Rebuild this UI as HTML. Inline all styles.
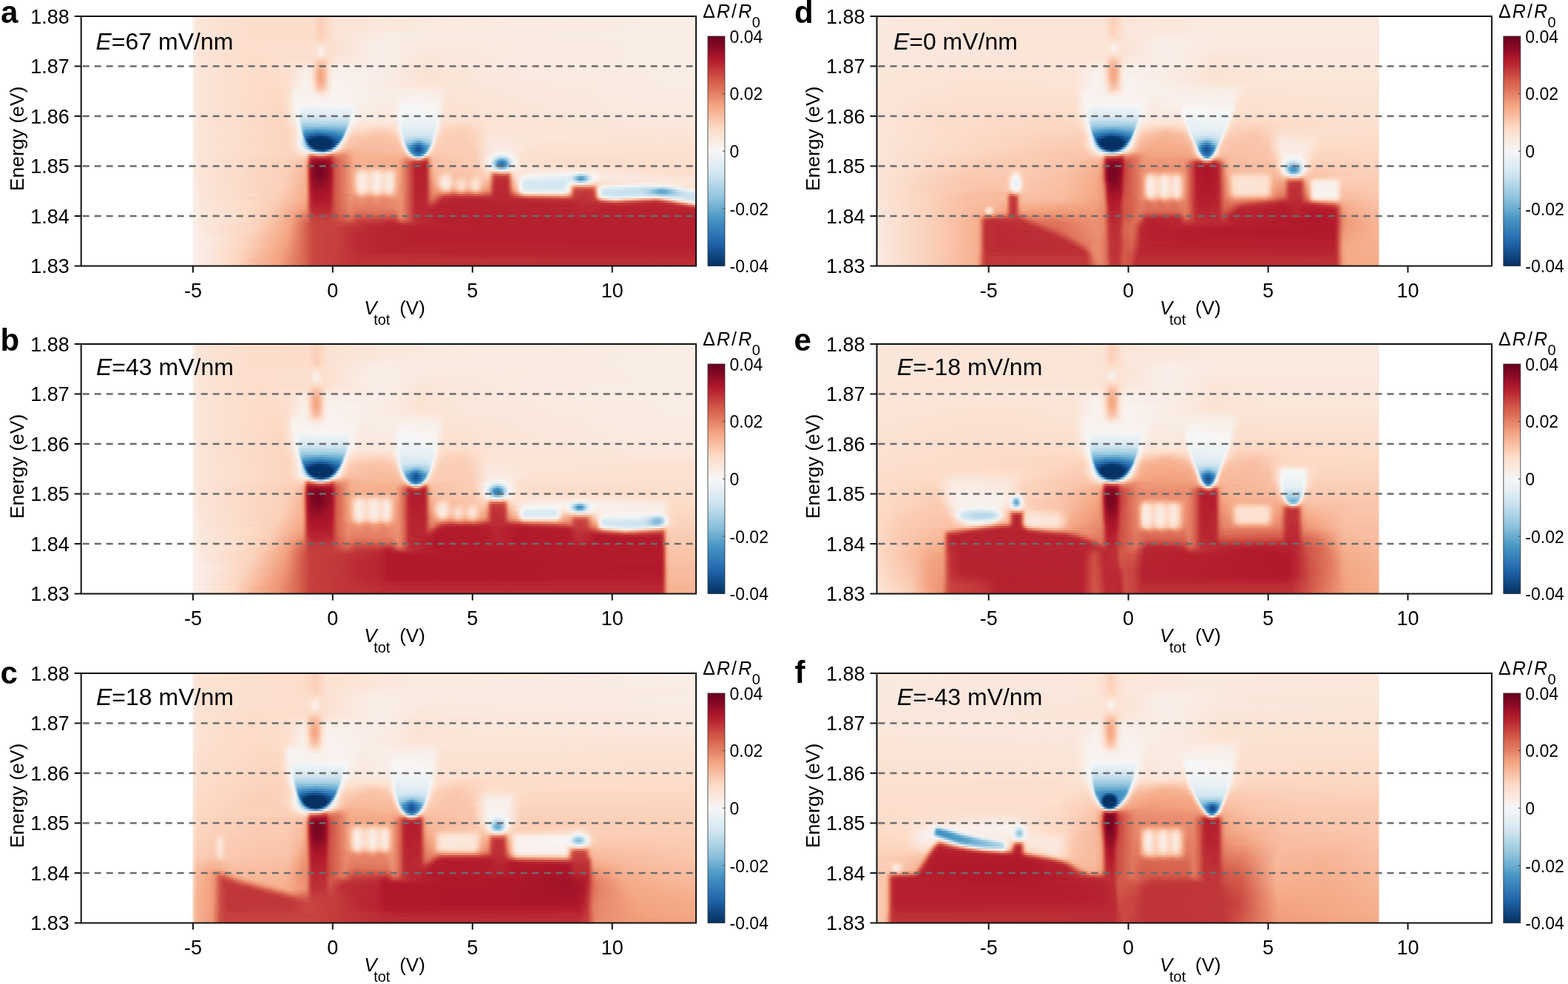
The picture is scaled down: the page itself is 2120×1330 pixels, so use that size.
<!DOCTYPE html>
<html><head><meta charset="utf-8"><title>Figure</title>
<style>
html,body{margin:0;padding:0;background:#fff;}
body{width:2120px;height:1330px;position:relative;overflow:hidden;font-family:'Liberation Sans', Arial, Helvetica, sans-serif;}
.hm{position:absolute;overflow:hidden;}
.hm div{position:absolute;left:0;width:100%;}
svg{position:absolute;left:0;top:0;}
svg text{font-family:'Liberation Sans', Arial, Helvetica, sans-serif;fill:#000;}
</style></head><body>
<div class="hm" style="left:110px;top:22px;width:831px;height:338px">
<div style="top:0px;height:12px;background:linear-gradient(90deg,#fff 0px,#fff 150px,#f9efe9 151px,#fbe5d8 157px,#fcdecd 221px,#fdddcb 313px,#fbceb7 323px,#fdd9c4 332px,#fbe4d6 343px,#fae9df 479px,#f9ede5 831px)"></div>
<div style="top:12px;height:9px;background:linear-gradient(90deg,#fff 0px,#fff 150px,#f9efe9 151px,#fbe5d8 157px,#fcdecd 221px,#fdddcb 313px,#fbceb7 323px,#fdd9c4 332px,#fbe4d6 343px,#fae9df 451px,#f9ede5 831px)"></div>
<div style="top:21px;height:9px;background:linear-gradient(90deg,#fff 0px,#fff 150px,#f9efe9 151px,#fbe5d8 157px,#fcdecd 221px,#fdddcb 313px,#fbcfb8 324px,#fbe4d6 343px,#f9ece4 415px,#f9ebe3 533px,#f9ede5 831px)"></div>
<div style="top:30px;height:3px;background:linear-gradient(90deg,#fff 0px,#fff 150px,#f9efe9 151px,#fbe5d8 157px,#fcdecd 221px,#fdddcb 313px,#fcd5c0 325px,#fcdfcf 335px,#f9eee7 400px,#fae9df 486px,#f9ede5 831px)"></div>
<div style="top:33px;height:3px;background:linear-gradient(90deg,#fff 0px,#fff 150px,#f9efe9 151px,#fbe5d8 157px,#fcdecd 221px,#fdddca 314px,#fdddcb 333px,#fbe4d6 348px,#f9eee8 402px,#fae9df 471px,#f9ede5 831px)"></div>
<div style="top:36px;height:3px;background:linear-gradient(90deg,#fff 0px,#fff 150px,#f9efe9 151px,#fbe5d8 157px,#fcdecd 221px,#fce0cf 320px,#fcdecd 328px,#fce0d0 336px,#f9efe9 402px,#fae9df 459px,#f9ede5 831px)"></div>
<div style="top:39px;height:3px;background:linear-gradient(90deg,#fff 0px,#fff 150px,#f9efe9 151px,#fbe5d8 157px,#fcdecd 221px,#fce0cf 317px,#fae9df 324px,#fcdecd 333px,#fbe6da 362px,#f9efe9 400px,#fae9df 465px,#f9ede5 819px,#f9ede5 831px)"></div>
<div style="top:42px;height:3px;background:linear-gradient(90deg,#fff 0px,#fff 150px,#f9efe9 151px,#fbe5d8 157px,#fcdecd 221px,#fce0d0 316px,#f9efea 324px,#fcdfcf 333px,#f9efe9 400px,#fae8de 471px,#f9ede5 740px,#f9ede5 831px)"></div>
<div style="top:45px;height:6px;background:linear-gradient(90deg,#fff 0px,#fff 150px,#f9efe9 151px,#fbe5d8 157px,#fcdecc 223px,#fce1d2 316px,#f8f1ed 323px,#fbe5d9 329px,#fcdfcf 335px,#f9efe9 399px,#fae8de 465px,#f9ede5 831px)"></div>
<div style="top:51px;height:3px;background:linear-gradient(90deg,#fff 0px,#fff 150px,#f9efe9 151px,#fbe5d8 157px,#fdddcb 232px,#fce0d0 317px,#faeae1 324px,#fcdecd 333px,#fbe6da 356px,#f9efe9 405px,#fae7dc 460px,#f9ede5 797px,#f9ede5 831px)"></div>
<div style="top:54px;height:3px;background:linear-gradient(90deg,#fff 0px,#fff 150px,#f9efe9 151px,#fbe5d8 157px,#fdddcb 232px,#fcdecd 313px,#fcdfcf 327px,#fcdecd 334px,#fbe6da 351px,#f9efe9 409px,#fbe6da 461px,#f9ebe3 635px,#f9ede5 831px)"></div>
<div style="top:57px;height:3px;background:linear-gradient(90deg,#fff 0px,#fff 150px,#f9efe9 151px,#fbe5d8 157px,#fdddcb 232px,#fce2d2 302px,#fdddca 314px,#fcd7c2 326px,#fddcca 333px,#fbe6da 344px,#f9efe9 410px,#fbe6d9 464px,#f9ebe3 613px,#f9ede5 831px)"></div>
<div style="top:60px;height:3px;background:linear-gradient(90deg,#fff 0px,#fff 150px,#f9efe9 151px,#fbe5d8 157px,#fdddcb 232px,#fce1d1 289px,#fce1d2 311px,#facab1 322px,#fbceb7 329px,#fbe6d9 339px,#f9efe9 410px,#fbe5d7 464px,#faeae1 589px,#f9ede5 831px)"></div>
<div style="top:63px;height:3px;background:linear-gradient(90deg,#fff 0px,#fff 150px,#f9efe9 151px,#fbe5d8 157px,#fddcc9 243px,#fce1d2 287px,#fbe5d9 309px,#fdd9c4 315px,#f9c1a6 321px,#f9c2a7 327px,#fbe5d9 337px,#f9ebe3 360px,#f9ede5 419px,#fbe4d6 463px,#faeae1 583px,#f9ede5 831px)"></div>
<div style="top:66px;height:3px;background:linear-gradient(90deg,#fff 0px,#fff 150px,#f9efe9 151px,#fbe5d8 157px,#fddcc9 243px,#fce1d1 284px,#fae8de 308px,#fddcca 314px,#f7b99c 321px,#f8bb9e 327px,#fbe5d7 336px,#f9ece4 345px,#f9ede5 419px,#fbe3d5 463px,#fae7dc 495px,#f9ede5 831px)"></div>
<div style="top:69px;height:3px;background:linear-gradient(90deg,#fff 0px,#fff 150px,#f9efe9 151px,#fbe5d8 157px,#fddcc9 243px,#fce0cf 281px,#f9ebe3 306px,#fce0d0 313px,#f6b394 321px,#f6b394 326px,#fbcdb5 331px,#fbe6d9 336px,#f9eee8 343px,#f9ede5 419px,#fbe3d4 463px,#fae7dc 498px,#f9ede5 831px)"></div>
<div style="top:72px;height:3px;background:linear-gradient(90deg,#fff 0px,#fff 150px,#f9efe9 151px,#fbe5d8 157px,#fddcc9 243px,#fcdfcf 280px,#f9eee8 304px,#fae7dc 311px,#fcd7c2 315px,#f6b293 320px,#f5ab8a 325px,#f9c3a8 330px,#fbe3d5 335px,#f9efea 342px,#f9ebe3 422px,#fbe3d4 463px,#faeae1 585px,#f9ede5 831px)"></div>
<div style="top:75px;height:9px;background:linear-gradient(90deg,#fff 0px,#fff 150px,#f9efe9 151px,#fbe5d8 157px,#fddbc8 249px,#fce0d0 281px,#f8f1ec 304px,#fae9df 311px,#fcd5bf 315px,#f5ad8d 320px,#f4a582 324px,#f6b293 328px,#fce0cf 334px,#f9efea 339px,#f8f0ec 369px,#f9ebe3 422px,#fbe3d4 463px,#fae9e0 589px,#f9ede5 831px)"></div>
<div style="top:84px;height:3px;background:linear-gradient(90deg,#fff 0px,#fff 150px,#f9efe9 151px,#fbe5d8 157px,#fddbc7 250px,#fcdfcf 279px,#f8f2ef 303px,#f9ede6 310px,#fcd7c2 315px,#f6af8f 320px,#f4a784 324px,#f6b394 328px,#fce1d1 334px,#f9f0eb 339px,#f8f3f0 362px,#f9efe9 405px,#fbe3d4 462px,#fae9df 592px,#f9ede5 831px)"></div>
<div style="top:87px;height:3px;background:linear-gradient(90deg,#fff 0px,#fff 150px,#f9efe9 151px,#fbe5d8 157px,#fddbc7 250px,#fcdfcf 280px,#f8f2ef 302px,#f9eee7 310px,#fddac5 315px,#f6b394 320px,#f5aa89 324px,#f8bda1 329px,#fbe6da 335px,#f8f2ef 341px,#f9f0eb 373px,#faeae1 424px,#fbe3d4 463px,#fae9df 585px,#f9ede5 831px)"></div>
<div style="top:90px;height:3px;background:linear-gradient(90deg,#fff 0px,#fff 150px,#f9efe9 151px,#fbe5d8 157px,#fddbc7 250px,#fcdecd 278px,#f8f2ef 302px,#f9eee8 310px,#fddcc8 315px,#f7b89b 320px,#f6b191 324px,#f8bb9e 328px,#fbe3d4 334px,#f8f2ef 340px,#f9f0eb 373px,#faeae0 424px,#fbe4d6 464px,#f9ede5 797px,#f9ede5 831px)"></div>
<div style="top:93px;height:3px;background:linear-gradient(90deg,#fff 0px,#fff 150px,#f9efe9 151px,#fbe5d8 157px,#fddbc7 250px,#fcdfcd 279px,#f8f2ef 301px,#f9efe9 310px,#fdd9c4 316px,#f8bb9e 321px,#f7b99c 326px,#faebe3 336px,#f8f3f0 343px,#f9efe9 377px,#faeae1 423px,#fbe5d9 464px,#f9ece4 831px)"></div>
<div style="top:96px;height:3px;background:linear-gradient(90deg,#fff 0px,#fff 150px,#f9efe9 151px,#fbe5d8 157px,#fddbc7 250px,#fcdecd 278px,#f8f1ec 295px,#f8f1ed 309px,#fdddcb 316px,#f9c3a8 321px,#f9c2a7 326px,#f9eee8 337px,#f8f3f0 347px,#f9efe9 377px,#fae9df 468px,#fbe6da 517px,#f9ebe3 831px)"></div>
<div style="top:99px;height:3px;background:linear-gradient(90deg,#fff 0px,#fff 150px,#f9efe9 151px,#fbe5d8 157px,#fdd9c4 265px,#fce2d2 281px,#f8f1ec 289px,#f8f0eb 310px,#fbceb6 322px,#fbd1ba 327px,#f8f1ed 338px,#f8f1ed 374px,#f9eee7 408px,#f9ede6 431px,#faeae1 485px,#fbe4d7 496px,#f9ebe3 759px,#f9ebe3 831px)"></div>
<div style="top:102px;height:3px;background:linear-gradient(90deg,#fff 0px,#fff 150px,#f9efe9 151px,#fbe5d8 157px,#fdd9c4 265px,#fce0d0 280px,#f8f2ef 289px,#f8f0eb 311px,#fcdbc8 323px,#fae8de 332px,#f8f3f0 341px,#f9f0eb 376px,#f9ece4 425px,#f9ece4 485px,#fbe4d6 495px,#f9ebe3 724px,#f9ebe3 831px)"></div>
<div style="top:105px;height:3px;background:linear-gradient(90deg,#fff 0px,#fff 150px,#f9efe9 151px,#fbe5d8 157px,#fdd9c4 265px,#fce0d0 280px,#f8f3f0 289px,#f9f0eb 313px,#fbe6d9 325px,#f8f3f0 341px,#f9f0eb 376px,#f9ede5 425px,#f9f0eb 477px,#fae9df 487px,#fbe4d6 497px,#f9ebe3 803px,#f9ebe3 831px)"></div>
<div style="top:108px;height:3px;background:linear-gradient(90deg,#fff 0px,#fff 150px,#f9efe9 151px,#fbe5d8 157px,#fdd9c4 265px,#fce0d0 280px,#f8f3f0 289px,#f9f0eb 316px,#f9eee7 328px,#f8f3f0 349px,#f9f0eb 375px,#f9ede5 424px,#f8f1ed 447px,#f9eee7 485px,#fbe4d6 493px,#faebe2 814px,#faebe2 831px)"></div>
<div style="top:111px;height:6px;background:linear-gradient(90deg,#fff 0px,#fff 150px,#f9efe9 151px,#fbe5d8 157px,#fdd8c3 268px,#fce2d2 281px,#f8f3f0 289px,#f8f3f0 334px,#f8f1ed 374px,#f9ede5 391px,#f9ebe3 423px,#f8f2ef 434px,#f9f0eb 484px,#fbe3d4 493px,#faeae1 722px,#faeae1 831px)"></div>
<div style="top:117px;height:3px;background:linear-gradient(90deg,#fff 0px,#fff 150px,#f9efe9 151px,#fbe5d8 157px,#fcd7c2 270px,#fce2d2 281px,#f8f3f0 289px,#f8f3f0 370px,#f9ede5 384px,#f9ebe3 423px,#f7f5f4 433px,#f8f4f1 482px,#fbe2d4 493px,#fae7dc 611px,#faeae1 831px)"></div>
<div style="top:120px;height:3px;background:linear-gradient(90deg,#fff 0px,#fff 150px,#f9efe9 151px,#fbe5d8 157px,#fcd7c2 271px,#fbe4d6 282px,#f8f3f0 289px,#f1f4f6 317px,#f5f6f7 366px,#f9ede5 382px,#faebe3 423px,#f7f6f6 433px,#f8f4f2 482px,#fce2d2 493px,#faeae1 717px,#faeae1 831px)"></div>
<div style="top:123px;height:3px;background:linear-gradient(90deg,#fff 0px,#fff 150px,#f9efe9 151px,#fbe5d8 157px,#fcd7c2 272px,#fbe3d5 282px,#f8f2ef 289px,#f2f5f6 295px,#ecf2f5 307px,#f0f4f6 365px,#f9efea 374px,#faeae1 423px,#f6f7f7 432px,#f8f4f2 482px,#fce2d2 492px,#fae9df 710px,#fae9df 831px)"></div>
<div style="top:126px;height:3px;background:linear-gradient(90deg,#fff 0px,#fff 150px,#f9efe9 151px,#fbe5d8 157px,#fcd7c2 272px,#fbe2d4 282px,#f8f3f0 290px,#f4f5f6 294px,#e6eff4 298px,#e9f0f4 364px,#f8f4f2 368px,#f9ebe3 383px,#fae9df 417px,#f9ede5 425px,#f4f6f6 432px,#f8f5f3 482px,#fce2d2 491px,#fae9df 725px,#fae9df 831px)"></div>
<div style="top:129px;height:3px;background:linear-gradient(90deg,#fff 0px,#fff 150px,#f9efe9 151px,#fbe5d8 157px,#fcd7c2 273px,#fbe4d6 283px,#f8f3f0 290px,#f2f5f6 294px,#e1edf3 298px,#e6eff4 364px,#f8f4f2 368px,#f9ebe3 383px,#fae8de 419px,#f9f0eb 427px,#f3f5f6 431px,#f6f6f7 481px,#fce2d2 491px,#fae9df 735px,#fae9df 831px)"></div>
<div style="top:132px;height:3px;background:linear-gradient(90deg,#fff 0px,#fff 150px,#f9efe9 151px,#fbe5d8 157px,#fcd7c2 273px,#fbe3d4 283px,#f8f3f0 291px,#f0f4f6 294px,#dceaf2 297px,#dfecf3 363px,#f8f5f3 367px,#f9ebe3 381px,#fae8dd 418px,#f9ebe3 425px,#f2f5f6 431px,#f5f6f7 481px,#fce0d0 491px,#fbe6da 595px,#fae9df 831px)"></div>
<div style="top:135px;height:3px;background:linear-gradient(90deg,#fff 0px,#fff 150px,#f9efe9 151px,#fbe5d8 157px,#fcd7c2 272px,#fce2d2 283px,#f6f7f7 293px,#d5e7f1 297px,#d7e8f1 362px,#f7f6f6 366px,#faeae1 379px,#fae9df 424px,#f2f5f6 431px,#f2f5f6 480px,#fce0d0 491px,#fae9de 701px,#fae9de 831px)"></div>
<div style="top:138px;height:3px;background:linear-gradient(90deg,#fff 0px,#fff 150px,#f9efe9 151px,#fbe5d8 157px,#fcd7c2 272px,#fbe2d4 284px,#f7f7f7 293px,#c9e1ee 298px,#cce2ef 361px,#f5f6f7 365px,#faeae0 377px,#fae8dd 424px,#f2f5f6 431px,#ebf1f5 444px,#eef3f5 479px,#f8f3f0 482px,#fce0cf 490px,#fce1d2 527px,#fbe5d8 595px,#fae8de 831px)"></div>
<div style="top:141px;height:3px;background:linear-gradient(90deg,#fff 0px,#fff 150px,#f9efe9 151px,#fbe5d8 157px,#fcd5c0 272px,#fbe3d4 285px,#f3f5f6 294px,#bddbea 298px,#bbdaea 359px,#c8e0ed 361px,#f2f5f6 364px,#fae8de 376px,#fae7db 424px,#f0f4f6 431px,#e9f1f4 440px,#ecf2f5 479px,#f6f7f7 481px,#fce0cf 489px,#fcdecc 522px,#fbe5d8 562px,#fae8dd 831px)"></div>
<div style="top:144px;height:3px;background:linear-gradient(90deg,#fff 0px,#fff 150px,#f9efe9 151px,#fbe5d8 157px,#fcd5c0 273px,#fce0d0 285px,#f4f5f6 294px,#b2d5e7 298px,#a9d1e5 304px,#afd4e6 359px,#b8d8e9 360px,#eef3f5 363px,#f8f2ef 365px,#fbe6da 375px,#fbe5d7 424px,#f2f5f6 431px,#e7eff4 436px,#e9f0f4 478px,#f7f5f4 481px,#fce0cf 488px,#fdd9c4 514px,#fbe4d6 554px,#fae7dc 831px)"></div>
<div style="top:147px;height:3px;background:linear-gradient(90deg,#fff 0px,#fff 150px,#f9efe9 151px,#fbe5d8 157px,#fcd6c1 275px,#fce2d2 287px,#f7f6f6 294px,#dceaf2 296px,#aad1e5 298px,#98c8e0 300px,#93c5de 334px,#9ecbe1 358px,#a9d1e5 359px,#ecf2f5 362px,#f8f1ec 364px,#fbe3d4 373px,#fcdfcf 421px,#fae8de 427px,#f5f6f7 431px,#e5eff4 435px,#e8f0f4 478px,#f5f6f7 480px,#fcdecb 488px,#fcd5bf 514px,#fbe4d6 553px,#fae7dc 831px)"></div>
<div style="top:150px;height:3px;background:linear-gradient(90deg,#fff 0px,#fff 150px,#f9efe9 151px,#fbe5d8 157px,#fcd5c0 276px,#fcdfce 287px,#f4f6f6 295px,#d0e4ef 297px,#acd2e5 298px,#83bcd9 300px,#77b4d5 307px,#6fafd2 327px,#84bcd9 356px,#99c9e0 358px,#eaf1f5 361px,#f7f5f4 362px,#fbe2d4 368px,#fcd7c2 408px,#fce0d0 425px,#f8f1ed 430px,#f7f7f7 431px,#e1edf3 435px,#e3eef3 477px,#f7f7f7 480px,#fcdfcf 486px,#fcd4be 496px,#fcd5c0 524px,#fbe4d6 551px,#fbe6da 831px)"></div>
<div style="top:153px;height:3px;background:linear-gradient(90deg,#fff 0px,#fff 150px,#f9efe9 151px,#fbe5d8 157px,#fcd5c0 278px,#fce0d0 289px,#f7f6f5 295px,#dae9f2 297px,#71b0d3 300px,#5ea4cc 302px,#4795c4 320px,#569fc9 337px,#6daed1 355px,#76b3d4 356px,#8bc1dc 357px,#d0e5ef 359px,#e9f1f4 360px,#f7f4f2 361px,#fbe4d6 365px,#fddac6 372px,#fbcfb8 408px,#fddcc9 425px,#f9ede6 430px,#f2f5f6 432px,#deebf2 435px,#e1edf3 477px,#f8f4f1 480px,#fcdecd 485px,#fbd2bb 494px,#fbd2bb 524px,#fbe3d4 548px,#fbe6da 831px)"></div>
<div style="top:156px;height:3px;background:linear-gradient(90deg,#fff 0px,#fff 150px,#f9efe9 151px,#fbe5d8 157px,#fcd5bf 279px,#fce1d2 290px,#f3f5f6 296px,#e5eff4 297px,#cee3ef 298px,#71b0d3 300px,#509bc8 301px,#4391c2 302px,#2f78b5 319px,#3885bc 335px,#4f9bc7 353px,#64a8ce 355px,#d7e8f1 358px,#eff3f5 359px,#faebe2 361px,#fdd8c3 367px,#fac8af 402px,#fcd3bc 424px,#fae9de 430px,#f6f6f5 432px,#dbeaf2 435px,#dbeaf2 476px,#f6f6f6 479px,#fce2d2 483px,#fbd2bb 490px,#fbceb7 521px,#fbe4d6 551px,#fbe5d9 831px)"></div>
<div style="top:159px;height:3px;background:linear-gradient(90deg,#fff 0px,#fff 150px,#f9efe9 151px,#fbe5d8 157px,#fcd5bf 280px,#fbe3d4 291px,#f4f6f6 296px,#dbeaf2 298px,#b9d9e9 299px,#4e9ac7 301px,#3985bc 302px,#2b73b2 305px,#195696 320px,#2062a5 331px,#3a87bd 350px,#4190c1 353px,#5aa1cb 354px,#bcdaea 356px,#e1edf3 357px,#f5f4f3 358px,#fcdfcf 362px,#fbceb7 368px,#f9c4aa 409px,#fbceb7 425px,#fae9df 431px,#f3f5f6 433px,#d6e7f1 436px,#d3e6f0 472px,#dbeaf2 476px,#f2f5f6 478px,#fce1d2 482px,#fbd1ba 488px,#fbcdb5 521px,#fbe5d8 552px,#fbe5d8 831px)"></div>
<div style="top:162px;height:3px;background:linear-gradient(90deg,#fff 0px,#fff 150px,#f9efe9 151px,#fbe5d8 157px,#fcd5bf 279px,#fbe4d6 291px,#f3f5f6 296px,#cfe4ef 299px,#aad1e5 300px,#408ec0 302px,#2c74b3 303px,#1c5da0 305px,#0a396e 316px,#0a396e 327px,#2469ad 343px,#317bb7 351px,#3a87bd 352px,#579fca 353px,#c9e1ed 355px,#eaf1f5 356px,#f8f2ef 357px,#fcdfcf 360px,#facbb2 366px,#f9c2a7 406px,#fac9b0 425px,#fddac6 429px,#fae9df 432px,#edf2f5 434px,#cde3ef 437px,#bedbeb 458px,#cde3ef 474px,#edf2f5 477px,#faebe3 479px,#fcd6c1 484px,#fbccb4 494px,#fbd0b9 529px,#fbe6d9 551px,#fbe5d8 594px,#fbe4d7 831px)"></div>
<div style="top:165px;height:3px;background:linear-gradient(90deg,#fff 0px,#fff 150px,#f9efe9 151px,#fbe5d8 157px,#fcd5bf 278px,#fbe3d5 290px,#f1f4f6 296px,#d4e6f1 299px,#bddbea 300px,#9ccae1 301px,#3985bc 303px,#2368ac 304px,#175290 305px,#0d3f76 307px,#053162 312px,#073466 333px,#266caf 349px,#307ab6 350px,#4791c2 351px,#76b3d4 352px,#b1d4e7 353px,#dbeaf2 354px,#f2f2f3 355px,#fdddca 359px,#fac9b0 364px,#f9c0a5 397px,#fac7ad 426px,#fdd8c3 430px,#faebe3 433px,#f6f4f3 434px,#bedbeb 438px,#9dcbe1 456px,#bedbeb 473px,#f6f5f4 477px,#fce1d1 480px,#fbd0b9 485px,#facbb3 511px,#fcd3bc 531px,#fae7dc 553px,#fbe5d8 594px,#fbe4d6 831px)"></div>
<div style="top:168px;height:3px;background:linear-gradient(90deg,#fff 0px,#fff 150px,#f9efe9 151px,#fbe5d8 157px,#fcd5bf 278px,#fbe5d7 290px,#f7f6f6 295px,#d4e6f1 299px,#add3e6 301px,#8fc3dd 302px,#3985bc 304px,#2368aa 305px,#0b3b71 307px,#053162 308px,#063264 336px,#1a599a 346px,#2a72b2 348px,#428cc0 349px,#73b1d3 350px,#b1d5e7 351px,#dbe9f1 352px,#f0f2f4 353px,#fbe2d4 356px,#fac9b0 362px,#f8bfa3 385px,#f9c3a8 426px,#fbd0b9 430px,#f9ebe3 434px,#f5f5f4 435px,#b8d8e9 438px,#a9d1e5 440px,#96c7df 447px,#6daed1 454px,#70b0d3 458px,#a2cde3 467px,#aed3e6 472px,#b8d8e9 473px,#f4f5f5 476px,#fce0d0 479px,#fbceb6 485px,#fbccb4 525px,#fae9de 554px,#fae7dc 589px,#fbe3d4 624px,#fbe3d5 831px)"></div>
<div style="top:171px;height:3px;background:linear-gradient(90deg,#fff 0px,#fff 150px,#f9efe9 151px,#fbe5d8 157px,#fcd5bf 278px,#fbe5d8 290px,#f2f5f6 296px,#cae2ee 300px,#8bc0dc 303px,#428fc1 305px,#2b73b2 306px,#0d4077 308px,#063264 309px,#053162 337px,#124983 343px,#2063a4 345px,#307ab6 346px,#5198c6 347px,#b8d8e8 349px,#dbe9f1 350px,#eff2f3 351px,#fbe4d6 354px,#fac9b0 360px,#f8bda1 378px,#f9c1a6 427px,#fbceb6 431px,#faebe2 435px,#f3f3f3 436px,#a5cee3 439px,#8cc1dc 441px,#69abd0 447px,#408dc0 452px,#3885bc 457px,#569fc9 462px,#7fb9d7 467px,#95c6df 471px,#a5cee3 472px,#ddebf2 474px,#f2f4f5 475px,#fcdfcf 478px,#fbceb7 483px,#facbb3 517px,#fcd3bd 533px,#fae9df 553px,#fae7dc 589px,#fbe3d4 621px,#fbe3d4 831px)"></div>
<div style="top:174px;height:3px;background:linear-gradient(90deg,#fff 0px,#fff 150px,#f9efe9 151px,#fbe5d8 157px,#fcd5bf 279px,#fbe6d9 291px,#f0f4f6 297px,#cce3ef 301px,#95c6df 304px,#438ec1 307px,#2e77b4 308px,#08366a 311px,#053061 313px,#053162 337px,#124983 341px,#286eab 343px,#458cc0 344px,#a6cee3 346px,#cde3ee 347px,#e6eff4 348px,#f8f0eb 350px,#fbd0b9 356px,#f9c1a6 363px,#f8bb9e 418px,#f9c2a7 430px,#fcd9c4 434px,#f6f2f0 437px,#e2edf3 438px,#77b4d5 441px,#5da3cc 443px,#2469ac 453px,#2165a8 457px,#4f9bc7 466px,#65a9cf 469px,#76b3d4 470px,#e0ecf3 473px,#f5f3f1 474px,#fcdecc 477px,#fbcdb5 482px,#fbceb6 527px,#faeae1 555px,#fae8de 587px,#fbe2d4 614px,#fbe3d4 831px)"></div>
<div style="top:177px;height:3px;background:linear-gradient(90deg,#fff 0px,#fff 150px,#f9efe9 151px,#fbe5d8 157px,#fcd5bf 280px,#fbe5d8 292px,#f4f5f6 298px,#cee3ef 303px,#8dc1dc 307px,#4790c2 310px,#2366a3 312px,#09386d 315px,#053061 318px,#073467 334px,#114882 337px,#2569a5 339px,#5c9dc9 341px,#cbe2ee 344px,#e4eef4 345px,#faebe2 348px,#facab1 354px,#f8bb9e 362px,#f8bea2 430px,#fbccb4 434px,#fbe3d5 437px,#f9eee8 438px,#ebf1f4 439px,#c9e1ed 440px,#6daed1 442px,#549dc9 443px,#4494c3 444px,#2267ac 451px,#175290 455px,#1a599a 458px,#276eb0 461px,#4494c3 467px,#549dc9 468px,#6daed1 469px,#c7e0ed 471px,#eaf1f5 472px,#f8f0ec 473px,#fce0d0 475px,#fbceb6 480px,#fbceb6 528px,#faeae1 555px,#fae9df 585px,#fce2d2 612px,#fce2d2 831px)"></div>
<div style="top:180px;height:3px;background:linear-gradient(90deg,#fff 0px,#fff 150px,#f9efe9 151px,#fbe5d8 157px,#fcd5bf 282px,#fbe6da 295px,#f0f3f5 302px,#c5dfec 309px,#98c6df 312px,#488abc 316px,#23649d 319px,#114781 326px,#19538d 329px,#3879ae 333px,#5696c5 335px,#d5e6ef 340px,#f1eeed 342px,#fbd5c1 347px,#f7b89b 353px,#f6b293 361px,#f7b89b 381px,#f8bda1 432px,#fbceb7 436px,#fae7dc 439px,#f4f1ef 440px,#dceaf2 441px,#84bbd9 443px,#5fa5cd 444px,#4795c4 445px,#1e5fa3 452px,#175290 455px,#1a599a 458px,#276eb0 461px,#4795c4 466px,#5fa5cd 467px,#dae9f1 470px,#f3f2f1 471px,#fdddcb 474px,#facbb3 479px,#fbcdb5 529px,#f9ece4 557px,#f9ede5 579px,#fce1d1 607px,#fce2d2 831px)"></div>
<div style="top:183px;height:3px;background:linear-gradient(90deg,#fff 0px,#fff 150px,#f9efe9 151px,#fbe5d8 157px,#fcd4be 285px,#fae7dc 299px,#f9eee8 304px,#f9e0d2 310px,#e4e7e9 316px,#a8cde2 326px,#bed8e7 329px,#ede5e0 334px,#f9cdb7 339px,#f3a483 350px,#f2a17f 359px,#f7b799 372px,#f8bb9e 434px,#fbccb4 438px,#fae8de 441px,#f3efed 442px,#e0ecf2 443px,#69abd0 446px,#4a96c5 447px,#337eb8 449px,#1e61a4 455px,#2970b1 460px,#3b88be 463px,#4a96c5 464px,#69abd0 465px,#dfecf2 468px,#f2f0ef 469px,#fcd7c2 473px,#fac9b0 478px,#fbceb7 532px,#f7f4f3 563px,#f8f1ed 578px,#fce0d0 601px,#fce0d0 831px)"></div>
<div style="top:186px;height:3px;background:linear-gradient(90deg,#fff 0px,#fff 150px,#f9efe9 151px,#fbe5d8 157px,#fcd3bd 289px,#fcdfcf 303px,#fcd6c1 305px,#ee9a7b 309px,#e88a6e 311px,#f4b49a 322px,#f4b49a 327px,#e17860 337px,#e98c6f 344px,#e98b6e 355px,#f4a785 364px,#f7b596 372px,#f7b596 437px,#facbb3 441px,#f9ebe3 444px,#eee 445px,#d8e8f0 446px,#70afd2 449px,#4a93c3 451px,#337db8 454px,#337db8 457px,#4a93c3 460px,#70afd2 462px,#d9e8f0 465px,#eeeded 466px,#fbe1d2 468px,#fbceb7 471px,#fac8af 481px,#fbceb6 532px,#f4f5f6 559px,#e4eef3 569px,#f8f3f0 581px,#fce0d0 597px,#fce0d0 831px)"></div>
<div style="top:189px;height:3px;background:linear-gradient(90deg,#fff 0px,#fff 150px,#f9efe9 151px,#fbe5d8 157px,#fbd1ba 294px,#fcd3bc 302px,#f8bda1 305px,#ed9576 307px,#d76351 309px,#ca4841 311px,#c94641 315px,#cb4b44 327px,#c3393b 336px,#d25849 340px,#dd7059 344px,#e8896d 358px,#f6af8f 368px,#f7b495 396px,#f6b191 430px,#f2a382 439px,#f6b395 443px,#f6e3d8 448px,#dae3e7 451px,#b0d2e5 455px,#b9d7e7 457px,#e8e6e5 461px,#f9d0bc 464px,#f5b599 466px,#f3aa8b 468px,#f9c4aa 477px,#fbcdb5 533px,#f9ebe3 550px,#f1f4f6 556px,#bfdceb 567px,#c4dfec 572px,#f7f5f4 583px,#fce2d2 594px,#fcdfce 648px,#fcdfcf 831px)"></div>
<div style="top:192px;height:3px;background:linear-gradient(90deg,#fff 0px,#fff 150px,#f9efe9 151px,#fbe5d8 157px,#fbccb4 299px,#f9c2a7 303px,#f5ac8b 305px,#e27c62 307px,#c84440 309px,#b72330 311px,#ae192c 318px,#b21b2d 336px,#cd4d44 341px,#d86551 345px,#ea8e70 360px,#f5ac8b 367px,#f6b394 381px,#f6af8e 429px,#e68469 441px,#eb9377 449px,#f3b298 455px,#f1a98e 458px,#d86654 464px,#d45c4d 466px,#db6c56 468px,#f5aa89 472px,#f9c0a5 476px,#f9c6ac 492px,#fbcdb5 534px,#fbe6da 547px,#f5f6f6 553px,#cae2ee 559px,#78b5d5 566px,#73b1d3 570px,#97c7df 574px,#dceaf2 580px,#f8f5f3 585px,#fce2d2 594px,#fdddcb 620px,#fcdfcf 831px)"></div>
<div style="top:195px;height:3px;background:linear-gradient(90deg,#fff 0px,#fff 150px,#f9efe9 151px,#fbe5d8 157px,#fbceb6 286px,#f9c3a8 301px,#f8bb9e 303px,#f3a481 305px,#cd4d44 308px,#b51d2d 310px,#9c1127 313px,#900d26 324px,#a01228 335px,#b51e2e 338px,#d15749 343px,#ea8e70 360px,#f5aa89 367px,#f6b191 380px,#f5ac8b 429px,#e37e64 438px,#ca4842 451px,#ca4842 458px,#be2f36 465px,#c53e3d 467px,#e17960 470px,#f5ab8a 473px,#f9c0a5 477px,#f9c6ac 503px,#fbcdb5 535px,#fae9df 548px,#f5f6f7 552px,#cce2ee 557px,#80bad8 561px,#4895c4 564px,#3783bb 567px,#3986bc 571px,#579fca 574px,#bbdaea 579px,#e0ecf3 582px,#f8f4f2 586px,#fce2d2 594px,#fdddcb 617px,#fcdfcd 831px)"></div>
<div style="top:198px;height:3px;background:linear-gradient(90deg,#fff 0px,#fff 150px,#f9efe9 151px,#fbe5d8 157px,#fbd0b9 280px,#f8bfa3 301px,#f5ac8b 304px,#e58267 306px,#c84540 308px,#ba2833 309px,#ae172a 310px,#900d26 313px,#800823 323px,#981027 335px,#b1182b 338px,#cf5347 343px,#e17860 354px,#f5ab8a 368px,#f6b191 384px,#f5ac8b 428px,#ec9374 434px,#bd2e35 450px,#b72330 465px,#c03539 467px,#de725b 470px,#f4a785 473px,#f8bb9e 476px,#f9c4a9 485px,#fbcdb5 536px,#fae9df 548px,#f4f6f6 552px,#d3e6f0 556px,#83bcd9 560px,#4e9ac7 562px,#3783bb 564px,#276fb0 568px,#307ab6 572px,#3f8dc0 574px,#67aacf 576px,#afd4e6 579px,#d3e6f0 581px,#f7f5f4 586px,#fbe3d4 594px,#fcdecb 619px,#fcdecd 831px)"></div>
<div style="top:201px;height:3px;background:linear-gradient(90deg,#fff 0px,#fff 150px,#f9efe9 151px,#fbe5d8 157px,#fbd0b9 279px,#f8bfa4 300px,#f6b394 303px,#ee9777 305px,#c6403e 308px,#b82531 309px,#a9152a 310px,#910d26 312px,#7a0622 321px,#820923 329px,#9b1127 336px,#b72230 339px,#cf5246 343px,#ee9677 362px,#f6af8e 370px,#f6b192 422px,#f3a481 431px,#c13739 448px,#b6202f 452px,#b51d2d 464px,#bf3338 467px,#dd7059 470px,#f4a683 473px,#f8bda0 477px,#f9c4aa 499px,#fbcdb5 537px,#f9eee7 550px,#f2f5f6 553px,#d1e5f0 557px,#83bbd9 561px,#579fca 563px,#3884bb 566px,#3480b9 570px,#4894c4 573px,#83bbd9 576px,#d1e5f0 580px,#f7f6f6 585px,#fbe6da 592px,#fcdfcf 613px,#fcdecb 831px)"></div>
<div style="top:204px;height:3px;background:linear-gradient(90deg,#fff 0px,#fff 150px,#f9efe9 151px,#fbe5d8 157px,#fbd0b9 278px,#f8bb9e 301px,#f4a784 304px,#e27b62 306px,#c53e3d 308px,#b72230 309px,#991027 311px,#800823 316px,#770522 325px,#991027 336px,#ae172a 338px,#cf5246 343px,#ee9677 362px,#f7b99c 374px,#f8bb9e 384px,#f8bb9e 405px,#f7b99c 420px,#f3a481 431px,#c84440 446px,#b61f2e 452px,#b61f2e 465px,#c7433f 468px,#ed9576 472px,#f6b394 475px,#f9c0a5 481px,#facab1 536px,#faeae0 550px,#eff3f5 556px,#c1ddeb 561px,#86bcd9 566px,#7cb6d6 569px,#9ac8e0 573px,#e0ecf3 579px,#f8f4f2 584px,#fbe6da 592px,#fdddcb 831px)"></div>
<div style="top:207px;height:3px;background:linear-gradient(90deg,#fff 0px,#fff 150px,#f9efe9 151px,#fbe5d8 157px,#fbd0b9 277px,#f8bc9f 300px,#f4a683 304px,#e27b62 306px,#c53e3d 308px,#b72230 309px,#991027 311px,#7f0823 316px,#730421 323px,#930e26 335px,#ae172a 338px,#cf5246 343px,#ee9677 362px,#fcd4bf 379px,#f9c6ac 390px,#fcd4bf 400px,#fac7ae 409px,#fbd1ba 417px,#f19e7d 432px,#c84440 446px,#b61f2e 452px,#b41c2d 464px,#bf3338 467px,#d15749 469px,#f2a17f 473px,#f7b89a 477px,#f9c6ac 494px,#fac7ad 532px,#fcd6c1 543px,#fbe5d8 552px,#fae7db 558px,#e7ecef 566px,#e8ecee 572px,#faebe3 581px,#fae7dc 605px,#fae8de 684px,#fce0d0 740px,#fdddcb 831px)"></div>
<div style="top:210px;height:3px;background:linear-gradient(90deg,#fff 0px,#fff 150px,#f9efe9 151px,#fbe5d8 157px,#fbd0b9 276px,#f7b89b 301px,#f3a481 304px,#e27b62 306px,#c53e3d 308px,#b72230 309px,#991027 311px,#800823 316px,#760521 324px,#940e26 335px,#af172a 338px,#cf5246 343px,#ef9979 363px,#f8bda1 370px,#fce0d0 377px,#fce0d0 382px,#fcd3bd 389px,#fcdcc9 395px,#fbe3d5 400px,#fcd5bf 408px,#fce1d2 417px,#fcd4be 421px,#f5ac8b 428px,#ee9677 433px,#c53e3d 447px,#b61f2e 452px,#b61f2e 464px,#bf3338 467px,#db6b55 470px,#f19d7c 473px,#f7b495 477px,#fbceb7 493px,#f9c0a5 507px,#facbb3 539px,#fddcc9 550px,#fbceb6 553px,#f3a889 557px,#f1a789 561px,#f6bba0 568px,#f4af91 577px,#f9c3a8 580px,#fcddcb 583px,#fbe5d8 588px,#f9ece4 617px,#f7f3f0 665px,#f0f2f3 679px,#fae7db 703px,#fcdecb 831px)"></div>
<div style="top:213px;height:3px;background:linear-gradient(90deg,#fff 0px,#fff 150px,#f9efe9 151px,#fbe5d8 157px,#fbd0b9 275px,#f7b799 301px,#f3a481 304px,#e27b62 306px,#c53e3d 308px,#a9152a 310px,#8c0c25 313px,#780522 322px,#8d0c25 333px,#a51429 337px,#b72230 339px,#cf5246 343px,#ef9979 363px,#f7b99c 369px,#fce0d0 375px,#faeae1 380px,#fddac6 389px,#fbe5d8 396px,#fae9df 401px,#fddcc9 408px,#fae8dd 417px,#fddcc9 421px,#f6b191 427px,#eb9172 434px,#c53e3d 447px,#b61f2e 452px,#b61f2e 464px,#bf3338 467px,#da6853 470px,#ef9a79 473px,#f6b192 477px,#fbceb7 487px,#fddbc7 492px,#fbd0b9 498px,#f8bfa4 505px,#fac7ad 529px,#fbd0b9 544px,#fcd3bc 550px,#f9c4a9 552px,#ec9273 555px,#d76350 558px,#d2594b 562px,#d6614f 571px,#d66250 576px,#df755d 578px,#f6af8f 581px,#fcd7c2 584px,#fce2d3 588px,#f9efe9 601px,#f0f4f6 661px,#d0e4ef 669px,#b8d9e9 674px,#bedbea 679px,#f5f5f5 690px,#fae9df 703px,#fcdfcf 831px)"></div>
<div style="top:216px;height:3px;background:linear-gradient(90deg,#fff 0px,#fff 150px,#f9efe9 151px,#fbe5d8 158px,#fbd0b9 274px,#f7b799 301px,#f3a481 304px,#e27b62 306px,#c6413e 308px,#b92631 309px,#ab162a 310px,#8e0d25 313px,#7b0622 323px,#970f27 335px,#b1182b 338px,#cf5246 343px,#ef9979 363px,#f6b394 368px,#fce0cf 374px,#f9ede6 379px,#fddcc9 390px,#f9ede6 400px,#fcdecc 408px,#faebe3 417px,#fddac5 422px,#f6b191 427px,#de735c 439px,#b61f2e 452px,#b72230 465px,#c6413e 468px,#e8896d 472px,#f5ab8a 476px,#fac8af 484px,#fcdfcf 489px,#fce2d2 495px,#f9c1a6 505px,#fac8af 516px,#f9c4aa 525px,#fbd1ba 534px,#facbb3 544px,#fac9b0 550px,#f5ab8a 553px,#d15749 557px,#c63f3d 559px,#c2383a 564px,#c43c3c 575px,#cc4c44 577px,#dc6e58 579px,#f6b192 582px,#fcd5c0 585px,#f7f4f3 597px,#e0ecf3 661px,#c9e1ee 665px,#68abd0 673px,#60a5cd 676px,#71b0d3 679px,#d5e7f1 687px,#f7f6f6 693px,#faeae1 702px,#fbe3d4 831px)"></div>
<div style="top:219px;height:3px;background:linear-gradient(90deg,#fff 0px,#fff 150px,#f9efe9 151px,#fbe5d8 159px,#fbd0b9 273px,#f7b596 301px,#f3a481 304px,#e27c62 306px,#ba2833 309px,#af172a 310px,#910d26 313px,#800823 323px,#9a1027 335px,#b3192c 338px,#cf5246 343px,#f2a17f 365px,#f9c2a7 370px,#fce1d2 374px,#f9eee8 379px,#fbe4d6 385px,#fdddcb 390px,#f9eee8 400px,#fcdecd 409px,#f9ece4 417px,#fce0d0 421px,#f6b191 427px,#de735c 439px,#b61f2e 452px,#b72230 465px,#be3036 467px,#e68569 472px,#f4a784 476px,#f9c1a6 482px,#fbe2d4 488px,#fae8dd 494px,#fdd8c3 500px,#f9c5ab 504px,#fbceb6 510px,#fbd1ba 516px,#f9c5ab 523px,#fddbc8 533px,#f9c6ac 544px,#f8bfa4 550px,#f2a17f 553px,#d6604d 556px,#c13739 559px,#bc2c35 564px,#be3137 575px,#ce5045 578px,#e27b62 580px,#f7b799 583px,#fdd8c3 587px,#f5f6f6 595px,#e5eef4 603px,#dbeaf2 656px,#dceaf2 662px,#c6e0ed 665px,#59a1ca 673px,#4e9ac7 676px,#62a7ce 679px,#d4e6f1 687px,#f8f5f3 693px,#fae8de 701px,#fbe5d8 831px)"></div>
<div style="top:222px;height:3px;background:linear-gradient(90deg,#fff 0px,#fff 150px,#f9efe9 151px,#fbe5d8 159px,#fbd0b9 272px,#f6b394 302px,#f3a481 304px,#e37e64 306px,#c94641 308px,#b1182b 310px,#950f26 313px,#850a24 324px,#a21328 336px,#b31a2c 338px,#cf5246 343px,#f09c7b 364px,#f6b191 368px,#fce2d2 374px,#f9efe9 379px,#fae7dc 384px,#fdddcb 389px,#fbe4d6 394px,#f9efe9 399px,#fae7dc 404px,#fcdecd 409px,#f9ede5 417px,#fddbc7 422px,#f6af8e 427px,#ea8f71 434px,#c13739 448px,#b61f2e 453px,#b72230 465px,#c53e3d 468px,#e58267 472px,#f3a380 476px,#f9c2a7 482px,#fce2d2 487px,#faeae1 492px,#fbe2d4 498px,#fac8af 504px,#fcd3bc 509px,#fddbc8 514px,#fac9b0 523px,#fce1d2 532px,#fddbc7 537px,#f8bfa4 544px,#f7b698 550px,#f4a683 552px,#cb4942 557px,#bd2d35 560px,#bb2a34 574px,#c53d3d 577px,#d55d4c 579px,#f5ae8d 583px,#fbcfb8 587px,#f5f6f7 594px,#dbeaf2 600px,#d6e8f1 654px,#ecf2f5 662px,#d9e9f1 667px,#a6cee3 674px,#aad1e5 678px,#f1f2f3 688px,#fbe3d4 699px,#fae7dc 776px,#fbe6da 831px)"></div>
<div style="top:225px;height:3px;background:linear-gradient(90deg,#fff 0px,#fff 150px,#f9efe9 151px,#fbe6da 158px,#fbd0b9 272px,#f7b596 301px,#f4a583 304px,#e48066 306px,#be2f36 309px,#b41b2d 310px,#9a1027 313px,#8b0c25 323px,#a01228 335px,#b41c2d 338px,#cf5246 343px,#f19f7d 365px,#f9c1a6 370px,#fce2d2 374px,#f9efe9 379px,#fae7dc 384px,#fdddca 389px,#fbe4d6 394px,#f9efe9 399px,#fae7dc 404px,#fcdecd 409px,#f9ede5 417px,#fddbc7 422px,#f7b495 426px,#db6b55 440px,#b72230 452px,#b72330 465px,#be3036 467px,#dd715a 471px,#ef9979 475px,#f7b799 481px,#fdddcb 486px,#faeae0 491px,#fbe5d7 497px,#fac7ae 504px,#fcdecd 513px,#fcd5bf 519px,#facab1 523px,#fbe4d6 532px,#fdddca 537px,#f7b799 545px,#f6af8e 550px,#f19e7d 552px,#c94641 557px,#bd2d35 560px,#ba2832 573px,#c33a3b 577px,#db6c56 580px,#f4a683 583px,#faebe3 592px,#f5f6f7 594px,#d7e8f1 599px,#d3e6f0 652px,#ebf1f5 658px,#f8f1ed 661px,#fae7dc 665px,#f3ece8 678px,#fbe2d5 686px,#fbd4be 694px,#fce1d1 707px,#fae8dd 732px,#f8f0eb 762px,#fbe5d8 822px,#fbe5d8 831px)"></div>
<div style="top:228px;height:3px;background:linear-gradient(90deg,#fff 0px,#fff 150px,#f9efe9 151px,#fbe6da 159px,#fbd0b9 271px,#f6b191 302px,#f4a683 304px,#da6853 307px,#b51e2e 310px,#9e1228 313px,#920e26 324px,#a81529 336px,#bb2a34 339px,#cf5347 343px,#f19e7d 365px,#f7b799 369px,#fce0d0 374px,#f9eee8 379px,#fbe3d5 385px,#fddcc9 390px,#f9eee8 400px,#fcdecc 409px,#f9ece4 417px,#fddac5 422px,#f6b394 426px,#de735c 439px,#b72230 452px,#b72230 464px,#be3036 467px,#e7876b 473px,#f6b191 481px,#fdddcb 487px,#fae8dd 492px,#fce0d0 497px,#f9c3a8 503px,#fbccb4 507px,#fcdecb 512px,#fcd7c2 518px,#fac7ad 523px,#fbe2d4 531px,#fcdecd 536px,#f7b495 544px,#f2a17f 551px,#d86550 555px,#c2383a 558px,#ba2833 561px,#bb2a34 575px,#c84540 578px,#e17a61 581px,#f5a886 584px,#fbd0b9 589px,#f6f6f7 594px,#d7e8f1 599px,#d1e5f0 649px,#ddebf2 655px,#f8f4f1 659px,#fbd1ba 663px,#f6b496 666px,#f3aa8c 670px,#f3ab8e 681px,#f1a283 691px,#f6b394 695px,#fce0d0 700px,#f9eee8 705px,#f2f3f3 732px,#e8f0f4 763px,#f3f2f1 794px,#fbe2d4 820px,#fce1d2 831px)"></div>
<div style="top:231px;height:3px;background:linear-gradient(90deg,#fff 0px,#fff 150px,#f9efe9 151px,#fbe6da 160px,#fbd0b9 270px,#f6b191 302px,#f4a683 304px,#e58368 306px,#c13639 309px,#af172a 311px,#9e1228 315px,#9b1127 328px,#ab162a 336px,#bc2b34 339px,#d35a4a 344px,#f19d7c 365px,#f7b596 369px,#fcdecd 374px,#f9ede5 379px,#fbe4d7 384px,#fddac6 390px,#f9ede5 400px,#fddcc9 409px,#faeae1 417px,#fdddcb 421px,#f6b192 426px,#e17860 438px,#b72230 452px,#b82531 465px,#be3036 467px,#e58267 473px,#f5ac8b 482px,#fcdecc 490px,#fcdecc 495px,#f7b698 503px,#f9c1a6 507px,#fcd7c2 512px,#fbd2bb 517px,#f8bda1 522px,#f9c6ac 526px,#fcdecc 531px,#fcdbc8 535px,#f5ac8b 544px,#ee9777 551px,#dd7059 554px,#c13639 558px,#ba2832 562px,#bb2a34 575px,#c7423f 578px,#de735c 581px,#f2a07e 584px,#fac7ae 589px,#f7f5f4 594px,#dae9f2 599px,#d4e7f1 646px,#ddebf2 654px,#f7f6f5 658px,#fddcc9 661px,#f2a281 664px,#dd715a 667px,#d6614f 671px,#d86451 691px,#e58167 694px,#f5a987 696px,#fce0d0 699px,#f8f3f0 701px,#e3eef3 706px,#d9e9f1 737px,#c6dfed 768px,#a6cfe4 784px,#bbdae9 793px,#edf2f4 806px,#fae8dd 824px,#fbe4d6 831px)"></div>
<div style="top:234px;height:3px;background:linear-gradient(90deg,#fff 0px,#fff 150px,#f9efe9 151px,#fbe6da 160px,#fbd0b9 268px,#f6b191 302px,#f4a683 304px,#e58368 306px,#c2383a 309px,#b1182b 311px,#a11328 316px,#a31329 331px,#b3192c 337px,#d05548 343px,#f2a07e 366px,#f8bfa4 371px,#fce2d2 376px,#fae9df 380px,#fcd3bc 389px,#fcdfcf 395px,#fae9df 400px,#fcd5bf 408px,#fbe6da 417px,#fcd7c2 421px,#f5ae8d 426px,#e58368 436px,#bb2a34 450px,#b6202f 458px,#b82531 465px,#c43b3c 468px,#df755d 472px,#ea8f71 476px,#f4a886 484px,#fac7ae 492px,#f8bfa3 496px,#f2a07f 502px,#f5ab8b 507px,#f9c3a8 513px,#f7b89b 518px,#f4a887 522px,#f6b090 526px,#fac9b0 531px,#f9c6ac 535px,#f1a07f 542px,#e8896c 551px,#d25849 555px,#c03438 558px,#b82531 564px,#bd2d35 576px,#cb4942 579px,#eb9072 584px,#f7b89b 589px,#fbe5d8 593px,#f3f4f5 596px,#e2edf3 602px,#e5eff4 653px,#f7f4f2 657px,#fcdecc 660px,#f3a482 663px,#d7634f 666px,#c84540 669px,#c63f3d 688px,#ce4f45 692px,#db6c56 694px,#f09c7b 696px,#fbe3d4 699px,#f3f5f6 701px,#d7e8f1 704px,#cce2ef 719px,#c5dfec 757px,#a5cfe4 769px,#64a8ce 782px,#62a7ce 788px,#7fb9d7 794px,#cee3ef 807px,#edf2f5 822px,#f4f2f1 831px)"></div>
<div style="top:237px;height:3px;background:linear-gradient(90deg,#fff 0px,#fff 150px,#f9efe9 151px,#fbe6da 161px,#fbd0b9 267px,#f5ac8b 303px,#ef9979 305px,#c33a3b 309px,#b31a2c 311px,#a51429 316px,#aa152a 334px,#b41c2d 337px,#d35a4a 344px,#f4a583 368px,#fcddca 378px,#fcddcb 381px,#f9c4a9 388px,#fac9b0 393px,#fcdfce 399px,#fbd2bb 404px,#f9c5ab 408px,#fcd3bc 413px,#fcdbc8 417px,#fac7ae 421px,#f5a886 426px,#ea8e70 434px,#c2383a 448px,#b82531 452px,#b82531 465px,#c43b3c 468px,#e27c62 473px,#ea8e70 478px,#ed9778 494px,#e0775f 503px,#ea8d70 509px,#ef9a7b 514px,#e37e64 523px,#f09f7f 533px,#e17a61 544px,#dd6f59 551px,#be2f36 558px,#b82531 566px,#bc2b34 576px,#cc4c44 580px,#e27b62 585px,#f3a585 590px,#fbdcca 595px,#f9ece4 599px,#f8efea 653px,#fbe4d6 657px,#fac7ae 660px,#eb9172 663px,#d15648 666px,#c43c3c 669px,#c3393b 689px,#c94641 692px,#d7634f 694px,#ec9374 696px,#fce0d0 699px,#f2f5f6 701px,#d5e7f1 704px,#cae1ee 710px,#c5dfec 757px,#a9d1e4 768px,#62a7ce 782px,#62a7ce 789px,#bad9e9 807px,#d3e6f0 820px,#dae9f2 831px)"></div>
<div style="top:240px;height:3px;background:linear-gradient(90deg,#fff 0px,#fff 150px,#f9efe9 151px,#fbe6da 162px,#fddbc7 233px,#facbb3 271px,#f6af8e 302px,#ee9878 305px,#d05447 308px,#bb2933 310px,#b0172b 312px,#a71429 326px,#b2192b 336px,#d35a4a 344px,#ee9677 366px,#f5ac8b 373px,#f9c2a7 379px,#f4aa89 389px,#f9c2a7 400px,#f5ac8c 409px,#f8bea2 417px,#f19e7d 427px,#ea8e70 434px,#c2383a 448px,#b82531 452px,#b82531 465px,#c43b3c 468px,#e0775f 473px,#e68469 478px,#d55e4e 493px,#cd4d44 504px,#d6614f 514px,#cf5246 524px,#d76251 534px,#d05447 547px,#c94741 553px,#ba2833 559px,#ba2833 576px,#dd715a 590px,#f3ac8f 597px,#f7bca0 604px,#f9c5ab 653px,#f5b192 658px,#e58368 662px,#d15648 665px,#c43c3c 668px,#c03539 682px,#c43b3c 691px,#d35a4a 694px,#e8896c 696px,#f3a583 697px,#fcd9c5 699px,#f7f4f1 701px,#d6e8f1 705px,#cde3ef 728px,#d1e5f0 760px,#b3d6e8 776px,#98c7df 786px,#a8d0e4 797px,#c7e0ed 814px,#cce2ef 831px)"></div>
<div style="top:243px;height:3px;background:linear-gradient(90deg,#fff 0px,#fff 150px,#f9efe9 151px,#fbe6da 162px,#fbd0b9 263px,#f5aa89 303px,#ee9677 305px,#c53e3d 309px,#b61f2e 311px,#ac162a 316px,#b1182b 335px,#be3036 339px,#d05548 343px,#eb9072 363px,#eb9072 370px,#f3a482 378px,#ef9a79 385px,#ea8f71 389px,#f3a482 399px,#ed9475 408px,#ec9374 412px,#f3a381 417px,#eb9172 433px,#c6413e 447px,#b82531 452px,#b82531 465px,#c3393b 468px,#da6a55 472px,#e17a61 476px,#d45d4c 483px,#c3393b 491px,#be3137 507px,#bf3338 552px,#b82531 563px,#bc2b34 580px,#cb4a43 592px,#d76452 600px,#e17860 654px,#d96854 660px,#c3393b 667px,#bf3338 683px,#c2383a 691px,#cd4e45 694px,#dd7059 696px,#f7ba9d 699px,#fbddcd 701px,#f7eee8 703px,#e8f0f4 712px,#e0ecf3 726px,#f3eeeb 760px,#f3e9e4 778px,#d9e9f1 792px,#cae1ee 824px,#cae1ee 831px)"></div>
<div style="top:246px;height:3px;background:linear-gradient(90deg,#fff 0px,#fff 150px,#f9efe9 151px,#fbe5d9 165px,#fbd0b9 261px,#f5ac8b 302px,#f3a380 304px,#e58368 306px,#c53e3d 309px,#b72230 311px,#b0172b 315px,#b41c2d 336px,#d35a4a 344px,#ea8e70 363px,#e8896d 370px,#ec9374 378px,#e8896d 386px,#e7876b 390px,#ec9374 398px,#e98c6f 407px,#e7876b 412px,#ec9374 419px,#eb9172 433px,#c6413e 447px,#b82531 452px,#ba2832 465px,#c2383a 468px,#d86450 472px,#da6a55 476px,#bd2e35 488px,#b82431 499px,#bb2a34 592px,#c03438 611px,#c53e3d 660px,#be3137 674px,#c13639 692px,#ce4f45 696px,#ed977a 701px,#f7bda2 705px,#fae0d3 719px,#fadccd 727px,#f9c9b2 735px,#f7bea4 748px,#f1a78b 756px,#ee9d81 768px,#e78a70 775px,#e99177 780px,#fadac9 794px,#f1efef 804px,#d5e7f1 821px,#cde3ef 831px)"></div>
<div style="top:249px;height:3px;background:linear-gradient(90deg,#fff 0px,#fff 150px,#f9efe9 151px,#fbe6da 164px,#fddbc7 230px,#facab1 268px,#f4a785 303px,#e58368 306px,#c6403e 309px,#b82431 311px,#b2192b 315px,#b41b2d 335px,#bf3338 339px,#d35a4a 344px,#ea8e70 364px,#e6866a 370px,#ea8f71 381px,#e58368 390px,#ea8f71 399px,#e6866a 408px,#e6866a 413px,#eb9072 425px,#ea8f71 433px,#d05548 444px,#b92631 452px,#bb2a34 466px,#d25849 472px,#d05548 476px,#ba2832 486px,#b6212f 523px,#bb2a34 662px,#c13639 696px,#d86553 709px,#e58368 721px,#e07860 728px,#d76352 736px,#d0554a 749px,#c94741 761px,#c2383a 778px,#d1564a 788px,#ea9075 799px,#fad2be 810px,#f4efeb 820px,#e2edf3 831px)"></div>
<div style="top:252px;height:3px;background:linear-gradient(90deg,#fff 0px,#fff 150px,#f9efe9 151px,#fbe6da 164px,#fddbc7 230px,#fac9b0 267px,#f4a482 303px,#ec9273 305px,#c6413e 309px,#b92631 311px,#b41b2d 316px,#b6212f 336px,#d35a4a 344px,#e98b6e 364px,#e68469 370px,#e8896d 383px,#e48066 390px,#e88a6e 399px,#e58368 408px,#e6866a 414px,#eb9172 432px,#d05548 444px,#bb2a34 451px,#b82531 464px,#c33a3b 469px,#c94741 472px,#b72230 486px,#b82431 563px,#b82531 661px,#bd2d35 675px,#bc2c35 706px,#c13739 725px,#b72330 776px,#bf3237 794px,#d0554a 805px,#e98f74 816px,#f9ccb6 826px,#fadaca 831px)"></div>
<div style="top:255px;height:3px;background:linear-gradient(90deg,#fff 0px,#fff 150px,#f9efe9 151px,#fae7dc 162px,#fddcc9 220px,#fbceb7 259px,#f2a07e 303px,#ea8d70 305px,#c7423f 309px,#b72330 312px,#b6212f 335px,#c13639 339px,#d3594a 344px,#e8896d 363px,#e58267 371px,#e58267 385px,#e58267 392px,#e58267 407px,#e58267 414px,#ea8e70 433px,#c33a3b 448px,#b82531 453px,#bb2933 466px,#c2383a 472px,#b72230 483px,#b72230 661px,#bc2c35 675px,#b92631 696px,#b82531 800px,#c53e3d 816px,#e07860 831px)"></div>
<div style="top:258px;height:3px;background:linear-gradient(90deg,#fff 0px,#fff 150px,#f9efe9 151px,#fae7dc 162px,#fddcc9 220px,#fbceb6 258px,#f19e7d 302px,#e8896d 305px,#c84540 309px,#ba2832 312px,#b92732 336px,#d25849 344px,#e7876b 363px,#e37e64 371px,#e27c62 386px,#e37f65 407px,#e48065 415px,#ea8e70 429px,#e98b6e 434px,#bd2d35 450px,#b82531 459px,#bd2d35 472px,#b61f2e 487px,#b82431 662px,#bb2a34 686px,#b6202f 716px,#b82531 816px,#c03539 831px)"></div>
<div style="top:261px;height:3px;background:linear-gradient(90deg,#fff 0px,#fff 150px,#f9efe9 151px,#fae7dc 162px,#fddcc9 220px,#fbceb6 256px,#f09c7b 300px,#e7876b 305px,#c53e3d 310px,#bb2a34 313px,#bb2933 335px,#d25849 345px,#e58267 363px,#e17860 375px,#e27b62 422px,#ea8e70 432px,#dd7059 439px,#bb2a34 451px,#b72330 475px,#b72230 662px,#ba2833 690px,#b61f2e 715px,#b72330 831px)"></div>
<div style="top:264px;height:3px;background:linear-gradient(90deg,#fff 0px,#fff 150px,#f9efe9 151px,#fae7dc 162px,#fddbc7 227px,#f9c6ac 263px,#f19e7d 294px,#e58167 305px,#c33a3b 311px,#bd2e35 316px,#bf3237 336px,#d05447 344px,#e37e64 363px,#dd6f59 374px,#df765e 424px,#ea8d70 432px,#df765e 438px,#ba2833 452px,#b61f2e 509px,#b72330 663px,#b72330 696px,#b6202f 831px)"></div>
<div style="top:267px;height:3px;background:linear-gradient(90deg,#fff 0px,#fff 150px,#f9efe9 151px,#fae7dc 162px,#fddbc7 227px,#f9c5ab 262px,#f19e7d 291px,#e27b62 305px,#c63f3d 311px,#c03438 317px,#c13739 336px,#d25849 348px,#e0775f 363px,#d86450 376px,#d96753 423px,#e8896d 431px,#e27b62 437px,#bc2c35 451px,#b61f2e 494px,#b72330 664px,#b61f2e 831px)"></div>
<div style="top:270px;height:3px;background:linear-gradient(90deg,#fff 0px,#fff 150px,#f9efe9 151px,#fae7dc 162px,#fbd2bb 245px,#f5aa89 283px,#de735c 305px,#c53d3d 312px,#c3393b 336px,#cf5347 347px,#dd7059 363px,#d15749 375px,#d05447 413px,#d05447 423px,#df765e 429px,#e58368 433px,#da6a55 440px,#bb2a34 452px,#b61f2e 496px,#b61f2e 831px)"></div>
<div style="top:273px;height:3px;background:linear-gradient(90deg,#fff 0px,#fff 150px,#f9efe9 151px,#fae7dc 162px,#fddbc7 225px,#f8bfa3 265px,#f09c7b 288px,#d96652 306px,#c84540 311px,#c33a3b 331px,#c94741 340px,#d96652 363px,#cc4b43 373px,#c7423f 409px,#c53d3d 422px,#cf5246 427px,#de725b 432px,#dc6e57 437px,#bc2c35 452px,#b61f2e 492px,#b61f2e 831px)"></div>
<div style="top:276px;height:3px;background:linear-gradient(90deg,#fff 0px,#fff 150px,#f9efe9 151px,#fae8de 161px,#fddcc9 218px,#fac8af 253px,#f4a482 284px,#d7634f 306px,#c84440 312px,#c6413e 337px,#d25849 363px,#c53e3d 374px,#c13739 407px,#bb2a34 419px,#c13739 426px,#d3594a 433px,#cc4b43 441px,#bd2d35 453px,#b61f2e 490px,#b61f2e 831px)"></div>
<div style="top:279px;height:3px;background:linear-gradient(90deg,#fff 0px,#fff 150px,#f9efea 151px,#fae8de 162px,#fcd3bc 239px,#f5a886 281px,#d45b4b 307px,#c94741 312px,#c6413e 337px,#ca4842 346px,#c7433f 365px,#c13639 377px,#bd2d35 408px,#b82431 422px,#c43b3c 435px,#b92631 461px,#b61f2e 519px,#b61f2e 831px)"></div>
<div style="top:282px;height:3px;background:linear-gradient(90deg,#fff 0px,#fff 150px,#f9f0eb 151px,#fae8de 161px,#fcd4be 235px,#f5aa89 279px,#d65f4d 306px,#c94741 312px,#c6413e 337px,#c84440 349px,#bd2e35 384px,#b92732 410px,#b92631 429px,#b61f2e 611px,#b61f2e 831px)"></div>
<div style="top:285px;height:6px;background:linear-gradient(90deg,#fff 0px,#fff 150px,#f9f0eb 151px,#fae8de 163px,#fcd3bd 233px,#f4a784 280px,#d05548 308px,#c84440 315px,#c84440 339px,#c2383a 357px,#bb2b34 386px,#b82531 411px,#b6202f 461px,#b61f2e 831px)"></div>
<div style="top:291px;height:6px;background:linear-gradient(90deg,#fff 0px,#fff 150px,#f9f0eb 151px,#fae7dc 169px,#fcd4be 229px,#f4a481 280px,#d05548 308px,#c84540 315px,#c6403e 348px,#bb2a34 374px,#b82531 411px,#b61f2e 463px,#b61f2e 831px)"></div>
<div style="top:297px;height:6px;background:linear-gradient(90deg,#fff 0px,#fff 150px,#f9f0eb 151px,#fce0d0 196px,#fbd1bb 228px,#f3a380 279px,#d05548 308px,#c94741 314px,#c53e3d 349px,#bb2a34 372px,#b82531 411px,#b61f2e 463px,#b61f2e 831px)"></div>
<div style="top:303px;height:6px;background:linear-gradient(90deg,#fff 0px,#fff 150px,#f9f0eb 151px,#fce2d2 193px,#fbd1bb 225px,#f2a17f 278px,#d05548 308px,#c94741 314px,#c53e3d 349px,#bb2a34 372px,#b82531 411px,#b61f2e 472px,#b61f2e 831px)"></div>
<div style="top:309px;height:6px;background:linear-gradient(90deg,#fff 0px,#fff 150px,#f9f0eb 151px,#fcd6c0 218px,#f6b495 256px,#f09d7c 278px,#d05548 308px,#c94741 314px,#c53e3d 348px,#bb2a34 373px,#b82531 411px,#b6212f 831px)"></div>
<div style="top:315px;height:6px;background:linear-gradient(90deg,#fff 0px,#fff 150px,#f9f0eb 151px,#fcd6c0 215px,#f7b698 248px,#f2a07e 274px,#d25849 307px,#c94741 314px,#c53e3d 348px,#bc2b34 374px,#b82431 415px,#b72330 831px)"></div>
<div style="top:321px;height:6px;background:linear-gradient(90deg,#fff 0px,#fff 150px,#f9f0eb 151px,#fcd8c3 211px,#f7b799 243px,#f2a17f 271px,#d65f4d 305px,#c94741 313px,#c43d3c 348px,#bd2f36 376px,#ba2833 541px,#ba2833 831px)"></div>
<div style="top:327px;height:9px;background:linear-gradient(90deg,#fff 0px,#fff 150px,#f9f0eb 151px,#fdd8c4 208px,#f7b799 238px,#f3a280 268px,#d7634f 303px,#c94741 314px,#c43b3c 350px,#bf3237 371px,#bc2d35 831px)"></div>
<div style="top:336px;height:2px;background:linear-gradient(90deg,#fff 0px,#fff 150px,#f9f0eb 151px,#fddbc7 205px,#f7b99c 232px,#f4a785 263px,#e6866a 284px,#d55d4c 305px,#c94741 314px,#c43b3c 350px,#bf3338 369px,#bd2d35 753px,#bd2d35 831px)"></div>
</div>
<div class="hm" style="left:110px;top:465px;width:831px;height:338px">
<div style="top:0px;height:12px;background:linear-gradient(90deg,#fff 0px,#fff 150px,#f9efe9 151px,#fbe5d8 157px,#fcdecd 221px,#fddcc9 307px,#fbceb7 317px,#fcd7c2 324px,#fbe3d4 335px,#fae9df 464px,#f9ede5 831px)"></div>
<div style="top:12px;height:9px;background:linear-gradient(90deg,#fff 0px,#fff 150px,#f9efe9 151px,#fbe5d8 157px,#fcdecd 221px,#fddcc9 307px,#fbceb7 317px,#fdd9c4 325px,#fbe3d4 336px,#fae9df 442px,#f9ede5 831px)"></div>
<div style="top:21px;height:6px;background:linear-gradient(90deg,#fff 0px,#fff 150px,#f9efe9 151px,#fbe5d8 157px,#fcdecd 221px,#fddcc9 307px,#fbd0b9 319px,#fbe3d4 335px,#faebe3 414px,#f9ebe3 533px,#f9ede5 831px)"></div>
<div style="top:27px;height:3px;background:linear-gradient(90deg,#fff 0px,#fff 150px,#f9efe9 151px,#fbe5d8 157px,#fcdecd 221px,#fddcc8 308px,#fcd4be 319px,#fbe3d4 337px,#f9ede6 407px,#fae9df 475px,#f9ede5 831px)"></div>
<div style="top:30px;height:3px;background:linear-gradient(90deg,#fff 0px,#fff 150px,#f9efe9 151px,#fbe5d8 157px,#fcdecd 221px,#fddbc8 309px,#fddcca 326px,#fbe4d6 343px,#f9eee7 405px,#fae9df 470px,#f9ede5 831px)"></div>
<div style="top:33px;height:3px;background:linear-gradient(90deg,#fff 0px,#fff 150px,#f9efe9 151px,#fbe5d8 157px,#fcdecd 221px,#fcdfcd 315px,#fcdfcf 329px,#f9eee7 396px,#fae9df 488px,#f9ede5 831px)"></div>
<div style="top:36px;height:3px;background:linear-gradient(90deg,#fff 0px,#fff 150px,#f9efe9 151px,#fbe5d8 157px,#fcdecd 221px,#fce0d0 312px,#fbe6da 319px,#fcdfce 327px,#f9efe9 400px,#fae9df 457px,#f9ede5 831px)"></div>
<div style="top:39px;height:3px;background:linear-gradient(90deg,#fff 0px,#fff 150px,#f9efe9 151px,#fbe5d8 157px,#fcdecd 221px,#fce0cf 310px,#f9ede6 318px,#fcdfcf 327px,#f9ebe3 377px,#f9ede5 418px,#fae9df 496px,#f9ede5 831px)"></div>
<div style="top:42px;height:6px;background:linear-gradient(90deg,#fff 0px,#fff 150px,#f9efe9 151px,#fbe5d8 157px,#fcdecd 221px,#fce1d2 310px,#f8f2ee 317px,#fbe6da 323px,#fce0d0 329px,#f9ede5 380px,#f9ede5 418px,#fae8de 485px,#f9ede5 804px,#f9ede5 831px)"></div>
<div style="top:48px;height:3px;background:linear-gradient(90deg,#fff 0px,#fff 150px,#f9efe9 151px,#fbe5d8 157px,#fdddcb 232px,#fce0cf 310px,#f9eee7 318px,#fcdfcf 327px,#f9efe9 400px,#fae8de 459px,#f9ede5 831px)"></div>
<div style="top:51px;height:3px;background:linear-gradient(90deg,#fff 0px,#fff 150px,#f9efe9 151px,#fbe5d8 157px,#fdddcb 232px,#fcdfcf 312px,#fbe5d8 319px,#fcdfcd 327px,#f9efe9 398px,#fae8dd 462px,#f9ede5 831px)"></div>
<div style="top:54px;height:3px;background:linear-gradient(90deg,#fff 0px,#fff 150px,#f9efe9 151px,#fbe5d8 157px,#fdddcb 232px,#fdddcb 307px,#fddcca 326px,#fbe5d8 343px,#f9efe9 407px,#fae7db 459px,#f9ede5 703px,#f9ede5 831px)"></div>
<div style="top:57px;height:3px;background:linear-gradient(90deg,#fff 0px,#fff 150px,#f9efe9 151px,#fbe5d8 157px,#fdddcb 232px,#fcdecd 306px,#fbceb7 317px,#fdd8c3 325px,#fbe5d7 335px,#f9efe9 408px,#fbe6d9 460px,#f9ebe3 617px,#f9ede5 831px)"></div>
<div style="top:60px;height:3px;background:linear-gradient(90deg,#fff 0px,#fff 150px,#f9efe9 151px,#fbe5d8 157px,#fdddcb 232px,#fce1d1 289px,#fce0d0 305px,#f9c4aa 316px,#fbccb4 323px,#fbe4d6 331px,#f9efe9 408px,#fbe5d7 460px,#f9ebe3 618px,#f9ede5 831px)"></div>
<div style="top:63px;height:3px;background:linear-gradient(90deg,#fff 0px,#fff 150px,#f9efe9 151px,#fbe5d8 157px,#fddcc9 243px,#fce1d2 287px,#fbe3d5 304px,#fbd1ba 310px,#f8bb9e 316px,#f8bfa4 321px,#fbe4d6 330px,#faeae1 347px,#f9eee7 414px,#fbe3d5 458px,#fae7dc 490px,#f9ede5 831px)"></div>
<div style="top:66px;height:3px;background:linear-gradient(90deg,#fff 0px,#fff 150px,#f9efe9 151px,#fbe5d8 157px,#fddcc9 243px,#fce1d1 284px,#fae7db 303px,#fcd7c2 309px,#f7b799 315px,#f7b596 319px,#fac9b0 324px,#fbe5d9 330px,#f9ece4 341px,#f9ede5 417px,#fbe3d5 459px,#fae7dc 491px,#f9ede5 831px)"></div>
<div style="top:69px;height:3px;background:linear-gradient(90deg,#fff 0px,#fff 150px,#f9efe9 151px,#fbe5d8 157px,#fddcc9 243px,#fce0cf 281px,#faeae0 302px,#fddcc9 308px,#f6b191 315px,#f6b191 320px,#fbe4d6 329px,#f9ede6 336px,#f9ede5 417px,#fbe3d4 459px,#fae7dc 494px,#f9ede5 831px)"></div>
<div style="top:72px;height:6px;background:linear-gradient(90deg,#fff 0px,#fff 150px,#f9efe9 151px,#fbe5d8 157px,#fddcc9 243px,#fce0cf 280px,#f9ede6 301px,#fce0d0 307px,#f6af8f 314px,#f4a785 318px,#f7b596 322px,#fce1d1 328px,#f9efe9 334px,#f9ede6 373px,#f9ede5 417px,#fbe3d4 458px,#faeae1 600px,#f9ede5 831px)"></div>
<div style="top:78px;height:6px;background:linear-gradient(90deg,#fff 0px,#fff 150px,#f9efe9 151px,#fbe5d8 157px,#fddbc7 250px,#fcdfcf 279px,#f9efea 301px,#fbe6d9 306px,#facbb3 310px,#f5a987 315px,#f4a683 319px,#f7ba9d 323px,#fce2d3 328px,#f8f0eb 333px,#f9efea 366px,#f9ebe3 420px,#fce2d2 457px,#fbe6da 486px,#f9ede5 826px,#f9ede5 831px)"></div>
<div style="top:84px;height:3px;background:linear-gradient(90deg,#fff 0px,#fff 150px,#f9efe9 151px,#fbe5d8 157px,#fddbc7 250px,#fcdfcf 279px,#f9f0eb 300px,#faeae1 305px,#fbceb7 310px,#f6b090 314px,#f4a785 318px,#f7b697 322px,#fbe3d5 328px,#f8f1ed 333px,#f8f1ed 364px,#f9efe9 398px,#fbe3d4 449px,#fae9df 603px,#f9ede5 831px)"></div>
<div style="top:87px;height:3px;background:linear-gradient(90deg,#fff 0px,#fff 150px,#f9efe9 151px,#fbe5d8 157px,#fddbc7 250px,#fcdfcf 280px,#f8f1ed 300px,#fae8dd 306px,#fbd1ba 310px,#f6b191 315px,#f5ae8d 319px,#f9c1a6 323px,#fbe4d7 328px,#f8f2ef 334px,#f9efea 367px,#faebe3 420px,#fbe3d4 459px,#fae9df 581px,#f9ede5 831px)"></div>
<div style="top:90px;height:3px;background:linear-gradient(90deg,#fff 0px,#fff 150px,#f9efe9 151px,#fbe5d8 157px,#fddbc7 250px,#fcdecd 278px,#f8f1ed 301px,#fbe5d9 307px,#f7ba9d 314px,#f6b394 318px,#f8bfa4 322px,#fbe5d9 328px,#f8f2ef 334px,#f9f0eb 366px,#faeae1 422px,#fbe3d5 459px,#fbe5d8 486px,#f9ede5 809px,#f9ede5 831px)"></div>
<div style="top:93px;height:3px;background:linear-gradient(90deg,#fff 0px,#fff 150px,#f9efe9 151px,#fbe5d8 157px,#fddbc7 250px,#fcdecd 278px,#f8f1ed 300px,#faeae0 306px,#f8bda1 315px,#f8bb9e 319px,#fbccb4 323px,#f9ede5 330px,#f8f3f0 337px,#f9efe9 369px,#faeae1 422px,#fbe5d9 460px,#f9ece4 831px)"></div>
<div style="top:96px;height:3px;background:linear-gradient(90deg,#fff 0px,#fff 150px,#f9efe9 151px,#fbe5d8 157px,#fddbc7 250px,#fcdecd 278px,#f9efe9 291px,#f9efea 304px,#fdd9c4 311px,#f9c3a8 316px,#fac9b0 321px,#f9eee7 330px,#f8f3f0 340px,#f9eee8 371px,#fae9df 464px,#fbe6da 485px,#f9ebe3 831px)"></div>
<div style="top:99px;height:3px;background:linear-gradient(90deg,#fff 0px,#fff 150px,#f9efe9 151px,#fbe5d8 157px,#fdd9c4 265px,#fce0d0 279px,#f8f1ed 288px,#f8f0eb 304px,#fbcfb8 317px,#fddcc9 323px,#f8f1ed 332px,#f8f1ed 369px,#f9ede5 382px,#faeae1 482px,#fbe4d6 495px,#f9ebe3 708px,#f9ebe3 831px)"></div>
<div style="top:102px;height:3px;background:linear-gradient(90deg,#fff 0px,#fff 150px,#f9efe9 151px,#fbe5d8 157px,#fdd9c4 265px,#fce0d0 279px,#f8f2ef 287px,#f8f1ec 305px,#fcdecc 317px,#fae7dc 325px,#f8f3f0 334px,#f9f0eb 371px,#f9eee7 388px,#f9ede6 423px,#f9ece4 482px,#fbe4d6 493px,#f9ebe3 732px,#f9ebe3 831px)"></div>
<div style="top:105px;height:3px;background:linear-gradient(90deg,#fff 0px,#fff 150px,#f9efe9 151px,#fbe5d8 157px,#fdd9c4 265px,#fcdecd 278px,#f8f2ef 286px,#f8f0eb 307px,#fae7db 319px,#f8f3f0 335px,#f8f1ed 370px,#f9ede5 381px,#f9ede5 422px,#f9f0eb 474px,#faeae1 484px,#fbe3d5 493px,#f9ebe3 797px,#f9ebe3 831px)"></div>
<div style="top:108px;height:3px;background:linear-gradient(90deg,#fff 0px,#fff 150px,#f9efe9 151px,#fbe5d8 157px,#fdd9c4 265px,#fcdecd 278px,#f8f2ef 286px,#f8f0eb 310px,#f9eee8 322px,#f8f3f0 342px,#f8f1ed 370px,#f9ece4 380px,#f9ede5 421px,#f8f1ed 444px,#f9eee7 482px,#fbe3d4 492px,#faebe2 715px,#faebe2 831px)"></div>
<div style="top:111px;height:6px;background:linear-gradient(90deg,#fff 0px,#fff 150px,#f9efe9 151px,#fbe5d8 157px,#fdd8c3 268px,#fce0d0 279px,#f8f2ef 287px,#f8f1ed 369px,#f9ebe3 380px,#f9ede5 421px,#f8f2ef 433px,#f8f0eb 481px,#fbe3d4 490px,#faeae1 734px,#faeae1 831px)"></div>
<div style="top:117px;height:3px;background:linear-gradient(90deg,#fff 0px,#fff 150px,#f9efe9 151px,#fbe5d8 157px,#fcd7c2 270px,#fbe3d4 280px,#f8f2ef 287px,#f7f5f4 314px,#f8f3f0 366px,#f9ebe3 378px,#f9ebe3 420px,#f7f5f4 430px,#f8f2ef 480px,#fce2d2 491px,#fae7dc 593px,#faeae1 831px)"></div>
<div style="top:120px;height:3px;background:linear-gradient(90deg,#fff 0px,#fff 150px,#f9efe9 151px,#fbe5d8 157px,#fcd7c2 271px,#fce2d2 280px,#f8f2ef 287px,#f1f4f6 301px,#f5f6f7 362px,#faeae1 378px,#faeae1 414px,#f9ede5 421px,#f7f6f6 430px,#f8f4f2 479px,#fce2d2 490px,#faeae1 728px,#faeae1 831px)"></div>
<div style="top:123px;height:3px;background:linear-gradient(90deg,#fff 0px,#fff 150px,#f9efe9 151px,#fbe5d8 157px,#fcd7c2 272px,#fbe4d6 281px,#f8f3f0 288px,#ecf2f5 300px,#eff3f6 361px,#f8f1ed 368px,#faeae1 378px,#faeae0 414px,#f9eee7 422px,#f6f6f7 430px,#f8f4f2 479px,#fce2d2 489px,#fae9df 723px,#fae9df 831px)"></div>
<div style="top:126px;height:3px;background:linear-gradient(90deg,#fff 0px,#fff 150px,#f9efe9 151px,#fbe5d8 157px,#fcd7c2 272px,#fbe3d4 281px,#f8f3f0 288px,#f4f5f6 292px,#e6eff4 296px,#e9f0f4 360px,#f8f4f2 364px,#faeae1 376px,#faeae1 413px,#faebe3 421px,#f4f6f6 429px,#f8f5f3 479px,#fce1d2 489px,#fae9df 694px,#fae9df 831px)"></div>
<div style="top:129px;height:3px;background:linear-gradient(90deg,#fff 0px,#fff 150px,#f9efe9 151px,#fbe5d8 157px,#fcd7c2 273px,#fbe5d7 282px,#f8f2ef 288px,#f2f5f6 292px,#e1edf3 296px,#e5eef4 360px,#f8f4f2 364px,#faeae0 376px,#fae9de 415px,#f9ece4 422px,#f3f5f6 428px,#f6f6f7 478px,#fce0d0 489px,#fbe6da 593px,#fae9df 831px)"></div>
<div style="top:132px;height:3px;background:linear-gradient(90deg,#fff 0px,#fff 150px,#f9efe9 151px,#fbe5d8 157px,#fcd7c2 273px,#fbe3d5 282px,#f8f3f0 289px,#f0f4f6 292px,#dceaf2 295px,#dfecf3 359px,#f7f5f4 363px,#fae9df 375px,#fae9de 414px,#f9ebe3 422px,#f2f5f6 428px,#f5f6f7 478px,#fce1d1 488px,#fbe6da 608px,#fae9df 831px)"></div>
<div style="top:135px;height:3px;background:linear-gradient(90deg,#fff 0px,#fff 150px,#f9efe9 151px,#fbe5d8 157px,#fcd7c2 272px,#fce2d3 282px,#f7f7f7 291px,#d6e7f1 295px,#d6e7f1 358px,#f6f7f7 362px,#fae9de 374px,#fae8de 414px,#faebe2 422px,#f2f5f6 428px,#f2f5f6 477px,#fcdfcf 489px,#fbe5d8 589px,#fae9de 831px)"></div>
<div style="top:138px;height:3px;background:linear-gradient(90deg,#fff 0px,#fff 150px,#f9efe9 151px,#fbe5d8 157px,#fcd7c2 272px,#fce0d0 282px,#f3f5f6 292px,#cae2ee 296px,#cae2ee 357px,#f7f5f4 362px,#fae8dd 373px,#fae7db 415px,#faeae0 422px,#f2f5f6 428px,#ebf1f5 441px,#eef3f5 476px,#f8f3f0 479px,#fce0d0 487px,#fce0d0 522px,#fbe5d8 575px,#fae8de 831px)"></div>
<div style="top:141px;height:3px;background:linear-gradient(90deg,#fff 0px,#fff 150px,#f9efe9 151px,#fbe5d8 157px,#fcd5c0 272px,#fce0d0 283px,#f4f5f6 292px,#bedbeb 296px,#b8d8e9 318px,#bcdaea 356px,#cfe4f0 358px,#f6f6f7 361px,#fae7dc 370px,#fbe6da 421px,#f0f4f6 428px,#e9f1f4 437px,#ecf2f5 476px,#f6f7f7 478px,#fce0d0 486px,#fddcca 515px,#fbe5d7 556px,#fae8dd 831px)"></div>
<div style="top:144px;height:3px;background:linear-gradient(90deg,#fff 0px,#fff 150px,#f9efe9 151px,#fbe5d8 157px,#fcd5c0 273px,#fce0d0 284px,#f6f6f6 292px,#ddebf2 294px,#b7d8e9 296px,#acd2e5 298px,#add3e6 355px,#c0dceb 357px,#f4f5f6 360px,#fbe5d8 369px,#fbe5d7 421px,#f2f5f6 428px,#e7eff4 433px,#e9f0f4 475px,#f7f6f5 478px,#fce0d0 485px,#fdd8c3 506px,#fbe4d6 553px,#fae7dc 831px)"></div>
<div style="top:147px;height:3px;background:linear-gradient(90deg,#fff 0px,#fff 150px,#f9efe9 151px,#fbe5d8 157px,#fcd6c1 275px,#fce0d0 285px,#f2f5f6 293px,#cde3ef 295px,#b0d4e7 296px,#9ac9e0 298px,#93c5de 332px,#9bc9e0 354px,#afd4e6 356px,#e0ecf3 358px,#f1f4f6 359px,#fae8de 364px,#fce0d0 373px,#fce0d0 420px,#f9efe9 426px,#f5f6f7 428px,#e5eff4 432px,#e8f0f4 475px,#f8f3f0 478px,#fcdecc 485px,#fcd4be 508px,#fbe4d6 551px,#fae7dc 831px)"></div>
<div style="top:150px;height:3px;background:linear-gradient(90deg,#fff 0px,#fff 150px,#f9efe9 151px,#fbe5d8 157px,#fcd5c0 276px,#fcdfcf 286px,#f7f6f6 293px,#d7e8f1 295px,#99c9e0 297px,#87beda 298px,#7bb6d6 303px,#6eaed2 327px,#84bcd9 353px,#a0cce2 355px,#dbeaf2 357px,#eff3f6 358px,#f9eee8 360px,#fcdfcd 367px,#fdd8c3 406px,#fce0d0 422px,#f8f1ed 427px,#f7f7f7 428px,#e1edf3 432px,#e3eef3 474px,#f7f7f7 477px,#fcdfcf 483px,#fcd3bd 494px,#fcd4be 520px,#fbe4d6 549px,#fbe6da 831px)"></div>
<div style="top:153px;height:3px;background:linear-gradient(90deg,#fff 0px,#fff 150px,#f9efe9 151px,#fbe5d8 157px,#fcd5bf 278px,#fcdfcd 287px,#f3f5f6 294px,#e3edf3 295px,#c7e0ed 296px,#7db8d7 298px,#6aacd0 299px,#5da3cc 303px,#4795c4 322px,#5ba2cb 341px,#6bacd1 352px,#7ab6d6 353px,#dbeaf2 356px,#f0f4f6 357px,#fae9de 360px,#fdd9c5 367px,#fbcfb8 404px,#fddcc9 422px,#f9ede6 427px,#f2f5f6 429px,#deebf2 432px,#e1edf3 474px,#f8f4f1 477px,#fcdfce 482px,#fbd2bb 491px,#fbd2bb 521px,#fbe4d6 548px,#fbe6d9 831px)"></div>
<div style="top:156px;height:3px;background:linear-gradient(90deg,#fff 0px,#fff 150px,#f9efe9 151px,#fbe5d8 157px,#fcd5bf 280px,#fcdfcd 288px,#f7f5f4 294px,#eff3f5 295px,#dbeaf2 296px,#5fa5cd 299px,#4a98c5 300px,#3783bb 310px,#2f79b5 326px,#4b98c6 350px,#519cc8 351px,#63a7ce 352px,#85bdda 353px,#dbeaf2 355px,#f2f4f6 356px,#fcdfcf 361px,#fcd3bc 367px,#fac9b0 405px,#fcd5c0 422px,#fae9de 427px,#f6f6f5 429px,#dbeaf2 432px,#dbeaf2 473px,#f6f6f6 476px,#fce2d2 480px,#fbd2bb 487px,#fbceb7 519px,#fbe4d6 548px,#fbe4d7 831px)"></div>
<div style="top:159px;height:3px;background:linear-gradient(90deg,#fff 0px,#fff 150px,#f9efe9 151px,#fbe5d8 157px,#fcd5bf 281px,#fbe2d4 290px,#f5f6f7 295px,#d3e6f0 297px,#a7d0e4 298px,#70b0d3 299px,#4493c3 300px,#327db8 302px,#195696 321px,#2062a5 332px,#3e8dc0 350px,#529dc8 351px,#b7d8e8 353px,#deebf2 354px,#f3f4f5 355px,#fce0cf 359px,#fbceb7 365px,#f9c4aa 404px,#fbceb7 422px,#fae9df 428px,#f3f5f6 430px,#d6e7f1 433px,#d3e6f0 469px,#dbeaf2 473px,#f2f5f6 475px,#fcdecd 480px,#fbd0b9 486px,#fbcfb8 523px,#fbe4d7 547px,#fbe3d4 831px)"></div>
<div style="top:162px;height:3px;background:linear-gradient(90deg,#fff 0px,#fff 150px,#f9efe9 151px,#fbe5d8 157px,#fcd5bf 280px,#fce2d2 290px,#f7f7f6 295px,#e3edf3 297px,#cee4ef 298px,#a3cee3 299px,#68abd0 300px,#3b88bd 301px,#2b73b2 302px,#1b5a9c 306px,#09386c 318px,#0a396e 328px,#2469ad 344px,#2d76b4 348px,#3681ba 349px,#4d99c6 350px,#c1ddeb 352px,#e4eef3 353px,#f6f4f4 354px,#fcdecd 358px,#fbccb4 363px,#f9c2a7 395px,#fac9b0 422px,#fddac6 426px,#fae9df 429px,#edf2f5 431px,#cde3ef 434px,#bedbeb 455px,#cde3ef 471px,#edf2f5 474px,#faebe3 476px,#fcd6c1 481px,#fbccb4 491px,#fbd0b9 526px,#fbe6d9 548px,#fce2d2 831px)"></div>
<div style="top:165px;height:3px;background:linear-gradient(90deg,#fff 0px,#fff 150px,#f9efe9 151px,#fbe5d8 157px,#fcd5c0 280px,#fbe4d7 291px,#f7f6f5 295px,#dbeaf2 298px,#c6e0ed 299px,#9fcbe2 300px,#62a7ce 301px,#3681ba 302px,#2267ab 303px,#185594 304px,#0c3d74 308px,#053061 314px,#073466 334px,#1f62a7 346px,#3783bb 348px,#5fa4cc 349px,#9cc9e1 350px,#cee3ef 351px,#eaf1f5 352px,#f7f4f2 353px,#fdddca 357px,#facbb2 362px,#f9c0a5 383px,#f9c5ab 422px,#fbd2bb 426px,#faebe2 430px,#f6f4f3 431px,#bedbeb 435px,#9dcbe1 453px,#bedbeb 470px,#f6f5f4 474px,#fce1d1 477px,#fbd0b9 482px,#facbb2 509px,#fcd3bc 529px,#fae7dc 549px,#fbe5d8 589px,#fce2d2 831px)"></div>
<div style="top:168px;height:3px;background:linear-gradient(90deg,#fff 0px,#fff 150px,#f9efe9 151px,#fbe5d8 157px,#fcd5bf 279px,#fbe3d4 290px,#f2f5f6 296px,#d4e6f1 299px,#bddbea 300px,#99c8e0 301px,#3784bb 303px,#2266a8 304px,#144d89 305px,#09376b 307px,#053061 311px,#063264 337px,#134c87 343px,#2165a7 345px,#317bb7 346px,#539ac7 347px,#bfdceb 349px,#e0ecf3 350px,#f1f4f6 351px,#fddcc9 356px,#fac8af 362px,#f8bfa3 385px,#f9c3a8 423px,#fbd0b9 427px,#f9ebe3 431px,#f5f5f4 432px,#b8d8e9 435px,#a9d1e5 437px,#96c7df 444px,#6daed1 451px,#70b0d3 455px,#a2cde3 464px,#aed3e6 469px,#b8d8e9 470px,#f5f5f5 473px,#fce0d0 476px,#fbceb6 482px,#fbceb6 523px,#fae9df 552px,#fbe6da 586px,#fbe3d5 663px,#fce2d2 831px)"></div>
<div style="top:171px;height:3px;background:linear-gradient(90deg,#fff 0px,#fff 150px,#f9efe9 151px,#fbe5d8 157px,#fcd5bf 279px,#fbe3d4 290px,#f6f6f7 296px,#d0e4ef 300px,#a0cce2 302px,#4893c3 304px,#2b73b2 305px,#0d4077 307px,#073466 308px,#053162 338px,#0d4078 341px,#134a85 342px,#1c5c9d 343px,#2f79b5 344px,#589ec9 345px,#91c3dd 346px,#c0dceb 347px,#ddebf2 348px,#f6f4f4 350px,#fcd7c2 356px,#f9c3a8 364px,#f8bda1 399px,#f9c2a7 425px,#fcd4be 429px,#faebe2 432px,#f3f3f3 433px,#a5cee3 436px,#8cc1dc 438px,#69abd0 444px,#408dc0 449px,#3885bc 454px,#569fc9 459px,#7fb9d7 464px,#95c6df 468px,#a5cee3 469px,#ddebf2 471px,#f2f4f5 472px,#fcdfcf 475px,#fbceb6 480px,#fbccb4 523px,#fae9df 551px,#fae7dc 584px,#fbe3d4 613px,#fce2d2 831px)"></div>
<div style="top:174px;height:3px;background:linear-gradient(90deg,#fff 0px,#fff 150px,#f9efe9 151px,#fbe5d8 157px,#fcd5bf 280px,#fbe6d9 292px,#eff3f6 298px,#c5dfec 302px,#94c5de 304px,#4b94c4 306px,#2e77b2 307px,#10447d 309px,#083669 310px,#053061 312px,#063163 337px,#10447d 339px,#276ca9 341px,#3f86bd 342px,#63a4cc 343px,#bfdceb 345px,#dae9f2 346px,#f4f4f4 348px,#fcd4be 355px,#f9c1a6 363px,#f8bb9e 411px,#f9c3a8 427px,#fcd9c4 431px,#f6f2f0 434px,#e2edf3 435px,#77b4d5 438px,#5da3cc 440px,#2469ac 450px,#2165a8 454px,#4f9bc7 463px,#65a9cf 466px,#76b3d4 467px,#e0ecf3 470px,#f5f3f1 471px,#fcdecc 474px,#fbcdb5 479px,#fbccb4 524px,#faeae1 552px,#fae7dc 584px,#fbe2d4 616px,#fce2d2 831px)"></div>
<div style="top:177px;height:3px;background:linear-gradient(90deg,#fff 0px,#fff 150px,#f9efe9 151px,#fbe5d8 157px,#fcd5bf 281px,#fbe5d7 293px,#f5f5f5 299px,#cce2ee 304px,#a8d0e4 306px,#4d94c4 309px,#2264a0 311px,#0f437b 313px,#073467 315px,#053061 328px,#073466 333px,#0e4179 335px,#2264a0 337px,#5297c5 339px,#a1cbe2 341px,#d6e7f0 343px,#f6f2ef 346px,#fbd0b9 353px,#f8bfa4 360px,#f7ba9d 415px,#f9c0a5 428px,#fcd5bf 432px,#fbe3d5 434px,#f9eee8 435px,#ebf1f4 436px,#c9e1ed 437px,#6daed1 439px,#549dc9 440px,#4494c3 441px,#2267ac 448px,#175290 452px,#1a599a 455px,#276eb0 458px,#4494c3 464px,#549dc9 465px,#6daed1 466px,#c7e0ed 468px,#eaf1f5 469px,#f8f0ec 470px,#fce0d0 472px,#fbceb6 477px,#fbcdb5 525px,#faeae1 552px,#fae9df 580px,#fce2d2 607px,#fce2d2 831px)"></div>
<div style="top:180px;height:3px;background:linear-gradient(90deg,#fff 0px,#fff 150px,#f9efe9 151px,#fbe5d8 157px,#fcd5bf 283px,#fbe5d9 296px,#f6efec 303px,#e6edf0 307px,#bcdae9 310px,#5f9eca 314px,#2b6ca4 317px,#144b84 322px,#124982 326px,#2d6ea6 331px,#5a9ac7 334px,#cce2ed 338px,#f2edeb 341px,#fbd5c0 347px,#f7b99c 354px,#f8bc9f 428px,#fac8af 432px,#fae7dc 436px,#f4f1ef 437px,#dceaf2 438px,#84bbd9 440px,#5fa5cd 441px,#4795c4 442px,#1e5fa3 449px,#175290 452px,#1a599a 455px,#276eb0 458px,#4795c4 463px,#5fa5cd 464px,#dae9f1 467px,#f3f2f1 468px,#fdddcb 471px,#facbb3 476px,#fbccb4 526px,#f9eee7 555px,#faebe2 577px,#fce1d1 603px,#fce2d2 831px)"></div>
<div style="top:183px;height:3px;background:linear-gradient(90deg,#fff 0px,#fff 150px,#f9efe9 151px,#fbe5d8 157px,#fcd4be 287px,#fcdfcf 300px,#f7bca0 305px,#f7c0a7 308px,#f3e3da 313px,#e0e5e8 316px,#a3cbe1 324px,#b6d5e6 327px,#ede7e3 333px,#f9cfba 337px,#f5b599 340px,#f5ab8a 349px,#f4a685 357px,#f7b799 369px,#f8bb9e 431px,#fbccb4 435px,#fae8de 438px,#f3efed 439px,#e0ecf2 440px,#93c4de 442px,#69abd0 443px,#4a96c5 444px,#337eb8 446px,#1e61a4 452px,#2970b1 457px,#3b88be 460px,#4a96c5 461px,#69abd0 462px,#bedbea 464px,#e0ecf2 465px,#f2f0ef 466px,#fcdcc9 469px,#facbb2 474px,#fbccb4 527px,#f7f4f2 559px,#f9efea 574px,#fce0d0 595px,#fce0d0 831px)"></div>
<div style="top:186px;height:3px;background:linear-gradient(90deg,#fff 0px,#fff 150px,#f9efe9 151px,#fbe5d8 157px,#fcd3bd 292px,#fcd3bd 299px,#f9c2a7 301px,#e7876b 304px,#d86653 306px,#d66150 308px,#eb9378 315px,#f4b69d 322px,#f4b298 327px,#e88d72 333px,#d76452 338px,#d86452 340px,#ea8d70 346px,#ed9576 356px,#f6b394 366px,#f7b596 434px,#fac9b0 438px,#fae9e0 441px,#efedec 442px,#dae8f0 443px,#70afd2 446px,#4a93c3 448px,#337db8 451px,#337db8 454px,#4a93c3 457px,#70afd2 459px,#d9e8f0 462px,#efedec 463px,#fbdece 465px,#facab1 468px,#fac8af 487px,#fbceb7 530px,#f9f0eb 549px,#eef3f5 556px,#e7eff4 565px,#f8f3f0 575px,#fce1d1 591px,#fce0d0 831px)"></div>
<div style="top:189px;height:3px;background:linear-gradient(90deg,#fff 0px,#fff 150px,#f9efe9 151px,#fbe5d8 157px,#fbccb4 297px,#f8bda1 300px,#f09c7b 302px,#cb4a43 305px,#bd2e35 307px,#bd2e35 311px,#cc4c44 323px,#c53d3d 332px,#be2f36 338px,#c84540 341px,#dd7059 345px,#ed9576 358px,#f6af8f 365px,#f7b495 393px,#f6b191 426px,#f09e7d 437px,#f2a88b 441px,#f7dcce 445px,#e8e6e5 447px,#b0d2e5 452px,#b9d7e7 454px,#e8e6e5 458px,#f8ceb9 461px,#f0a083 464px,#ee997a 466px,#f9c2a7 473px,#fbccb4 530px,#faeae1 545px,#f3f5f6 550px,#c2ddeb 561px,#c7e0ed 566px,#f7f5f4 577px,#fbe3d4 588px,#fcdecc 612px,#fcdfcf 831px)"></div>
<div style="top:192px;height:3px;background:linear-gradient(90deg,#fff 0px,#fff 150px,#f9efe9 151px,#fbe5d8 157px,#fbceb6 287px,#f9c2a7 298px,#f6b394 300px,#f4a583 301px,#ce4f45 304px,#b6202f 306px,#a71429 308px,#af182b 338px,#be3137 341px,#d7634f 345px,#ef9979 359px,#f6af8f 366px,#f6af8f 424px,#ec9374 432px,#db6c56 439px,#d45c4d 442px,#de735d 445px,#f1a98e 450px,#f3b298 453px,#ee9f84 456px,#d1574b 462px,#cc4b43 464px,#d2594b 466px,#f3a381 470px,#f8bda0 473px,#f9c6ac 481px,#fbccb4 531px,#fae7dc 543px,#f3f5f6 548px,#c3deec 554px,#80b9d8 560px,#78b5d5 563px,#89bfdb 566px,#deebf2 574px,#f8f4f2 579px,#fce2d2 588px,#fdddcb 614px,#fcdfcf 831px)"></div>
<div style="top:195px;height:3px;background:linear-gradient(90deg,#fff 0px,#fff 150px,#f9efe9 151px,#fbe5d8 157px,#fbceb7 284px,#f9c1a6 297px,#f5ac8b 300px,#e58368 302px,#c84440 304px,#ba2832 305px,#ae172a 306px,#970f27 308px,#8b0c25 320px,#a21328 338px,#b31a2c 340px,#d45c4b 345px,#f5aa89 364px,#f6b191 377px,#f5ac8b 425px,#e37e64 434px,#d55e4c 438px,#c03539 442px,#c13739 446px,#cc4c44 452px,#c6403e 457px,#ba2832 463px,#be3137 465px,#d05548 467px,#f5a987 471px,#f9c0a5 475px,#f9c6ac 501px,#fbcdb5 532px,#fbe6d9 542px,#f3f5f6 547px,#d1e5f0 551px,#529cc8 558px,#3d8abf 561px,#418ec1 565px,#519cc8 567px,#bfdceb 573px,#e2edf3 576px,#f8f4f2 580px,#fce2d2 588px,#fddcc9 607px,#fcdfcd 831px)"></div>
<div style="top:198px;height:3px;background:linear-gradient(90deg,#fff 0px,#fff 150px,#f9efe9 151px,#fbe5d8 157px,#fbceb7 283px,#f8bea2 297px,#f5a987 300px,#e27c62 302px,#c53d3d 304px,#b6212f 305px,#981027 307px,#840924 312px,#7f0823 323px,#9d1128 338px,#b0172b 340px,#d35a4a 345px,#f5aa88 364px,#f6b191 377px,#f5ac8b 424px,#ef9979 429px,#d25849 438px,#bc2b34 442px,#b72230 446px,#b72230 458px,#b72330 464px,#c3393b 466px,#e37f65 469px,#f4a583 471px,#f8bb9e 474px,#f9c4a9 482px,#fbccb4 532px,#fce2d3 541px,#f7f6f5 546px,#d6e8f1 550px,#8cc1dc 554px,#4594c4 557px,#317bb7 561px,#337eb8 565px,#4594c4 568px,#b4d6e8 573px,#dfecf3 576px,#f8f4f2 580px,#fce1d2 588px,#fddcc9 604px,#fcdecd 831px)"></div>
<div style="top:201px;height:3px;background:linear-gradient(90deg,#fff 0px,#fff 150px,#f9efe9 151px,#fbe5d8 157px,#fbcfb8 279px,#f9c0a5 295px,#f6b090 299px,#ec9374 301px,#c33a3b 304px,#b61f2e 305px,#960f27 307px,#820923 311px,#780522 322px,#9c1127 338px,#ae172a 340px,#d3594a 345px,#e27b62 353px,#f5a987 364px,#f6b394 374px,#f6af8e 422px,#f19e7d 428px,#d6604d 437px,#ba2832 442px,#b41c2d 447px,#b41c2d 463px,#c2383a 466px,#e27c62 469px,#f3a481 471px,#f7ba9d 474px,#f9c4a9 484px,#facab1 532px,#fbe3d5 542px,#f6f6f6 547px,#d4e6f0 551px,#8dc2dc 555px,#529cc8 558px,#3c88be 561px,#408dc0 565px,#529cc8 567px,#c5dfec 573px,#ecf2f5 577px,#f8f2ef 580px,#fce0d0 588px,#fdddca 619px,#fcdecb 831px)"></div>
<div style="top:204px;height:3px;background:linear-gradient(90deg,#fff 0px,#fff 150px,#f9efe9 151px,#fbe5d8 157px,#fbcfb8 278px,#f8bfa3 295px,#f6af8e 299px,#eb9172 301px,#c2383a 304px,#b61f2e 305px,#960f27 307px,#810823 311px,#740421 320px,#960f27 337px,#ae172a 340px,#d25849 345px,#dd7059 350px,#f6b191 366px,#f8bea2 377px,#f8bc9f 393px,#f7b99c 416px,#f3a481 427px,#d6604d 437px,#ba2832 442px,#b31a2c 448px,#b41c2d 463px,#c2383a 466px,#d7634f 468px,#f2a17f 471px,#f7b89a 474px,#f9c2a7 483px,#facab1 533px,#fbe6d9 544px,#f4f5f5 549px,#d0e4ef 554px,#8dc1dc 560px,#83bbd9 563px,#9fcbe1 567px,#e0ecf3 573px,#f8f3f0 578px,#fbe3d4 586px,#fce0d0 630px,#fcdecb 790px,#fdddcb 831px)"></div>
<div style="top:207px;height:3px;background:linear-gradient(90deg,#fff 0px,#fff 150px,#f9efe9 151px,#fbe5d8 157px,#fbcfb8 277px,#f8bb9e 296px,#f5ac8b 299px,#ea8e70 301px,#c2383a 304px,#b61f2e 305px,#960f27 307px,#810823 311px,#760521 321px,#9c1127 338px,#b0172b 340px,#d25849 345px,#dd7059 350px,#f5a886 363px,#fcd3bc 374px,#fbceb7 379px,#fac7ad 387px,#fcd4bf 396px,#fac7ae 405px,#fbd1ba 413px,#f19e7d 428px,#d6604d 437px,#ba2832 442px,#b41c2d 447px,#b51e2e 463px,#bb2a34 465px,#cb4942 467px,#f19e7d 471px,#f7b89b 475px,#f9c5ab 490px,#f9c6ac 529px,#fcd7c2 540px,#f5efeb 554px,#e1ecf2 563px,#f9ece4 574px,#fce2d3 590px,#fbe5d7 723px,#fcdecb 792px,#fddcca 831px)"></div>
<div style="top:210px;height:3px;background:linear-gradient(90deg,#fff 0px,#fff 150px,#f9efe9 151px,#fbe5d8 157px,#fbd0b9 275px,#f8bc9f 295px,#f5ac8b 299px,#ea8e70 301px,#c33a3b 304px,#b61f2e 305px,#970f27 307px,#7f0823 313px,#780522 322px,#9e1228 338px,#b1182b 340px,#d25849 345px,#dd7059 350px,#f2a17f 361px,#fbceb7 369px,#fbe2d4 374px,#fcdfcd 379px,#fcd3bd 385px,#fcdcc9 391px,#fbe3d5 396px,#fcd5bf 404px,#fce1d2 413px,#fcd4be 417px,#f5ac8b 424px,#ee9677 429px,#d6604d 437px,#b72230 443px,#b41c2d 460px,#b72230 464px,#c13639 466px,#e0775e 469px,#f4a784 472px,#f7ba9d 477px,#fbcdb5 490px,#f8bfa4 502px,#facab1 536px,#fcdbc8 547px,#f8bda1 554px,#f9c8b0 564px,#f7ba9e 572px,#fbcfb7 576px,#fcdecd 579px,#fae7dc 605px,#f9ece4 662px,#f7f2ee 677px,#fae9df 694px,#fbe4d6 785px,#fddcc9 804px,#fddcc9 831px)"></div>
<div style="top:213px;height:3px;background:linear-gradient(90deg,#fff 0px,#fff 150px,#f9efe9 151px,#fbe5d8 157px,#fbd0b9 275px,#f7b99c 296px,#f2a17f 300px,#d35a4a 303px,#b72230 305px,#9a1027 307px,#830924 312px,#7b0622 322px,#9f1228 338px,#b1182b 340px,#d35a4a 345px,#f2a07e 361px,#fac7ad 367px,#fbe4d6 372px,#faeae1 376px,#fddac6 385px,#fbe5d8 392px,#fae9df 397px,#fddcc9 404px,#fae8dd 413px,#fddcc9 417px,#f6b191 423px,#eb9172 430px,#d25849 438px,#bb2a34 442px,#b41c2d 446px,#b61f2e 463px,#c13639 466px,#df755d 469px,#f3a380 472px,#f8bfa3 479px,#fcdac6 487px,#fcd3bc 493px,#f8bda1 501px,#fac7ad 526px,#fbcfb8 542px,#fbcfb8 546px,#f7b99c 549px,#e37f65 553px,#dc6d58 556px,#dc6d58 567px,#dc6d58 571px,#e37d63 573px,#f8bda1 577px,#fdd8c3 580px,#faeae1 598px,#f9eee8 656px,#ebf1f5 665px,#d3e6f0 673px,#e4eef4 680px,#f8f1ed 688px,#f9ede6 699px,#fae8de 785px,#fddcc9 799px,#fddbc8 831px)"></div>
<div style="top:216px;height:3px;background:linear-gradient(90deg,#fff 0px,#fff 150px,#f9efe9 151px,#fbe5d8 158px,#fbd0b9 274px,#f7b799 296px,#f2a17f 300px,#e17860 302px,#c53e3d 304px,#b82531 305px,#ab162a 306px,#8f0d25 309px,#7e0723 319px,#950f26 334px,#a9152a 339px,#b92631 341px,#d35a4a 345px,#e37e64 354px,#f5aa89 363px,#fcdfcf 370px,#f9ede6 375px,#fddcc9 386px,#f9ede6 396px,#fcdecc 404px,#faebe3 413px,#fddac5 418px,#f6b191 423px,#e17860 434px,#cb4942 439px,#b82531 443px,#b41c2d 450px,#b72230 464px,#c13639 466px,#de725b 469px,#f19f7d 472px,#fcdfcf 485px,#fce2d2 491px,#f9c1a6 500px,#fac7ae 512px,#f9c3a8 521px,#fbd0b9 530px,#fac8af 541px,#f9c5ab 546px,#f5aa88 549px,#d55f4d 553px,#c84540 556px,#c84540 570px,#d6604d 573px,#f6af8f 577px,#fbd0b9 580px,#f9ede5 596px,#f8f1ed 643px,#f9efea 654px,#eff3f5 660px,#c9e1ee 665px,#85bcd9 671px,#7bb6d6 674px,#8cc0dc 677px,#dbeaf2 684px,#f7f5f4 690px,#f9efea 700px,#f9ebe3 785px,#fddbc8 799px,#fddbc7 831px)"></div>
<div style="top:219px;height:3px;background:linear-gradient(90deg,#fff 0px,#fff 150px,#f9efe9 151px,#fbe5d8 159px,#fbd0b9 273px,#f7b698 296px,#f5aa89 299px,#eb9172 301px,#c6413e 304px,#ae172a 306px,#920e26 309px,#830924 321px,#a41329 338px,#b31a2c 340px,#d35a4a 345px,#e37e64 354px,#f5aa88 363px,#fce1d1 370px,#f9eee8 375px,#fbe4d6 381px,#fdddcb 386px,#f9eee8 396px,#fcdecd 405px,#f9ece4 413px,#fce0d0 417px,#f6b191 423px,#e17860 434px,#cb4942 439px,#b82531 443px,#b41c2d 455px,#b72330 464px,#c13639 466px,#dd6f59 469px,#ef9b7a 472px,#fbceb7 480px,#fbe5d8 485px,#fae7db 491px,#facbb3 498px,#f9c4a9 502px,#fcd3bc 510px,#f9c4aa 519px,#fddac6 528px,#fbd0b9 534px,#f9c2a7 540px,#f8bc9f 546px,#f19f7d 549px,#d05447 553px,#c2383a 556px,#c2383a 570px,#d05548 573px,#f4a683 577px,#f9c6ac 580px,#f7f5f4 599px,#f6f6f5 644px,#f9ede5 652px,#f5f6f7 658px,#cde3ef 663px,#509bc8 670px,#3f8ec1 672px,#3f8ec1 675px,#509bc8 677px,#cbe2ee 684px,#f2f5f6 689px,#f9f0eb 699px,#f9ede5 785px,#fddbc7 799px,#fddac6 831px)"></div>
<div style="top:222px;height:3px;background:linear-gradient(90deg,#fff 0px,#fff 150px,#f9efe9 151px,#fbe5d8 159px,#fbd0b9 272px,#f6b394 297px,#f2a17f 300px,#e27b62 302px,#bc2b34 305px,#b1182b 306px,#970f27 309px,#890b24 321px,#a61429 338px,#b41c2d 340px,#d35a4a 345px,#e37e64 354px,#f5a886 363px,#fce2d2 370px,#f9efe9 375px,#fae7dc 380px,#fdddcb 385px,#fbe4d6 390px,#f9efe9 395px,#fae7dc 400px,#fcdecd 405px,#f9ede5 413px,#fddbc7 418px,#f6af8e 423px,#ea8f71 430px,#d25849 438px,#bb2a34 442px,#b61f2e 447px,#b61f2e 463px,#c13639 466px,#e98c6f 471px,#fac8af 479px,#fce2d2 483px,#faeae1 488px,#fce2d3 494px,#fac7ae 500px,#fcd3bc 505px,#fddbc8 510px,#fac7ae 519px,#fce1d1 528px,#fddbc7 533px,#f9c0a5 539px,#f6b394 546px,#ee9677 549px,#cd4e45 553px,#c03539 556px,#c03539 570px,#ce5045 573px,#e8896c 576px,#f7b596 579px,#f9c6ac 583px,#fcdecc 590px,#f6f6f6 596px,#e6eff4 603px,#e7f0f4 641px,#f7f6f5 646px,#fae8de 652px,#f9efe9 657px,#ebf1f5 661px,#c2ddec 665px,#6aacd0 671px,#5fa5cd 674px,#74b2d4 677px,#d8e8f1 684px,#f7f5f4 689px,#f9eee8 697px,#f9eee7 785px,#fddbc7 798px,#fdd9c4 831px)"></div>
<div style="top:225px;height:3px;background:linear-gradient(90deg,#fff 0px,#fff 150px,#f9efe9 151px,#fbe6da 158px,#fbd0b9 271px,#f6b394 297px,#f2a17f 300px,#e37d63 302px,#bd2e35 305px,#b41b2d 306px,#9b1127 309px,#900d26 322px,#a81529 338px,#b51e2e 340px,#d35a4a 345px,#e37e64 354px,#f5a886 363px,#fcd3bc 368px,#fae9df 372px,#f9eee7 377px,#fdddca 385px,#fbe4d6 390px,#f9efe9 395px,#fae7dc 400px,#fcdecd 405px,#f9ede5 413px,#fddbc7 418px,#f7b495 422px,#dd7059 435px,#cb4a43 439px,#b82531 443px,#b61f2e 460px,#bb2a34 465px,#d25849 468px,#e8896c 471px,#f8bda1 478px,#fce1d2 483px,#faeae1 488px,#fbe5d7 493px,#fac7ae 500px,#fcdecd 509px,#fcd4be 515px,#facab1 519px,#fbe4d6 528px,#fdddca 533px,#f7b99c 540px,#f5ac8b 546px,#ea8e70 549px,#cc4b43 553px,#bf3338 556px,#bf3338 570px,#cc4c44 573px,#f3a481 578px,#f7b89a 581px,#facbb2 588px,#f7f7f7 595px,#ddebf2 600px,#dceaf2 640px,#f7f6f5 646px,#fce2d3 651px,#fce0d0 656px,#f2f1f1 664px,#c8e0ed 673px,#d6e7f0 678px,#f6f2ef 685px,#faeae1 693px,#f9f0eb 714px,#f8f0eb 784px,#fdd9c4 799px,#fdd8c3 831px)"></div>
<div style="top:228px;height:3px;background:linear-gradient(90deg,#fff 0px,#fff 150px,#f9efe9 151px,#fbe6da 159px,#fbd0b9 270px,#f6af8e 298px,#ec9374 301px,#be3137 305px,#b51e2e 306px,#9f1228 309px,#960f27 323px,#ab162a 338px,#b61f2e 340px,#d35a4a 345px,#e37e64 354px,#f4a683 363px,#fce0d0 370px,#f9eee8 375px,#fbe3d5 381px,#fddcc9 386px,#f9eee8 396px,#fcdecc 405px,#f9ece4 413px,#fddac5 418px,#f6b394 422px,#e37e64 433px,#cc4c44 439px,#bb2a34 442px,#b61f2e 448px,#b82531 464px,#c84440 467px,#e68569 471px,#f7b698 478px,#fdddcb 483px,#fae7dc 488px,#fce0d0 493px,#f9c3a8 499px,#facbb3 503px,#fcdecb 508px,#fcd7c2 514px,#f9c6ac 519px,#fbe2d4 527px,#fcdecd 532px,#f6b394 540px,#f2a07e 547px,#d96753 551px,#c53e3d 554px,#bd2d35 558px,#bf3338 570px,#cb4942 573px,#f09c7b 578px,#f6af8f 581px,#f9c1a6 588px,#f7f6f6 595px,#dae9f2 600px,#dae9f2 640px,#f4f5f6 645px,#fcd3bc 652px,#fbd0b9 658px,#fae6db 674px,#fcdbc9 687px,#f8f0eb 706px,#f8f4f1 765px,#f3f4f5 784px,#f9ece4 789px,#fddbc7 797px,#fcd7c2 831px)"></div>
<div style="top:231px;height:3px;background:linear-gradient(90deg,#fff 0px,#fff 150px,#f9efe9 151px,#fbe6da 160px,#fbd0b9 269px,#f5ae8d 298px,#ec9374 301px,#c03438 305px,#af172a 307px,#a01228 311px,#a01228 329px,#ad162a 338px,#b72230 340px,#d7634f 346px,#f2a07e 362px,#f8bb9e 366px,#fbe3d4 371px,#f9ede5 376px,#fddac6 385px,#fbe4d7 391px,#f9ede5 396px,#fddcc9 405px,#faeae1 413px,#fdddcb 417px,#f6b192 422px,#e37e64 433px,#cc4c44 439px,#bd2d35 442px,#b6202f 446px,#b82531 464px,#c84440 467px,#e58167 471px,#f6b394 479px,#fcdbc7 485px,#fcdfcf 490px,#facab1 495px,#f7b799 499px,#f9c2a7 503px,#fcd7c2 508px,#fcd3bc 513px,#f8bda1 519px,#fcd3bc 524px,#fcdfce 528px,#fcd9c4 532px,#f5ac8b 540px,#f19e7d 546px,#e58167 549px,#c94641 553px,#bd2e35 557px,#be3036 570px,#c94741 573px,#df765e 576px,#f19d7c 579px,#f7b799 588px,#f9f0eb 595px,#f1f4f6 597px,#e1edf3 603px,#e3eef3 640px,#f5f5f4 644px,#fac7ae 651px,#f7ba9d 656px,#f6b191 663px,#f1a385 669px,#f4ac8c 684px,#fce0cf 696px,#f7f4f3 705px,#f6f5f5 757px,#e2edf3 770px,#d3e6f0 780px,#e2edf3 786px,#f6f4f4 789px,#fcdfce 795px,#fcd7c2 805px,#fcd6c1 831px)"></div>
<div style="top:234px;height:3px;background:linear-gradient(90deg,#fff 0px,#fff 150px,#f9efe9 151px,#fbe6da 160px,#fbd0b9 267px,#f5ac8b 298px,#f2a17f 300px,#e48066 302px,#c13739 305px,#b1182b 307px,#a31329 312px,#a71429 334px,#b3192c 339px,#d7634f 346px,#f3a380 363px,#fbd0b9 369px,#fae7dc 374px,#fbe5d9 378px,#fcd3bc 385px,#fcdfcf 391px,#fae9df 396px,#fcd5bf 404px,#fbe6da 413px,#fcd7c2 417px,#f5ae8d 422px,#e58368 432px,#cc4c44 439px,#ba2832 443px,#b6202f 457px,#b82531 464px,#c6413e 467px,#e37d63 471px,#ef9979 476px,#f7b495 482px,#facab1 487px,#fac7ad 491px,#f4a886 498px,#f6b293 503px,#fac7ae 509px,#f7b89b 515px,#f6af8e 519px,#f9c0a5 524px,#fbceb7 528px,#f9c6ac 532px,#f2a17f 539px,#e98b6e 547px,#c7423f 553px,#bd2d35 557px,#be3036 570px,#c7433f 573px,#ea8f71 579px,#f4a886 588px,#f9c5ab 592px,#fbe5d9 596px,#f7f0eb 600px,#f8f0ec 641px,#fbe3d5 645px,#f7b89a 651px,#f19f7e 661px,#db6d57 667px,#d86552 674px,#db6d57 682px,#e98c6f 686px,#f6b394 690px,#fcdfcf 698px,#f6f6f5 702px,#e8f0f4 708px,#ecf2f5 753px,#d3e6f0 767px,#a5cfe4 776px,#a6cfe4 782px,#c3deec 786px,#f8f4f2 791px,#fcdfce 796px,#fcd5bf 806px,#fcd5bf 831px)"></div>
<div style="top:237px;height:3px;background:linear-gradient(90deg,#fff 0px,#fff 150px,#f9efe9 151px,#fbe6da 161px,#fbd0b9 265px,#f5a886 299px,#ec9374 301px,#c2383a 305px,#b31a2c 307px,#a71429 312px,#ab162a 336px,#b41c2d 339px,#d7634f 346px,#f5a886 365px,#fcddca 374px,#fcddcb 377px,#f9c4a9 384px,#fac9b0 389px,#fcdfce 395px,#fbd2bb 400px,#f9c5ab 404px,#fcd3bc 409px,#fcdbc8 413px,#fac7ae 417px,#f5a886 422px,#ea8e70 430px,#d6604d 437px,#ba2832 443px,#b72230 460px,#b82531 464px,#c6413e 467px,#e17960 471px,#eb9172 476px,#f2a585 489px,#e8896c 499px,#f3a686 510px,#eb9172 520px,#f4ab8b 529px,#eb9072 536px,#e17a61 543px,#db6b55 548px,#c03539 554px,#bb2a34 561px,#be3137 571px,#ce4f45 575px,#de735c 579px,#ea8e70 590px,#f9c3a8 598px,#faceb7 605px,#fbd1bb 641px,#f7b799 647px,#f19f7e 653px,#ed9576 660px,#cf5246 667px,#c94741 673px,#ce4f45 682px,#de735c 686px,#f2a280 690px,#f9c0a5 696px,#f8f2ee 701px,#e9f0f4 703px,#d9e9f1 707px,#d7e8f1 757px,#c5dfed 765px,#7fb9d7 777px,#86bdda 782px,#add3e6 786px,#e9f1f4 790px,#f5f6f7 791px,#fce0d0 796px,#fcd5bf 804px,#fcd4be 831px)"></div>
<div style="top:240px;height:3px;background:linear-gradient(90deg,#fff 0px,#fff 150px,#f9efe9 151px,#fbe6da 162px,#fddbc7 233px,#facbb2 270px,#f5aa89 298px,#ec9273 301px,#c33a3b 305px,#b41c2d 307px,#a9152a 314px,#af172a 337px,#b82531 340px,#d45c4b 345px,#ed9576 362px,#f5ac8b 369px,#f9c2a7 375px,#f4aa89 385px,#f9c2a7 396px,#f5ac8c 405px,#f8bea2 413px,#f19e7d 423px,#ea8e70 430px,#d6604d 437px,#ba2832 443px,#b72230 460px,#bb2a34 465px,#e0775e 471px,#e6866a 475px,#e27c62 483px,#d55e4d 499px,#dc6e59 511px,#d76350 520px,#dd715a 530px,#ce4f45 543px,#c53e3d 550px,#bb2a34 557px,#bd2e35 572px,#ce4f45 581px,#d35b4c 591px,#e48066 602px,#eb9173 643px,#e48066 653px,#e48066 660px,#ca4842 667px,#c63f3d 673px,#c84540 682px,#da6853 686px,#ef9979 691px,#f6af8f 696px,#fac7ad 698px,#f9efe9 701px,#f5f6f7 702px,#dae9f2 705px,#d2e6f0 714px,#cde3ef 760px,#b0d4e7 768px,#7fb9d7 777px,#82bbd9 781px,#a3cee3 785px,#eef3f5 790px,#f9efea 792px,#fdddca 797px,#fcd3bc 808px,#fcd3bc 831px)"></div>
<div style="top:243px;height:3px;background:linear-gradient(90deg,#fff 0px,#fff 150px,#f9efe9 151px,#fbe6da 162px,#fbd2bb 259px,#f4a583 299px,#eb9172 301px,#c43b3c 305px,#b61f2e 307px,#ad162a 313px,#b3192c 338px,#c53e3d 342px,#d7634f 346px,#ea8e70 360px,#ed9475 367px,#f3a482 376px,#ea8f71 385px,#f3a482 395px,#ed9475 404px,#ec9374 408px,#f3a381 413px,#eb9172 429px,#db6b55 436px,#bd2d35 442px,#b72230 448px,#ba2832 464px,#c53e3d 467px,#de725b 471px,#e37d63 475px,#d76450 481px,#c63f3d 488px,#c03539 499px,#c13739 516px,#c13739 534px,#bb2a34 549px,#be3036 593px,#c6403e 610px,#d2584a 654px,#d6604e 661px,#c53d3d 669px,#c6403e 682px,#d55f4d 686px,#e8896c 691px,#f19f7e 696px,#f7b799 698px,#fae8dd 701px,#f8f3f0 702px,#e7eff4 704px,#d6e7f1 710px,#cfe4ef 763px,#a6cfe4 777px,#b3d6e7 782px,#eef1f3 788px,#fbe6d9 792px,#fcd4be 801px,#fcd3bc 831px)"></div>
<div style="top:246px;height:3px;background:linear-gradient(90deg,#fff 0px,#fff 150px,#f9efe9 151px,#fbe5d9 165px,#fbd1ba 258px,#f3a380 299px,#ea8f71 301px,#c43b3c 305px,#b6212f 307px,#b0172b 312px,#b41c2d 338px,#c53e3d 342px,#d7634f 346px,#ea8d70 361px,#e98c6f 367px,#ec9374 376px,#e68469 385px,#ec9374 393px,#eb9072 402px,#e7876b 408px,#ec9374 415px,#eb9172 429px,#db6b55 436px,#bd2d35 442px,#b72230 450px,#ba2832 464px,#c53e3d 467px,#da6a55 471px,#db6b55 475px,#ba2833 486px,#b51d2d 499px,#b6212f 550px,#ba2832 566px,#b61f2e 577px,#b82431 625px,#bf3338 655px,#c53e3d 664px,#c43c3c 682px,#d35a4a 687px,#e17860 692px,#e7886b 696px,#f1a07f 698px,#fbdecd 702px,#f9ede7 704px,#edf1f3 711px,#dbeaf2 739px,#e8eff2 769px,#efedec 781px,#fae4d7 786px,#fcd7c3 790px,#fbd0b9 823px,#fbd0b9 831px)"></div>
<div style="top:249px;height:3px;background:linear-gradient(90deg,#fff 0px,#fff 150px,#f9efe9 151px,#fbe6da 164px,#fddbc7 230px,#facbb3 264px,#f2a07e 299px,#ea8d70 301px,#c53e3d 305px,#b72330 307px,#b2192b 312px,#b51e2e 338px,#c53e3d 342px,#d7634f 346px,#e98b6e 360px,#e8896c 367px,#ea8d70 379px,#e58368 386px,#ea8f71 395px,#e6866a 404px,#e6866a 409px,#eb9072 421px,#ea8f71 429px,#d7634f 437px,#be2f36 442px,#b82531 447px,#ba2832 464px,#c94641 468px,#d35a4a 471px,#cd4e45 475px,#b72330 483px,#b1182b 495px,#b41c2d 549px,#ba2832 559px,#b6212f 575px,#b1182b 589px,#b6202f 658px,#c13739 669px,#c43b3c 684px,#db6b56 697px,#f6b89d 705px,#faceb9 712px,#f7ece6 731px,#f8ebe4 742px,#fadccc 757px,#f4b296 780px,#f0a182 786px,#f6b293 789px,#fbceb7 793px,#fbd0b9 831px)"></div>
<div style="top:252px;height:3px;background:linear-gradient(90deg,#fff 0px,#fff 150px,#f9efe9 151px,#fbe6da 164px,#fddbc7 230px,#facbb3 262px,#f2a07e 298px,#e88a6e 301px,#c53e3d 305px,#b61f2e 308px,#b51d2d 337px,#c13639 341px,#d7624e 346px,#e98b6e 360px,#e7876b 367px,#e6866a 381px,#e58368 387px,#e88a6e 400px,#e48066 408px,#ea8d70 420px,#eb9172 428px,#d7634f 437px,#be3036 442px,#b82531 447px,#ba2832 464px,#c84540 470px,#bd2e35 476px,#b3192c 484px,#b41c2d 549px,#ba2832 562px,#b61f2e 576px,#b1182b 590px,#b41c2d 660px,#c03438 670px,#c13739 692px,#cd4e45 701px,#de725c 713px,#f3ad91 735px,#f0a184 743px,#df765e 767px,#d45c4d 783px,#d96854 786px,#ef9979 789px,#f9c2a7 792px,#fbceb7 795px,#fbceb7 831px)"></div>
<div style="top:255px;height:3px;background:linear-gradient(90deg,#fff 0px,#fff 150px,#f9efe9 151px,#fae7dc 162px,#fddcc9 220px,#fbceb6 258px,#f09c7b 298px,#e7876b 301px,#c53e3d 305px,#b72330 308px,#b72330 338px,#c6413e 342px,#d86551 347px,#e8896c 360px,#e68569 368px,#e58267 381px,#e58267 388px,#e58267 403px,#e58267 410px,#ea8e70 429px,#d7634f 437px,#be3036 442px,#b82531 448px,#bb2933 465px,#bf3338 470px,#b3192c 480px,#b41c2d 549px,#b92631 562px,#b61f2e 575px,#b1182b 592px,#b41c2d 661px,#be3137 670px,#bc2b34 685px,#b72230 693px,#c7433f 727px,#cf5247 739px,#c13739 770px,#bf3237 783px,#ca4841 786px,#dd7059 788px,#f6b394 791px,#facbb2 794px,#fbceb7 831px)"></div>
<div style="top:258px;height:3px;background:linear-gradient(90deg,#fff 0px,#fff 150px,#f9efe9 151px,#fae7dc 162px,#fddcc9 220px,#fbceb6 256px,#ee9677 298px,#e58167 301px,#c03438 306px,#b72330 310px,#b92631 338px,#d65f4d 346px,#e7876b 360px,#e48066 370px,#e37d63 387px,#e37f65 403px,#e48065 411px,#ea8e70 425px,#e98b6e 430px,#d7634f 437px,#be3036 442px,#b82531 448px,#b92631 470px,#b1182b 480px,#b41c2d 550px,#b82531 562px,#b61f2e 575px,#b1182b 592px,#b41c2d 661px,#be2f36 671px,#ba2832 685px,#b2192b 695px,#b82431 749px,#b61f2e 782px,#bd2d35 785px,#cd4d44 787px,#f09c7b 790px,#f8bda0 792px,#fbccb4 795px,#fbccb4 831px)"></div>
<div style="top:261px;height:3px;background:linear-gradient(90deg,#fff 0px,#fff 150px,#f9efe9 151px,#fae7dc 162px,#fddcc9 220px,#fbceb6 254px,#ef9979 293px,#e6866a 300px,#d86551 303px,#be3137 307px,#b92732 312px,#bc2b34 338px,#d86450 348px,#e58267 360px,#e17860 374px,#e27b62 418px,#ea8e70 428px,#dd7059 435px,#cc4c44 439px,#bc2c35 443px,#b92631 461px,#b6202f 470px,#b1182b 484px,#b41c2d 550px,#b82531 564px,#b1182b 591px,#b41c2d 661px,#bd2d35 672px,#b92631 685px,#b1182b 694px,#b41c2d 783px,#c13639 786px,#d7624e 788px,#f5ae8d 791px,#f9c4a9 793px,#fbccb4 799px,#fbccb4 831px)"></div>
<div style="top:264px;height:3px;background:linear-gradient(90deg,#fff 0px,#fff 150px,#f9efe9 151px,#fae7dc 162px,#fddbc7 227px,#fac7ae 259px,#ef9979 289px,#e37e64 300px,#d25849 304px,#c13739 307px,#bc2b34 313px,#be2f36 338px,#d45c4b 347px,#e37e64 360px,#dd6f59 371px,#df765e 420px,#ea8d70 428px,#df765e 434px,#d25849 438px,#be3036 442px,#ba2832 449px,#b72230 468px,#b1182b 479px,#b41c2d 550px,#b82431 569px,#b1182b 587px,#b41c2d 662px,#bb2a34 672px,#b82531 685px,#b1182b 695px,#b41c2d 783px,#bf3338 786px,#d55e4c 788px,#f5ac8b 791px,#f9c2a7 793px,#facab1 797px,#facab1 831px)"></div>
<div style="top:267px;height:3px;background:linear-gradient(90deg,#fff 0px,#fff 150px,#f9efe9 151px,#fae7dc 162px,#fddbc7 227px,#f9c4a9 260px,#ef9a79 286px,#dd7059 301px,#c03539 308px,#bf3338 338px,#d55e4c 349px,#e17860 360px,#d86450 372px,#da6a55 420px,#e8896d 427px,#e27b62 433px,#d25849 438px,#bf3237 442px,#ba2832 447px,#b72230 468px,#b1182b 479px,#b41c2d 550px,#b6202f 573px,#b1182b 590px,#b41c2d 662px,#ba2832 674px,#b61f2e 687px,#b1182b 701px,#b31a2c 783px,#be3036 786px,#d45b4b 788px,#f5aa88 791px,#f9c1a6 793px,#facab1 798px,#facab1 831px)"></div>
<div style="top:270px;height:3px;background:linear-gradient(90deg,#fff 0px,#fff 150px,#f9efe9 151px,#fae7dc 162px,#fcd3bc 242px,#f5ad8c 275px,#dc6e57 300px,#c3393b 308px,#c13639 338px,#dd7059 357px,#da6a55 363px,#d25849 371px,#d05447 418px,#d96753 423px,#e48066 427px,#e37d63 432px,#d25849 438px,#bf3338 442px,#ba2832 448px,#b72230 468px,#b1182b 479px,#b41c2d 551px,#b6212f 572px,#b1182b 589px,#b41c2d 663px,#b82531 675px,#b41c2d 688px,#b3192c 783px,#be2f36 786px,#d25849 788px,#f4a785 791px,#f8bfa4 793px,#fac8af 797px,#fac9b0 831px)"></div>
<div style="top:273px;height:3px;background:linear-gradient(90deg,#fff 0px,#fff 150px,#f9efe9 151px,#fae7dc 162px,#fddbc7 225px,#f9c2a7 258px,#f09c7b 282px,#d55e4c 302px,#c43b3c 308px,#c33a3b 339px,#d96753 359px,#cb4a43 371px,#c84440 404px,#c2383a 416px,#cb4942 422px,#dd7059 428px,#dc6e57 433px,#cb4942 439px,#be2f36 443px,#b72230 467px,#b1182b 478px,#b41c2d 551px,#b41b2d 576px,#b41c2d 663px,#b41c2d 687px,#b41c2d 784px,#bd2d35 786px,#d05548 788px,#f4a583 791px,#f8bda1 793px,#fac8af 797px,#fac8af 831px)"></div>
<div style="top:276px;height:3px;background:linear-gradient(90deg,#fff 0px,#fff 150px,#f9efe9 151px,#fae8de 161px,#fddcc9 218px,#fac9b0 249px,#f19e7d 280px,#d05548 303px,#c43c3c 309px,#c43b3c 339px,#d25849 359px,#c53e3d 372px,#c13739 403px,#b82531 412px,#bd2d35 421px,#d05548 429px,#cd4e45 435px,#be2f36 444px,#b41c2d 469px,#b41c2d 558px,#b41c2d 668px,#b41c2d 784px,#bb2a34 786px,#cf5246 788px,#f3a380 791px,#f8bda0 793px,#f9c6ac 797px,#fac7ad 831px)"></div>
<div style="top:279px;height:3px;background:linear-gradient(90deg,#fff 0px,#fff 150px,#f9efea 151px,#fae8de 162px,#fbd2bb 238px,#f3a380 277px,#cf5347 303px,#c53e3d 308px,#c53e3d 341px,#c94741 360px,#c13639 373px,#bd2d35 403px,#b31a2c 413px,#b82431 423px,#c13639 431px,#b72230 454px,#b1182b 490px,#b41c2d 784px,#bb2a34 786px,#ce4f45 788px,#f2a17f 791px,#f8bb9e 793px,#f9c6ac 797px,#f9c6ac 831px)"></div>
<div style="top:282px;height:3px;background:linear-gradient(90deg,#fff 0px,#fff 150px,#f9f0eb 151px,#fae8de 161px,#fcd3bd 234px,#f2a17f 277px,#cc4c44 304px,#c53e3d 310px,#c43b3c 358px,#bd2e35 385px,#ba2833 403px,#b1182b 414px,#b51e2e 439px,#b1182b 567px,#b41c2d 784px,#bb2a34 786px,#ce4f45 788px,#f2a07e 791px,#f8bb9e 793px,#f9c4aa 797px,#f9c4aa 831px)"></div>
<div style="top:285px;height:6px;background:linear-gradient(90deg,#fff 0px,#fff 150px,#f9f0eb 151px,#fae8de 163px,#fcd4be 231px,#f2a07e 276px,#cc4c44 304px,#c53e3d 310px,#c2383a 352px,#bb2b34 385px,#b82531 404px,#b1182b 414px,#b41c2d 784px,#bb2a33 786px,#ce4f45 788px,#f19e7d 791px,#f7b99b 793px,#f9c3a8 797px,#f9c3a8 831px)"></div>
<div style="top:291px;height:6px;background:linear-gradient(90deg,#fff 0px,#fff 150px,#f9f0eb 151px,#fae7dc 169px,#fcd5bf 226px,#f09c7b 276px,#cc4c44 304px,#c53e3d 310px,#c2383a 350px,#bb2a34 374px,#b82531 403px,#b1182b 415px,#b41c2d 784px,#ba2832 786px,#cc4d44 788px,#f09c7b 791px,#f7b799 793px,#f9c1a6 797px,#f9c1a6 831px)"></div>
<div style="top:297px;height:6px;background:linear-gradient(90deg,#fff 0px,#fff 150px,#f9f0eb 151px,#fce0d0 196px,#fcd3bd 225px,#ef9a7a 275px,#cc4c44 304px,#c53e3d 310px,#c13639 352px,#bb2a34 373px,#b82531 403px,#b1182b 415px,#b3192c 784px,#c13639 787px,#d86551 789px,#ef9979 791px,#f7b596 793px,#f8bfa3 797px,#f8bfa3 831px)"></div>
<div style="top:303px;height:6px;background:linear-gradient(90deg,#fff 0px,#fff 150px,#f9f0eb 151px,#fce2d2 193px,#fcd3bd 222px,#ee9878 274px,#cc4c44 304px,#c53e3d 310px,#c13639 352px,#bb2a34 373px,#b82531 403px,#b1182b 415px,#b3192c 784px,#c13639 787px,#d86550 789px,#f5a987 792px,#f8bb9e 795px,#f8bda1 831px)"></div>
<div style="top:309px;height:6px;background:linear-gradient(90deg,#fff 0px,#fff 150px,#f9f0eb 151px,#fcd6c1 216px,#f5ac8b 256px,#ea8d70 277px,#cc4c44 304px,#c6413e 309px,#c03539 352px,#bb2a34 375px,#b82531 403px,#b1182b 415px,#b41b2d 784px,#ba2832 786px,#cb4b43 788px,#ee9677 791px,#f6b191 793px,#f8bb9e 797px,#f8bb9e 831px)"></div>
<div style="top:315px;height:6px;background:linear-gradient(90deg,#fff 0px,#fff 150px,#f9f0eb 151px,#fcd7c2 213px,#f6af8f 248px,#ed9475 271px,#d25849 301px,#c6413e 308px,#c13639 351px,#bb2b34 382px,#b92531 404px,#b31a2c 418px,#b51e2e 784px,#bb2b34 786px,#cc4d44 788px,#ee9677 791px,#f6b090 793px,#f7b99b 798px,#f7b99b 831px)"></div>
<div style="top:321px;height:6px;background:linear-gradient(90deg,#fff 0px,#fff 150px,#f9f0eb 151px,#fcd7c2 210px,#f6b191 242px,#ee9778 267px,#d55d4c 298px,#c6413e 309px,#c13639 351px,#ba2933 405px,#b72230 425px,#b82431 784px,#be2f36 786px,#ce5045 788px,#f4a683 792px,#f7b597 795px,#f7b799 831px)"></div>
<div style="top:327px;height:6px;background:linear-gradient(90deg,#fff 0px,#fff 150px,#f9f0eb 151px,#fdd9c4 207px,#f6b192 238px,#ef9979 264px,#d6604d 297px,#c6413e 309px,#c13639 351px,#bf3137 390px,#ba2732 434px,#ba2833 784px,#bf3338 786px,#da6853 789px,#f3a481 792px,#f6b394 795px,#f7b596 831px)"></div>
<div style="top:333px;height:5px;background:linear-gradient(90deg,#fff 0px,#fff 150px,#f9f0eb 151px,#fddbc7 204px,#f6b191 236px,#f09b7a 261px,#e27b62 282px,#d05548 301px,#c6413e 309px,#c13639 351px,#bf3338 377px,#bd2d35 407px,#bb2a34 784px,#c6413e 787px,#e47f65 790px,#f3a280 792px,#f6b192 795px,#f6b394 831px)"></div>
</div>
<div class="hm" style="left:110px;top:910px;width:831px;height:338px">
<div style="top:0px;height:12px;background:linear-gradient(90deg,#fff 0px,#fff 150px,#f9ebe3 151px,#fce2d2 157px,#fcdecd 296px,#fdd9c4 307px,#fbceb7 316px,#fce2d2 331px,#fae9df 453px,#f9ede5 831px)"></div>
<div style="top:12px;height:9px;background:linear-gradient(90deg,#fff 0px,#fff 150px,#f9ebe3 151px,#fce2d2 157px,#fcdecd 296px,#fdd9c4 307px,#fbceb7 316px,#fce2d2 331px,#fae9df 431px,#f9ede5 831px)"></div>
<div style="top:21px;height:6px;background:linear-gradient(90deg,#fff 0px,#fff 150px,#f9ebe3 151px,#fce2d2 157px,#fcdecd 296px,#fdd9c5 307px,#fbd1bb 317px,#fbe3d4 333px,#faebe3 412px,#f9ebe3 812px,#f9ede5 831px)"></div>
<div style="top:27px;height:3px;background:linear-gradient(90deg,#fff 0px,#fff 150px,#f9ebe3 151px,#fce2d2 157px,#fcdecd 296px,#fcd7c2 320px,#fbe3d4 335px,#f9ede6 405px,#fae9df 498px,#f9ede5 831px)"></div>
<div style="top:30px;height:3px;background:linear-gradient(90deg,#fff 0px,#fff 150px,#f9ebe3 151px,#fce2d2 157px,#fcdecd 296px,#fcdecc 325px,#fbe5d8 355px,#f9eee7 399px,#fae9df 476px,#f9ede5 831px)"></div>
<div style="top:33px;height:3px;background:linear-gradient(90deg,#fff 0px,#fff 150px,#f9ebe3 151px,#fce2d2 157px,#fcdecd 296px,#fce0d0 311px,#fbe3d4 318px,#fcdfcf 326px,#f9eee7 396px,#fae9df 482px,#f9ede5 831px)"></div>
<div style="top:36px;height:3px;background:linear-gradient(90deg,#fff 0px,#fff 150px,#f9ebe3 151px,#fce2d2 157px,#fcdecd 296px,#fce0d0 309px,#f9ebe3 316px,#fcdfcf 325px,#f9ede5 379px,#f9ebe3 420px,#f9ece4 815px,#f9ede5 831px)"></div>
<div style="top:39px;height:6px;background:linear-gradient(90deg,#fff 0px,#fff 150px,#f9ebe3 151px,#fce2d2 157px,#fcdecd 296px,#fce1d2 308px,#f8f1ed 315px,#fce0d0 325px,#f9ebe3 375px,#f9ede5 416px,#fae9de 512px,#f9ece4 831px)"></div>
<div style="top:45px;height:3px;background:linear-gradient(90deg,#fff 0px,#fff 150px,#f9ebe3 151px,#fce2d2 157px,#fcdecd 296px,#fce0d0 308px,#f9efea 316px,#fcdfcf 325px,#f9efe9 399px,#fae8de 461px,#f9ebe3 831px)"></div>
<div style="top:48px;height:3px;background:linear-gradient(90deg,#fff 0px,#fff 150px,#f9ebe3 151px,#fce2d2 157px,#fdddcb 267px,#fcdfcf 309px,#fae9de 316px,#fcdfcd 325px,#f9efe9 396px,#fae8de 458px,#faebe2 831px)"></div>
<div style="top:51px;height:3px;background:linear-gradient(90deg,#fff 0px,#fff 150px,#f9ebe3 151px,#fce2d2 157px,#fdddcb 252px,#fcdecb 312px,#fcdfcf 327px,#f9efe9 397px,#fae8dd 457px,#faeae1 831px)"></div>
<div style="top:54px;height:3px;background:linear-gradient(90deg,#fff 0px,#fff 150px,#f9ebe3 151px,#fce2d2 157px,#fdddcb 246px,#fdddcb 304px,#fcd3bd 315px,#fddcc9 325px,#fbe4d7 338px,#f9efe9 403px,#fae7dc 457px,#faeae1 831px)"></div>
<div style="top:57px;height:3px;background:linear-gradient(90deg,#fff 0px,#fff 150px,#f9ebe3 151px,#fce2d2 157px,#fdddcb 240px,#fcdfcd 303px,#fac7ad 314px,#fbceb7 321px,#fbe3d5 330px,#f9efe9 404px,#fbe6d9 454px,#fae9df 831px)"></div>
<div style="top:60px;height:3px;background:linear-gradient(90deg,#fff 0px,#fff 150px,#f9ebe3 151px,#fce2d2 157px,#fdddcb 237px,#fce1d1 289px,#fce0cf 303px,#f8bda1 314px,#f9c4a9 320px,#fce2d3 328px,#fae9de 350px,#f9eee7 408px,#fbe5d7 454px,#fae9df 831px)"></div>
<div style="top:63px;height:3px;background:linear-gradient(90deg,#fff 0px,#fff 150px,#f9ebe3 151px,#fce2d2 157px,#fddcc9 238px,#fce1d2 287px,#fbe3d5 302px,#fcd5bf 307px,#f7b99c 313px,#f7b799 317px,#fac9b0 322px,#fbe3d5 328px,#faeae1 343px,#f9eee7 412px,#fbe3d5 452px,#fae7dc 484px,#fae9df 831px)"></div>
<div style="top:66px;height:3px;background:linear-gradient(90deg,#fff 0px,#fff 150px,#f9ebe3 151px,#fce2d2 157px,#fddcc9 233px,#fce0cf 282px,#fbe6da 301px,#fcd5bf 307px,#f6b394 313px,#f6b191 317px,#fac7ad 322px,#fce2d3 327px,#faebe3 335px,#f9ede5 416px,#fbe3d4 452px,#fae7dc 481px,#fae8de 831px)"></div>
<div style="top:69px;height:6px;background:linear-gradient(90deg,#fff 0px,#fff 150px,#f9ebe3 151px,#fce2d2 157px,#fddcc9 229px,#fcdfcf 280px,#faeae1 300px,#fddbc8 306px,#f6b090 312px,#f5a987 316px,#f7b596 320px,#fce0d0 326px,#f9ede6 332px,#f9ede5 416px,#fbe3d4 453px,#fae7db 505px,#fae8dd 831px)"></div>
<div style="top:75px;height:9px;background:linear-gradient(90deg,#fff 0px,#fff 150px,#f9ebe3 151px,#fce2d2 157px,#fddbc8 229px,#fcdfcf 279px,#f9eee7 300px,#fce1d2 305px,#f5ad8d 312px,#f4a582 316px,#f6b394 320px,#fce2d3 326px,#f9efea 331px,#f9efea 364px,#f9ebe3 418px,#fbe3d4 452px,#fbe6da 530px,#fbe7db 831px)"></div>
<div style="top:84px;height:3px;background:linear-gradient(90deg,#fff 0px,#fff 150px,#f9ebe3 151px,#fce2d2 157px,#fddbc7 221px,#fcdecd 278px,#f9efea 299px,#fae7dc 304px,#fbd0b9 308px,#f6af8e 313px,#f5ac8b 317px,#f8bfa4 321px,#fbe4d6 326px,#f8f2ef 332px,#f9f0eb 364px,#f9ebe3 418px,#fbe3d4 452px,#fbe6da 530px,#fbe6da 831px)"></div>
<div style="top:87px;height:3px;background:linear-gradient(90deg,#fff 0px,#fff 150px,#f9ebe3 151px,#fce2d2 157px,#fddbc7 219px,#fcdecd 278px,#f9f0eb 299px,#fbe5d7 305px,#f7b89a 312px,#f6b191 316px,#f8bda1 320px,#fbe5d8 326px,#f8f2ef 332px,#f9f0eb 364px,#faeae1 421px,#fbe3d4 453px,#fbe5d9 500px,#fbe5d9 831px)"></div>
<div style="top:90px;height:3px;background:linear-gradient(90deg,#fff 0px,#fff 150px,#f9ebe3 151px,#fce2d2 157px,#fddbc7 218px,#fcdecd 278px,#f9f0eb 300px,#fce2d3 306px,#f8bda1 312px,#f7b799 317px,#fbd0b9 322px,#f9ede5 328px,#f8f3f0 336px,#f9efe9 367px,#faeae1 420px,#fbe3d5 453px,#fbe5d9 480px,#fbe5d8 831px)"></div>
<div style="top:93px;height:3px;background:linear-gradient(90deg,#fff 0px,#fff 150px,#faebe3 151px,#fce1d1 158px,#fddac5 235px,#fcdecb 275px,#f8f0eb 299px,#fae7db 305px,#f9c2a7 313px,#f8bfa4 317px,#fbceb7 321px,#f9ede6 328px,#f8f3f0 337px,#f9efe9 366px,#faeae0 423px,#fbe5d9 454px,#fbe6d9 480px,#fbe5d7 831px)"></div>
<div style="top:96px;height:3px;background:linear-gradient(90deg,#fff 0px,#fff 150px,#faeae1 151px,#fce0d0 159px,#fdd9c4 246px,#fcdecb 273px,#f9ebe3 286px,#f8f0eb 301px,#fcdfcd 308px,#fac7ae 314px,#fbcdb5 319px,#f9f0eb 329px,#f8f3f0 357px,#f9ede5 379px,#fae9df 440px,#fae7dc 478px,#fbe4d6 532px,#fbe4d6 831px)"></div>
<div style="top:99px;height:3px;background:linear-gradient(90deg,#fff 0px,#fff 150px,#faeae1 151px,#fce0d0 157px,#fdd9c4 247px,#fddcc9 271px,#f9efe9 281px,#f8f1ec 302px,#fcd3bd 315px,#fcdecc 321px,#f8f2ee 330px,#f8f1ed 364px,#f9ede5 380px,#faebe2 476px,#fbe4d6 490px,#fbe4d6 831px)"></div>
<div style="top:102px;height:3px;background:linear-gradient(90deg,#fff 0px,#fff 150px,#faeae1 151px,#fce0d0 157px,#fdd9c4 247px,#fddcc9 271px,#f8f1ed 280px,#f8f1ec 303px,#fce0cf 315px,#faebe2 324px,#f8f3f0 334px,#f9f0eb 365px,#f9ede6 383px,#f9ece4 476px,#fbe4d6 487px,#fbe3d5 831px)"></div>
<div style="top:105px;height:3px;background:linear-gradient(90deg,#fff 0px,#fff 150px,#faeae1 151px,#fce0d0 157px,#fdd9c4 242px,#fddcc9 271px,#f8f3f0 281px,#f9f0eb 306px,#fae9df 317px,#f8f3f0 335px,#f9f0eb 365px,#f9ede5 380px,#f9eee8 475px,#fbe3d5 487px,#fbe3d4 831px)"></div>
<div style="top:108px;height:6px;background:linear-gradient(90deg,#fff 0px,#fff 150px,#fae9e0 151px,#fcdfcf 159px,#fcd7c2 263px,#fdddcb 272px,#f8f2ef 280px,#f8f2ef 325px,#f8f1ed 364px,#f9ebe3 377px,#f9efe9 417px,#f9eee8 476px,#fbe3d4 486px,#fce2d3 831px)"></div>
<div style="top:114px;height:3px;background:linear-gradient(90deg,#fff 0px,#fff 150px,#fae9df 151px,#fcdfcf 157px,#fcd7c2 264px,#fdddcb 272px,#f8f2ef 280px,#f8f1ed 363px,#f9ebe3 375px,#f9eee7 415px,#f8f3f0 431px,#f8f1ec 475px,#fbe3d4 485px,#fce2d2 831px)"></div>
<div style="top:117px;height:3px;background:linear-gradient(90deg,#fff 0px,#fff 150px,#fae9df 151px,#fcdfcf 157px,#fcd7c2 259px,#fddbc7 271px,#f8f3f0 281px,#f8f3f0 360px,#faebe2 375px,#f9efe9 416px,#f8f4f2 429px,#f8f1ed 475px,#fce2d2 486px,#fce1d1 831px)"></div>
<div style="top:120px;height:3px;background:linear-gradient(90deg,#fff 0px,#fff 150px,#fae9df 151px,#fcdfcf 157px,#fcd7c2 256px,#fddbc7 271px,#f8f3f0 281px,#f1f4f6 298px,#f5f6f7 355px,#faeae1 374px,#f9eee7 415px,#f7f6f5 425px,#f8f4f2 473px,#fce2d2 485px,#fce0d0 831px)"></div>
<div style="top:123px;height:3px;background:linear-gradient(90deg,#fff 0px,#fff 150px,#fae9de 151px,#fcdecd 158px,#fcd6c1 264px,#fddcc8 272px,#f8f2ef 281px,#edf2f5 288px,#f0f4f6 354px,#f8f2ef 361px,#faeae1 375px,#f9ede5 415px,#f7f7f6 425px,#f8f4f2 473px,#fce2d2 484px,#fce0d0 831px)"></div>
<div style="top:126px;height:3px;background:linear-gradient(90deg,#fff 0px,#fff 150px,#fae8de 151px,#fcdecd 158px,#fcd5bf 265px,#fdddca 273px,#f8f2ef 281px,#eff3f5 286px,#e7f0f4 292px,#eaf1f5 353px,#f8f3f0 358px,#faeae1 374px,#f9ece4 415px,#f6f6f7 423px,#f8f4f2 473px,#fce2d2 484px,#fcdfcf 831px)"></div>
<div style="top:129px;height:3px;background:linear-gradient(90deg,#fff 0px,#fff 150px,#fae8de 151px,#fcdecd 157px,#fcd5bf 263px,#fddcc9 273px,#f8f3f0 282px,#f2f5f6 285px,#e2edf3 289px,#e6eff4 353px,#f8f4f2 357px,#fae9df 374px,#f9ede5 416px,#f4f6f6 422px,#f7f5f4 473px,#fce2d2 483px,#fcdfcf 831px)"></div>
<div style="top:132px;height:3px;background:linear-gradient(90deg,#fff 0px,#fff 150px,#fae8de 151px,#fcdecd 157px,#fcd5bf 260px,#fdd9c4 272px,#f7f6f6 284px,#deebf2 288px,#e0ecf3 352px,#f7f5f4 356px,#fae9df 373px,#f9ebe3 415px,#f3f5f6 422px,#f5f6f7 472px,#fce1d2 483px,#fcdecd 831px)"></div>
<div style="top:135px;height:3px;background:linear-gradient(90deg,#fff 0px,#fff 150px,#fae8de 151px,#fcdecd 157px,#fcd5bf 257px,#fdd9c4 273px,#f7f6f6 284px,#d9e9f1 288px,#d8e8f1 351px,#f8f4f2 356px,#fae9de 372px,#f9ebe3 416px,#f2f5f6 422px,#f2f5f6 471px,#fce0d0 483px,#fcdecd 831px)"></div>
<div style="top:138px;height:3px;background:linear-gradient(90deg,#fff 0px,#fff 150px,#fae8de 151px,#fdddcb 158px,#fcd3bc 260px,#fcd7c2 273px,#f3f5f6 285px,#cee4ef 289px,#cee3ef 350px,#f7f6f5 355px,#fae8dd 369px,#faeae1 416px,#f2f5f6 422px,#edf2f5 457px,#f2f5f6 471px,#fce0d0 483px,#fcdecb 598px,#fcdecb 831px)"></div>
<div style="top:141px;height:3px;background:linear-gradient(90deg,#fff 0px,#fff 150px,#fae8de 151px,#fdddcb 158px,#fcd3bc 262px,#fddac6 275px,#f5f6f7 285px,#c3deec 289px,#bddbea 304px,#c1ddeb 349px,#d2e6f0 351px,#f6f6f7 354px,#fae7dc 366px,#fae9df 416px,#f2f5f6 422px,#ebf1f5 431px,#edf2f5 470px,#f8f3f0 473px,#fce0cf 482px,#fddcca 524px,#fdddcb 831px)"></div>
<div style="top:144px;height:3px;background:linear-gradient(90deg,#fff 0px,#fff 150px,#fae8de 151px,#fdddcb 157px,#fcd3bc 260px,#fdd8c3 275px,#f7f6f6 285px,#cee3ef 288px,#b3d6e7 290px,#b2d5e7 348px,#c3deec 350px,#f4f5f6 353px,#fbe6da 363px,#fbe6da 415px,#f8f2ee 420px,#f0f4f6 422px,#e8f0f4 430px,#ecf2f5 470px,#f7f7f7 472px,#fce1d1 480px,#fdd8c3 512px,#fdddca 616px,#fdddca 831px)"></div>
<div style="top:147px;height:3px;background:linear-gradient(90deg,#fff 0px,#fff 150px,#fae8de 151px,#fdddcb 157px,#fcd3bc 255px,#fcd5c0 275px,#f3f5f6 286px,#d1e5f0 288px,#b7d8e8 289px,#a0cce2 291px,#9ecbe1 336px,#a5cfe4 348px,#b2d5e7 349px,#f0f4f6 352px,#f9ebe3 356px,#fce2d2 365px,#fce0d0 410px,#fbe6da 417px,#f3f5f6 422px,#e6eff4 426px,#e9f0f4 469px,#f8f5f3 472px,#fcdfce 480px,#fcd4be 510px,#fddcc9 556px,#fddcc9 831px)"></div>
<div style="top:150px;height:3px;background:linear-gradient(90deg,#fff 0px,#fff 150px,#fae8de 151px,#fdddcb 157px,#fbd2bb 258px,#fcd5c0 276px,#f9eee7 284px,#f7f5f4 286px,#d9e9f2 288px,#a0cce2 290px,#8ac0db 292px,#80bad8 321px,#8dc2dc 346px,#a1cde2 348px,#d9e9f1 350px,#f7f5f3 352px,#fbe2d4 358px,#fcd7c2 393px,#fcdfcd 415px,#f9ede5 420px,#f6f7f7 422px,#e4eef4 426px,#e8f0f4 469px,#f6f6f7 471px,#fce0cf 478px,#fbd0b9 504px,#fddcc9 554px,#fddcc9 831px)"></div>
<div style="top:153px;height:3px;background:linear-gradient(90deg,#fff 0px,#fff 150px,#fae8de 151px,#fddcc9 157px,#fbd0b9 262px,#fcd6c1 278px,#f5f6f6 287px,#cbe2ee 289px,#85bdda 291px,#75b2d4 292px,#69abd0 297px,#5ba2cb 317px,#75b2d4 345px,#7eb8d7 346px,#94c6df 347px,#d8e9f1 349px,#eef3f5 350px,#f9eee7 352px,#fddcc9 359px,#fbcfb8 401px,#fddcc9 416px,#f9eee8 421px,#f7f5f4 422px,#e0ecf3 426px,#e2edf3 468px,#f7f6f5 471px,#fbe4d6 475px,#fcd5bf 485px,#fbcdb5 513px,#fdddcb 550px,#fddbc7 831px)"></div>
<div style="top:156px;height:3px;background:linear-gradient(90deg,#fff 0px,#fff 150px,#fae8de 151px,#fddcc9 157px,#fbd0b9 259px,#fcd5bf 278px,#faeae1 285px,#f8f4f2 287px,#eff3f5 288px,#dae9f2 289px,#66a9cf 292px,#569fc9 293px,#4895c4 298px,#3b88bd 318px,#569fc9 343px,#69abd0 345px,#b1d5e7 347px,#d9e9f1 348px,#eff3f5 349px,#f9ece4 351px,#fcd7c2 358px,#fac8af 398px,#fbd2bb 415px,#faeae0 421px,#f5f6f7 423px,#ddebf2 426px,#ddebf2 467px,#f3f5f6 470px,#fce0d0 475px,#fbd2bb 484px,#fac9b0 511px,#fcdfcf 553px,#fddbc7 663px,#fddbc7 831px)"></div>
<div style="top:159px;height:3px;background:linear-gradient(90deg,#fff 0px,#fff 150px,#fae8de 151px,#fddcc9 156px,#fbd0b9 256px,#fcd5bf 279px,#f9ebe3 286px,#f6f6f6 288px,#d4e7f0 290px,#a9d1e5 291px,#75b2d4 292px,#4a98c5 293px,#3985bc 295px,#2469ac 315px,#3480b9 333px,#4190c1 343px,#509bc8 344px,#77b4d5 345px,#d8e8f1 347px,#f0f4f6 348px,#fbe5d8 351px,#fbd0b9 358px,#f9c3a8 399px,#facbb2 415px,#fce0cf 420px,#f8f4f2 423px,#d7e8f1 427px,#dbeaf2 467px,#f7f5f4 470px,#fbe3d5 473px,#fbd2bb 480px,#fac7ad 509px,#fcd3bd 531px,#fbe3d4 551px,#fcdfcd 583px,#fdd9c4 620px,#fdd9c4 831px)"></div>
<div style="top:162px;height:3px;background:linear-gradient(90deg,#fff 0px,#fff 150px,#fae8de 151px,#fddcc9 156px,#fbd0b9 252px,#fcd5c0 279px,#fbe5d9 285px,#f2f5f6 289px,#e4eef3 290px,#cbe2ee 291px,#9ac9e0 292px,#5da3cc 293px,#3a87bd 294px,#2870b1 296px,#114882 313px,#144e8a 322px,#276eb0 335px,#317bb7 341px,#4694c4 343px,#76b3d4 344px,#afd4e6 345px,#dbeaf2 346px,#f2f3f4 347px,#fcdfcf 351px,#fbceb7 356px,#f9c1a6 389px,#f9c6ac 415px,#fcd4be 419px,#f9ede5 423px,#f6f5f5 424px,#d5e7f1 427px,#cde3ef 452px,#d5e7f1 466px,#f6f6f6 469px,#fbe3d5 472px,#fbd0b9 479px,#f9c6ac 507px,#fbcfb8 529px,#fbe6da 549px,#fbe4d6 580px,#fdd9c4 599px,#fdd9c4 831px)"></div>
<div style="top:165px;height:3px;background:linear-gradient(90deg,#fff 0px,#fff 150px,#fae8de 151px,#fddcc8 157px,#fbceb7 259px,#fcd7c2 279px,#fbe5d8 285px,#f4f6f6 289px,#ddebf2 291px,#c4deec 292px,#94c5de 293px,#549ec9 294px,#327cb7 295px,#1b5a9b 297px,#083669 307px,#063163 320px,#0d3f76 327px,#2267ac 339px,#3580b9 341px,#559ec9 342px,#92c4dd 343px,#c6dfec 344px,#e5eff4 345px,#f5f4f3 346px,#fcdecd 350px,#fbcdb5 355px,#f8bfa4 377px,#f9c3a8 416px,#fcd3bc 420px,#f9efea 424px,#f2f5f6 425px,#cae1ee 428px,#b3d6e8 448px,#cae1ee 465px,#f0f4f6 468px,#fbe3d5 471px,#fbcfb8 477px,#f9c6ac 499px,#facab1 526px,#f9ebe3 551px,#fae8de 579px,#fdd9c4 595px,#fcd7c2 831px)"></div>
<div style="top:168px;height:3px;background:linear-gradient(90deg,#fff 0px,#fff 150px,#fae7dc 151px,#fddbc7 157px,#fbceb7 250px,#fcd5bf 277px,#fae8de 286px,#f5f6f7 289px,#d5e7f1 292px,#bad9e9 293px,#90c3dd 294px,#559ec9 295px,#2f79b6 296px,#144d89 298px,#0c3d73 300px,#053162 304px,#063163 328px,#185595 337px,#2971b2 339px,#438ec0 340px,#b4d6e8 342px,#dae9f1 343px,#eef3f5 344px,#f9ede5 346px,#fbceb7 353px,#f8bfa3 368px,#f9c1a6 417px,#fbd1ba 421px,#fae7db 424px,#f8f1ed 425px,#ecf2f5 426px,#bbdaea 429px,#9dcbe1 441px,#8ec2dd 447px,#b3d6e7 460px,#bbdaea 464px,#ebf1f5 467px,#f8f3f0 468px,#fbe3d5 470px,#fbceb6 476px,#f9c4a9 501px,#facab1 527px,#f9eee8 550px,#f9ede5 577px,#fcd7c2 596px,#fcd7c2 831px)"></div>
<div style="top:171px;height:3px;background:linear-gradient(90deg,#fff 0px,#fff 150px,#fae7dc 151px,#fddbc7 157px,#fcd5bf 198px,#fbceb7 267px,#fddbc7 280px,#f9ede5 287px,#f7f7f6 289px,#cee3ef 293px,#94c5de 295px,#3c88bd 297px,#2469aa 298px,#0b3c72 300px,#063163 301px,#063264 331px,#114882 335px,#276dad 337px,#428bbf 338px,#a4cee3 340px,#cde3ee 341px,#f2f5f6 343px,#fcd6c1 350px,#f9c3a8 358px,#f8bb9e 385px,#f8bfa3 418px,#fbcfb8 422px,#fbe6da 425px,#f8f2ef 426px,#e9f0f4 427px,#b8d8e9 429px,#a3cee3 431px,#8ac0db 438px,#58a0ca 445px,#5ca3cb 449px,#94c6de 457px,#a9d1e5 463px,#b8d8e9 464px,#e8f0f4 466px,#f8f3f1 467px,#fcdecc 470px,#facbb3 475px,#f9c4a9 507px,#facab1 528px,#f8f1ec 550px,#f9eee8 577px,#fcd7c2 595px,#fcd6c1 831px)"></div>
<div style="top:174px;height:3px;background:linear-gradient(90deg,#fff 0px,#fff 150px,#fae7dc 151px,#fddbc7 156px,#fcd5bf 197px,#fbceb7 262px,#fcd7c2 278px,#faebe3 287px,#f4f6f6 290px,#cae2ee 294px,#9fcbe2 296px,#529bc7 298px,#327db8 299px,#10467f 301px,#083669 302px,#053061 304px,#063163 331px,#10467f 333px,#2b72af 335px,#4890c2 336px,#a7cfe4 338px,#cbe2ee 339px,#ecf2f5 341px,#f8f1ed 343px,#fbd2bb 350px,#f8bda1 361px,#f8bb9e 418px,#facbb3 423px,#fbe5d8 426px,#f8f1ed 427px,#e8f0f4 428px,#a8d0e4 430px,#82bbd9 432px,#509bc7 439px,#327db8 444px,#2f79b6 448px,#4794c4 453px,#76b3d4 459px,#82bbd9 461px,#a8d0e4 463px,#e6eff4 465px,#f7f2ef 466px,#fce2d2 468px,#fbcdb5 473px,#f9c4a9 493px,#fac9b0 527px,#fbe3d4 540px,#f8f2ef 551px,#f9efea 577px,#fcd7c2 594px,#fcd5bf 831px)"></div>
<div style="top:177px;height:3px;background:linear-gradient(90deg,#fff 0px,#fff 150px,#fae7dc 151px,#fddbc7 156px,#fbceb7 234px,#fcd3bc 276px,#fbe5d8 286px,#f5f5f6 291px,#d2e5f0 295px,#99c8e0 298px,#3f88be 301px,#1c5996 303px,#0a396e 305px,#053061 308px,#073466 328px,#10457e 330px,#2a6fab 332px,#458dc0 333px,#95c5de 335px,#b7d8e9 336px,#dfecf3 338px,#f8f2ef 341px,#fcd4be 348px,#f8bfa4 356px,#f7b799 377px,#f7ba9d 420px,#fac9b0 424px,#fce2d2 427px,#eef2f4 429px,#cfe4ef 430px,#7bb6d6 432px,#61a6cd 433px,#4694c4 436px,#1d5ea1 445px,#1d5ea1 448px,#549dc9 459px,#60a5cd 460px,#7bb6d6 461px,#cee3ef 463px,#ecf2f5 464px,#f9efea 465px,#fcdfcf 467px,#facbb2 472px,#f9c4a9 496px,#fac8af 527px,#fddcc9 537px,#f8f1ed 549px,#f8f0eb 576px,#fcd5bf 595px,#fcd5bf 831px)"></div>
<div style="top:180px;height:3px;background:linear-gradient(90deg,#fff 0px,#fff 150px,#fae7dc 151px,#fdd9c4 157px,#fbceb7 255px,#fcd3bc 278px,#fae9df 289px,#eff3f5 294px,#bedbeb 299px,#85bcd9 302px,#4189be 305px,#1a558f 308px,#0a3b70 311px,#063163 318px,#0d3f76 323px,#1c5892 326px,#387cb3 328px,#84bad8 331px,#bddbea 333px,#e0ecf3 335px,#f6f1ee 338px,#fbceb6 346px,#f7b89b 355px,#f7b89a 421px,#facab1 426px,#fae7db 429px,#f5f1f0 430px,#dceaf2 431px,#80bad8 433px,#5da3cc 434px,#4796c4 435px,#2166ab 442px,#175391 445px,#175391 448px,#266daf 452px,#4796c4 458px,#5da3cc 459px,#80b9d8 460px,#dae9f1 462px,#f3f3f2 463px,#fcdcc9 466px,#fac9b0 471px,#f9c4a9 509px,#facab1 530px,#f8f1ed 549px,#f8f1ed 576px,#fcd5bf 595px,#fcd3bd 831px)"></div>
<div style="top:183px;height:3px;background:linear-gradient(90deg,#fff 0px,#fff 150px,#fae7dc 151px,#fdd9c4 157px,#fcd3bc 201px,#fbd0b9 278px,#fae7db 291px,#f1f3f5 297px,#bedbea 304px,#6faad0 311px,#4b8cbc 316px,#4f8fbf 319px,#96c4de 325px,#dae8ef 329px,#f6ece5 333px,#f8bb9e 344px,#f5ad8c 353px,#f6b394 378px,#f7b698 423px,#f9c4aa 427px,#fce0d0 430px,#f9ece4 431px,#ecf0f1 432px,#cee3ee 433px,#569fc9 436px,#4290c1 437px,#1f63a7 443px,#185595 446px,#1c5c9f 449px,#337eb8 454px,#4290c1 456px,#569fc9 457px,#cde3ee 460px,#ebf0f3 461px,#f8efe9 462px,#fcdecb 464px,#fac8af 469px,#f9c3a8 508px,#fac9b0 530px,#f8f1ed 549px,#f8f2ef 574px,#fcd3bd 595px,#fcd3bc 831px)"></div>
<div style="top:186px;height:3px;background:linear-gradient(90deg,#fff 0px,#fff 150px,#fae7dc 151px,#fdd9c4 157px,#fcd3bc 196px,#fbd1ba 282px,#faebe2 297px,#f2f2f1 304px,#f2e3db 311px,#efe5df 319px,#f9d5c3 325px,#f3ad91 331px,#f5ad8d 338px,#ee9878 347px,#f4a784 358px,#f6b192 369px,#f7b697 426px,#facab1 430px,#fae9df 433px,#f1efee 434px,#ddeaf2 435px,#64a8ce 438px,#4994c4 439px,#337db8 441px,#2267ab 446px,#2d76b4 451px,#3a87bd 453px,#4994c4 454px,#64a8ce 455px,#b8d8e9 457px,#dbeaf1 458px,#f0f0f0 459px,#fbe3d5 461px,#facbb3 465px,#f9c2a7 476px,#f9c6ac 528px,#fdd9c4 537px,#f9f0eb 548px,#f7f5f4 568px,#f9ebe3 580px,#fcd3bc 594px,#fcd3bc 831px)"></div>
<div style="top:189px;height:3px;background:linear-gradient(90deg,#fff 0px,#fff 150px,#fbe6da 151px,#fdd9c4 157px,#fcd3bc 193px,#fbd0b9 285px,#fce2d3 303px,#fcd8c4 305px,#ee9c7e 309px,#e7896e 311px,#e48066 320px,#d05549 329px,#d6614f 332px,#e68469 336px,#e48066 347px,#f09c7b 357px,#f6af8e 366px,#f6af8e 429px,#fac7ad 433px,#f9e9df 436px,#dbe7ed 438px,#86bcd9 441px,#579cc8 444px,#478fc1 446px,#4c93c4 448px,#72afd2 451px,#a1cbe1 453px,#dbe7ed 455px,#efeceb 456px,#fbdece 458px,#fac7ae 461px,#f9c2a7 467px,#f9c6ac 529px,#fddbc8 538px,#f8f2ee 549px,#f6f6f6 567px,#f9efe9 578px,#fcd3bc 594px,#fcd3bc 831px)"></div>
<div style="top:192px;height:3px;background:linear-gradient(90deg,#fff 0px,#fff 150px,#fbe6da 151px,#fcd7c2 158px,#fbceb7 241px,#fbcfb8 292px,#fbd0b9 302px,#f9c4a9 304px,#f3a685 306px,#d35b4c 309px,#c53e3d 311px,#b72230 329px,#c2383a 332px,#d6614e 335px,#db6b55 339px,#e37f65 351px,#f5a886 362px,#f5ae8d 384px,#f5aa88 421px,#ed9677 433px,#f0a083 436px,#f6dbcd 441px,#eae6e4 444px,#dde2e5 447px,#efe3dd 450px,#f9d2bf 453px,#ee9d80 457px,#ec9376 459px,#f8bb9e 466px,#f9c1a6 480px,#f9c6ac 530px,#fcdfcf 540px,#f7f6f6 552px,#edf2f5 566px,#f8f4f2 575px,#fbd1ba 594px,#fbd1ba 831px)"></div>
<div style="top:195px;height:3px;background:linear-gradient(90deg,#fff 0px,#fff 150px,#fbe6da 151px,#fcd7c2 157px,#fbd0b9 201px,#fac8af 299px,#f8bb9e 303px,#f2a280 305px,#ce4f45 308px,#b72330 310px,#a61429 313px,#9d1128 327px,#b0182b 331px,#ce5045 335px,#d6604d 338px,#e27c62 351px,#f5a886 363px,#f5aa89 418px,#e98c6f 427px,#d96753 433px,#ce5046 436px,#d35b4d 439px,#e78a70 445px,#e78a70 448px,#d76352 453px,#cb4942 456px,#cc4b43 458px,#d6614f 460px,#f3a482 464px,#f8bb9e 468px,#f8bfa4 482px,#f9c6ac 531px,#fce0d0 541px,#f3f5f6 552px,#dbeaf2 563px,#f8f4f2 576px,#fbd0b9 593px,#fbd0b9 831px)"></div>
<div style="top:198px;height:3px;background:linear-gradient(90deg,#fff 0px,#fff 150px,#fbe6da 151px,#fcd7c2 157px,#fbd0b9 198px,#fac9b0 283px,#f8bfa4 300px,#f6b191 303px,#ec9374 305px,#c43c3c 308px,#b72330 309px,#9c1127 311px,#8a0b25 316px,#8d0c25 327px,#9a1027 330px,#b21a2c 332px,#ca4841 335px,#d35a4a 339px,#e98b6e 355px,#f4a583 362px,#f5aa89 382px,#f4a683 420px,#da6853 431px,#be3137 436px,#bc2b34 439px,#c33a3b 447px,#b92631 456px,#c3393b 459px,#df765e 462px,#f4a785 465px,#f8bb9e 469px,#f8bfa4 497px,#f9c6ac 532px,#faeae1 546px,#f3f5f6 551px,#bbdaea 562px,#c7e0ed 567px,#f7f6f5 576px,#fcd7c2 588px,#fbceb6 599px,#fbd0b9 831px)"></div>
<div style="top:201px;height:3px;background:linear-gradient(90deg,#fff 0px,#fff 150px,#fbe5d9 151px,#fcd7c2 157px,#fbd0b9 193px,#facab1 281px,#f8bea2 299px,#f5ac8b 303px,#e98b6e 305px,#bf3338 308px,#b21a2c 309px,#920e26 311px,#7f0823 316px,#810823 325px,#940e26 330px,#af172a 332px,#cc4c44 336px,#e6866a 354px,#f3a481 362px,#f5ad8c 374px,#f5aa88 417px,#f09c7b 422px,#d7634f 431px,#bb2933 436px,#b61f2e 440px,#b72230 457px,#bf3338 459px,#dd6f59 462px,#f3a481 465px,#f7b99c 469px,#f8bfa4 516px,#fac7ae 534px,#faebe3 547px,#f7f6f6 550px,#d0e4f0 555px,#96c6df 560px,#8bc0db 563px,#96c6df 566px,#e1edf3 573px,#f7f6f6 576px,#fdddcb 584px,#fbcdb5 595px,#fbd0b9 831px)"></div>
<div style="top:204px;height:3px;background:linear-gradient(90deg,#fff 0px,#fff 150px,#fbe5d8 151px,#fcd5c0 157px,#fbceb7 230px,#facab1 280px,#f8bda0 299px,#f5a886 303px,#e6866a 305px,#bd2e35 308px,#af172a 309px,#8d0c25 311px,#780522 317px,#800823 326px,#920e26 330px,#ac162a 332px,#cb4a43 336px,#e37e64 352px,#f5a987 363px,#f7b99c 374px,#f7b89a 391px,#f6b394 414px,#f2a17f 421px,#d6604d 431px,#ba2832 436px,#b41c2d 441px,#b61f2e 457px,#c6413e 460px,#ec9374 464px,#f6b090 467px,#f8bb9e 473px,#f9c4aa 533px,#fcdecc 544px,#f1f4f6 551px,#d1e5f0 554px,#7fb9d7 559px,#68abd0 562px,#6cadd1 565px,#8cc1dc 568px,#d1e5f0 572px,#f7f5f4 576px,#fcdecd 582px,#fbcdb5 592px,#fbd0b9 831px)"></div>
<div style="top:207px;height:3px;background:linear-gradient(90deg,#fff 0px,#fff 150px,#fbe5d8 151px,#fcd5bf 157px,#fbceb7 201px,#facab1 280px,#f8bb9e 299px,#f4a784 303px,#e58368 305px,#bd2d35 308px,#ad162a 309px,#8d0c25 311px,#790622 315px,#790622 324px,#900d26 330px,#ab162a 332px,#cb4942 336px,#e6866a 354px,#f6b191 364px,#fbd1ba 373px,#f9c3a8 384px,#fbd0b9 395px,#f9c3a8 403px,#fbceb7 411px,#eb9172 424px,#d6604d 431px,#ba2832 436px,#b3192c 442px,#b61f2e 457px,#be3036 459px,#db6b55 462px,#f19e7d 465px,#f7b596 469px,#f8bea2 497px,#fac8af 537px,#fdd8c3 544px,#f9f0eb 550px,#eef3f5 552px,#c4deec 555px,#70b0d3 560px,#63a7ce 563px,#70b0d3 566px,#b0d4e7 570px,#e2edf3 573px,#f6f5f5 575px,#fdddcb 581px,#fbcdb5 590px,#fcd3bc 665px,#fcd6c1 677px,#fbceb7 699px,#fbceb7 831px)"></div>
<div style="top:210px;height:3px;background:linear-gradient(90deg,#fff 0px,#fff 150px,#fbe5d8 151px,#fcd5bf 157px,#fbceb7 198px,#facab1 279px,#f8bb9e 299px,#f4a683 303px,#e58368 305px,#bd2d35 308px,#ae172a 309px,#8d0c25 311px,#790622 315px,#790622 324px,#930e26 330px,#ab162a 332px,#cb4942 336px,#e8896c 355px,#f5ac8b 362px,#fcdfcf 371px,#fce2d2 375px,#fbd0b9 383px,#fddbc7 389px,#fbe3d4 394px,#fcd3bc 402px,#fcdfcf 411px,#fbccb4 415px,#f3a481 421px,#d6604d 431px,#ba2832 436px,#b41c2d 441px,#b6212f 457px,#be3036 459px,#da6a55 462px,#f09c7b 465px,#f6b293 469px,#f9c2a7 493px,#facbb3 542px,#fbe3d4 549px,#f3f3f3 553px,#bad9e9 558px,#99c8e0 561px,#93c5de 564px,#abd2e5 567px,#ebf1f5 572px,#f8f2ef 574px,#fcdecb 579px,#fbd0b9 587px,#fcd5c0 661px,#fce1d1 674px,#fbceb7 692px,#fbceb7 831px)"></div>
<div style="top:213px;height:3px;background:linear-gradient(90deg,#fff 0px,#fff 150px,#fbe5d7 151px,#fcd5bf 156px,#fbceb7 195px,#fbccb4 274px,#f8bc9f 298px,#f5ac8b 302px,#ee9677 304px,#da6853 306px,#ae172a 309px,#8e0d25 311px,#790622 316px,#7c0722 324px,#930e26 330px,#b72230 333px,#cb4942 336px,#e8896c 355px,#f5ac8b 362px,#fce0cf 369px,#faeae1 373px,#fdd9c4 383px,#fce2d2 389px,#faeae1 394px,#fddbc7 403px,#fae7db 411px,#fcd5bf 415px,#f5aa89 420px,#d25849 432px,#b72230 437px,#b41c2d 454px,#ba2832 458px,#c6413e 460px,#e98b6e 464px,#f5a886 467px,#facbb2 488px,#fbcfb8 533px,#fac9b0 543px,#fce1d2 552px,#eeeff0 558px,#e1edf3 564px,#f6eeea 570px,#fcdac6 577px,#fcd5bf 584px,#fdddcb 660px,#f9ede5 672px,#fbe3d4 681px,#fbcfb8 691px,#fbceb7 831px)"></div>
<div style="top:216px;height:3px;background:linear-gradient(90deg,#fff 0px,#fff 150px,#fbe4d6 151px,#fcd4be 157px,#fbd0b9 186px,#fac9b0 279px,#f8bb9e 298px,#f5ac8b 302px,#ee9677 304px,#db6b55 306px,#b1182b 309px,#910d26 311px,#7c0722 316px,#7e0723 324px,#960f27 330px,#af172a 332px,#cb4942 336px,#e8896c 355px,#f5ac8b 362px,#fcdfcd 368px,#f9ede6 373px,#fbe5d8 378px,#fddcc8 384px,#f9ede6 394px,#fdddcb 403px,#faeae1 411px,#fddac6 415px,#f5aa89 420px,#d25849 432px,#bb2a34 436px,#b41c2d 440px,#b72230 457px,#be3036 459px,#e17860 463px,#f19e7d 466px,#f6af8f 472px,#f8bb9e 478px,#fcd9c4 486px,#fddcc9 532px,#f9c5ab 543px,#f9c5ab 551px,#f9c3a8 556px,#fad1bc 563px,#f8bda1 573px,#fbe2d4 589px,#fbe6da 660px,#f4f4f4 668px,#f4f4f4 677px,#fbd0b9 691px,#fbceb6 831px)"></div>
<div style="top:219px;height:3px;background:linear-gradient(90deg,#fff 0px,#fff 150px,#fbe4d6 151px,#fcd3bc 157px,#fbceb7 181px,#fcd6c1 189px,#fbccb4 200px,#fac8af 281px,#f7b89a 299px,#f3a481 303px,#e68569 305px,#c03438 308px,#b31a2c 309px,#950f26 311px,#7e0723 317px,#860a24 326px,#991027 330px,#b1182b 332px,#cb4a43 336px,#e48066 353px,#f5ac8b 362px,#fce0d0 368px,#f9eee8 373px,#fbe3d5 379px,#fddcc9 384px,#f9eee8 394px,#fcdecd 403px,#f9ebe3 410px,#fbe6da 413px,#fbd0b9 416px,#f3a481 421px,#d25849 432px,#bb2a34 436px,#b41c2d 441px,#b72230 457px,#c53e3d 460px,#e68569 464px,#f2a07e 467px,#f7b799 477px,#fcdfce 485px,#fbe3d5 502px,#fce2d2 532px,#f9c1a6 542px,#f7b799 549px,#ed9576 553px,#e37e64 556px,#e17960 568px,#e27b62 571px,#ed9576 574px,#f8bfa4 578px,#fce2d2 585px,#f9ece4 593px,#f9eee8 659px,#ecf2f5 664px,#cfe4ef 671px,#dceaf2 677px,#f8f3f0 683px,#fcd3bd 691px,#fbccb4 699px,#fbccb4 831px)"></div>
<div style="top:222px;height:3px;background:linear-gradient(90deg,#fff 0px,#fff 150px,#fbe4d6 151px,#fcd3bc 156px,#fbceb7 180px,#fcdfce 188px,#fbccb4 196px,#fac9b0 276px,#f7ba9d 297px,#f3a481 303px,#e6866a 305px,#b61f2e 309px,#991027 311px,#850a24 316px,#880b24 325px,#9d1128 330px,#b31a2c 332px,#cc4c44 336px,#e8896c 355px,#f4a583 361px,#fbd0b9 366px,#fae9df 370px,#f9eee7 375px,#fddcc9 383px,#fbe4d6 388px,#f9efe9 393px,#fae7dc 398px,#fcdecd 403px,#f9ede5 410px,#fce2d2 414px,#f5aa89 420px,#d25849 432px,#bb2a34 436px,#b51d2d 442px,#b72230 457px,#c53e3d 460px,#e58267 464px,#f2a07e 468px,#f6b090 476px,#fcdfcf 484px,#fae7db 492px,#fbe5d8 531px,#fbd1ba 537px,#f7b99c 543px,#f6b293 548px,#ee9878 551px,#d45d4c 555px,#cb4a43 558px,#cc4c44 570px,#da6a55 573px,#f5ac8b 577px,#fddcc9 583px,#f9efea 590px,#f8f4f1 658px,#e6eff4 662px,#9fcbe2 670px,#99c8e0 673px,#b6d7e8 677px,#f6f5f5 684px,#fcd5bf 691px,#facbb2 698px,#fbccb4 831px)"></div>
<div style="top:225px;height:3px;background:linear-gradient(90deg,#fff 0px,#fff 150px,#fbe3d4 151px,#fbd2bb 157px,#fbceb7 180px,#fbe4d6 188px,#fbccb4 196px,#fac8af 278px,#f7b89a 297px,#f3a481 303px,#e7876b 305px,#c43c3c 308px,#b82431 309px,#9e1228 311px,#8a0b25 316px,#8f0d25 326px,#a11328 330px,#b51e2e 332px,#cd4d44 336px,#e98b6e 356px,#f5aa89 362px,#fce0d0 368px,#f9efe9 373px,#fae7dc 378px,#fddcc9 383px,#fbe4d6 388px,#f9efe9 393px,#fae7dc 398px,#fcdecd 403px,#f9ece4 410px,#fce2d2 414px,#f6b191 419px,#e58368 426px,#d25849 432px,#bb2a34 436px,#b61f2e 441px,#b72230 457px,#c53e3d 460px,#e37f65 464px,#ef9b7a 468px,#f5ad8c 476px,#fcdfcf 484px,#fae7dc 490px,#fbe6da 530px,#fddcc8 535px,#f7b99c 541px,#f4a683 549px,#dc6e57 553px,#c84440 556px,#c13639 560px,#c2383a 569px,#ce4f45 572px,#ed9475 576px,#f7b99c 579px,#fbe4d6 585px,#f8f2ef 591px,#f7f5f4 658px,#e2edf3 662px,#c1ddec 665px,#92c5de 669px,#81bad8 672px,#9bc9e0 676px,#e1edf3 682px,#f8f4f2 685px,#fcd5bf 691px,#fac9b0 698px,#fbccb4 831px)"></div>
<div style="top:228px;height:3px;background:linear-gradient(90deg,#fff 0px,#fff 150px,#fbe3d4 151px,#fbd0b9 157px,#fbccb4 179px,#fbe6d9 187px,#fddbc7 192px,#fbccb4 196px,#f9c6ac 281px,#f7b698 296px,#f2a17f 303px,#e8896c 305px,#c6403e 308px,#b0172b 310px,#970f27 313px,#8f0d25 322px,#9e1228 329px,#b6212f 332px,#ce4f45 336px,#e98b6e 356px,#f5aa88 362px,#fce0cf 368px,#f9eee8 373px,#fbe6da 378px,#fddbc8 384px,#f9eee8 393px,#fbe6da 398px,#fdddcb 403px,#f9ebe3 410px,#fbe6d9 413px,#fbcfb8 416px,#f5aa88 420px,#d25849 432px,#bb2a34 436px,#b61f2e 441px,#b82431 457px,#be3036 459px,#e27c62 464px,#ee9777 468px,#f5aa88 476px,#fcdfcf 484px,#fae7dc 492px,#fbe6da 530px,#fddac6 535px,#f7b596 541px,#f19e7d 549px,#d96753 553px,#c6403e 556px,#be3137 560px,#c03539 569px,#cb4a43 572px,#ea8e70 576px,#f8bda1 580px,#fbe3d4 585px,#f8f1ed 590px,#f8f4f2 659px,#deebf2 664px,#afd4e6 670px,#afd4e6 674px,#f3f5f5 683px,#fbceb6 692px,#fac8af 705px,#facab1 831px)"></div>
<div style="top:231px;height:3px;background:linear-gradient(90deg,#fff 0px,#fff 150px,#fbe3d4 151px,#fbd0b9 156px,#fbccb4 179px,#fbe6da 187px,#fcdecd 191px,#fbccb4 196px,#f9c6ac 280px,#f7b697 295px,#f2a07e 303px,#df765e 306px,#bc2c35 309px,#b31a2c 310px,#9b1127 313px,#981027 325px,#a9152a 330px,#b82431 332px,#cb4942 335px,#d7634f 343px,#f09c7b 360px,#f7b89a 364px,#fce2d2 369px,#f9ede5 373px,#fbe4d6 378px,#fdd9c4 384px,#f9ede5 394px,#fddcc8 402px,#fbe4d6 407px,#fae9df 411px,#fcdfce 414px,#f6af8e 419px,#d25849 432px,#bc2b34 436px,#b61f2e 441px,#b82531 457px,#c43b3c 460px,#e17860 464px,#ec9374 468px,#f4a784 476px,#fcdecd 484px,#fae7db 491px,#fbe4d7 531px,#fcd7c2 535px,#f6b090 541px,#ef9979 549px,#d86450 553px,#c53d3d 556px,#bd2e35 561px,#c13639 570px,#d15648 573px,#f4a683 578px,#fce2d2 585px,#f8f1ed 590px,#f8f1ed 654px,#f9ede5 661px,#e7f0f4 669px,#e9f0f4 676px,#f9ede6 682px,#fbccb4 691px,#f9c6ac 705px,#facab1 831px)"></div>
<div style="top:234px;height:3px;background:linear-gradient(90deg,#fff 0px,#fff 150px,#fce2d2 151px,#fbd0b9 157px,#facbb3 179px,#fbe6da 187px,#fcdecd 191px,#facbb3 196px,#f9c6ac 279px,#f7b697 294px,#f19e7d 303px,#e0775f 306px,#be3137 309px,#b51e2e 310px,#9e1228 314px,#a11328 327px,#b41b2d 331px,#cf5246 336px,#e58368 354px,#f4a583 362px,#fce1d1 370px,#fae8de 374px,#fbd0b9 383px,#fcdfce 389px,#fae8de 394px,#fcd3bd 402px,#fbe5d8 411px,#fdd9c5 414px,#f5ac8b 419px,#d6604d 431px,#bd2d35 436px,#b61f2e 442px,#b82531 457px,#c43b3c 460px,#df755d 464px,#ea8f71 468px,#f3a380 476px,#fddcc9 484px,#fbe5d7 491px,#fbe3d4 530px,#fcd3bc 535px,#f5aa89 541px,#ec9273 549px,#d65f4d 553px,#c43b3c 556px,#bd2d35 560px,#be3036 569px,#c94641 572px,#de725b 575px,#f5aa89 579px,#fce0d0 585px,#f8f1ed 590px,#f8f1ed 653px,#fcd9c5 661px,#fad0ba 665px,#fad9c7 674px,#f9c4aa 684px,#facab1 831px)"></div>
<div style="top:237px;height:3px;background:linear-gradient(90deg,#fff 0px,#fff 150px,#fce2d2 151px,#fbceb7 157px,#facab1 179px,#fbe6da 187px,#fcdecd 191px,#facab1 196px,#f9c4a9 281px,#f6b090 295px,#f09c7b 303px,#e8896c 305px,#c03539 309px,#b1182b 311px,#a11328 316px,#aa152a 329px,#b51e2e 331px,#cf5246 336px,#e7876b 355px,#f5aa88 364px,#fcdcc9 372px,#fcd9c5 376px,#f9c3a8 381px,#f9c5ab 387px,#fcddcb 393px,#fcd4be 397px,#f9c3a8 401px,#f9c6ac 405px,#fcd9c5 410px,#fbd0b9 413px,#f4a683 419px,#da6853 430px,#ba2832 437px,#b72230 454px,#bb2933 458px,#cb4942 461px,#e27c62 465px,#eb9072 471px,#f2a17f 477px,#fcd5c0 485px,#fcddca 493px,#fcdbc8 530px,#fac7ae 535px,#f2a280 541px,#e8896d 549px,#c7423f 555px,#bd2d35 559px,#bf3338 570px,#ce4f45 573px,#f4a583 579px,#fcdfce 585px,#f9f0eb 590px,#f8f2ee 652px,#fbe5d7 657px,#f9c6ac 660px,#ef9c7d 663px,#e7876b 666px,#e58167 681px,#f09d7d 685px,#f8bb9e 689px,#f9c2a7 697px,#fac8af 831px)"></div>
<div style="top:240px;height:3px;background:linear-gradient(90deg,#fff 0px,#fff 150px,#fce2d2 151px,#fbceb7 156px,#facab1 179px,#fdd9c4 183px,#fbe6d9 187px,#fcdecb 191px,#fbccb4 195px,#fac8af 234px,#f9c4a9 280px,#f6b293 293px,#ed9576 304px,#e17960 306px,#b92631 310px,#ad162a 312px,#a61429 324px,#b2192b 330px,#cf5246 336px,#ed9475 362px,#f8bda1 373px,#f6b192 378px,#f3a685 383px,#f7b698 390px,#f8bc9f 395px,#f3a786 403px,#f7ba9d 411px,#f19e7d 419px,#df765e 428px,#cc4c44 433px,#ba2832 437px,#b72230 454px,#bb2a34 458px,#ca4841 461px,#e0775f 465px,#e8896c 469px,#ee9777 477px,#f8bda0 486px,#f9c2a7 527px,#f7b89b 533px,#ea8d70 541px,#e17a61 549px,#c13739 556px,#bb2a34 563px,#bf3237 570px,#cc4b43 573px,#f4a785 580px,#fce1d1 586px,#f9eee8 591px,#f9eee8 653px,#fce0d0 657px,#fac7ad 659px,#e8896d 662px,#d45c4c 665px,#cd4e45 669px,#ce5146 680px,#d96652 683px,#f5ac8b 688px,#f8bc9f 691px,#f9c6ac 785px,#fac8af 831px)"></div>
<div style="top:243px;height:3px;background:linear-gradient(90deg,#fff 0px,#fff 150px,#fce0d0 151px,#fbceb7 156px,#fac8af 179px,#fbe4d6 187px,#fddcc9 191px,#fac9b0 196px,#f9c4a9 278px,#f7b495 291px,#f19e7d 301px,#e98b6e 305px,#c33a3b 309px,#b51d2d 311px,#aa152a 318px,#b1182b 329px,#bd2e35 332px,#cf5246 336px,#e98c6f 359px,#ea8e70 365px,#f09c7c 375px,#e88a6e 383px,#f19d7c 394px,#ea8d70 406px,#f09c7b 412px,#ec9374 422px,#da6853 430px,#ba2832 437px,#b72230 455px,#be3036 459px,#df755d 465px,#e68569 470px,#ea8d70 500px,#e8896c 532px,#d86552 544px,#d35a4b 550px,#be2f36 557px,#bd2d35 569px,#c84540 573px,#f3a381 581px,#fcdbc9 587px,#fbe6da 593px,#fae7db 653px,#fcd8c4 657px,#f4a886 660px,#da6853 663px,#c94741 666px,#c63f3d 674px,#c94741 681px,#d86551 684px,#f3a481 688px,#f8bb9e 692px,#f9c6ac 803px,#fac8af 831px)"></div>
<div style="top:246px;height:3px;background:linear-gradient(90deg,#fff 0px,#fff 150px,#fce0d0 151px,#fbccb4 157px,#fac7ae 180px,#fcdfce 187px,#fcd7c2 191px,#fac8af 196px,#f9c2a7 280px,#f6af8e 292px,#ec9374 304px,#da6853 307px,#bc2b34 310px,#b0172b 313px,#b3192c 329px,#c43b3c 333px,#d25849 337px,#e37e64 352px,#e98b6e 359px,#e7876b 365px,#e8896c 378px,#e58167 384px,#e98b6e 394px,#e58167 406px,#ee9677 420px,#e27b62 427px,#d25849 432px,#bd2d35 436px,#b72230 442px,#b92631 457px,#c2383a 460px,#dd715a 465px,#e48066 471px,#da6954 480px,#ce5046 487px,#ca4841 535px,#be3036 555px,#bc2c35 570px,#c6413e 574px,#ea8d70 582px,#f8bea2 588px,#fac9b0 595px,#fbd1bb 653px,#f8bfa3 657px,#ec9374 660px,#d55d4c 663px,#c7423f 666px,#c43b3c 678px,#c94741 682px,#d96753 685px,#f5ac8b 690px,#f7ba9d 695px,#f9c6ac 825px,#f9c6ac 831px)"></div>
<div style="top:249px;height:3px;background:linear-gradient(90deg,#fff 0px,#fff 150px,#fce0cf 151px,#facbb2 156px,#f9c4a9 180px,#fcd5bf 188px,#f9c6ac 197px,#f9c2a7 278px,#f5ae8d 291px,#ef9b7a 300px,#ec9374 304px,#da6853 307px,#bd2d35 310px,#b2192b 313px,#b41b2d 329px,#c43b3c 333px,#cf5246 336px,#e88a6e 358px,#e58368 365px,#e48065 380px,#e68469 400px,#e48065 407px,#ec9374 421px,#df765e 428px,#d25849 432px,#bd2e35 436px,#b82431 443px,#bb2a34 458px,#dd6f59 466px,#de725b 471px,#cf5246 478px,#bc2c35 485px,#b92631 509px,#b92631 552px,#bd2d35 573px,#d2584a 582px,#e58167 589px,#e98b6e 611px,#ee9b7d 652px,#ea8d70 657px,#c84540 664px,#c2383a 670px,#c53e3d 682px,#cf5347 685px,#f4a785 691px,#f7b698 696px,#f9c4a9 792px,#f9c6ac 831px)"></div>
<div style="top:252px;height:3px;background:linear-gradient(90deg,#fff 0px,#fff 150px,#fcdfcf 151px,#fac9b0 156px,#f8bea2 178px,#f9c6ac 191px,#f8bfa4 279px,#f5a987 292px,#ee9878 301px,#eb9172 304px,#e27b62 306px,#be3036 310px,#b41b2d 313px,#b51d2d 329px,#cf5246 336px,#e8896c 358px,#e58167 367px,#e37f65 386px,#e37d63 402px,#e7876b 415px,#ec9374 421px,#dd7059 429px,#cc4c44 433px,#be3036 436px,#b82531 441px,#bb2a34 458px,#cb4a43 462px,#d86550 466px,#d45d4c 471px,#b82531 481px,#b31a2c 490px,#b51d2d 551px,#ba2832 562px,#ba2833 580px,#c7423f 592px,#cc4b43 626px,#cd4f45 656px,#c13739 666px,#c33a3b 684px,#d35a4a 687px,#f09c7b 691px,#f6af8e 694px,#f8bc9f 728px,#f9c4a9 831px)"></div>
<div style="top:255px;height:3px;background:linear-gradient(90deg,#fff 0px,#fff 150px,#fcdecd 151px,#f9c5ab 156px,#f7b99c 178px,#f9c3a8 210px,#f8bfa4 277px,#f5ae8d 289px,#ee9677 299px,#eb9172 304px,#e27b62 306px,#be3137 310px,#b51d2d 313px,#b61f2e 329px,#cf5246 336px,#e8896c 358px,#e37e64 366px,#e37d63 387px,#e37d63 409px,#eb9072 422px,#db6b55 430px,#be3036 436px,#b82531 441px,#bb2a34 458px,#cf5246 465px,#c94741 470px,#b61f2e 479px,#b1182b 502px,#b41c2d 551px,#ba2832 565px,#b41b2d 582px,#ba2833 661px,#bf3338 672px,#bf3237 684px,#c6413e 686px,#df745c 689px,#f19f7d 692px,#f5ae8d 696px,#f8bea2 755px,#f9c3a8 831px)"></div>
<div style="top:258px;height:3px;background:linear-gradient(90deg,#fff 0px,#fff 150px,#fcdecb 151px,#f9c3a8 156px,#f6b394 175px,#f9c2a7 207px,#f8bda1 278px,#f5a886 290px,#ed9475 300px,#ea8f71 304px,#e27b62 306px,#c6413e 309px,#b72230 312px,#b72230 329px,#cf5246 336px,#e6866a 357px,#e17860 370px,#e27b62 412px,#eb9072 421px,#e27b62 427px,#d7634f 431px,#be3036 436px,#b82531 442px,#bb2a34 458px,#c63f3d 465px,#b31a2c 477px,#b41c2d 552px,#b82531 561px,#b61f2e 574px,#b1182b 588px,#b21a2c 659px,#be3036 668px,#be2f36 684px,#c43c3c 686px,#dc6e58 689px,#ef9979 692px,#f5aa88 696px,#f8bc9f 750px,#f9c2a7 831px)"></div>
<div style="top:261px;height:3px;background:linear-gradient(90deg,#fff 0px,#fff 150px,#fdddca 151px,#f9c0a5 156px,#f6af8f 174px,#f7b799 189px,#f8bfa4 205px,#f8bb9e 278px,#f4a683 290px,#ec9374 300px,#ea8e70 304px,#e27b62 306px,#c84440 309px,#bb2a34 311px,#b61f2e 317px,#b72330 329px,#d05548 337px,#e68569 357px,#de735c 369px,#df765e 413px,#ea8e70 422px,#dd7059 429px,#cc4c44 433px,#bc2b34 437px,#b92631 454px,#bd2d35 464px,#b2192b 475px,#b41c2d 552px,#b82531 564px,#b41c2d 575px,#ab162a 656px,#b82531 663px,#bd2e35 673px,#be3036 685px,#d15749 688px,#e8896c 691px,#f3a280 695px,#f7b99c 741px,#f8bfa4 831px)"></div>
<div style="top:264px;height:3px;background:linear-gradient(90deg,#fff 0px,#fff 150px,#fddcc9 151px,#f8bea2 156px,#f5ab8a 174px,#f5a988 187px,#f8bda0 200px,#f8bb9e 277px,#f4a784 289px,#ec9374 298px,#ea8e70 304px,#e17a61 306px,#c13639 310px,#b72330 313px,#b82531 329px,#d05548 337px,#e58368 357px,#da6954 369px,#dd6f59 414px,#e98b6e 421px,#e48066 426px,#d25849 432px,#be3036 436px,#ba2832 443px,#b82531 463px,#b1182b 475px,#b41c2d 552px,#b82531 568px,#ae172a 585px,#ac162a 658px,#bc2b34 669px,#bd2d35 685px,#cf5347 688px,#e58267 691px,#f09c7b 695px,#f7b697 736px,#f8bfa3 831px)"></div>
<div style="top:267px;height:3px;background:linear-gradient(90deg,#fff 0px,#fff 150px,#fddbc8 151px,#f8bc9f 156px,#f5a987 173px,#f09c7b 181px,#ec9374 187px,#f7b99c 202px,#f8bb9e 274px,#f5aa89 287px,#eb9172 298px,#ea8e70 304px,#da6853 307px,#c13739 310px,#b82531 313px,#b92732 329px,#d05447 337px,#e58167 356px,#d55e4c 369px,#d6614e 387px,#d6604d 409px,#d96753 415px,#e8896c 422px,#df765e 428px,#d25849 432px,#be3137 436px,#ba2832 442px,#b72230 462px,#b1182b 476px,#b41c2d 552px,#b6202f 572px,#ae172a 588px,#ab162a 658px,#ba2833 669px,#bc2b34 685px,#cd4e45 688px,#e6866a 692px,#ef9a79 698px,#f7b495 738px,#f8bda1 831px)"></div>
<div style="top:270px;height:3px;background:linear-gradient(90deg,#fff 0px,#fff 150px,#fddbc7 151px,#f8bb9e 156px,#f5a886 171px,#f09c7b 179px,#e0775e 187px,#e98b6e 194px,#f5ae8d 202px,#f8bb9e 215px,#f7b89a 277px,#f09c7b 291px,#eb9172 301px,#e98c6f 304px,#e17860 306px,#c2383a 310px,#ba2832 313px,#ba2832 329px,#d05447 337px,#e37d63 355px,#db6c56 361px,#d05447 367px,#cf5246 414px,#e48065 422px,#e0775f 427px,#d15749 432px,#bf3338 436px,#ba2832 442px,#b82531 460px,#b1182b 472px,#b41c2d 553px,#b6202f 571px,#ae172a 587px,#a81529 658px,#b92631 668px,#ba2833 685px,#ca4842 688px,#e37e64 692px,#ec9273 697px,#f6b090 732px,#f8bb9e 818px,#f8bc9f 831px)"></div>
<div style="top:273px;height:3px;background:linear-gradient(90deg,#fff 0px,#fff 150px,#fddbc7 151px,#f7b99c 156px,#f4a683 173px,#ef9979 179px,#d7634f 187px,#d6614e 192px,#f4a786 207px,#f7b89a 220px,#f7b799 276px,#f19e7d 290px,#eb9172 299px,#e98b6e 304px,#e17860 306px,#c3393b 310px,#ba2833 313px,#bb2a34 329px,#d05548 337px,#df755d 355px,#d55d4c 361px,#ca4841 367px,#c6413e 400px,#c13739 412px,#cc4b43 417px,#dc6e57 422px,#db6d57 427px,#c63f3d 434px,#bc2b34 439px,#b72230 461px,#b1182b 472px,#b41c2d 554px,#b41b2d 574px,#a41329 652px,#ab162a 660px,#b6212f 670px,#b92631 685px,#c7433f 688px,#e0775e 692px,#e98b6e 697px,#f5ac8b 728px,#f7b89b 788px,#f8bb9e 831px)"></div>
<div style="top:276px;height:3px;background:linear-gradient(90deg,#fff 0px,#fff 150px,#fdd9c4 151px,#f7b89b 156px,#f4a683 172px,#ee9677 179px,#d25849 187px,#cb4a43 192px,#d55f4e 199px,#f1a07f 213px,#f7b596 228px,#f7b698 275px,#f19e7d 290px,#eb9172 299px,#e98b6e 304px,#e17860 306px,#c43b3c 310px,#bb2a34 313px,#bc2b34 329px,#d25849 337px,#d6604e 356px,#c43c3c 367px,#c13739 398px,#b72330 410px,#bd2e35 416px,#cf5246 422px,#cd4e45 428px,#be2f36 437px,#b51e2e 461px,#b1182b 490px,#af172a 578px,#a41329 657px,#b1192b 670px,#b61f2e 684px,#c13639 687px,#dd715a 692px,#e7876b 697px,#f5ac8b 732px,#f7b799 794px,#f7b99c 831px)"></div>
<div style="top:279px;height:3px;background:linear-gradient(90deg,#fff 0px,#fff 150px,#fdd9c4 151px,#f7b799 156px,#f3a481 174px,#eb9172 180px,#ce4f45 188px,#c53e3d 194px,#ce5146 203px,#f09b7b 222px,#f7b495 239px,#f7b596 276px,#ec9273 298px,#e98b6e 304px,#e17860 306px,#c43b3c 310px,#bb2a34 313px,#be3036 330px,#d05548 336px,#c84440 359px,#bf3338 369px,#bd2e35 398px,#b31a2c 409px,#b92631 418px,#c03438 424px,#b72230 449px,#b1182b 483px,#ac162a 589px,#a31329 659px,#b41c2d 683px,#c13639 687px,#dc6e57 692px,#e68469 698px,#f5aa89 733px,#f7b698 798px,#f7b89a 831px)"></div>
<div style="top:282px;height:3px;background:linear-gradient(90deg,#fff 0px,#fff 150px,#fdd9c4 151px,#f7b799 156px,#f3a481 174px,#eb9172 180px,#d05548 187px,#c43b3c 193px,#c43c3c 203px,#e17860 223px,#f4a886 240px,#f7b697 260px,#f6b090 280px,#ed9475 298px,#ea8e70 304px,#db6b55 307px,#c43b3c 310px,#bc2c35 313px,#bd2d35 329px,#d05548 336px,#bf3338 360px,#ba2833 399px,#b1182b 410px,#b51e2e 432px,#b1182b 564px,#a21328 659px,#b1182b 681px,#be2f36 686px,#db6b55 692px,#e48065 697px,#f5a987 734px,#f7b596 796px,#f7b799 831px)"></div>
<div style="top:285px;height:3px;background:linear-gradient(90deg,#fff 0px,#fff 150px,#fcd7c2 151px,#f7b799 156px,#f4a683 171px,#ee9677 179px,#d05548 187px,#c2383a 194px,#c2383a 208px,#d45d4c 226px,#f3a583 250px,#f6b394 271px,#f19e7d 291px,#ea8e70 304px,#db6b55 307px,#c43b3c 310px,#bc2c35 314px,#be3036 330px,#ce5146 336px,#be3137 353px,#b82531 400px,#b1182b 410px,#ae172a 587px,#a11328 654px,#ab162a 677px,#b51e2e 683px,#c84540 688px,#dd7059 693px,#e6866a 703px,#f5aa88 738px,#f7b596 820px,#f7b596 831px)"></div>
<div style="top:288px;height:3px;background:linear-gradient(90deg,#fff 0px,#fff 150px,#fcd7c2 151px,#f7b698 156px,#f3a481 173px,#ee9677 179px,#d05548 187px,#c43b3c 193px,#bf3338 207px,#c84540 228px,#e48065 248px,#f4a785 264px,#f5ae8d 277px,#ec9273 303px,#e17860 306px,#cb4942 309px,#be3036 312px,#bf3237 330px,#cd4e45 336px,#bd2e35 353px,#b82531 400px,#b1182b 410px,#ae172a 587px,#a11328 654px,#ab162a 676px,#b6202f 683px,#c94741 688px,#dd7059 693px,#e58368 701px,#f5aa88 741px,#f6b394 831px)"></div>
<div style="top:291px;height:3px;background:linear-gradient(90deg,#fff 0px,#fff 150px,#fcd7c2 151px,#f7b596 156px,#f19e7d 177px,#dc6e57 184px,#c94741 189px,#bf3338 199px,#c33a3b 232px,#d35a4b 248px,#f2a17f 272px,#f4a683 284px,#ea8e70 303px,#df755d 306px,#c53e3d 310px,#be3036 314px,#bf3338 330px,#cb4a43 336px,#be3036 351px,#b82531 400px,#b1182b 410px,#ac162a 588px,#a21328 666px,#b41b2d 681px,#c13639 686px,#de735c 693px,#e8896c 707px,#f5a886 741px,#f6b394 831px)"></div>
<div style="top:294px;height:3px;background:linear-gradient(90deg,#fff 0px,#fff 150px,#fcd6c1 151px,#f7b596 156px,#f3a481 173px,#ec9374 179px,#cc4c44 188px,#c13639 197px,#c2383a 241px,#d15648 258px,#ee9677 280px,#ec9273 292px,#e37f65 304px,#c6403e 310px,#c03438 315px,#c2383a 331px,#c94741 337px,#bd2e35 355px,#b82531 399px,#b1182b 411px,#ac162a 589px,#a31329 664px,#b41c2d 681px,#c2383a 686px,#dc6e58 692px,#e48066 699px,#f5a886 743px,#f6b191 831px)"></div>
<div style="top:297px;height:3px;background:linear-gradient(90deg,#fff 0px,#fff 150px,#fcd5bf 151px,#f7b596 156px,#f3a481 172px,#ec9374 179px,#cc4c44 188px,#c13639 197px,#c13739 250px,#ce5045 267px,#e58167 286px,#de725b 304px,#c53d3d 311px,#c2383a 330px,#c84540 337px,#bd2d35 359px,#b82531 399px,#b1182b 411px,#ac162a 591px,#a41329 662px,#b41c2d 680px,#bf3338 685px,#dd7059 692px,#e58368 700px,#f5a886 746px,#f6b090 831px)"></div>
<div style="top:300px;height:3px;background:linear-gradient(90deg,#fff 0px,#fff 150px,#fcd5bf 151px,#f6b394 156px,#ef9979 178px,#cc4c44 188px,#c13639 197px,#c2383a 262px,#ce5045 278px,#da6853 290px,#d86550 304px,#c53e3d 312px,#c53e3d 332px,#c6413e 339px,#bb2a34 371px,#b82531 399px,#b1182b 411px,#ac162a 594px,#a71429 667px,#b51d2d 680px,#c03539 685px,#de735c 692px,#e58368 700px,#f4a683 745px,#f6af8e 831px)"></div>
<div style="top:303px;height:3px;background:linear-gradient(90deg,#fff 0px,#fff 150px,#fcd5bf 151px,#f6b394 156px,#f2a17f 174px,#ea8e70 180px,#cf5246 187px,#c2383a 195px,#bf3338 229px,#c3393b 276px,#d25849 297px,#cf5246 306px,#c6403e 313px,#c53e3d 342px,#bb2a34 372px,#b82531 399px,#b1182b 411px,#ac162a 597px,#a81529 668px,#b61f2e 680px,#c53e3d 686px,#df765e 692px,#e68469 699px,#f4a683 748px,#f5ac8b 831px)"></div>
<div style="top:306px;height:3px;background:linear-gradient(90deg,#fff 0px,#fff 150px,#fcd3bc 151px,#f6b394 156px,#f2a17f 174px,#ec9374 179px,#cc4c44 188px,#c13639 197px,#c13739 281px,#ce4f45 303px,#c6413e 316px,#c43b3c 347px,#bb2a34 372px,#b82531 399px,#b1182b 411px,#ac162a 602px,#ab162a 671px,#b72230 681px,#c6413e 686px,#e0775f 692px,#e6866a 700px,#f4a683 751px,#f5ac8b 831px)"></div>
<div style="top:309px;height:6px;background:linear-gradient(90deg,#fff 0px,#fff 150px,#fcd3bc 151px,#f6b394 156px,#f2a17f 174px,#ec9374 179px,#cc4c44 188px,#c13639 197px,#c13639 284px,#ca4841 304px,#c2383a 352px,#bb2a34 373px,#b82531 399px,#b1182b 411px,#aa152a 631px,#b0172b 673px,#bc2d35 683px,#e27b62 692px,#e8896c 701px,#f4a683 755px,#f5aa89 831px)"></div>
<div style="top:315px;height:6px;background:linear-gradient(90deg,#fff 0px,#fff 150px,#fcd3bc 151px,#f6b394 156px,#f09c7b 177px,#db6a55 184px,#ca4842 189px,#c13639 199px,#c2393b 285px,#c94641 304px,#c43b3c 348px,#bb2b34 376px,#b92531 400px,#b31a2c 414px,#b41b2d 673px,#be3137 683px,#d35a4a 688px,#e58368 693px,#f3a481 754px,#f5a987 831px)"></div>
<div style="top:321px;height:3px;background:linear-gradient(90deg,#fff 0px,#fff 150px,#fcd3bc 151px,#f6b394 156px,#f09c7b 177px,#dd715a 183px,#cc4c44 188px,#c3393b 199px,#c53d3d 286px,#c94741 305px,#c2383a 353px,#bd2d35 379px,#ba2832 401px,#b6202f 418px,#b6212f 673px,#c2383a 684px,#e58167 693px,#e98b6e 701px,#f3a481 759px,#f5a886 831px)"></div>
<div style="top:324px;height:6px;background:linear-gradient(90deg,#fff 0px,#fff 150px,#fcd3bc 151px,#f6b394 156px,#ef9979 177px,#e17860 182px,#cf5246 187px,#c6403e 195px,#c7413f 287px,#c7433f 316px,#c2383a 353px,#be3036 389px,#b92531 425px,#ba2833 674px,#c43b3c 684px,#d65f4d 689px,#e68469 694px,#e98c6f 704px,#f3a481 766px,#f4a784 831px)"></div>
<div style="top:330px;height:8px;background:linear-gradient(90deg,#fff 0px,#fff 150px,#fcd3bc 151px,#f6b394 156px,#ef9979 177px,#e17860 182px,#cf5246 187px,#c6413e 195px,#c84440 289px,#c94540 308px,#c2383a 353px,#bc2d35 403px,#bc2c34 672px,#c6413e 685px,#dd7059 691px,#e98b6e 696px,#ef9a79 737px,#f4a583 831px)"></div>
</div>
<div class="hm" style="left:1186px;top:22px;width:831px;height:338px">
<div style="top:0px;height:12px;background:linear-gradient(90deg,#fae9df 0px,#fbe6da 122px,#fbe4d6 307px,#fbd0b9 319px,#fcd7c2 325px,#fbe5d8 334px,#fae9df 432px,#fae9df 678px,#fff 679px,#fff 831px)"></div>
<div style="top:12px;height:12px;background:linear-gradient(90deg,#fae9df 0px,#fbe6da 122px,#fbe4d6 307px,#fbd1ba 319px,#fddcc9 327px,#fbe6da 337px,#fae9df 420px,#fae9df 678px,#fff 679px,#fff 831px)"></div>
<div style="top:24px;height:3px;background:linear-gradient(90deg,#fae9df 0px,#fbe6da 122px,#fbe4d6 307px,#fcd5bf 319px,#fcdfcf 329px,#fbe6da 339px,#f9ede5 401px,#fae9df 540px,#fae9df 678px,#fff 679px,#fff 831px)"></div>
<div style="top:27px;height:3px;background:linear-gradient(90deg,#fae9df 0px,#fbe6da 122px,#fbe4d6 307px,#fdd9c4 320px,#fbe6da 339px,#f9ede6 398px,#fae9df 470px,#fae9df 678px,#fff 679px,#fff 831px)"></div>
<div style="top:30px;height:3px;background:linear-gradient(90deg,#fae9df 0px,#fbe6da 122px,#fbe4d6 307px,#fcdecc 317px,#fce2d2 330px,#fae7dc 348px,#f9eee7 391px,#fae9df 474px,#fae9df 678px,#fff 679px,#fff 831px)"></div>
<div style="top:33px;height:3px;background:linear-gradient(90deg,#fae9df 0px,#fbe6da 122px,#fbe4d6 307px,#fbe2d4 316px,#fbe2d4 323px,#fbe4d6 332px,#f9eee8 389px,#fae9df 458px,#fae9df 678px,#fff 679px,#fff 831px)"></div>
<div style="top:36px;height:3px;background:linear-gradient(90deg,#fae9df 0px,#fbe6d9 135px,#fbe3d5 308px,#fbe6d9 315px,#faeae1 321px,#fce2d3 329px,#f9efe9 387px,#fae9df 455px,#fae9df 678px,#fff 679px,#fff 831px)"></div>
<div style="top:39px;height:6px;background:linear-gradient(90deg,#fae8de 0px,#fbe5d8 155px,#fbe5d8 313px,#f8f2ee 320px,#fbe3d4 328px,#f9efe9 389px,#fae9de 461px,#fae9de 678px,#fff 679px,#fff 831px)"></div>
<div style="top:45px;height:3px;background:linear-gradient(90deg,#fae8de 0px,#fbe5d8 183px,#fbe4d6 313px,#f9efea 320px,#fbe2d4 328px,#f9efe9 388px,#fae8de 456px,#fae8de 678px,#fff 679px,#fff 831px)"></div>
<div style="top:48px;height:3px;background:linear-gradient(90deg,#fae8de 0px,#fbe5d8 183px,#fbe3d4 308px,#fbe3d5 315px,#fae8dd 321px,#fce2d2 329px,#f9efe9 380px,#fae8de 458px,#fae8de 678px,#fff 679px,#fff 831px)"></div>
<div style="top:51px;height:3px;background:linear-gradient(90deg,#fae8de 0px,#fbe5d8 183px,#fbe4d6 307px,#fcdecd 316px,#fce2d2 330px,#fae8de 347px,#f9efe9 397px,#fae7dc 448px,#fae8de 678px,#fff 679px,#fff 831px)"></div>
<div style="top:54px;height:3px;background:linear-gradient(90deg,#fae8dd 0px,#fbe4d6 177px,#fbe4d6 307px,#fcd5bf 317px,#fddcc8 327px,#fae8dd 338px,#f9efe9 399px,#fbe6da 450px,#fae8de 678px,#fff 679px,#fff 831px)"></div>
<div style="top:57px;height:3px;background:linear-gradient(90deg,#fae7dc 0px,#fbe4d7 266px,#fbe5d8 306px,#fac8af 318px,#fbd0b9 325px,#fae7dc 334px,#f9efe9 398px,#fbe6d9 453px,#fae7dc 678px,#fff 679px,#fff 831px)"></div>
<div style="top:60px;height:3px;background:linear-gradient(90deg,#fae7dc 0px,#fbe4d6 266px,#fae7dc 305px,#fddac6 311px,#f9c0a5 317px,#f9c4a9 323px,#fbe5d8 332px,#faebe2 344px,#f9eee7 405px,#fbe5d7 453px,#fae7dc 678px,#fff 679px,#fff 831px)"></div>
<div style="top:63px;height:3px;background:linear-gradient(90deg,#fae7dc 0px,#fbe4d6 266px,#faeae0 304px,#fdd9c4 311px,#f7b99c 317px,#f7b99c 322px,#fbe6da 332px,#f9ece4 344px,#f9ede5 409px,#fbe3d5 451px,#fae7dc 483px,#fae7dc 678px,#fff 679px,#fff 831px)"></div>
<div style="top:66px;height:3px;background:linear-gradient(90deg,#fae7dc 0px,#fbe4d6 266px,#f9ece4 302px,#fbe4d6 308px,#fac9b0 313px,#f6b191 318px,#f6b394 322px,#fbe4d6 331px,#f9ede6 338px,#f9ede5 409px,#fbe3d5 452px,#fae7dc 484px,#fae7dc 678px,#fff 679px,#fff 831px)"></div>
<div style="top:69px;height:3px;background:linear-gradient(90deg,#fae7dc 0px,#fbe3d5 177px,#fbe6da 272px,#f9eee8 301px,#fbe5d7 308px,#f9c5ab 313px,#f5ac8b 318px,#f6af8e 322px,#fbceb6 327px,#fbe5d8 331px,#f9efea 338px,#f9ebe3 411px,#fbe3d4 452px,#fae7dc 487px,#fae7dc 678px,#fff 679px,#fff 831px)"></div>
<div style="top:72px;height:9px;background:linear-gradient(90deg,#fbe6da 0px,#fbe4d6 266px,#f8f1ed 298px,#f9ece3 306px,#fcd5bf 311px,#f5ad8c 316px,#f4a582 320px,#f6b394 324px,#fce2d3 330px,#f9efea 335px,#f9ebe3 411px,#fbe3d4 452px,#fbe6da 515px,#fbe6da 678px,#fff 679px,#fff 831px)"></div>
<div style="top:81px;height:3px;background:linear-gradient(90deg,#fbe6da 0px,#fbe3d5 263px,#f8f3f0 297px,#f9ede6 306px,#fcd7c2 311px,#f6af8f 316px,#f4a784 320px,#f7b495 324px,#fbe3d4 330px,#f8f1ec 335px,#f9f0eb 360px,#faeae1 413px,#fbe3d4 453px,#fbe6da 514px,#fbe6da 678px,#fff 679px,#fff 831px)"></div>
<div style="top:84px;height:3px;background:linear-gradient(90deg,#fbe6da 0px,#fce2d3 181px,#fbe5d8 269px,#f8f3f0 297px,#f9eee7 306px,#fddac5 311px,#f6b394 316px,#f5aa89 320px,#f7b89b 324px,#fbe4d6 330px,#f8f2ef 336px,#faeae1 413px,#fbe3d4 453px,#fbe6da 514px,#fbe6da 678px,#fff 679px,#fff 831px)"></div>
<div style="top:87px;height:3px;background:linear-gradient(90deg,#fbe6da 0px,#fce2d2 145px,#fbe5d7 268px,#f8f3f0 296px,#f9eee8 306px,#fddcc8 311px,#f7b89a 316px,#f6b191 320px,#f8bda1 324px,#fbe5d8 330px,#f8f2ef 336px,#faeae1 413px,#fbe3d5 453px,#fbe5d9 678px,#fff 679px,#fff 831px)"></div>
<div style="top:90px;height:3px;background:linear-gradient(90deg,#fbe6da 0px,#fce2d2 139px,#fbe5d7 269px,#f8f3f0 296px,#f9efe9 306px,#fdd8c3 312px,#f8bb9e 317px,#f7b799 321px,#fbd0b9 326px,#f9ede5 332px,#f8f3f0 340px,#f9eee7 397px,#fbe5d7 453px,#fbe5d8 678px,#fff 679px,#fff 831px)"></div>
<div style="top:93px;height:3px;background:linear-gradient(90deg,#fbe6da 0px,#fce2d2 133px,#fbe4d6 269px,#f8f3f0 294px,#f9efea 306px,#fddcc9 312px,#f9c2a7 317px,#f8bfa4 321px,#fbceb7 325px,#f9ede6 332px,#f8f3f0 341px,#f9eee7 394px,#fae9de 456px,#fbe5d8 550px,#fbe5d8 678px,#fff 679px,#fff 831px)"></div>
<div style="top:96px;height:3px;background:linear-gradient(90deg,#fbe5d9 0px,#fce0d0 261px,#faeae1 275px,#f8f3f0 294px,#f9f0eb 306px,#fac7ae 318px,#fbcdb5 323px,#f9f0eb 333px,#f8f2ef 355px,#f9eee7 390px,#fae9df 486px,#fbe4d6 500px,#fbe5d8 678px,#fff 679px,#fff 831px)"></div>
<div style="top:99px;height:3px;background:linear-gradient(90deg,#fbe5d8 0px,#fce1d1 181px,#fbe3d4 268px,#f8f2ef 283px,#f8f1ec 306px,#fcd3bd 319px,#fcdecc 325px,#f8f2ee 334px,#f9f0eb 364px,#f9ece4 485px,#fbe3d5 495px,#fbe5d8 678px,#fff 679px,#fff 831px)"></div>
<div style="top:102px;height:3px;background:linear-gradient(90deg,#fbe5d8 0px,#fce0d0 142px,#fce2d3 268px,#f8f3f0 282px,#f8f1ec 307px,#fce0cf 319px,#faebe2 328px,#f8f3f0 338px,#f9f0eb 364px,#f9ede5 485px,#fbe3d4 495px,#fbe4d7 678px,#fff 679px,#fff 831px)"></div>
<div style="top:105px;height:3px;background:linear-gradient(90deg,#fbe5d8 0px,#fce0d0 139px,#fce2d2 268px,#f8f3f0 281px,#f9f0eb 310px,#fae9df 321px,#f8f3f0 339px,#f9f0eb 364px,#f9efe9 408px,#f9eee7 484px,#fbe2d4 494px,#fbe4d6 678px,#fff 679px,#fff 831px)"></div>
<div style="top:108px;height:6px;background:linear-gradient(90deg,#fbe5d8 0px,#fce0d0 133px,#fce1d1 268px,#f8f3f0 281px,#f8f2ee 328px,#f8f1ed 363px,#f9ede6 377px,#f9f0eb 409px,#f9f0ea 482px,#fce2d2 492px,#fbe4d6 678px,#fff 679px,#fff 831px)"></div>
<div style="top:114px;height:3px;background:linear-gradient(90deg,#fbe5d8 0px,#fce0cf 116px,#fce0d0 268px,#f8f3f0 281px,#f8f1ed 362px,#f9ede5 376px,#f9efea 409px,#f8f3f0 438px,#f9f0eb 481px,#fce0d0 491px,#fbe4d6 678px,#fff 679px,#fff 831px)"></div>
<div style="top:117px;height:3px;background:linear-gradient(90deg,#fbe5d8 0px,#fcdfcf 102px,#fcdfcf 268px,#f8f3f0 281px,#f8f3f0 359px,#f9ede5 371px,#f9eee8 409px,#f8f3f0 421px,#f8f1ec 480px,#fce0d0 489px,#fbe3d5 678px,#fff 679px,#fff 831px)"></div>
<div style="top:120px;height:3px;background:linear-gradient(90deg,#fbe5d8 0px,#fcdfcf 98px,#fcdecd 267px,#faebe2 275px,#f8f4f2 283px,#f1f4f6 305px,#f5f6f7 355px,#f9ece4 371px,#f9eee7 409px,#f8f4f2 419px,#f8f2ef 479px,#fce0d0 488px,#fbe3d4 678px,#fff 679px,#fff 831px)"></div>
<div style="top:123px;height:3px;background:linear-gradient(90deg,#fbe5d8 0px,#fcdfcf 93px,#fcdecd 268px,#f8f3f0 281px,#ecf2f5 293px,#eff3f6 354px,#f8f1ed 361px,#f9ebe3 372px,#f9ece4 408px,#f7f6f5 414px,#f8f5f3 480px,#fce0d0 486px,#fbe3d4 678px,#fff 679px,#fff 831px)"></div>
<div style="top:126px;height:3px;background:linear-gradient(90deg,#fbe5d8 0px,#fcdfcf 89px,#fdddcb 267px,#fae9df 275px,#f4f5f6 285px,#e6eff4 289px,#e9f0f4 353px,#f8f4f2 357px,#f9ebe3 370px,#faeae1 408px,#f6f7f7 414px,#f7f5f4 480px,#fce1d1 485px,#fbe2d4 583px,#fbe3d4 678px,#fff 679px,#fff 831px)"></div>
<div style="top:129px;height:3px;background:linear-gradient(90deg,#fbe5d8 0px,#fcdecd 89px,#fdddcb 268px,#f9ede6 277px,#f2f5f6 285px,#e1edf3 289px,#e5eef4 353px,#f8f4f2 357px,#faebe3 369px,#f9ebe3 410px,#f5f6f7 414px,#f7f6f5 479px,#fce0d0 484px,#fbe3d4 678px,#fff 679px,#fff 831px)"></div>
<div style="top:132px;height:3px;background:linear-gradient(90deg,#fbe5d8 0px,#fcdecd 86px,#fddac6 250px,#fcdecd 270px,#f7f7f7 284px,#dceaf2 288px,#dfecf3 352px,#f7f5f4 356px,#faeae1 368px,#faebe2 411px,#f6f6f7 414px,#f3f5f6 477px,#f8f2ef 479px,#fce0cf 483px,#fce1d1 571px,#fce2d2 678px,#fff 679px,#fff 831px)"></div>
<div style="top:135px;height:3px;background:linear-gradient(90deg,#fbe5d8 0px,#fcdecd 82px,#fddac6 242px,#fdddca 269px,#faeae0 277px,#f7f7f7 284px,#d6e7f1 288px,#d6e7f1 351px,#f6f7f7 355px,#faeae0 366px,#fae7dc 411px,#f6f6f7 415px,#f0f4f6 430px,#f2f5f6 476px,#f8f2ef 478px,#fce2d2 481px,#fddcca 494px,#fce2d2 678px,#fff 679px,#fff 831px)"></div>
<div style="top:138px;height:3px;background:linear-gradient(90deg,#fbe5d8 0px,#fcdecd 82px,#fdd8c3 250px,#fdddcb 271px,#f3f5f6 285px,#cae2ee 289px,#cae2ee 350px,#f7f5f4 355px,#fae9de 366px,#fbe6da 412px,#f5f6f6 416px,#eef3f5 425px,#f1f4f6 475px,#f8f2ee 477px,#fce2d2 480px,#fddbc8 490px,#fce2d2 678px,#fff 679px,#fff 831px)"></div>
<div style="top:141px;height:3px;background:linear-gradient(90deg,#fbe5d8 0px,#fcdecd 82px,#fdd8c3 243px,#fddac6 269px,#fae7dc 278px,#f4f5f6 285px,#bedbeb 289px,#b8d8e9 311px,#bcdaea 349px,#cfe4f0 351px,#f6f6f6 354px,#fae7dc 363px,#fbe5d8 413px,#f5f6f6 417px,#ebf1f5 423px,#f0f4f6 474px,#f8f1ed 476px,#fce0d0 479px,#fdd9c4 494px,#fce0d0 645px,#fce0d0 678px,#fff 679px,#fff 831px)"></div>
<div style="top:144px;height:3px;background:linear-gradient(90deg,#fbe5d8 0px,#fdddcb 96px,#fcd7c2 239px,#fdd8c3 269px,#fbe4d6 278px,#f6f6f6 285px,#ddebf2 287px,#b7d8e9 289px,#acd2e5 291px,#add3e6 348px,#c0dceb 350px,#f4f5f6 353px,#fbe6da 361px,#fce0cf 402px,#fbe3d4 414px,#f6f5f5 418px,#e9f1f4 422px,#ebf1f5 472px,#f6f5f5 474px,#fce0d0 478px,#fcd7c2 488px,#fdd8c3 520px,#fce0d0 629px,#fce0d0 678px,#fff 679px,#fff 831px)"></div>
<div style="top:147px;height:3px;background:linear-gradient(90deg,#fbe5d8 0px,#fdddcb 96px,#fcd6c1 244px,#fdd8c3 272px,#fbe6d9 280px,#f2f5f6 286px,#cde3ef 288px,#b1d5e7 289px,#9ac9e0 291px,#93c5de 327px,#9bc9e0 347px,#afd4e6 349px,#e0ecf3 351px,#f1f4f6 352px,#fae8dd 357px,#fce0d0 366px,#fcd7c2 396px,#fce0d0 415px,#f9eee7 418px,#f0f4f6 420px,#e7eff4 425px,#ebf1f5 471px,#f7f4f3 473px,#fce2d3 476px,#fcd5c0 485px,#fcd3bd 516px,#fdddcb 555px,#fcdfcf 678px,#fff 679px,#fff 831px)"></div>
<div style="top:150px;height:3px;background:linear-gradient(90deg,#fbe5d8 0px,#fdddcb 96px,#fcd6c1 239px,#fcd6c1 273px,#fce2d2 280px,#f7f6f5 286px,#d7e8f1 288px,#99c9e0 290px,#87beda 291px,#7eb8d7 295px,#6eaed2 320px,#84bcd9 346px,#9fcbe2 348px,#dbeaf2 350px,#eff3f6 351px,#f9eee8 353px,#fcdecc 360px,#facbb2 393px,#fddbc7 415px,#fbe5d7 418px,#f7f4f1 420px,#e5eff4 424px,#eaf1f5 470px,#f7f4f2 472px,#fce0d0 475px,#fcd3bd 484px,#fbceb7 514px,#fcdecc 549px,#fcdfcf 678px,#fff 679px,#fff 831px)"></div>
<div style="top:153px;height:3px;background:linear-gradient(90deg,#fbe5d8 0px,#fddcc9 110px,#fcd5c0 234px,#fcd3bd 274px,#fce0cf 281px,#f3f5f6 287px,#e3eef3 288px,#c8e0ed 289px,#7eb8d7 291px,#6bacd1 292px,#569fc9 301px,#4795c4 319px,#6bacd1 345px,#79b5d5 346px,#b9d9e9 348px,#dbeaf2 349px,#f0f4f6 350px,#fae8de 353px,#fcd7c2 360px,#f9c1a6 391px,#fbd0b9 414px,#fce0d0 419px,#f3f5f6 422px,#e2edf3 425px,#e4eef4 468px,#f3f5f6 470px,#fcdecd 474px,#fbd0b9 483px,#facbb2 515px,#fce0cf 548px,#fcdfcd 678px,#fff 679px,#fff 831px)"></div>
<div style="top:156px;height:3px;background:linear-gradient(90deg,#fbe5d8 0px,#fddcc9 110px,#fcd4be 240px,#fbd2bb 276px,#fbe2d4 283px,#f8f4f2 287px,#f0f4f6 288px,#ddebf2 289px,#b8d8e9 290px,#61a6cd 292px,#4c99c6 293px,#3e8cbf 298px,#2e77b5 317px,#4a97c5 343px,#4f9bc7 344px,#61a6cd 345px,#84bcd9 346px,#dae9f2 348px,#f2f4f6 349px,#fddac6 355px,#fbccb4 362px,#f8bb9e 389px,#f9c4a9 411px,#fbd1ba 418px,#fbe4d7 421px,#f3f5f5 423px,#deebf2 426px,#deebf2 466px,#f3f5f6 469px,#fce0cf 472px,#fbd1ba 477px,#fac7ad 507px,#fcd3bd 530px,#fce2d3 546px,#fcdfcd 595px,#fcdecd 678px,#fff 679px,#fff 831px)"></div>
<div style="top:159px;height:3px;background:linear-gradient(90deg,#fbe5d8 0px,#fddbc7 123px,#fbd2bb 245px,#fbd2bb 278px,#fbe3d4 284px,#f7f6f6 288px,#d6e7f1 290px,#abd2e5 291px,#74b2d4 292px,#4695c4 293px,#337eb8 295px,#195696 315px,#2062a5 326px,#3d8bbf 343px,#509bc8 344px,#b4d6e8 346px,#ddebf2 347px,#f2f4f5 348px,#fcd6c1 354px,#f9c6ac 360px,#f7b698 387px,#f8bda1 412px,#facbb2 419px,#fce0d0 422px,#f5f4f3 424px,#dae9f2 427px,#d2e6f0 451px,#dfecf3 466px,#f5f4f4 468px,#fcdcca 471px,#fbceb7 476px,#f9c4aa 507px,#fbcfb8 529px,#fbe3d5 545px,#fce1d2 589px,#fcdecc 678px,#fff 679px,#fff 831px)"></div>
<div style="top:162px;height:3px;background:linear-gradient(90deg,#fbe5d8 0px,#fdd9c4 143px,#fbd2bb 241px,#fbceb7 276px,#fddcca 283px,#f4f5f6 289px,#d3e6f0 291px,#a9d1e5 292px,#3d8bbf 294px,#256baf 296px,#09386c 312px,#0a396e 322px,#2469ad 338px,#2b74b3 341px,#3480b9 342px,#4a96c5 343px,#bedbea 345px,#e2edf3 346px,#f5f5f4 347px,#fcd3bc 353px,#f9c0a5 360px,#f6b394 385px,#f7b99c 413px,#f9c5ab 420px,#fcdac7 423px,#f8f1ed 425px,#edf2f5 426px,#d7e8f1 428px,#bbdaea 446px,#d7e8f1 464px,#ecf2f5 466px,#f7f2ee 467px,#fcd9c4 470px,#facbb2 475px,#f9c4a9 514px,#fbd0b9 531px,#fbe5d7 544px,#fbe3d5 586px,#fdddcb 608px,#fdddcb 678px,#fff 679px,#fff 831px)"></div>
<div style="top:165px;height:3px;background:linear-gradient(90deg,#fbe5d8 0px,#fcd7c2 156px,#fbceb6 255px,#fbceb7 277px,#fcdecd 284px,#f7f6f6 289px,#e2edf3 291px,#d0e4ef 292px,#a7d0e4 293px,#3986bc 295px,#246aae 296px,#154e8b 298px,#063163 306px,#073466 328px,#1d5fa2 339px,#3580b9 341px,#5aa0ca 342px,#98c7df 343px,#cbe2ee 344px,#e7f0f4 345px,#f6f4f3 346px,#fbd0b9 352px,#f8bc9f 360px,#f6b192 381px,#f7b799 415px,#f9c5ab 422px,#fce0d0 425px,#f1f3f4 427px,#cae1ee 430px,#97c7df 445px,#a9d1e5 452px,#cbe2ee 462px,#f1f3f5 465px,#fcdbc8 468px,#facbb2 472px,#f9c4a9 503px,#fac9b0 527px,#fae7db 545px,#fbe5d8 585px,#fdddcb 602px,#fdddca 678px,#fff 679px,#fff 831px)"></div>
<div style="top:168px;height:3px;background:linear-gradient(90deg,#fbe5d8 0px,#fcd7c2 163px,#facbb2 261px,#fbcfb8 278px,#fbe4d6 286px,#f3f5f6 290px,#cbe2ee 293px,#a7d0e4 294px,#3e8abe 296px,#256aac 297px,#0f447c 299px,#053061 303px,#063264 331px,#114882 336px,#1f60a2 338px,#2e77b5 339px,#4d96c5 340px,#b9d9e9 342px,#dceaf2 343px,#f7f4f2 345px,#fbd0b9 351px,#f7b99c 359px,#f6af8f 379px,#f7b495 416px,#f9c2a7 423px,#fcdcc9 426px,#f4f3f2 428px,#bcdaea 431px,#67aacf 443px,#63a7ce 447px,#84bcd9 452px,#bddbea 461px,#f4f3f3 464px,#fcd8c3 467px,#facab1 470px,#f9c2a7 502px,#facab1 529px,#fae8dd 545px,#fae7db 584px,#fddcc9 601px,#fddcc9 678px,#fff 679px,#fff 831px)"></div>
<div style="top:171px;height:3px;background:linear-gradient(90deg,#fbe5d8 0px,#fcd6c1 167px,#facbb2 275px,#fcdfce 285px,#f7f5f4 290px,#dbeaf2 293px,#cbe2ee 294px,#afd4e6 295px,#88beda 296px,#549cc8 297px,#307ab6 298px,#10457e 300px,#053061 302px,#053162 332px,#10467f 335px,#2c74b2 337px,#5098c6 338px,#b7d8e9 340px,#d6e7f1 341px,#f3f4f5 343px,#fbd0b9 350px,#f7b89a 358px,#f5ad8c 374px,#f6b293 418px,#f8bfa4 424px,#fbccb4 426px,#f7f2ef 429px,#e3edf3 430px,#acd2e5 432px,#79b5d5 436px,#4491c2 441px,#3682ba 446px,#4491c2 450px,#a0cce2 459px,#b1d5e7 460px,#e4eef4 462px,#f7f2ef 463px,#fcdcc9 465px,#facab1 468px,#f9c2a7 492px,#fac8af 528px,#fbe3d4 540px,#faebe3 551px,#fae8de 583px,#fddcc9 598px,#fddcc9 678px,#fff 679px,#fff 831px)"></div>
<div style="top:174px;height:3px;background:linear-gradient(90deg,#fbe5d8 0px,#fcd5bf 169px,#facab1 276px,#fcdfcf 286px,#f3f5f6 292px,#d3e6f0 295px,#a5cfe3 297px,#579dc8 299px,#367fb9 300px,#134a85 302px,#09386d 303px,#053061 305px,#053162 330px,#0d4078 332px,#2467a4 334px,#3980b8 335px,#599dc9 336px,#b4d6e8 338px,#d2e5f0 339px,#f0f4f6 341px,#fddac6 347px,#f8bb9e 354px,#f5ac8b 368px,#f6af8f 418px,#f8bda1 425px,#fcd7c2 428px,#f8f1ed 430px,#e4eef4 431px,#7ab6d6 434px,#529dc8 436px,#327db8 440px,#2064a7 445px,#2d76b4 450px,#509bc8 455px,#6cadd1 457px,#a2cde3 459px,#e6eff4 461px,#f8f1ec 462px,#fddbc7 464px,#fac9b0 467px,#f9c2a7 487px,#f9c6ac 527px,#fdd9c4 536px,#faebe3 547px,#fae9df 582px,#fddcc8 598px,#fddbc7 678px,#fff 679px,#fff 831px)"></div>
<div style="top:177px;height:3px;background:linear-gradient(90deg,#fbe5d8 0px,#fcd4be 166px,#fac7ae 263px,#facbb2 279px,#fce1d1 288px,#f2f4f5 294px,#c7e0ed 298px,#98c7df 300px,#3980b8 303px,#195590 305px,#083568 308px,#053061 315px,#063365 326px,#0c3e75 328px,#1e5d99 330px,#2e74ad 331px,#6cabd0 333px,#b3d6e7 335px,#dceaf2 337px,#f7f2ef 340px,#f9c5ab 349px,#f6af8f 358px,#f5aa88 390px,#f6af8f 421px,#f8bda1 426px,#fcd9c4 429px,#f9efea 431px,#e9f1f4 432px,#c7e0ed 433px,#61a6cd 435px,#4190c1 436px,#2165aa 441px,#175391 445px,#1d5ea1 449px,#3c8abe 455px,#4997c5 456px,#6daed1 457px,#cee4ef 459px,#eef2f4 460px,#fbe2d4 462px,#fac8af 466px,#f9c2a7 479px,#f9c6ac 528px,#fcd6c1 536px,#faeae1 546px,#f9ebe3 580px,#fddbc7 597px,#fddbc7 678px,#fff 679px,#fff 831px)"></div>
<div style="top:180px;height:3px;background:linear-gradient(90deg,#fbe5d8 0px,#fcd3bc 167px,#fac7ae 260px,#fac9b0 280px,#fbe2d4 291px,#f1f3f4 297px,#cfe4ef 301px,#9bc8e0 304px,#468abd 308px,#21619b 311px,#0f447c 317px,#18538c 321px,#3073aa 325px,#62a1cb 328px,#b5d7e8 331px,#d9e9f1 333px,#f4f2f0 336px,#fbccb4 344px,#f6b191 352px,#f4a785 370px,#f5ac8b 421px,#f8bda1 427px,#fbe3d4 431px,#edf2f5 433px,#cee3ef 434px,#64a8ce 436px,#3f8cbf 437px,#2970b1 439px,#175392 444px,#195696 448px,#2e77b5 453px,#4895c4 455px,#74b2d4 456px,#acd2e5 457px,#d8e8f1 458px,#f1f3f4 459px,#fddbc7 462px,#fac7ae 465px,#f9c0a5 477px,#f9c6ac 530px,#fdddcb 539px,#f9ede5 548px,#f9ebe3 579px,#fddac5 596px,#fddac5 678px,#fff 679px,#fff 831px)"></div>
<div style="top:183px;height:3px;background:linear-gradient(90deg,#fbe5d8 0px,#fcd3bc 157px,#fac7ae 257px,#fac7ae 282px,#fcdecd 293px,#f1f2f2 302px,#c8e0ec 310px,#96c3dd 317px,#a4cce1 320px,#cde2ec 324px,#f1eae5 329px,#fbcfb9 337px,#f5ad8c 345px,#f2a280 355px,#f5aa89 422px,#f8bc9f 428px,#fcd9c5 431px,#f2f3f3 434px,#deebf2 435px,#bad9e9 436px,#539cc8 438px,#3783bb 439px,#2165aa 442px,#1c5da0 446px,#2971b2 451px,#3f8cbf 453px,#61a6cd 454px,#c7e0ed 456px,#e7eff4 457px,#f6f2ef 458px,#fbd1ba 462px,#f9c2a7 466px,#f9c4aa 530px,#fcd7c2 538px,#f9ede5 548px,#f9eee8 576px,#fcd7c2 595px,#fdd9c4 678px,#fff 679px,#fff 831px)"></div>
<div style="top:186px;height:3px;background:linear-gradient(90deg,#fbe5d8 0px,#fbd0b9 159px,#fac8af 254px,#f9c4a9 283px,#fcd8c4 296px,#fbe3d5 304px,#f7c2a9 310px,#f6c5af 318px,#f0a68a 326px,#e88d71 331px,#f19f7f 337px,#e98b6e 348px,#f3a481 367px,#f5a886 424px,#f7b89b 429px,#fcddcb 433px,#f8f0ea 435px,#edf1f3 436px,#d8e8f1 437px,#b6d7e8 438px,#5da2cb 440px,#408bbf 441px,#2c74b3 443px,#286fb1 447px,#3681ba 450px,#4691c2 451px,#66a9cf 452px,#c2ddeb 454px,#e2edf3 455px,#f3f2f1 456px,#fcd3bd 460px,#f8bfa4 464px,#f9c4aa 532px,#fcd7c2 539px,#f9eee8 549px,#f8f2ee 571px,#fbe5d7 583px,#fcd5c0 595px,#fcd7c2 678px,#fff 679px,#fff 831px)"></div>
<div style="top:189px;height:3px;background:linear-gradient(90deg,#fbe5d8 0px,#fbd0b9 150px,#fac7ae 253px,#f9c2a7 289px,#fbccb4 302px,#f9c4aa 304px,#ee9778 307px,#d55f4f 310px,#ce5248 313px,#cb4943 322px,#c2383a 329px,#cb4a43 332px,#df755d 336px,#e17960 349px,#f19e7d 362px,#f2a281 428px,#f6b394 432px,#fae8de 437px,#e9edf0 439px,#d4e6f0 440px,#70aed2 443px,#589dc9 444px,#4790c2 446px,#5a9fca 448px,#73b0d3 449px,#bedbea 451px,#dce9f0 452px,#f7ebe4 454px,#f9c5ab 458px,#f6b394 462px,#f8bfa4 486px,#f9c4a9 533px,#fcd7c2 540px,#f8f2ef 551px,#f7f6f5 570px,#fae7db 581px,#fcd5bf 592px,#fcd7c2 678px,#fff 679px,#fff 831px)"></div>
<div style="top:192px;height:3px;background:linear-gradient(90deg,#fbe5d8 0px,#fbceb7 152px,#fac7ae 251px,#f8bfa4 293px,#f7ba9d 302px,#f1a07f 305px,#d15648 308px,#bc2c35 310px,#b11d2d 312px,#aa162a 329px,#b41d2e 331px,#d05548 335px,#d7634f 338px,#df745c 350px,#ef9a79 361px,#ef9b7a 416px,#e27b62 431px,#ea8e72 435px,#f5b296 438px,#f5e0d5 442px,#e6e6e6 444px,#d8e2e6 446px,#f0e4dd 449px,#f9d4c1 451px,#ef9f81 455px,#e8896d 458px,#eb9072 463px,#f7b89a 473px,#f8bfa4 490px,#f9c4a9 535px,#fddbc7 542px,#f6f6f6 552px,#e7f0f4 565px,#f8f4f2 575px,#fcd5bf 589px,#fcd5c0 678px,#fff 679px,#fff 831px)"></div>
<div style="top:195px;height:3px;background:linear-gradient(90deg,#fbe5d8 0px,#fbceb7 143px,#fac7ae 249px,#f7b596 300px,#f5aa88 303px,#ea8f71 305px,#c7423f 308px,#af182b 310px,#960f27 313px,#900d26 325px,#9e1228 330px,#b41c2d 332px,#cf5246 336px,#e17860 352px,#ee9878 361px,#ee9878 415px,#d96652 426px,#c7423f 432px,#cb4942 436px,#e6856b 443px,#ea9378 446px,#e58369 449px,#cc4b43 455px,#cc4b43 459px,#dc6e58 464px,#f5aa89 471px,#f8bb9e 477px,#f9c3a8 536px,#fcd7c2 542px,#f3f5f6 551px,#d0e4ef 562px,#deebf2 570px,#f7f5f4 576px,#fcd7c2 586px,#fbd0b9 598px,#fcd5bf 678px,#fff 679px,#fff 831px)"></div>
<div style="top:198px;height:3px;background:linear-gradient(90deg,#fbe5d8 0px,#fbccb4 145px,#fac7ad 248px,#f6b394 298px,#f3a380 303px,#e8896d 305px,#b82531 309px,#a9152a 310px,#900d26 312px,#810823 318px,#8a0b25 328px,#a01228 331px,#b82531 333px,#cc4b43 336px,#e27b62 353px,#ee9677 361px,#ee9677 415px,#cf5246 426px,#b6212f 433px,#ba2833 439px,#c33a3b 446px,#b72330 456px,#c03438 461px,#e0775e 467px,#f3a380 471px,#f7b99c 476px,#f8bda1 528px,#fac7ad 539px,#f8f0eb 548px,#f2f5f6 550px,#a7d0e4 560px,#a1cce2 564px,#bcdbea 569px,#f7f5f4 577px,#fddbc8 584px,#fbceb6 592px,#fcd3bd 678px,#fff 679px,#fff 831px)"></div>
<div style="top:201px;height:3px;background:linear-gradient(90deg,#fbe5d8 0px,#fbccb4 137px,#f9c6ac 251px,#f6b293 297px,#f19f7d 303px,#de725b 306px,#b72330 309px,#950f26 311px,#800823 314px,#7d0722 324px,#8a0b25 329px,#ab162a 332px,#cb4942 336px,#e48065 354px,#ee9677 363px,#ec9374 415px,#cf5347 425px,#b41c2d 432px,#b31c2d 443px,#b51d2d 458px,#bd2e35 462px,#dc6e58 467px,#f4a683 472px,#f7b99c 477px,#f9c0a5 537px,#fbd1ba 542px,#f5f6f7 549px,#bedbeb 554px,#79b5d5 559px,#65a9cf 562px,#6aacd0 565px,#85bcd9 568px,#dae9f2 574px,#f5f6f7 577px,#fddac5 584px,#fbccb4 591px,#fcd3bc 678px,#fff 679px,#fff 831px)"></div>
<div style="top:204px;height:3px;background:linear-gradient(90deg,#fbe5d8 0px,#fbccb4 131px,#f9c6ac 249px,#f6b090 297px,#f3a280 302px,#e58267 305px,#d15749 307px,#b6202f 309px,#930e26 311px,#7d0722 314px,#770522 322px,#8a0b25 329px,#af172a 332px,#cb4942 336px,#e37e64 354px,#ec9374 362px,#ec9374 415px,#ce4f45 425px,#b31a2c 432px,#af172a 443px,#b3192c 458px,#bb2a34 462px,#db6b55 467px,#f09c7b 471px,#f7b698 476px,#f8bda1 503px,#f8bea2 537px,#fcd3bc 543px,#f6f6f7 549px,#c2ddec 553px,#61a6cd 558px,#4594c3 561px,#4594c3 565px,#61a6cd 568px,#d4e6f1 574px,#f5f6f7 577px,#fddcc8 583px,#facbb2 590px,#fbd2bb 678px,#fff 679px,#fff 831px)"></div>
<div style="top:207px;height:3px;background:linear-gradient(90deg,#fbe5d8 0px,#fbccb4 123px,#fbcdb5 181px,#fcd3bc 190px,#facab1 201px,#f9c3a8 254px,#f6af8e 297px,#ee9878 303px,#e48065 305px,#b61f2e 309px,#900d26 311px,#790622 315px,#760521 323px,#8c0c25 329px,#b31a2c 332px,#c84440 335px,#d55d4c 343px,#ee9777 364px,#f09c7b 407px,#ea8f71 416px,#c94741 426px,#b31a2c 432px,#ab162a 441px,#b1182b 457px,#bb2a34 462px,#db6b55 467px,#ef9a79 471px,#f7b596 476px,#f8bea2 490px,#f8bda0 538px,#fbceb6 543px,#f3f5f6 550px,#cce3ef 553px,#64a8ce 558px,#4997c5 560px,#4190c1 564px,#549dc9 567px,#b7d8e8 572px,#dae9f2 574px,#f8f4f2 577px,#fcd7c2 583px,#fac8af 591px,#fbd0b9 657px,#fbd0b9 678px,#fff 679px,#fff 831px)"></div>
<div style="top:210px;height:3px;background:linear-gradient(90deg,#fbe5d8 0px,#facab1 128px,#facbb2 178px,#fce2d2 187px,#fcd3bd 194px,#fac8af 201px,#f9c3a8 252px,#f5ad8c 297px,#f19e7d 302px,#e37e64 305px,#b61f2e 309px,#910d26 311px,#790622 315px,#770522 323px,#8d0c25 329px,#b41c2d 332px,#c84440 335px,#cf5246 339px,#eb9072 359px,#f6af8f 369px,#f5a987 382px,#f6af8e 391px,#f5aa89 400px,#f5ad8c 407px,#ec9273 416px,#c94741 426px,#b41c2d 432px,#ab162a 442px,#b1182b 457px,#bb2a34 462px,#da6853 467px,#f2a07e 472px,#f8bda0 479px,#f9c6ac 493px,#f9c3a8 528px,#f7ba9d 538px,#facab1 544px,#f7f2f0 551px,#dceaf2 554px,#80b9d8 560px,#70b0d3 563px,#80b9d8 566px,#e6eff4 573px,#f9efea 576px,#fbd0b9 583px,#f9c6ac 592px,#fbd0b9 654px,#fbd0b9 678px,#fff 679px,#fff 831px)"></div>
<div style="top:213px;height:3px;background:linear-gradient(90deg,#fbe5d8 0px,#facab1 120px,#facbb3 177px,#f9eee7 187px,#fbe4d6 192px,#facbb3 198px,#f9c2a7 251px,#f5ac8b 297px,#ee9677 303px,#db6b55 306px,#b61f2e 309px,#930e26 311px,#7e0723 314px,#770522 322px,#8e0d25 329px,#b41c2d 332px,#c84440 335px,#cf5246 339px,#e6866a 356px,#f4a784 362px,#fbccb4 368px,#fbceb7 371px,#f8bb9e 378px,#f8bfa4 383px,#fbd0b9 388px,#f9c4a9 393px,#f8bda0 398px,#fbccb4 405px,#f19e7d 415px,#c94741 426px,#b41c2d 432px,#ac162a 446px,#b41c2d 459px,#c13639 463px,#df765e 468px,#f4a583 473px,#fbccb4 482px,#fcd3bd 493px,#fbd0b9 527px,#f7b799 537px,#f9c0a5 544px,#f8efe9 554px,#dae9f1 560px,#d2e5ef 564px,#f4f0ed 571px,#fbceb7 581px,#f9c4a9 591px,#fbceb7 646px,#fbceb7 678px,#fff 679px,#fff 831px)"></div>
<div style="top:216px;height:3px;background:linear-gradient(90deg,#fbe5d8 0px,#facab1 116px,#fac8af 175px,#fcdecc 180px,#f7f5f4 186px,#f8f3f0 190px,#facbb2 199px,#f8bfa4 259px,#f5ac8b 296px,#ee9677 303px,#db6d57 306px,#b72230 309px,#960f27 311px,#800823 314px,#7a0622 322px,#8a0b25 328px,#a9152a 331px,#c94641 335px,#e48066 355px,#f5a886 361px,#fcdecd 367px,#fbe2d4 371px,#fbccb4 378px,#fcd5bf 383px,#fbe3d5 388px,#fcdac6 393px,#fbceb7 397px,#fce1d1 404px,#fcdcc9 407px,#ef9a79 416px,#ce4f45 425px,#b41c2d 432px,#ae172a 444px,#b3192c 458px,#bb2a34 462px,#de735c 468px,#f5aa88 474px,#fcd7c2 482px,#fcdecd 490px,#fdddca 526px,#f7b495 537px,#f7ba9d 545px,#fadccc 563px,#fad0bb 569px,#f8bfa3 575px,#fbd1ba 617px,#fbceb6 678px,#fff 679px,#fff 831px)"></div>
<div style="top:219px;height:3px;background:linear-gradient(90deg,#fbe5d8 0px,#facab1 111px,#fac8af 174px,#fcd7c2 178px,#f7f6f5 184px,#eef3f5 188px,#f7f6f5 191px,#fbccb4 199px,#f9c6ac 206px,#f9c2a7 252px,#f5aa89 297px,#ee9677 303px,#dd6f59 306px,#b92732 309px,#ab162a 310px,#8f0d25 312px,#7e0723 317px,#850a24 326px,#9e1228 330px,#b6212f 332px,#c94741 335px,#e48066 355px,#f3a280 360px,#fce1d2 366px,#faeae1 370px,#fcd7c2 379px,#faeae1 389px,#fddac6 397px,#fae8dd 405px,#fddbc7 409px,#eb9172 417px,#ce4f45 425px,#b41c2d 432px,#ae172a 444px,#b41c2d 458px,#bb2a34 462px,#de725b 468px,#f7b596 476px,#fddcca 482px,#fbe3d4 491px,#fce0d0 526px,#fbceb7 531px,#f6b192 537px,#f6b192 550px,#e98d70 557px,#e68469 569px,#e6866a 574px,#f6b394 580px,#fcdac6 591px,#fcdecd 621px,#fbccb4 630px,#fbccb4 678px,#fff 679px,#fff 831px)"></div>
<div style="top:222px;height:3px;background:linear-gradient(90deg,#fbe5d8 0px,#fac8af 116px,#f9c6ac 173px,#fcd3bc 177px,#f7f5f4 183px,#e5eef4 188px,#f7f5f4 192px,#fbccb4 199px,#f9c6ac 206px,#f9c1a6 251px,#f5ac8b 295px,#ee9777 303px,#df765e 306px,#b31b2c 310px,#8d0c25 313px,#800823 320px,#910d26 328px,#af172a 331px,#ca4842 335px,#e37e64 354px,#ef9979 359px,#f8bb9e 362px,#fcdfcf 365px,#f9ede6 369px,#fbe5d7 374px,#fddac6 379px,#f9ede6 389px,#fdddca 397px,#faebe2 405px,#fcdecb 409px,#f09c7b 416px,#d25849 424px,#b41c2d 432px,#ae172a 449px,#b61f2e 459px,#bb2a34 462px,#dd7059 468px,#f6b394 476px,#fdddcb 482px,#fbe4d7 490px,#fce2d2 526px,#fcd4be 530px,#f6b090 536px,#f5a987 543px,#f4a785 549px,#eb9172 552px,#d2584a 557px,#ce4f45 564px,#ce5045 572px,#da6853 575px,#f5a987 580px,#fbd1ba 586px,#fbe6da 590px,#faebe3 603px,#fae9df 621px,#fbccb4 629px,#fbccb4 678px,#fff 679px,#fff 831px)"></div>
<div style="top:225px;height:3px;background:linear-gradient(90deg,#fbe5d8 0px,#f9c6ac 121px,#f9c6ac 174px,#fdd9c4 178px,#f7f6f5 183px,#e2edf3 187px,#f1f4f6 191px,#f8f1ec 193px,#fbccb4 199px,#f9c4aa 207px,#f8bfa4 254px,#f5aa89 296px,#ef9979 303px,#e37e64 306px,#ae172a 311px,#940e26 313px,#860a24 320px,#950f26 328px,#b2192b 331px,#cb4942 335px,#e17860 353px,#ef9979 359px,#f6af8e 361px,#fddac5 364px,#f9ede5 368px,#f9ebe3 372px,#fddbc8 379px,#f9eee8 388px,#fbe6da 393px,#fcdecc 397px,#f9ebe3 405px,#fcdecd 409px,#f09c7b 416px,#d25849 424px,#b51d2d 432px,#ae172a 452px,#b72230 460px,#c13639 463px,#e8896d 471px,#f6b090 476px,#fdddca 482px,#fbe5d8 490px,#fce2d2 526px,#facbb3 531px,#f5a987 537px,#f19e7d 549px,#e6866a 552px,#cd4e45 556px,#c43b3c 559px,#c2383a 571px,#cd4d44 574px,#f2a17f 580px,#fac9b0 585px,#fbe3d5 588px,#f8f0eb 592px,#f9f0eb 620px,#fcd4be 627px,#fac9b0 632px,#facbb3 678px,#fff 679px,#fff 831px)"></div>
<div style="top:228px;height:3px;background:linear-gradient(90deg,#fbe5d8 0px,#fbceb6 83px,#f9c2a7 157px,#fac7ad 175px,#fce2d2 180px,#f5f6f6 184px,#e7f0f4 188px,#f8f3f0 192px,#facbb2 199px,#f9c4a9 207px,#f8bfa3 253px,#f5a886 298px,#ee9677 304px,#df745c 307px,#b41c2d 311px,#950f26 314px,#8e0d25 322px,#9a1027 328px,#b41c2d 331px,#cc4c44 335px,#e17860 353px,#ee9878 359px,#f6af8e 361px,#fddbc7 364px,#f9ede5 368px,#f9ebe3 372px,#fddcc9 378px,#fbe3d4 383px,#f9efe9 388px,#fbe6da 393px,#fcdecd 397px,#f9ebe3 404px,#fbe4d6 408px,#fbceb7 411px,#eb9172 417px,#ce4f45 425px,#b61f2e 432px,#b0172b 441px,#b41c2d 458px,#bb2a34 462px,#e48066 470px,#f5ae8d 476px,#fddcc9 482px,#fbe4d6 488px,#fbe2d4 525px,#fdd8c3 529px,#f5a987 536px,#f19e7d 544px,#ee9878 549px,#e37e64 552px,#ca4841 556px,#bf3237 560px,#c03438 571px,#ca4841 574px,#ef9979 580px,#f7ba9d 584px,#fbe4d6 588px,#f8f2ef 592px,#f8f1ed 620px,#fcdecd 625px,#facab1 629px,#facab1 678px,#fff 679px,#fff 831px)"></div>
<div style="top:231px;height:3px;background:linear-gradient(90deg,#fbe5d8 0px,#fbceb7 81px,#f9c1a6 153px,#f9c4aa 175px,#fcd6c1 179px,#f7f5f4 185px,#f7f5f4 190px,#fac7ae 199px,#f8bfa3 251px,#f5a886 297px,#eb9172 305px,#d96652 308px,#b72230 311px,#a11328 313px,#930e26 318px,#9e1228 328px,#b6202f 331px,#c94641 334px,#d05548 338px,#e27b62 354px,#ee9677 359px,#f8bc9f 362px,#fce0d0 365px,#f9ede5 368px,#fae9df 373px,#fddbc7 379px,#f9eee8 388px,#fbe6da 393px,#fcdecc 397px,#f9ebe3 405px,#fcdecd 409px,#f09c7b 416px,#d25849 424px,#b82431 431px,#b1182b 437px,#b41c2d 458px,#bb2a34 462px,#e37e64 470px,#f5ac8b 476px,#fddcc8 482px,#fbe4d6 489px,#fce2d2 525px,#fcd7c2 529px,#f5aa88 535px,#ef9979 541px,#ec9273 549px,#e17960 552px,#c84540 556px,#be3036 560px,#bf3338 571px,#c84540 574px,#e27c62 578px,#f7b596 584px,#fbe3d4 588px,#f8f2ef 592px,#f8f1ed 620px,#fcd7c2 626px,#fac7ad 630px,#facab1 678px,#fff 679px,#fff 831px)"></div>
<div style="top:234px;height:3px;background:linear-gradient(90deg,#fbe5d8 0px,#fbcfb8 76px,#f8bfa4 152px,#f9c6ac 178px,#f9ede6 186px,#faebe3 190px,#fac7ad 198px,#f8bb9e 260px,#f5a886 297px,#ec9374 305px,#da6a55 308px,#ba2832 311px,#b1182b 312px,#9d1128 315px,#9d1128 326px,#b1182b 330px,#ce4f45 335px,#de735c 351px,#ea8e70 358px,#f5ad8c 361px,#fcdfcf 365px,#f9ede6 369px,#fbe5d7 374px,#fddac6 379px,#f9ede6 388px,#fbe5d9 393px,#fdddcb 397px,#faebe3 405px,#fcdecc 409px,#f09c7b 416px,#d25849 424px,#b82531 431px,#b1182b 437px,#b41c2d 458px,#bb2a34 462px,#e27c62 470px,#f5a987 476px,#fddac6 482px,#fbe3d5 489px,#fce1d1 525px,#fcd4be 529px,#f4a583 535px,#ec9374 541px,#e98b6e 549px,#d96753 553px,#c3393b 557px,#bd2d35 562px,#c03438 572px,#d45b4b 576px,#ec9374 581px,#f6af8f 584px,#fce2d2 588px,#f8f2ef 592px,#f8f1ed 620px,#fdddca 625px,#f9c6ac 629px,#fac9b0 678px,#fff 679px,#fff 831px)"></div>
<div style="top:237px;height:3px;background:linear-gradient(90deg,#fbe5d8 0px,#fbd0b9 74px,#f8bda1 140px,#f8bc9f 175px,#f5af8f 179px,#f7b89a 182px,#fbd2bd 187px,#facbb2 194px,#f9c2a7 203px,#f8bda0 253px,#f4a784 297px,#ef9979 304px,#e37f65 307px,#bc2c35 311px,#b41b2d 312px,#a01228 316px,#a71429 328px,#b31a2c 330px,#cb4942 334px,#d25849 340px,#e7876b 357px,#f5aa88 361px,#fdddca 365px,#fae9df 368px,#fae8de 372px,#fdd8c3 379px,#f9ebe3 389px,#fddbc7 397px,#fae9df 405px,#fddcc9 409px,#ef9a79 416px,#ce4f45 425px,#b61f2e 432px,#b1182b 447px,#b61f2e 459px,#bf3338 463px,#e17960 470px,#f4a583 476px,#fcd4be 482px,#fcdfce 487px,#fdddcb 525px,#fbceb6 529px,#f19e7d 535px,#e98b6e 541px,#e68569 549px,#d7634f 553px,#c2383a 557px,#bd2d35 562px,#bf3338 572px,#d15749 576px,#e98b6e 581px,#f5aa89 584px,#fce0d0 588px,#f9f0eb 591px,#f8f3f0 617px,#f9eee8 621px,#fac7ad 628px,#f9c1a6 637px,#fac8af 678px,#fff 679px,#fff 831px)"></div>
<div style="top:240px;height:3px;background:linear-gradient(90deg,#fbe5d8 0px,#fcd3bc 69px,#f9c2a7 117px,#f8bda1 159px,#f8bda0 173px,#f5aa88 176px,#df745c 180px,#dd705a 183px,#ec9577 189px,#f7ba9d 193px,#f9c2a7 199px,#f8bda1 251px,#f4a683 298px,#ee9677 305px,#dd7059 308px,#b6202f 312px,#a61429 315px,#a81529 327px,#b51e2e 330px,#cc4b43 334px,#d05548 338px,#e58167 356px,#ef9a79 360px,#fcdcca 366px,#fae7db 370px,#fbd0b9 379px,#fce0d0 385px,#fae7db 389px,#fcd4be 397px,#fbe4d6 405px,#fcd5bf 409px,#ea8e70 417px,#c53e3d 427px,#b51d2d 433px,#b41c2d 457px,#bb2a34 462px,#e0775f 470px,#f5ac8b 478px,#fbceb6 484px,#fcd3bc 508px,#fbceb7 525px,#f7b99c 530px,#ed9576 535px,#e58368 541px,#e27c62 549px,#d55d4c 553px,#c13639 557px,#bb2a34 565px,#c13639 573px,#e58368 581px,#f3a481 584px,#fcdfce 588px,#f9efe9 591px,#f8f3f0 602px,#f9f0eb 620px,#fddac6 625px,#f9c4aa 628px,#f8bea2 635px,#fac8af 678px,#fff 679px,#fff 831px)"></div>
<div style="top:243px;height:3px;background:linear-gradient(90deg,#fbe5d8 0px,#fcd3bc 68px,#f8bda1 128px,#f8bb9e 173px,#f2a07e 176px,#d6614e 179px,#c94641 181px,#c6403e 185px,#d15749 188px,#f3a481 192px,#f8bda1 195px,#f8bda1 249px,#f3a481 299px,#ee9677 305px,#e58368 307px,#c03438 311px,#b3192c 313px,#a81529 318px,#b0172b 328px,#be3036 331px,#ce4f45 334px,#dc6e57 349px,#e98c6f 359px,#f5ad8c 363px,#fcd5bf 368px,#fcd7c3 371px,#f8bfa4 379px,#facbb2 384px,#fcd9c6 388px,#fbccb4 393px,#f9c2a7 398px,#fcd5c0 405px,#f8bda1 410px,#e58368 418px,#be3137 429px,#b41c2d 435px,#b61f2e 458px,#bb2a34 462px,#df755d 470px,#f6b192 483px,#f7b799 499px,#f6b191 525px,#ed9576 532px,#e17960 538px,#d96753 550px,#be2f36 558px,#bd2d35 571px,#c7423f 575px,#e88a6e 583px,#f5a987 585px,#fcdac6 588px,#faeae1 591px,#f9efea 605px,#f9ede6 620px,#fcd6c1 625px,#f9c0a5 628px,#f8bb9e 636px,#f9c6ac 678px,#fff 679px,#fff 831px)"></div>
<div style="top:246px;height:3px;background:linear-gradient(90deg,#fbe5d8 0px,#fbd2bb 68px,#f8bfa4 117px,#f8bb9e 153px,#f8bc9f 172px,#f5ac8b 175px,#d45c4b 179px,#c53e3d 181px,#c13639 185px,#cb4a43 188px,#de725b 190px,#f19f7d 192px,#f7b698 194px,#f8bfa4 198px,#f8bb9e 250px,#f3a380 299px,#ee9677 305px,#df745c 308px,#ba2833 312px,#b1182b 314px,#ae172a 326px,#b6212f 329px,#cd4d44 333px,#d15749 337px,#d86551 346px,#ee9777 364px,#f7b596 370px,#f09e7e 382px,#f7b799 389px,#f1a080 399px,#f6b293 406px,#e98b6e 416px,#c94741 426px,#b61f2e 433px,#b6212f 458px,#bf3338 463px,#de735c 470px,#ee9777 484px,#e7886b 524px,#d35a4b 540px,#c84540 552px,#bb2a34 559px,#bd2d35 572px,#cc4b43 577px,#e0775f 583px,#f2a180 586px,#fbcfb8 590px,#fbd9c7 594px,#fce0d0 620px,#fbd0b9 624px,#f7ba9d 628px,#f8bb9e 643px,#f9c6ac 678px,#fff 679px,#fff 831px)"></div>
<div style="top:249px;height:3px;background:linear-gradient(90deg,#fbe6da 0px,#fcd3bc 67px,#f9c2a7 109px,#f7b99c 156px,#f7b698 173px,#f5a987 175px,#d35a4a 179px,#c53e3d 181px,#c13639 185px,#cb4942 188px,#dd6f59 190px,#f5aa89 193px,#f7b99c 196px,#f7b799 251px,#f2a17f 299px,#eb9172 306px,#da6853 309px,#be3036 312px,#b41b2d 314px,#b3192c 327px,#be3036 330px,#d05548 334px,#d6604d 344px,#e48065 358px,#e37f65 366px,#ec9273 371px,#e7876b 378px,#e37f65 382px,#ec9374 389px,#e7876b 396px,#e37f65 400px,#ec9273 407px,#e37d63 418px,#ce4f45 425px,#b82531 432px,#b41c2d 444px,#b82531 460px,#bf3338 463px,#da6a55 469px,#e37f65 479px,#db6b56 507px,#ca4841 532px,#bd2d35 554px,#bb2a34 572px,#d15648 583px,#ea8e71 590px,#f7b89b 619px,#f6b293 629px,#f9c4a9 678px,#fff 679px,#fff 831px)"></div>
<div style="top:252px;height:3px;background:linear-gradient(90deg,#fbe6da 0px,#fcd3bc 67px,#f8bfa4 114px,#f7b698 166px,#f6b394 173px,#ee9777 176px,#d25849 179px,#c53e3d 181px,#c13639 185px,#ca4842 188px,#e58267 191px,#f4a583 193px,#f7b596 196px,#f5ac8b 270px,#f19f7d 298px,#eb9172 306px,#dd6f59 309px,#bb2933 313px,#b3192c 316px,#b41c2d 327px,#be3137 330px,#d05548 334px,#d6604d 344px,#e37e64 358px,#de735c 366px,#e37f65 374px,#de735c 383px,#e37f65 391px,#de735c 401px,#e48066 410px,#e37f65 417px,#d6604d 423px,#bd2d35 430px,#b61f2e 436px,#b82531 460px,#bf3338 463px,#d96753 469px,#de735c 479px,#cc4c44 500px,#b72230 546px,#bd2e35 580px,#d55e4e 604px,#e17960 618px,#f6af8e 631px,#f9c2a7 678px,#fff 679px,#fff 831px)"></div>
<div style="top:255px;height:3px;background:linear-gradient(90deg,#fbe6da 0px,#fcd3bc 67px,#f8bfa4 114px,#f7b99c 146px,#f9c3a8 152px,#f7b495 161px,#f6af8f 173px,#f3a280 175px,#c94741 180px,#bf3338 183px,#c13639 186px,#c94741 188px,#e37f65 191px,#f5a886 194px,#f6b090 200px,#f2a17f 294px,#eb9172 306px,#e48066 308px,#c33a3b 312px,#b51e2e 315px,#b51e2e 327px,#c53e3d 331px,#d05548 334px,#d6604d 344px,#e37d63 357px,#dd6f59 366px,#e0775e 376px,#dc6e58 383px,#e0775f 393px,#dc6e58 401px,#e48066 416px,#dc6e57 421px,#bf3338 429px,#b61f2e 436px,#b92631 460px,#bf3338 463px,#d86450 469px,#da6853 478px,#ce4f45 486px,#c03438 495px,#b41c2d 544px,#ba2832 570px,#b6212f 586px,#c63f3d 616px,#d35b4c 622px,#f2a280 629px,#f6b090 637px,#f9c1a6 678px,#fff 679px,#fff 831px)"></div>
<div style="top:258px;height:3px;background:linear-gradient(90deg,#fae7dc 0px,#fbd0b9 72px,#f8bb9e 125px,#f7b89a 144px,#facab1 147px,#fcdecd 150px,#fcdecd 153px,#f7b596 159px,#f5ab8a 173px,#f19d7c 175px,#d05548 179px,#c13639 182px,#c13639 186px,#d05548 189px,#ef9979 193px,#f5a987 196px,#f19e7d 295px,#ea8e70 306px,#dd7059 309px,#bd2e35 313px,#b51e2e 316px,#b6202f 327px,#c53e3d 331px,#d05548 334px,#d55d4c 343px,#e27b62 357px,#dc6e57 366px,#df745c 376px,#dc6e58 384px,#df745c 394px,#dc6e58 402px,#e37e64 417px,#d6604d 423px,#c03539 429px,#b72230 435px,#ba2832 461px,#d65f4d 469px,#d55d4c 477px,#ba2833 491px,#b41b2d 550px,#b92631 566px,#b41c2d 578px,#b6212f 613px,#be3036 620px,#d45b4b 624px,#ef9b7a 629px,#f5aa89 634px,#f8bfa3 678px,#fff 679px,#fff 831px)"></div>
<div style="top:261px;height:3px;background:linear-gradient(90deg,#fae7dc 0px,#fbd0b9 72px,#f7b799 136px,#f7b99c 144px,#facbb2 146px,#fbe5d9 149px,#faeae1 152px,#fce0cf 155px,#f7b495 159px,#f5ac8b 168px,#f2a17f 174px,#e17860 177px,#c94641 180px,#bf3338 183px,#c43b3c 187px,#d86450 190px,#ec9374 193px,#f3a481 196px,#f09c7b 295px,#e98c6f 306px,#dd7059 309px,#be3036 313px,#b6202f 316px,#b72230 327px,#c53e3d 331px,#d05447 334px,#d55d4c 343px,#e27b62 356px,#da6a55 366px,#dc6e57 377px,#db6b55 385px,#db6b55 397px,#dd7059 408px,#e37d63 417px,#d6604d 423px,#c13639 429px,#b72330 435px,#ba2832 461px,#d35a4a 469px,#ce4f45 476px,#b82531 488px,#b41c2d 552px,#b82531 566px,#b41c2d 577px,#b41b2d 616px,#bd2e35 621px,#dd7059 626px,#f09c7b 630px,#f5ad8c 641px,#f8bda1 678px,#fff 679px,#fff 831px)"></div>
<div style="top:264px;height:3px;background:linear-gradient(90deg,#fae7dc 0px,#fbd0b9 72px,#f6b394 144px,#f8bfa4 146px,#fcdecd 149px,#fbe4d7 152px,#fcd5c0 155px,#f6b192 158px,#f4a684 161px,#f09c7b 173px,#e58267 176px,#ce5045 179px,#c13639 182px,#c13639 186px,#cd4e45 189px,#e8896c 193px,#ef9a79 197px,#ef9a79 268px,#ef9a79 294px,#e88a6e 306px,#dd6f59 309px,#be3137 313px,#b72230 317px,#ba2832 328px,#ce4f45 333px,#d86551 346px,#e17860 356px,#d6614e 365px,#d76450 409px,#e27b62 416px,#d86551 422px,#be3036 430px,#b82431 437px,#bb2a34 462px,#ce5146 468px,#c94641 474px,#b72330 485px,#b41c2d 553px,#b82531 570px,#b0172b 586px,#b61f2e 619px,#c03438 622px,#db6c56 626px,#ee9878 630px,#f5a987 639px,#f8bb9e 678px,#fff 679px,#fff 831px)"></div>
<div style="top:267px;height:3px;background:linear-gradient(90deg,#fae8dd 0px,#fbd0b9 72px,#f6b293 137px,#f09d7c 145px,#f6b79a 151px,#f4ad8f 154px,#ec9273 158px,#e37f65 174px,#d15648 178px,#c33a3b 181px,#c13639 186px,#ca4842 189px,#e37d63 194px,#eb9172 202px,#eb9072 251px,#ee9878 293px,#e8896c 306px,#dc6e57 309px,#bf3338 313px,#b82431 317px,#b92631 327px,#cf5246 334px,#d86551 346px,#df765e 355px,#ce5146 364px,#c84540 375px,#cb4942 384px,#c94741 395px,#ca4842 403px,#cb4942 409px,#df755d 416px,#da6a55 421px,#bd2d35 431px,#b82531 443px,#bb2a34 462px,#cb4942 468px,#b72330 481px,#b3192c 552px,#b72330 565px,#b3192c 578px,#b1182b 614px,#b72230 620px,#cc4b43 624px,#ea8d70 629px,#f19f7d 633px,#f7b99c 675px,#f7ba9d 678px,#fff 679px,#fff 831px)"></div>
<div style="top:270px;height:3px;background:linear-gradient(90deg,#fae8de 0px,#fbceb7 76px,#f6b192 136px,#f19e7d 140px,#df755d 145px,#db6d57 151px,#d25749 175px,#c3393b 182px,#c6413e 189px,#e0775e 200px,#e8896d 210px,#e7876b 248px,#ee9677 293px,#e7876b 306px,#dc6e57 309px,#c03438 313px,#b82531 317px,#bb2a34 328px,#d05447 334px,#da6853 347px,#de725b 355px,#d15648 359px,#c43b3c 363px,#bd2d35 373px,#be3036 385px,#bf3338 408px,#ca4841 412px,#da6853 416px,#da6a55 420px,#bd2e35 431px,#b92732 445px,#bb2a34 462px,#c7433f 468px,#b72330 478px,#b41b2d 553px,#b72230 571px,#ae172a 587px,#b51d2d 619px,#c43b3c 623px,#e88a6e 629px,#f19f7d 635px,#f7b99c 678px,#fff 679px,#fff 831px)"></div>
<div style="top:273px;height:3px;background:linear-gradient(90deg,#fae8de 0px,#fbceb7 76px,#f6b293 135px,#f09c7b 139px,#cf5347 145px,#c6403e 150px,#c2383a 191px,#e17a61 210px,#e37e64 233px,#e58167 252px,#ec9374 293px,#e6866a 306px,#dc6e57 309px,#c13739 313px,#ba2832 317px,#bd2d35 328px,#d15648 334px,#dd6f59 352px,#d7634f 356px,#be3036 362px,#b72330 369px,#ba2832 408px,#c7433f 413px,#d55d4c 417px,#d35a4a 421px,#bf3338 430px,#bb2933 442px,#bb2a34 462px,#c43b3c 468px,#b72230 477px,#b41b2d 554px,#b41b2d 575px,#ae172a 603px,#b41c2d 619px,#c43b3c 623px,#e8896c 629px,#f19d7c 635px,#f7b799 675px,#f7b799 678px,#fff 679px,#fff 831px)"></div>
<div style="top:276px;height:3px;background:linear-gradient(90deg,#fae9df 0px,#fbceb7 76px,#f6b191 135px,#f3a280 138px,#cd4e45 144px,#c13639 147px,#bd2d35 156px,#bf3237 196px,#dd7059 216px,#e27b62 252px,#ec9374 293px,#e6866a 306px,#dd6f59 309px,#bf3237 314px,#ba2833 321px,#be2f36 328px,#d55e4c 335px,#db6c56 350px,#cf5246 356px,#bb2933 362px,#b6202f 373px,#b92631 409px,#cb4a43 418px,#c43b3c 425px,#bd2d35 434px,#bb2933 463px,#bf3338 469px,#b61f2e 478px,#af172a 578px,#b41c2d 619px,#c33a3b 623px,#e7886b 629px,#ef9b7a 634px,#f7b596 672px,#f7b697 678px,#fff 679px,#fff 831px)"></div>
<div style="top:279px;height:3px;background:linear-gradient(90deg,#fae9df 0px,#fbccb4 80px,#f6b191 135px,#ee9677 139px,#cb4a43 144px,#bd2d35 148px,#bd2e35 200px,#d25849 215px,#dd7059 227px,#e0775f 251px,#ec9273 292px,#e6866a 306px,#da6853 310px,#c13639 314px,#bb2a34 319px,#be3036 328px,#d86450 335px,#dc6e57 347px,#d05548 353px,#bb2a34 360px,#b61f2e 373px,#b82431 410px,#c13639 420px,#ba2833 434px,#ba2832 466px,#b61f2e 492px,#b1182b 616px,#ba2832 621px,#d05548 625px,#e6866a 629px,#ef9979 633px,#f6b191 664px,#f7b596 678px,#fff 679px,#fff 831px)"></div>
<div style="top:282px;height:3px;background:linear-gradient(90deg,#fae9df 0px,#fbccb4 80px,#f6b191 135px,#ee9677 139px,#cb4942 144px,#be3036 147px,#bb2a34 164px,#be3036 208px,#da6a55 231px,#eb9172 296px,#e6866a 306px,#da6853 310px,#c13739 314px,#bb2a34 319px,#bd2d35 327px,#cb4a43 331px,#d96753 335px,#dc6e58 346px,#d25849 351px,#bd2d35 357px,#b61f2e 367px,#b82531 414px,#b1182b 613px,#b41c2d 619px,#c43b3c 623px,#e8896c 629px,#f19d7c 636px,#f6b394 673px,#f7b596 678px,#fff 679px,#fff 831px)"></div>
<div style="top:285px;height:3px;background:linear-gradient(90deg,#fae9df 0px,#fbccb4 80px,#f6b191 135px,#ee9677 139px,#cb4942 144px,#be3036 147px,#bb2a34 164px,#be3036 215px,#d86551 238px,#eb9172 295px,#e7886b 305px,#de735c 309px,#c2383a 314px,#bb2a34 318px,#be3036 327px,#d86551 334px,#dd6f59 345px,#d45b4b 350px,#bd2e35 356px,#b72230 362px,#b1182b 544px,#b3192c 617px,#ba2832 621px,#d15749 625px,#e8896c 629px,#f09c7b 634px,#f6b394 672px,#f7b596 678px,#fff 679px,#fff 831px)"></div>
<div style="top:288px;height:3px;background:linear-gradient(90deg,#fae9df 0px,#fbccb4 80px,#f6b191 135px,#ee9677 139px,#cb4942 144px,#be3036 147px,#bb2a34 164px,#bd2d35 220px,#dd7059 251px,#eb9172 298px,#e48066 307px,#da6853 310px,#c2383a 314px,#bc2b34 318px,#be3036 327px,#d86550 334px,#dc6e57 345px,#d25849 350px,#bc2b34 356px,#b61f2e 367px,#b2192b 546px,#b3192c 617px,#ba2832 621px,#d25849 625px,#e98b6e 629px,#f19e7d 635px,#f6b394 675px,#f6b394 678px,#fff 679px,#fff 831px)"></div>
<div style="top:291px;height:3px;background:linear-gradient(90deg,#fae9df 0px,#fbccb4 80px,#f6b191 135px,#ee9677 139px,#cb4942 144px,#be3036 147px,#bb2a34 164px,#bd2d35 227px,#ce4f45 242px,#dd715a 256px,#eb9172 299px,#e37f65 307px,#d35a4a 311px,#c2383a 314px,#bd2d35 317px,#be3036 327px,#d7634f 334px,#db6b55 345px,#d45c4b 349px,#bb2a34 356px,#b61f2e 365px,#b2192b 551px,#b41c2d 618px,#bf3338 622px,#df765e 627px,#ed9475 630px,#f4a683 642px,#f6b394 678px,#fff 679px,#fff 831px)"></div>
<div style="top:294px;height:3px;background:linear-gradient(90deg,#fae9df 0px,#fbccb4 80px,#f6b191 135px,#ee9677 139px,#cb4942 144px,#be3036 147px,#bb2a34 164px,#be2f36 235px,#cd4e45 248px,#df755d 262px,#eb9172 298px,#e37e64 307px,#d35a4a 311px,#c2383a 314px,#bd2d35 319px,#be3036 327px,#d7624e 334px,#da6a55 345px,#cf5347 350px,#bb2a34 356px,#b61f2e 365px,#b2192b 559px,#b41c2d 618px,#bf3338 622px,#e17860 627px,#ee9777 630px,#f4a785 642px,#f6b394 678px,#fff 679px,#fff 831px)"></div>
<div style="top:297px;height:3px;background:linear-gradient(90deg,#fae9df 0px,#fbccb4 80px,#f6b191 135px,#ee9677 139px,#cb4942 144px,#be3036 147px,#bb2a34 164px,#be2f36 242px,#cc4b43 253px,#de735c 265px,#ea8f71 298px,#e37e64 307px,#d86551 310px,#c2383a 314px,#bd2d35 319px,#bf3338 327px,#cc4c44 331px,#d7634f 335px,#da6853 345px,#cb4942 351px,#bb2a34 356px,#b61f2e 365px,#b41c2d 617px,#bc2b34 621px,#db6d57 626px,#ef9a79 630px,#f4a785 640px,#f6b394 678px,#fff 679px,#fff 831px)"></div>
<div style="top:300px;height:3px;background:linear-gradient(90deg,#fae9df 0px,#fbccb4 80px,#f6b191 135px,#ee9677 139px,#cb4942 144px,#be3036 147px,#bb2a34 164px,#bd2e35 248px,#cd4e45 259px,#df765e 271px,#ea8e70 298px,#e48066 306px,#d86551 310px,#c3393b 314px,#bd2d35 319px,#bf3338 327px,#cc4c44 331px,#d6604d 335px,#d96652 345px,#c94741 351px,#ba2832 357px,#b61f2e 374px,#b41c2d 617px,#bd2d35 621px,#d6604d 625px,#ed9576 629px,#f4a683 634px,#f6b394 678px,#fff 679px,#fff 831px)"></div>
<div style="top:303px;height:3px;background:linear-gradient(90deg,#fae9df 0px,#fbccb4 80px,#f6b191 135px,#ee9677 139px,#cb4942 144px,#be3036 147px,#bb2a34 164px,#bd2d35 253px,#ca4842 263px,#df755d 275px,#ea8e70 298px,#e27b62 307px,#d55d4c 311px,#c13639 315px,#bd2d35 324px,#c43b3c 329px,#d55d4c 334px,#d86550 345px,#c84540 351px,#b82531 357px,#b61f2e 418px,#b61f2e 618px,#c2383a 622px,#dd7059 626px,#f19f7d 630px,#f5aa89 642px,#f6b192 678px,#fff 679px,#fff 831px)"></div>
<div style="top:306px;height:3px;background:linear-gradient(90deg,#fae9df 0px,#fbccb4 80px,#f6b191 135px,#ee9677 139px,#cb4942 144px,#be3036 147px,#bb2a34 164px,#bd2e35 259px,#cc4c44 269px,#e17860 281px,#ea8e70 297px,#e27b62 307px,#d05548 312px,#bf3338 316px,#bf3338 327px,#d55d4c 335px,#d7624e 345px,#b82531 357px,#b61f2e 409px,#b6202f 618px,#c2383a 622px,#de735c 626px,#f2a17f 630px,#f5ac8b 645px,#f6b191 678px,#fff 679px,#fff 831px)"></div>
<div style="top:309px;height:3px;background:linear-gradient(90deg,#fae9df 0px,#fbccb4 80px,#f6b191 135px,#ee9677 139px,#cb4942 144px,#be3036 147px,#bb2a34 164px,#bd2e35 264px,#ce4f45 275px,#e68469 288px,#ea8e70 299px,#dd7059 309px,#bf3338 316px,#bf3338 327px,#d55d4c 335px,#d65f4d 345px,#ba2832 356px,#b61f2e 375px,#b61f2e 617px,#be3036 621px,#d86550 625px,#f09c7b 629px,#f5aa88 633px,#f6b191 678px,#fff 679px,#fff 831px)"></div>
<div style="top:312px;height:3px;background:linear-gradient(90deg,#fae9df 0px,#fbccb4 80px,#f6b191 135px,#ee9677 139px,#cb4942 144px,#be3036 147px,#bb2a34 173px,#bd2e35 269px,#ca4841 278px,#e7876b 290px,#e98b6e 300px,#dd7059 309px,#c03539 316px,#bf3338 327px,#d55d4c 335px,#d45c4b 345px,#b92631 356px,#b72230 618px,#c43b3c 622px,#df765e 626px,#f3a481 630px,#f5ac8b 641px,#f6b191 678px,#fff 679px,#fff 831px)"></div>
<div style="top:315px;height:3px;background:linear-gradient(90deg,#faeae0 0px,#fbccb4 80px,#f6b191 135px,#f2a07e 138px,#d25849 143px,#c13739 146px,#bb2a34 153px,#bd2e35 274px,#c84440 281px,#e7876b 291px,#ea8e70 299px,#dd7059 309px,#c2383a 315px,#be3036 322px,#c2383a 328px,#d35a4a 334px,#d35a4a 344px,#b82531 356px,#b72330 618px,#c43b3c 622px,#df765e 626px,#f19e7d 629px,#f5ac8b 634px,#f6b090 678px,#fff 679px,#fff 831px)"></div>
<div style="top:318px;height:3px;background:linear-gradient(90deg,#faeae1 0px,#facab1 84px,#f6b394 134px,#f19e7d 138px,#cb4942 144px,#be3036 148px,#be3137 279px,#ca4841 284px,#e48066 291px,#ea8e70 297px,#e27b62 307px,#d6604d 311px,#c43b3c 315px,#be3036 321px,#c2383a 328px,#d35a4a 334px,#d05548 344px,#ba2833 354px,#b82531 618px,#c43b3c 622px,#df755d 626px,#f3a481 630px,#f5ac8b 637px,#f6af8e 678px,#fff 679px,#fff 831px)"></div>
<div style="top:321px;height:3px;background:linear-gradient(90deg,#faeae1 0px,#facab1 84px,#f6b191 134px,#f09c7b 138px,#d05548 143px,#c03539 147px,#be2f36 181px,#bf3338 281px,#cc4c44 286px,#e68569 293px,#ea8e70 299px,#e17860 308px,#cc4c44 313px,#bf3338 317px,#c13739 327px,#d35a4a 334px,#d05447 343px,#bb2a34 353px,#bb2a34 619px,#c43b3c 622px,#de735c 626px,#f3a481 630px,#f5ac8b 637px,#f6af8e 678px,#fff 679px,#fff 831px)"></div>
<div style="top:324px;height:3px;background:linear-gradient(90deg,#faebe2 0px,#facab1 84px,#f6b191 134px,#ef9979 138px,#d05447 143px,#c13739 147px,#c13739 282px,#cd4d44 287px,#e68469 294px,#e98b6e 300px,#e17860 308px,#c13639 316px,#c13639 326px,#d35a4a 333px,#cf5347 342px,#bc2c35 353px,#bc2c35 619px,#c94741 623px,#e48065 627px,#f2a17f 630px,#f5ac8b 637px,#f6af8e 678px,#fff 679px,#fff 831px)"></div>
<div style="top:327px;height:3px;background:linear-gradient(90deg,#f9ebe3 0px,#fac8af 88px,#f6b191 134px,#ee9777 138px,#cf5246 143px,#c2383a 147px,#c33a3b 283px,#ce5146 288px,#e58368 295px,#e98b6e 301px,#de735c 309px,#c2383a 316px,#bf3338 325px,#d35a4a 333px,#cf5246 342px,#bd2d35 352px,#be3036 620px,#c94741 623px,#dc6e58 626px,#f2a17f 630px,#f5ac8b 637px,#f5ad8c 678px,#fff 679px,#fff 831px)"></div>
<div style="top:330px;height:3px;background:linear-gradient(90deg,#f9ebe3 0px,#fac8af 88px,#f6b191 134px,#ee9677 138px,#cf5246 143px,#c2383a 147px,#c3393b 282px,#ce4f45 288px,#e58267 296px,#e8896c 302px,#dd6f59 310px,#c33a3b 316px,#bf3338 321px,#c2383a 327px,#d35a4a 333px,#d05548 341px,#be3036 350px,#bf3237 620px,#c94741 623px,#e27c62 627px,#f19e7d 630px,#f5aa89 634px,#f5ac8b 678px,#fff 679px,#fff 831px)"></div>
<div style="top:333px;height:5px;background:linear-gradient(90deg,#f9ece4 0px,#f6b394 133px,#f2a17f 137px,#cf5246 143px,#c2383a 147px,#c2383a 281px,#ce4f45 288px,#e48166 298px,#e48066 306px,#da6a55 311px,#c13639 317px,#c13639 326px,#d35a4a 333px,#d05548 341px,#be3036 350px,#be3036 619px,#c43b3c 622px,#dc6e57 626px,#f19e7d 630px,#f5ab89 637px,#f5ac8b 678px,#fff 679px,#fff 831px)"></div>
</div>
<div class="hm" style="left:1186px;top:465px;width:831px;height:338px">
<div style="top:0px;height:12px;background:linear-gradient(90deg,#fbe6da 0px,#fbe4d6 305px,#fbd0b9 317px,#fcd7c2 323px,#fbe5d8 332px,#fae9df 436px,#fae9df 678px,#fff 679px,#fff 831px)"></div>
<div style="top:12px;height:12px;background:linear-gradient(90deg,#fbe6da 0px,#fbe4d6 305px,#fbd1ba 317px,#fddcc9 325px,#fbe6da 335px,#fae9df 423px,#fae9df 678px,#fff 679px,#fff 831px)"></div>
<div style="top:24px;height:3px;background:linear-gradient(90deg,#fbe6da 0px,#fbe4d6 305px,#fcd5bf 317px,#fcdfcf 327px,#fbe6da 339px,#f9ede5 401px,#fae9df 540px,#fae9df 678px,#fff 679px,#fff 831px)"></div>
<div style="top:27px;height:3px;background:linear-gradient(90deg,#fbe6da 0px,#fbe4d6 305px,#fdd9c4 318px,#fbe6da 338px,#f9ede6 399px,#fae9df 467px,#fae9df 678px,#fff 679px,#fff 831px)"></div>
<div style="top:30px;height:3px;background:linear-gradient(90deg,#fbe6da 0px,#fbe4d6 305px,#fcdecc 315px,#fce2d2 328px,#fae7dc 350px,#f9eee7 389px,#fae9df 478px,#fae9df 678px,#fff 679px,#fff 831px)"></div>
<div style="top:33px;height:3px;background:linear-gradient(90deg,#fbe6da 0px,#fbe4d6 305px,#fbe2d4 314px,#fbe2d4 321px,#fbe4d6 330px,#f9eee8 390px,#fae9df 457px,#fae9df 678px,#fff 679px,#fff 831px)"></div>
<div style="top:36px;height:3px;background:linear-gradient(90deg,#fbe6da 0px,#fbe3d5 306px,#fbe6d9 313px,#faeae1 319px,#fce2d3 327px,#f9efe9 388px,#fae9df 454px,#fae9df 678px,#fff 679px,#fff 831px)"></div>
<div style="top:39px;height:6px;background:linear-gradient(90deg,#fbe6da 0px,#fbe5d8 311px,#f8f2ee 318px,#fbe3d4 326px,#f9efe9 390px,#fae9de 460px,#fae9de 678px,#fff 679px,#fff 831px)"></div>
<div style="top:45px;height:3px;background:linear-gradient(90deg,#fbe6da 0px,#fbe4d6 311px,#f9efea 318px,#fbe2d4 326px,#f9efe9 389px,#fae8de 455px,#fae8de 678px,#fff 679px,#fff 831px)"></div>
<div style="top:48px;height:3px;background:linear-gradient(90deg,#fbe5d8 0px,#fbe3d4 306px,#fbe3d5 313px,#fae8dd 319px,#fce1d2 327px,#fae7dc 346px,#f9efe9 392px,#fae8de 449px,#fae8de 678px,#fff 679px,#fff 831px)"></div>
<div style="top:51px;height:3px;background:linear-gradient(90deg,#fbe5d8 0px,#fbe4d6 305px,#fcdecd 314px,#fce2d2 328px,#fae8de 348px,#f9efe9 396px,#fae7dc 449px,#fae8de 678px,#fff 679px,#fff 831px)"></div>
<div style="top:54px;height:3px;background:linear-gradient(90deg,#fbe5d8 0px,#fbe4d6 305px,#fcd5bf 315px,#fddcc8 325px,#fae7dc 336px,#f9efe9 399px,#fbe6da 450px,#fae8de 678px,#fff 679px,#fff 831px)"></div>
<div style="top:57px;height:3px;background:linear-gradient(90deg,#fbe5d8 0px,#fae7db 288px,#fbe4d6 305px,#fac8af 316px,#fbd0b9 323px,#fae7db 332px,#f9efe9 399px,#fbe6d9 453px,#fae7dc 678px,#fff 679px,#fff 831px)"></div>
<div style="top:60px;height:3px;background:linear-gradient(90deg,#fbe5d8 0px,#fae7db 278px,#fbe6da 304px,#fcd4be 310px,#f8bfa3 316px,#f9c6ac 322px,#fbe3d4 329px,#faeae1 338px,#f9eee7 405px,#fbe5d7 453px,#fae7dc 678px,#fff 679px,#fff 831px)"></div>
<div style="top:63px;height:3px;background:linear-gradient(90deg,#fbe5d8 0px,#fae7db 274px,#fae9de 303px,#fdd9c4 309px,#f7b99c 315px,#f7b99c 320px,#fbe6da 330px,#f9ece4 341px,#f9ede5 409px,#fbe3d5 451px,#fae7dc 483px,#fae7dc 678px,#fff 679px,#fff 831px)"></div>
<div style="top:66px;height:3px;background:linear-gradient(90deg,#fbe5d8 0px,#fae7db 272px,#f9ece4 301px,#fce0d0 307px,#f6b394 315px,#f6b394 320px,#fbe4d6 329px,#f9ede6 336px,#f9ede5 409px,#fbe3d5 452px,#fae7dc 484px,#fae7dc 678px,#fff 679px,#fff 831px)"></div>
<div style="top:69px;height:3px;background:linear-gradient(90deg,#fbe5d8 0px,#fbe6da 270px,#f9eee8 299px,#fbe4d7 306px,#fbcdb5 310px,#f6af8e 315px,#f5ac8b 319px,#f9c5ab 324px,#fce1d1 328px,#f9eee8 334px,#f9ede5 408px,#fbe3d4 452px,#fae7dc 487px,#fae7dc 678px,#fff 679px,#fff 831px)"></div>
<div style="top:72px;height:9px;background:linear-gradient(90deg,#fbe5d8 0px,#fbe5d8 267px,#f8f1ed 296px,#f9ece3 304px,#fcd5bf 309px,#f5ad8c 314px,#f4a582 318px,#f6b394 322px,#fce2d3 328px,#f9efea 333px,#f9ebe3 411px,#fbe3d4 452px,#fbe6da 515px,#fbe6da 678px,#fff 679px,#fff 831px)"></div>
<div style="top:81px;height:3px;background:linear-gradient(90deg,#fbe5d8 0px,#fbe5d8 267px,#f8f2ef 293px,#f9efe9 303px,#fcdecc 308px,#f6af8f 314px,#f4a784 318px,#f7b495 322px,#fbe3d4 328px,#f8f1ec 333px,#f9f0eb 355px,#f9ebe3 411px,#fbe3d4 452px,#fbe6da 521px,#fbe6da 678px,#fff 679px,#fff 831px)"></div>
<div style="top:84px;height:3px;background:linear-gradient(90deg,#fbe5d8 0px,#fbe4d6 265px,#f8f3f0 294px,#f9eee7 304px,#fddac5 309px,#f6b394 314px,#f5aa89 318px,#f7b89b 322px,#fbe4d6 328px,#f8f2ef 334px,#f9efe9 392px,#fbe3d4 453px,#fbe6da 514px,#fbe6da 678px,#fff 679px,#fff 831px)"></div>
<div style="top:87px;height:3px;background:linear-gradient(90deg,#fbe5d8 0px,#fce2d2 165px,#fbe5d8 267px,#f8f3f0 294px,#f9eee8 304px,#fddcc8 309px,#f7b89a 314px,#f6b191 318px,#f8bda1 322px,#fbe5d8 328px,#f8f2ef 334px,#f9eee8 359px,#faebe2 411px,#fbe3d4 452px,#fbe5d9 499px,#fbe5d9 678px,#fff 679px,#fff 831px)"></div>
<div style="top:90px;height:3px;background:linear-gradient(90deg,#fbe5d8 0px,#fce2d2 157px,#fbe4d6 266px,#f8f3f0 294px,#f9efe9 304px,#fdd8c3 310px,#f8bb9e 315px,#f7b799 319px,#fbd0b9 324px,#f9ede5 330px,#f8f3f0 338px,#f9eee8 379px,#fae9df 416px,#fbe5d8 454px,#fbe5d8 678px,#fff 679px,#fff 831px)"></div>
<div style="top:93px;height:3px;background:linear-gradient(90deg,#fbe5d8 0px,#fce2d2 148px,#fbe4d6 267px,#f8f3f0 292px,#f9efea 304px,#fddcc9 310px,#f9c2a7 315px,#f8bfa4 319px,#fbceb7 323px,#f9ede6 330px,#f8f3f0 339px,#f9eee7 379px,#fae9de 456px,#fbe5d9 486px,#fbe5d7 678px,#fff 679px,#fff 831px)"></div>
<div style="top:96px;height:3px;background:linear-gradient(90deg,#fbe5d8 0px,#fce2d2 130px,#fbe4d6 267px,#f8f2ef 287px,#f9f0eb 304px,#fac7ae 316px,#fbcdb5 321px,#f9f0eb 331px,#f8f2ef 351px,#f9eee7 380px,#fae9df 483px,#fbe3d5 496px,#fbe4d6 678px,#fff 679px,#fff 831px)"></div>
<div style="top:99px;height:3px;background:linear-gradient(90deg,#fbe5d8 0px,#fce1d1 72px,#fbe3d5 267px,#f8f3f0 284px,#f8f1ec 304px,#fcd3bd 317px,#fcdecc 323px,#f8f2ee 332px,#f8f0eb 363px,#f9eee7 380px,#f9ece4 482px,#fbe3d4 492px,#fbe4d6 678px,#fff 679px,#fff 831px)"></div>
<div style="top:102px;height:3px;background:linear-gradient(90deg,#fbe4d6 0px,#fce0d0 165px,#fbe3d4 267px,#f8f3f0 282px,#f8f1ec 305px,#fce0cf 317px,#faebe2 326px,#f8f3f0 336px,#f9f0eb 364px,#f9eee7 387px,#f9eee8 414px,#f9ede5 482px,#fbe2d4 492px,#fbe3d5 678px,#fff 679px,#fff 831px)"></div>
<div style="top:105px;height:3px;background:linear-gradient(90deg,#fbe4d6 0px,#fce0d0 157px,#fbe3d4 267px,#f8f3f0 282px,#f9f0eb 308px,#fae9df 319px,#f8f3f0 337px,#f9f0eb 364px,#f9ede6 387px,#f9ede5 412px,#f8f0eb 446px,#f9eee7 481px,#fce2d2 491px,#fbe3d4 678px,#fff 679px,#fff 831px)"></div>
<div style="top:108px;height:6px;background:linear-gradient(90deg,#fbe4d6 0px,#fce0d0 139px,#fce2d3 267px,#f8f3f0 282px,#f8f2ee 326px,#f8f1ec 363px,#f9ece4 373px,#f9ece4 412px,#f8f2ee 426px,#f9efe9 480px,#fce1d1 489px,#fce2d3 678px,#fff 679px,#fff 831px)"></div>
<div style="top:114px;height:3px;background:linear-gradient(90deg,#fbe3d5 0px,#fce0cf 98px,#fce2d3 268px,#f8f3f0 282px,#f8f1ed 362px,#f9ebe3 372px,#f9ece4 413px,#f8f3f0 423px,#f8f1ed 478px,#fce0d0 488px,#fce2d2 678px,#fff 679px,#fff 831px)"></div>
<div style="top:117px;height:3px;background:linear-gradient(90deg,#fbe3d4 0px,#fcdfcf 165px,#fce1d1 267px,#f8f3f0 282px,#f8f3f0 359px,#faebe3 371px,#fae9df 407px,#f9ece4 414px,#f8f4f1 423px,#f8f1ed 478px,#fce0cf 487px,#fce1d1 678px,#fff 679px,#fff 831px)"></div>
<div style="top:120px;height:3px;background:linear-gradient(90deg,#fbe3d4 0px,#fcdfcf 157px,#fce0d0 267px,#f8f3f0 282px,#f1f4f6 305px,#f5f6f7 356px,#faeae1 370px,#fae8de 408px,#f9ebe3 414px,#f7f5f4 420px,#f8f3f0 478px,#fce0d0 485px,#fce0d0 678px,#fff 679px,#fff 831px)"></div>
<div style="top:123px;height:3px;background:linear-gradient(90deg,#fbe3d4 0px,#fcdfcf 139px,#fce0d0 268px,#f8f3f0 282px,#ecf2f5 294px,#eff3f6 355px,#f8f1ed 361px,#faeae1 369px,#fae9df 405px,#faeae0 414px,#f7f6f6 419px,#f7f5f4 477px,#fce0d0 484px,#fce0d0 678px,#fff 679px,#fff 831px)"></div>
<div style="top:126px;height:3px;background:linear-gradient(90deg,#fbe3d4 0px,#fcdfcf 130px,#fcdfcf 267px,#f9efea 278px,#f4f5f6 286px,#e6eff4 290px,#e9f0f4 354px,#f8f4f1 358px,#fae9df 369px,#fae9de 405px,#fae7dc 414px,#f6f7f7 420px,#f7f6f6 476px,#fce0d0 483px,#fcdfcf 678px,#fff 679px,#fff 831px)"></div>
<div style="top:129px;height:3px;background:linear-gradient(90deg,#fbe2d4 0px,#fcdecd 72px,#fce0d0 268px,#f2f5f6 286px,#e1edf3 290px,#e5eef4 354px,#f8f3f0 358px,#fae9de 368px,#fae9df 404px,#fbe6da 414px,#f5f6f7 420px,#f7f6f5 476px,#fce2d3 481px,#fddcc9 493px,#fcdfcf 678px,#fff 679px,#fff 831px)"></div>
<div style="top:132px;height:3px;background:linear-gradient(90deg,#fce2d2 0px,#fcdecd 165px,#fcdfcf 268px,#f7f7f7 285px,#dceaf2 289px,#dfecf3 353px,#f8f5f3 357px,#fae8de 367px,#fae8dd 405px,#fbe6d9 415px,#f7f7f7 420px,#f2f5f6 473px,#f8f3f0 476px,#fbe2d4 480px,#fddcc8 491px,#fcdecd 678px,#fff 679px,#fff 831px)"></div>
<div style="top:135px;height:3px;background:linear-gradient(90deg,#fce2d2 0px,#fcdecd 148px,#fcdfcd 268px,#f7f7f7 285px,#d6e7f1 289px,#d6e7f1 352px,#f6f7f7 356px,#fae7dc 365px,#fae7db 405px,#fbe4d7 415px,#f5f6f7 421px,#eff3f6 456px,#f5f6f7 474px,#fce0d0 480px,#fddac6 497px,#fcdecd 678px,#fff 679px,#fff 831px)"></div>
<div style="top:138px;height:3px;background:linear-gradient(90deg,#fce2d2 0px,#fcdecd 139px,#fcdecc 268px,#f9ece4 279px,#f3f5f6 286px,#cae2ee 290px,#cae2ee 351px,#f7f5f4 356px,#fbe5d9 365px,#fbe5d7 406px,#fbe4d6 416px,#f3f5f6 422px,#edf2f5 439px,#eff3f6 472px,#f7f5f4 474px,#fce0d0 479px,#fdd8c3 493px,#fcdecb 637px,#fcdecb 678px,#fff 679px,#fff 831px)"></div>
<div style="top:141px;height:3px;background:linear-gradient(90deg,#fce2d2 0px,#fcdecc 98px,#fdddcb 269px,#faeae1 279px,#f3f5f6 286px,#bedbeb 290px,#b8d8e9 312px,#bcdaea 350px,#cfe4f0 352px,#f6f6f6 355px,#fbe3d5 364px,#fce2d2 416px,#faebe3 420px,#f7f6f5 422px,#ebf1f5 427px,#edf2f5 471px,#f7f5f4 473px,#fbe3d4 477px,#fcd6c1 488px,#fdddcb 636px,#fdddcb 678px,#fff 679px,#fff 831px)"></div>
<div style="top:144px;height:3px;background:linear-gradient(90deg,#fce1d1 0px,#fdddcb 93px,#fddac5 257px,#fce1d2 276px,#f6f6f6 286px,#ddebf2 288px,#b7d8e9 290px,#acd2e5 292px,#add3e6 349px,#c0dceb 351px,#f4f6f6 354px,#fce2d2 362px,#fdddcb 401px,#fce0d0 417px,#faebe2 421px,#f6f6f5 423px,#e9f0f4 427px,#ecf2f5 470px,#f6f6f5 472px,#fbe3d4 476px,#fcd3bd 487px,#fcd5bf 520px,#fddcc9 571px,#fdddca 678px,#fff 679px,#fff 831px)"></div>
<div style="top:147px;height:3px;background:linear-gradient(90deg,#fce0d0 0px,#fdddcb 157px,#fddbc8 271px,#fbe5d9 280px,#f2f5f6 287px,#cde3ef 289px,#b1d5e7 290px,#9ac9e0 292px,#93c5de 328px,#9fcbe2 349px,#add3e6 350px,#f0f4f6 353px,#faebe3 356px,#fddcc9 363px,#fbd0b9 397px,#fcdecb 418px,#fae9df 422px,#f6f6f5 424px,#e7eff4 428px,#eaf1f5 469px,#f6f6f5 471px,#fce2d2 475px,#fbd1ba 486px,#fbceb7 517px,#fddbc7 550px,#fddcc9 678px,#fff 679px,#fff 831px)"></div>
<div style="top:150px;height:3px;background:linear-gradient(90deg,#fce0d0 0px,#fdddcb 148px,#fdd8c3 254px,#fddcc9 277px,#f8f2ef 286px,#ebf1f5 288px,#d7e8f1 289px,#99c9e0 291px,#87beda 292px,#7eb8d7 296px,#6eaed2 321px,#84bcd9 347px,#8ac0db 348px,#9bcae1 349px,#d7e8f1 351px,#f7f4f2 353px,#fddcc9 359px,#fbd0b9 368px,#f9c4a9 394px,#fcd5bf 417px,#fae8dd 423px,#f6f5f5 425px,#e5eff4 428px,#e8f0f4 468px,#f6f5f5 470px,#fce0d0 474px,#fbceb7 484px,#fac9b0 515px,#fdd9c4 550px,#fddcc9 678px,#fff 679px,#fff 831px)"></div>
<div style="top:153px;height:3px;background:linear-gradient(90deg,#fce0d0 0px,#fdddcb 130px,#fcd7c2 251px,#fdd9c4 277px,#fae8de 284px,#f3f5f6 288px,#e2edf3 289px,#c6e0ed 290px,#7cb7d6 292px,#6aacd0 293px,#4c98c6 309px,#4b98c6 325px,#6bacd1 346px,#75b2d4 347px,#8dc2dc 348px,#d7e8f1 350px,#edf2f5 351px,#f9ece4 353px,#fbceb6 360px,#f7ba9d 390px,#fac9b0 416px,#fcdbc8 422px,#f9ede6 425px,#f6f5f4 426px,#e2edf3 429px,#e5eef4 467px,#f6f5f5 469px,#fcdecb 473px,#facbb3 482px,#f9c4aa 514px,#fdd9c4 552px,#fddbc7 678px,#fff 679px,#fff 831px)"></div>
<div style="top:156px;height:3px;background:linear-gradient(90deg,#fce0d0 0px,#fddcca 92px,#fcd7c2 248px,#fcd5c0 278px,#fbe4d6 284px,#f7f5f4 288px,#d7e8f1 290px,#7eb8d7 292px,#5ba2cb 293px,#4a98c5 294px,#327cb7 310px,#327cb7 325px,#4e9ac7 345px,#5da3cc 346px,#7eb8d7 347px,#d5e7f1 349px,#eef3f5 350px,#faeae1 352px,#f9c5ab 359px,#f6b394 386px,#f8bc9f 412px,#facab1 421px,#fce2d2 425px,#f7f4f2 427px,#ddebf2 430px,#ddebf2 465px,#f7f4f3 468px,#fcdecd 471px,#fbceb7 476px,#f9c1a6 498px,#fac7ae 525px,#fcd7c2 548px,#fddbc7 678px,#fff 679px,#fff 831px)"></div>
<div style="top:159px;height:3px;background:linear-gradient(90deg,#fcdfcf 0px,#fddcc9 165px,#fcd6c1 250px,#fcd3bd 279px,#fbe3d5 285px,#f6f6f6 289px,#d1e5f0 291px,#6bacd1 293px,#4191c2 294px,#337eb8 296px,#195696 316px,#2062a5 327px,#3b88be 344px,#4493c3 345px,#6aacd0 346px,#d3e6f0 348px,#eff3f6 349px,#fae9de 351px,#f9c2a7 357px,#f7b596 367px,#f6b090 402px,#f8bea2 420px,#fbcdb5 424px,#fae8de 427px,#f7f4f2 428px,#d9e9f1 431px,#d9e9f1 464px,#f6f4f2 467px,#fddac6 470px,#fac8af 475px,#f8bea2 510px,#facbb3 532px,#fddac6 550px,#fdd9c4 678px,#fff 679px,#fff 831px)"></div>
<div style="top:162px;height:3px;background:linear-gradient(90deg,#fcdfcf 0px,#fddcca 131px,#fcd6c1 247px,#fbd0b9 278px,#fce0d0 285px,#f0f4f6 290px,#e2edf3 291px,#c7e0ed 292px,#93c5de 293px,#559ec9 294px,#3581ba 295px,#2368ac 297px,#09386c 313px,#0a396e 323px,#2469ad 339px,#307ab6 343px,#3e8cbf 344px,#69abd0 345px,#a5cee3 346px,#d6e7f1 347px,#f1f3f5 348px,#fce0d0 351px,#f8bfa4 356px,#f6b090 366px,#f6b090 412px,#f8bda1 423px,#fbd0b9 426px,#f7f2ef 429px,#d5e7f1 432px,#cde3ef 453px,#d5e7f1 463px,#f7f3f0 466px,#fcd7c2 469px,#f9c6ac 473px,#f8bda1 508px,#fac7ad 530px,#fdddcb 547px,#fddac6 590px,#fdd9c4 678px,#fff 679px,#fff 831px)"></div>
<div style="top:165px;height:3px;background:linear-gradient(90deg,#fcdfcf 0px,#fdddca 94px,#fcd7c2 240px,#fbceb7 276px,#fcdfcd 285px,#f5f6f7 290px,#dceaf2 292px,#c1ddec 293px,#90c3dd 294px,#509ac7 295px,#2f79b5 296px,#185595 298px,#073466 306px,#073466 329px,#1c5da0 340px,#2f79b5 342px,#4b95c4 343px,#bedbea 345px,#e2edf3 346px,#f4f4f4 347px,#fbceb7 352px,#f7b698 357px,#f5ab8a 371px,#f6af8f 417px,#f8bda0 425px,#fcd8c4 428px,#f8f2ee 430px,#d8e9f1 432px,#c2ddec 435px,#b3d6e8 449px,#c5dfed 461px,#e8f0f4 464px,#f8f2ef 465px,#fcd3bc 468px,#f9c2a7 472px,#f8bda1 514px,#f9c6ac 531px,#fbe5d8 550px,#fbe4d6 578px,#fdd9c4 593px,#fcd7c2 678px,#fff 679px,#fff 831px)"></div>
<div style="top:168px;height:3px;background:linear-gradient(90deg,#fcdfcf 0px,#fddcc9 85px,#fddbc7 208px,#fbcdb5 267px,#fcd3bc 280px,#fbe5d7 287px,#f1f4f6 291px,#d8e9f1 293px,#bfdceb 294px,#94c5de 295px,#559ec9 296px,#2f79b6 297px,#134c87 299px,#08366a 302px,#053061 306px,#063264 332px,#144d89 338px,#256bad 340px,#3b86bd 341px,#6cadd1 342px,#abd1e5 343px,#d4e6f0 344px,#ebf1f5 345px,#f7f3f1 346px,#f9c6ac 352px,#f6b192 358px,#f5a886 377px,#f5ae8d 420px,#f7b99c 426px,#fcd5bf 429px,#f9efea 431px,#ecf2f5 432px,#b7d8e8 435px,#8ec2dd 447px,#a8d0e4 456px,#b7d8e8 460px,#ebf1f5 463px,#f8f0eb 464px,#fcd9c5 466px,#f9c4a9 469px,#f8bda0 481px,#f9c0a5 527px,#fcd7c2 539px,#f8f2ee 549px,#f8f1ec 577px,#fcdecc 584px,#fcd7c2 603px,#fcd7c2 678px,#fff 679px,#fff 831px)"></div>
<div style="top:171px;height:3px;background:linear-gradient(90deg,#fcdfcd 0px,#fddbc8 77px,#fce0cf 139px,#fddbc8 192px,#fbd0b9 256px,#fbceb7 278px,#fbe2d4 287px,#f6f6f5 291px,#d8e8f1 294px,#c2ddec 295px,#a2cde2 296px,#448ec1 298px,#286fae 299px,#0d3f76 301px,#073466 302px,#053162 333px,#0f427a 336px,#2468a8 338px,#3b85bc 339px,#9dc9e1 341px,#c8e0ed 342px,#e2edf3 343px,#f8f1ed 345px,#f8bfa4 352px,#f5ac8b 360px,#f4a683 402px,#f6af8f 425px,#f9c4a9 429px,#fcdecc 431px,#f9ede5 432px,#ecf2f5 433px,#b3d6e8 435px,#97c7df 437px,#59a1ca 446px,#5ca3cb 450px,#a1cde2 459px,#b3d6e8 460px,#ebf1f5 462px,#f9eee8 463px,#fcd5c0 465px,#f9c2a7 468px,#f8bb9e 478px,#f8bfa4 528px,#fcd7c2 539px,#faebe2 545px,#f7f6f6 548px,#f8f4f2 578px,#fcdecd 584px,#fcd6c1 599px,#fcd6c1 678px,#fff 679px,#fff 831px)"></div>
<div style="top:174px;height:3px;background:linear-gradient(90deg,#fcdecd 0px,#fddcca 83px,#fce2d3 117px,#fcdfcd 183px,#facbb3 277px,#fdddcb 286px,#f1f4f6 293px,#cfe4ef 296px,#99c8e0 298px,#428bbf 300px,#266ba9 301px,#0c3d73 303px,#053061 305px,#063163 332px,#08366a 333px,#1a5795 335px,#2a70ac 336px,#468ec1 337px,#71b0d3 338px,#a7cfe4 339px,#cbe2ee 340px,#eff3f5 342px,#fbe5d9 345px,#f8bfa4 351px,#f5aa88 359px,#f4a482 413px,#f6af8e 427px,#f8bfa4 430px,#fcddca 432px,#f9ece4 433px,#eaf1f5 434px,#80bad8 437px,#549dc9 440px,#337eb8 445px,#337eb8 450px,#549dc9 455px,#80bad8 458px,#e9f0f4 461px,#f9eee8 462px,#fcd3bd 464px,#f8bea2 467px,#f8bb9e 494px,#f8bfa4 529px,#fcd7c2 539px,#f9ece4 545px,#f4f6f6 548px,#f5f6f7 577px,#fcdfcd 584px,#fcd5bf 599px,#fcd5bf 678px,#fff 679px,#fff 831px)"></div>
<div style="top:177px;height:3px;background:linear-gradient(90deg,#fcdecd 0px,#fddcc9 82px,#fbe4d7 107px,#fce1d1 181px,#fcd7c2 214px,#fbcdb5 256px,#facbb2 279px,#fcdecc 288px,#f1f4f6 295px,#d2e5f0 298px,#a7cfe4 300px,#4087bd 303px,#1b5792 305px,#0a3b70 307px,#053061 310px,#063264 328px,#0c3d74 330px,#1d5c98 332px,#2d73ae 333px,#74b0d3 335px,#9ecae1 336px,#d6e7f0 338px,#f1f3f4 340px,#fbd2bb 346px,#f7b596 352px,#f4a482 362px,#f4a784 424px,#f6b191 429px,#f8bea2 431px,#fcdac7 433px,#faebe2 434px,#ebf1f5 435px,#c4dfec 436px,#61a6cd 438px,#4392c3 439px,#2063a7 445px,#1e5fa2 449px,#3a87bd 455px,#4392c3 456px,#61a6cd 457px,#c2deec 459px,#eaf1f5 460px,#f9ede6 461px,#fcd3bc 463px,#f8bda0 466px,#f7b99c 498px,#f9c1a6 531px,#fcd7c2 539px,#fae8de 544px,#f6f7f7 547px,#eff3f6 556px,#f5f6f7 577px,#fcdecd 584px,#fcd4be 598px,#fcd4be 678px,#fff 679px,#fff 831px)"></div>
<div style="top:180px;height:3px;background:linear-gradient(90deg,#fcdecd 0px,#fddbc7 80px,#fbe6da 104px,#fbe3d5 179px,#fdd8c3 202px,#facbb2 259px,#facab1 282px,#fce2d3 292px,#f1f3f4 298px,#cbe2ee 302px,#a5cee3 304px,#5397c6 307px,#1f5e98 310px,#114780 313px,#08366a 318px,#0d4078 322px,#1b5791 326px,#3376ad 328px,#7bb3d5 331px,#cee3ee 334px,#ebf0f3 336px,#fbe4d7 340px,#f8bfa4 346px,#f5a886 355px,#f19f7d 386px,#f4a784 427px,#f7b697 431px,#fcdbc8 434px,#eff2f4 436px,#cde3ee 437px,#5da3cc 439px,#3b88bd 440px,#2166ab 443px,#175391 446px,#175391 449px,#2f78b5 454px,#3b88bd 455px,#5ca3cb 456px,#cbe2ee 458px,#eef2f4 459px,#fcdfcf 461px,#fac8af 463px,#f7b89a 467px,#f8bfa4 531px,#fcd5bf 539px,#fae9de 544px,#f4f6f6 547px,#edf2f5 556px,#f0f4f6 576px,#f8f5f3 578px,#fce0d0 583px,#fcd3bc 595px,#fcd3bc 678px,#fff 679px,#fff 831px)"></div>
<div style="top:183px;height:3px;background:linear-gradient(90deg,#fcdecc 0px,#fdd9c4 56px,#fddcca 84px,#fae8dd 102px,#fbe5d8 178px,#fcd7c2 200px,#facbb3 255px,#f9c6ac 282px,#fcd8c3 292px,#f2f1f0 303px,#d8e6ee 308px,#9ac6de 313px,#6da5cd 318px,#7db1d4 321px,#b5d5e6 326px,#e8ecee 330px,#fae8de 334px,#f7b99c 342px,#f4a684 350px,#f19d7c 389px,#f3a380 427px,#f6af8e 431px,#fbcdb5 434px,#f2f3f3 437px,#d7e8f1 438px,#a5cee3 439px,#68abd0 440px,#3f8cbf 441px,#256baf 443px,#185595 447px,#1c5c9f 450px,#2f78b5 453px,#3f8cbf 454px,#68abd0 455px,#a4cee3 456px,#d5e7f0 457px,#f1f3f4 458px,#fcd5bf 461px,#f8bc9f 464px,#f7b799 472px,#f8bea2 531px,#fbd2bb 539px,#f9eee8 545px,#f4f5f6 547px,#ebf1f5 553px,#eef3f5 576px,#f7f6f5 578px,#fce2d2 582px,#fcd3bc 592px,#fcd3bc 678px,#fff 679px,#fff 831px)"></div>
<div style="top:186px;height:3px;background:linear-gradient(90deg,#fdddcb 0px,#fdd8c3 79px,#faeae0 102px,#fae7dc 176px,#fcd7c2 197px,#fac9b0 257px,#f9c3a8 285px,#fcdac8 302px,#facfb9 305px,#f6bba1 308px,#f5bea7 312px,#f8d2bf 318px,#f8c3aa 327px,#f8bfa3 332px,#f1a080 340px,#ee9677 348px,#ef9b7a 375px,#f2a17f 429px,#f6b293 433px,#fcd8c3 436px,#f7f0ec 438px,#e7eff4 439px,#c4deec 440px,#5fa4cc 442px,#3e89be 443px,#286fb1 445px,#2267ab 448px,#2f79b5 451px,#3e89be 452px,#5fa4cc 453px,#c4deec 455px,#e5eff4 456px,#f6f1ee 457px,#fac7ad 461px,#f7b799 464px,#f8bda1 532px,#fbcfb8 539px,#f9ebe3 545px,#f6f6f7 547px,#e8f0f4 551px,#edf2f5 576px,#f7f5f4 578px,#fce0d0 582px,#fbd0b9 592px,#fbd0b9 678px,#fff 679px,#fff 831px)"></div>
<div style="top:189px;height:3px;background:linear-gradient(90deg,#fdddcb 0px,#fcd7c2 80px,#faebe3 101px,#fae9df 175px,#fcd7c2 195px,#fac9b0 254px,#f8bfa4 290px,#f9c4a9 301px,#f7b99c 303px,#f09d7d 305px,#d66150 308px,#cb4b44 311px,#d0544a 321px,#d2594c 325px,#e58368 330px,#e7886b 347px,#ef9979 359px,#ee9878 431px,#f4a989 435px,#facfb8 438px,#f8ebe3 440px,#ebeded 441px,#d5e6f0 442px,#6aaacf 445px,#5299c6 446px,#4991c2 448px,#5299c6 449px,#8abeda 451px,#d5e6f0 453px,#ebedee 454px,#fbe0d2 456px,#f8bda1 459px,#f6b192 463px,#f7b99c 521px,#f8bfa4 535px,#fddac6 542px,#f9f0eb 546px,#f7f7f7 547px,#e6eff4 551px,#e9f0f4 575px,#f4f6f6 577px,#fcdecd 582px,#fbd0b9 590px,#fbd0b9 678px,#fff 679px,#fff 831px)"></div>
<div style="top:192px;height:3px;background:linear-gradient(90deg,#fdddcb 0px,#fcd5bf 76px,#fce2d2 90px,#f9ece4 103px,#faeae1 174px,#fcd5bf 196px,#fac8af 255px,#f7b697 300px,#f3a482 303px,#e37d63 305px,#be3137 308px,#b01b2c 310px,#a8172a 317px,#b21d2d 324px,#c43c3c 327px,#d76450 331px,#e68469 348px,#ee9677 359px,#ec9273 422px,#e17960 436px,#eb9377 439px,#f9d5c2 443px,#e9e6e4 446px,#e2e4e4 448px,#efe3dd 450px,#f9d5c2 452px,#f0a386 455px,#e88b6f 457px,#e8896c 459px,#f5aa88 464px,#f7b799 478px,#f8bda0 535px,#fcd5bf 542px,#f9ede5 546px,#f8f5f3 547px,#e3edf3 551px,#e4eef3 574px,#f6f7f7 577px,#fcdfcd 581px,#fbceb7 589px,#fbceb7 678px,#fff 679px,#fff 831px)"></div>
<div style="top:195px;height:3px;background:linear-gradient(90deg,#fdddca 0px,#fcd3bc 77px,#fbe2d4 91px,#f9ede6 103px,#f9ebe3 173px,#fcd5bf 196px,#fac7ae 254px,#f6b192 298px,#f2a17f 302px,#e58167 304px,#bf3338 307px,#b31b2c 308px,#930e26 311px,#8d0c25 319px,#9d1128 324px,#b41c2d 326px,#cd4d44 330px,#e0775e 345px,#eb9172 355px,#eb9172 421px,#d6604e 433px,#c84440 437px,#cc4c44 440px,#e6856b 446px,#e6856b 449px,#c94741 456px,#cc4b43 458px,#e0775f 461px,#f2a17f 464px,#f6b394 471px,#f8bc9f 536px,#fbd0b9 542px,#fae9df 546px,#f1f4f6 548px,#dae9f2 551px,#dceaf2 574px,#f7f6f5 577px,#fcdfcf 580px,#fbcdb5 587px,#fbceb7 678px,#fff 679px,#fff 831px)"></div>
<div style="top:198px;height:3px;background:linear-gradient(90deg,#fddcc9 0px,#fcd3bc 81px,#f9eee7 102px,#f9ece4 172px,#fcd3bc 202px,#f9c5ab 256px,#f5ad8c 298px,#ef9979 302px,#e17860 304px,#ba2832 307px,#a81529 308px,#8d0c25 310px,#7f0823 314px,#850a24 322px,#a01228 325px,#b82431 327px,#ca4841 330px,#ea8e70 354px,#ea8e70 421px,#d25849 432px,#bd2d35 437px,#bc2b34 441px,#c33a3b 448px,#ba2832 456px,#bf3338 458px,#da6853 461px,#ef9b7a 464px,#f5ad8c 468px,#f7b799 488px,#f8bb9e 537px,#fbceb7 543px,#f9ede5 547px,#f5f6f6 548px,#d2e6f0 551px,#c9e1ee 557px,#cce2ef 572px,#e1edf3 575px,#f8f2ef 577px,#fce0d0 579px,#fbceb6 584px,#fbccb4 678px,#fff 679px,#fff 831px)"></div>
<div style="top:201px;height:3px;background:linear-gradient(90deg,#fddcc9 0px,#fbd1ba 81px,#f9eee8 103px,#f9ede5 172px,#fbe6da 182px,#fae8de 190px,#fcd3bc 201px,#f9c6ac 253px,#f5ac8b 297px,#f09c7b 301px,#e68569 303px,#c43c3c 306px,#b6202f 307px,#920e26 309px,#7d0722 312px,#7a0622 320px,#8f0d25 324px,#b6212f 327px,#c84440 330px,#dd7059 344px,#e98b6e 354px,#ea8e70 421px,#cf5347 432px,#b92732 437px,#b61f2e 443px,#b82431 457px,#c33a3b 459px,#e88a6e 463px,#f4a683 466px,#f6b394 475px,#f7b89b 538px,#fbccb4 544px,#fbe5d8 547px,#eff3f5 549px,#c2ddec 552px,#b7d8e8 556px,#bbdaea 571px,#cbe2ee 573px,#f7f4f2 576px,#fce0d0 578px,#fbceb6 582px,#fac8af 598px,#fbccb4 678px,#fff 679px,#fff 831px)"></div>
<div style="top:204px;height:3px;background:linear-gradient(90deg,#fddcc9 0px,#fbcfb8 80px,#fcdfcd 91px,#f9efea 104px,#f9eee7 170px,#fae9de 179px,#eef2f4 186px,#f2f3f3 191px,#fcd5bf 200px,#fbccb4 231px,#f5ac8b 296px,#ef9a79 301px,#dc6e58 304px,#b61f2e 307px,#900d26 309px,#7c0722 312px,#760521 319px,#840924 323px,#b61f2e 327px,#c7423f 330px,#d6604d 338px,#e98b6e 355px,#e98c6f 421px,#cf5246 432px,#b82531 437px,#b41c2d 443px,#b72230 457px,#c2383a 459px,#e8896c 463px,#f4a482 466px,#f6b394 478px,#f7b89b 540px,#fac8af 545px,#fbe4d6 548px,#f8f1ec 549px,#ecf2f5 550px,#b3d6e7 553px,#a5cee3 556px,#a7d0e4 570px,#bcdbea 572px,#f6f4f2 575px,#fcd7c2 578px,#fac9b0 582px,#facab1 678px,#fff 679px,#fff 831px)"></div>
<div style="top:207px;height:3px;background:linear-gradient(90deg,#fddcc9 0px,#fbcdb5 79px,#fdd8c3 89px,#f9efe9 103px,#f9efe9 169px,#faeae1 178px,#f0f4f6 182px,#bad9e9 187px,#bad9e9 189px,#f2f4f5 194px,#fddcc8 199px,#fbceb7 206px,#f9c4a9 252px,#f5a886 297px,#ee9777 301px,#e48066 303px,#d05548 305px,#b61f2e 307px,#900d26 309px,#7c0722 312px,#760521 318px,#840924 323px,#b61f2e 327px,#c6413e 330px,#d7634f 339px,#e98c6f 355px,#ec9374 374px,#ea8e70 420px,#d6604d 430px,#b82531 437px,#b3192c 443px,#b51d2d 456px,#bb2a34 458px,#d6614e 461px,#ec9374 464px,#f5a886 468px,#f6b394 491px,#f7b697 541px,#f9c3a8 546px,#fce2d2 549px,#f9efe9 550px,#ecf2f5 551px,#a4cee3 554px,#91c4de 556px,#8fc3dd 568px,#9ecbe1 570px,#e2edf3 573px,#f5f3f2 574px,#fcd3bc 577px,#f9c5ab 581px,#facab1 678px,#fff 679px,#fff 831px)"></div>
<div style="top:210px;height:3px;background:linear-gradient(90deg,#fddbc7 0px,#fbcdb5 84px,#fbe4d7 96px,#f8f1ed 108px,#f9efea 167px,#fae9df 177px,#f7f6f5 180px,#d1e5f0 183px,#88bfdb 186px,#73b1d3 188px,#77b4d5 189px,#9bc9e1 191px,#cfe4ef 193px,#f0f4f6 195px,#fcdecc 199px,#fbceb7 204px,#f9c3a8 251px,#f5a886 296px,#ee9677 301px,#dc6e57 304px,#b61f2e 307px,#920e26 309px,#7d0722 312px,#780522 319px,#860a24 323px,#b61f2e 327px,#ca4842 331px,#f4a685 363px,#f4a685 381px,#f2a280 406px,#ea8e70 419px,#e27b62 425px,#cb4942 433px,#b82531 437px,#b41c2d 444px,#b72230 457px,#c2383a 459px,#e68569 463px,#f2a07e 466px,#f6af8e 481px,#f6b191 532px,#f7b596 544px,#f9c2a7 548px,#fcd9c5 550px,#f3f1ef 552px,#e0ecf3 553px,#92c5de 556px,#79b5d5 558px,#70b0d3 564px,#7cb7d6 567px,#9bc9e0 569px,#ebf0f3 572px,#f9eee8 573px,#facbb3 576px,#f9c2a7 581px,#fac9b0 678px,#fff 679px,#fff 831px)"></div>
<div style="top:213px;height:3px;background:linear-gradient(90deg,#fddbc7 0px,#facbb2 84px,#fcdfcf 95px,#f8f0eb 107px,#f9efea 166px,#fbe6da 176px,#f9f0eb 179px,#f7f6f6 180px,#dceaf2 182px,#74b2d4 186px,#62a7ce 187px,#5ba2cb 188px,#5fa5cd 189px,#89bfdb 191px,#dbeaf2 194px,#f8f4f2 196px,#fcdecd 199px,#fbd0b9 203px,#f9c1a6 253px,#f4a683 296px,#ec9374 301px,#dc6e57 304px,#b72230 307px,#950f26 309px,#800823 312px,#7b0622 319px,#880b24 323px,#ad162a 326px,#c7433f 330px,#da6853 341px,#ec9374 354px,#f9c4a9 362px,#f9c2a7 366px,#f7b698 373px,#fac7ad 383px,#f7b698 392px,#f9c4a9 401px,#f19d7c 413px,#ea8e70 419px,#e27b62 425px,#cb4942 433px,#b72230 438px,#b41c2d 455px,#bb2a34 458px,#d6604d 461px,#ea8f71 464px,#f4a482 469px,#f7b89a 493px,#f7b799 528px,#f5ae8d 541px,#f7b799 549px,#f9c2a7 551px,#f6e9e1 554px,#d8e8f1 556px,#96c6df 559px,#83bbd9 561px,#85bcd9 564px,#98c7df 566px,#dceaf2 569px,#faeae0 571px,#fbcfb8 573px,#f9c0a5 576px,#fac8af 678px,#fff 679px,#fff 831px)"></div>
<div style="top:216px;height:3px;background:linear-gradient(90deg,#fddbc7 0px,#fac9b0 85px,#fcd7c2 93px,#f9efea 107px,#f9f0eb 164px,#fbe3d5 176px,#faebe3 179px,#f3f5f5 181px,#c6dfed 184px,#9bc9e0 186px,#88beda 188px,#8bc0db 189px,#abd2e5 191px,#e6eff4 194px,#f4f5f5 195px,#fddac5 200px,#fbceb7 206px,#f9c4a9 248px,#f2a17f 298px,#e98b6e 302px,#dc6e57 304px,#b92631 307px,#a9152a 308px,#8e0d25 310px,#7d0722 315px,#860a24 322px,#a11328 325px,#b82431 327px,#cb4942 331px,#e98b6e 352px,#f5ac8b 356px,#fcdac6 361px,#fce0d0 364px,#fac9b0 372px,#fcd5bf 378px,#fce0d0 383px,#fac9b0 391px,#fcd3bc 396px,#fcdecc 401px,#f7b89b 410px,#ec9374 416px,#e58368 423px,#cf5246 432px,#b72230 438px,#b41c2d 455px,#bb2a34 458px,#dd7059 462px,#ed9475 465px,#f3a380 472px,#f6b192 481px,#f9c6ac 490px,#f9c4aa 527px,#f5ac8b 537px,#f3a381 549px,#f09e7f 553px,#f5b397 555px,#f4ddd1 558px,#e9e7e5 560px,#e0e5e6 563px,#ede6e3 565px,#f9d3c1 568px,#f5b293 571px,#f6b394 574px,#f8bfa3 586px,#fac7ad 672px,#fac7ad 678px,#fff 679px,#fff 831px)"></div>
<div style="top:219px;height:3px;background:linear-gradient(90deg,#fddbc7 0px,#fac8af 84px,#fcd3bc 93px,#f9efea 108px,#f6f5f5 138px,#f8f1ed 162px,#fcdfce 177px,#f9ebe3 181px,#ebf1f4 184px,#cfe4ef 188px,#e8f0f4 192px,#f9ece4 195px,#fcd7c2 200px,#fbceb6 212px,#f9c4a9 247px,#f2a17f 297px,#e98b6e 302px,#dd7059 304px,#ad162a 308px,#910d26 310px,#810823 315px,#860a24 321px,#981027 324px,#b2192b 326px,#c94641 330px,#e8896c 351px,#f4a785 355px,#fcdfce 360px,#fae9df 364px,#fcd5bf 373px,#fae9df 383px,#fcd5bf 392px,#fbe6da 401px,#fbd2bb 407px,#ec9374 416px,#df765e 426px,#cb4942 433px,#b72230 438px,#b41c2d 454px,#bb2a34 458px,#e37e64 463px,#ee9677 466px,#f5a886 478px,#fcd5bf 488px,#fcd8c3 524px,#fac7ae 530px,#f5ab8a 537px,#f2a17f 546px,#d96653 553px,#d76452 556px,#e5856d 562px,#dc6e59 568px,#e37d63 571px,#f6af8e 576px,#f7ba9d 582px,#f9c6ac 647px,#f9c6ac 678px,#fff 679px,#fff 831px)"></div>
<div style="top:222px;height:3px;background:linear-gradient(90deg,#fddbc7 0px,#fac8af 77px,#facbb2 91px,#f7f5f4 113px,#e5eff4 134px,#edf2f5 155px,#f8f1ed 164px,#fcd5bf 178px,#fbd8c5 182px,#fae9e0 187px,#fae6da 191px,#fbd4be 196px,#fac7ad 245px,#f5ac8b 280px,#ef9b7a 299px,#e98b6e 302px,#d55e4c 305px,#b1182b 308px,#950f26 310px,#860a24 316px,#940e26 323px,#b51d2d 326px,#c94741 330px,#e98c6f 352px,#f5aa89 355px,#fdddcb 359px,#f9ece4 363px,#fbe3d5 368px,#fdd8c3 373px,#f9ece4 383px,#fdd9c4 392px,#faeae0 401px,#fcd6c1 407px,#ef9b7a 415px,#dd7059 427px,#cb4942 433px,#b72230 438px,#b61f2e 456px,#bb2a34 458px,#e27c62 463px,#ee9677 467px,#f4a784 478px,#fddcc9 487px,#fce1d2 504px,#fcdecc 526px,#fac7ae 531px,#f5a987 537px,#f2a07e 545px,#e17960 549px,#ca4842 553px,#c43c3c 557px,#c63f3d 567px,#d05548 570px,#f5a886 576px,#f7b697 581px,#f9c6ac 644px,#f9c6ac 678px,#fff 679px,#fff 831px)"></div>
<div style="top:225px;height:3px;background:linear-gradient(90deg,#fddbc7 0px,#facab1 60px,#fac9b0 92px,#f8f0eb 108px,#eef3f5 112px,#d2e6f0 126px,#d0e5f0 150px,#eaf1f5 162px,#f8f1ed 166px,#facab1 177px,#f2a585 182px,#ef9d80 186px,#f1a081 195px,#fcd5bf 201px,#fddbc7 206px,#fbceb6 244px,#f6b192 266px,#f09c7b 298px,#e98b6e 302px,#de735c 304px,#b41b2d 308px,#940e26 311px,#8c0c25 319px,#981027 323px,#b6202f 326px,#cb4942 330px,#e6866a 351px,#f19e7d 354px,#fcdfce 359px,#f9ede6 363px,#fbe5d8 368px,#fddac6 373px,#f9eee7 383px,#fddbc7 392px,#f9ebe3 401px,#fdd9c4 407px,#ef9979 415px,#e98b6e 419px,#df765e 426px,#cb4942 433px,#ba2832 437px,#b61f2e 444px,#b82531 457px,#ca4841 460px,#e17a61 463px,#ec9374 467px,#f2a07e 477px,#f7b799 481px,#fddcc8 486px,#fbe3d5 494px,#fce0d0 526px,#fbd0b9 530px,#f5aa88 536px,#ef9b7a 545px,#e58167 548px,#cb4942 552px,#bf3338 556px,#c03539 567px,#cc4b43 570px,#f4a482 576px,#f6b293 581px,#f9c4aa 641px,#f9c4aa 678px,#fff 679px,#fff 831px)"></div>
<div style="top:228px;height:3px;background:linear-gradient(90deg,#fddbc7 0px,#facab1 53px,#fac9b0 93px,#fbe3d5 104px,#f4f5f6 109px,#d2e6f0 116px,#b9d9e9 137px,#c1ddec 154px,#deebf2 163px,#f4f5f6 166px,#fddac6 173px,#f9c2a7 177px,#ef9a79 180px,#d86451 183px,#cd4f45 186px,#cd4f45 192px,#d35b4c 194px,#ec9374 197px,#facbb2 200px,#fdddca 202px,#fce0d0 209px,#fcd7c2 244px,#f6b394 262px,#ef9979 298px,#e58368 303px,#cc4c44 306px,#b6202f 308px,#a01228 310px,#910d26 315px,#981027 322px,#b1182b 325px,#c84440 329px,#d55d4c 337px,#e98b6e 352px,#f5ac8b 355px,#fdd9c4 358px,#faeae1 361px,#f9ede6 365px,#fddbc7 373px,#f9eee7 382px,#fbe6da 387px,#fddbc7 392px,#f9ebe3 401px,#fdd9c4 407px,#ef9979 415px,#e98b6e 419px,#dd7059 427px,#cb4942 433px,#ba2832 437px,#b61f2e 444px,#b82531 457px,#c94741 460px,#e17860 463px,#eb9072 467px,#f19d7c 477px,#f7b697 481px,#fddcc9 486px,#fbe4d6 494px,#fce2d2 525px,#fcd7c2 529px,#f4a784 536px,#ec9374 546px,#d7624e 550px,#c53e3d 553px,#be3036 557px,#bf3338 567px,#cb4942 570px,#f2a07e 576px,#f6af8f 581px,#f9c4a9 639px,#f9c4a9 678px,#fff 679px,#fff 831px)"></div>
<div style="top:231px;height:3px;background:linear-gradient(90deg,#fddbc7 0px,#fbccb4 42px,#f9c6ac 93px,#fdd9c5 102px,#f4f5f6 109px,#d2e5f0 115px,#b7d8e8 134px,#bad9e9 152px,#d1e5f0 161px,#f3f5f6 166px,#fddbc7 172px,#f8bda1 177px,#f3a280 179px,#d6604d 182px,#c63f3d 184px,#bc2c35 187px,#bd2e35 192px,#c7423f 194px,#db6b55 196px,#f3a481 198px,#fbcdb5 200px,#fce0d0 202px,#fbe5d8 208px,#fcdecc 244px,#f9c3a8 254px,#f6af8e 264px,#ee9677 299px,#e58368 303px,#ce4f45 306px,#b82431 308px,#a41329 310px,#970f27 315px,#9d1128 322px,#b41b2d 325px,#c94741 329px,#e6866a 351px,#f19e7d 354px,#fdd9c4 358px,#faeae1 361px,#f9ebe3 366px,#fddbc7 373px,#f9eee7 382px,#fae9df 386px,#fddbc7 392px,#f9ebe3 401px,#fdd9c4 407px,#ee9677 415px,#e8896d 419px,#e17860 425px,#cf5246 432px,#bb2933 437px,#b61f2e 444px,#b82531 457px,#c94741 460px,#df765e 463px,#ea8d70 467px,#ef9a79 477px,#f7b495 481px,#fcdecd 487px,#fbe4d6 497px,#fce0d0 526px,#fbceb7 530px,#f4a482 536px,#ea8f71 546px,#c94641 552px,#bf3338 555px,#be3036 566px,#c53d3d 569px,#d86550 572px,#f09c7b 576px,#f5ac8b 581px,#f9c4a9 638px,#f9c4a9 678px,#fff 679px,#fff 831px)"></div>
<div style="top:234px;height:3px;background:linear-gradient(90deg,#fddbc7 0px,#fbccb4 39px,#f9c5ab 94px,#fcd5c0 103px,#f4f4f4 111px,#d6e8f1 119px,#c1ddec 137px,#c8e1ee 152px,#e8f0f4 162px,#f7f2ee 165px,#fbd2bb 172px,#f7b89b 177px,#f19d7c 179px,#d45b4b 182px,#be2f36 185px,#b72330 189px,#be3036 193px,#ce4f45 195px,#e6866a 197px,#f8bda0 199px,#fdddca 201px,#fae7dc 204px,#fbe3d4 243px,#fbd1ba 251px,#f6b293 260px,#f09c7b 292px,#e88a6e 302px,#df765e 304px,#b2192b 309px,#9e1228 312px,#a11328 322px,#b51e2e 325px,#c94741 329px,#e68569 351px,#f19d7c 354px,#fce0cf 359px,#f9eee7 363px,#fbe5d9 368px,#fddac6 373px,#f9eee7 382px,#fbe5d9 387px,#fddac6 392px,#f9ebe3 401px,#fdd8c3 407px,#ee9677 415px,#e8896c 419px,#dd7059 427px,#cb4942 433px,#bb2a34 437px,#b61f2e 443px,#b82531 457px,#c94741 460px,#e37d63 464px,#e98c6f 469px,#ee9777 477px,#f6b293 481px,#fddac5 486px,#fbe2d4 492px,#fce1d1 525px,#fcd4be 529px,#f4a784 535px,#ed9576 541px,#e88a6e 546px,#c84440 552px,#be2f36 556px,#be3137 567px,#c94641 570px,#de725b 573px,#ee9878 576px,#f4a785 581px,#f9c2a7 636px,#f9c2a7 678px,#fff 679px,#fff 831px)"></div>
<div style="top:237px;height:3px;background:linear-gradient(90deg,#fddbc7 0px,#fbccb4 35px,#f9c4a9 95px,#fcd3bd 105px,#f5f3f2 116px,#ddebf2 131px,#e1edf3 150px,#f5f1ee 159px,#fac8af 171px,#f7ba9d 176px,#f4a785 178px,#d25849 182px,#c13739 184px,#b72230 188px,#ba2832 192px,#c43b3c 194px,#da6853 196px,#f4a583 198px,#fbd0b9 200px,#fbe3d4 202px,#fae9df 207px,#fbe5d8 243px,#fcd3bc 251px,#f6b090 260px,#f19d7c 286px,#ea8e70 301px,#e0775e 304px,#b51d2d 309px,#a11328 313px,#a61429 322px,#b6212f 325px,#ca4842 329px,#e58368 351px,#f09c7b 354px,#fcdecd 359px,#faebe3 362px,#faeae1 366px,#fdd9c4 373px,#f9ede6 382px,#fbe4d7 387px,#fdd9c4 392px,#faebe2 401px,#fcd7c2 407px,#ed9475 415px,#e8896c 419px,#dd7059 427px,#cb4942 433px,#bb2a34 437px,#b72230 443px,#b92732 457px,#c13639 459px,#dd715a 463px,#e7876b 467px,#ec9374 477px,#f5ae8d 481px,#fdd8c3 487px,#fcdfcf 494px,#fdddcb 525px,#fbceb6 529px,#f2a17f 535px,#ec9273 541px,#e7876b 546px,#d35a4a 550px,#bf3338 554px,#bd2d35 566px,#c84440 570px,#e37e64 574px,#ef9b7a 577px,#f4a784 587px,#f9c2a7 636px,#f9c2a7 678px,#fff 679px,#fff 831px)"></div>
<div style="top:240px;height:3px;background:linear-gradient(90deg,#fddbc7 0px,#fbccb4 32px,#f9c3a8 98px,#fbd2bb 108px,#f7f2ef 124px,#f6f1ee 146px,#fbe5d7 155px,#f7b698 168px,#f4a887 176px,#e7876b 179px,#ce5045 182px,#bc2b34 185px,#b72230 189px,#bd2e35 193px,#cd4d44 195px,#e58167 197px,#f7b89b 199px,#fddac6 201px,#fbe6d9 204px,#fbe5d7 242px,#fcd5c0 250px,#f5ae8d 260px,#f19d7c 281px,#e8896c 302px,#db6b55 305px,#b72230 309px,#ab162a 311px,#a41329 319px,#b31a2c 324px,#ce4f45 330px,#e48065 350px,#ee9878 354px,#f8bfa4 357px,#fce2d2 360px,#faeae1 363px,#fbe5d8 367px,#fcd6c1 373px,#faebe3 383px,#fcd6c1 392px,#fae8de 401px,#fddac6 406px,#ec9374 415px,#e6866a 419px,#e17860 425px,#cf5246 432px,#bb2a34 437px,#b72230 444px,#ba2832 457px,#c84440 460px,#e17860 464px,#e7876b 469px,#ea8e70 477px,#f5ac8b 482px,#fac9b0 487px,#fbd2bb 496px,#fbceb7 525px,#f7b495 531px,#ee9677 536px,#e58267 546px,#c2383a 553px,#bb2a34 559px,#bf3338 568px,#ce4f45 571px,#eb9072 576px,#f19f7d 581px,#f9c2a7 636px,#f9c2a7 678px,#fff 679px,#fff 831px)"></div>
<div style="top:243px;height:3px;background:linear-gradient(90deg,#fddbc7 0px,#fbccb4 30px,#f9c2a7 101px,#fcd4be 113px,#fbe5d7 126px,#fbddcd 140px,#f9c0a5 152px,#e7886b 165px,#e0775f 176px,#d66250 179px,#bd2d35 184px,#b72230 189px,#bc2b34 193px,#c84540 195px,#dd715a 197px,#f7b89a 200px,#fcd8c4 203px,#fce2d2 209px,#fcdfcf 243px,#fbcfb8 250px,#f5ab8a 260px,#e8896c 302px,#dd7059 305px,#b51e2e 310px,#a9152a 314px,#ac162a 322px,#b92732 325px,#ce4f45 330px,#e58167 351px,#f2a07e 355px,#fcdbc8 360px,#fbe6d9 364px,#fbceb7 373px,#fcdcca 378px,#fbe6da 383px,#fbcfb8 391px,#fdd9c5 396px,#fbe3d5 401px,#fbd1ba 406px,#eb9072 415px,#e6866a 419px,#e17860 425px,#cf5246 432px,#bb2a34 437px,#b72230 444px,#ba2832 457px,#c84440 460px,#df765e 464px,#e68469 470px,#ea8e70 479px,#f6b394 488px,#f6b293 526px,#e8896c 538px,#e68469 545px,#d7634f 549px,#c13739 553px,#bb2a34 558px,#bd2d35 567px,#cc4c44 571px,#e98c6f 576px,#f09c7b 582px,#f9c0a5 635px,#f9c1a6 678px,#fff 679px,#fff 831px)"></div>
<div style="top:246px;height:3px;background:linear-gradient(90deg,#fddbc7 0px,#fbccb4 28px,#f8bfa3 109px,#f9c3a8 124px,#ed977a 142px,#d15549 160px,#c7433f 170px,#c2383a 179px,#b72230 186px,#b92732 193px,#c6413e 196px,#e68569 200px,#f4ab8d 203px,#f9c4aa 208px,#fcd5c0 228px,#fcd4be 243px,#f6b090 256px,#f2a07e 266px,#e6866a 302px,#de735c 305px,#b72330 310px,#ad162a 313px,#af172a 322px,#ba2832 325px,#ce4f45 330px,#e58267 352px,#f2a07e 356px,#fbd1bb 362px,#fcd5c0 365px,#f8bda1 372px,#f9c3a8 377px,#fcd7c2 382px,#fbceb6 386px,#f8bda1 391px,#f9c4aa 396px,#fcd4be 401px,#f3a583 411px,#e6866a 416px,#e48066 423px,#cf5246 432px,#bb2a34 437px,#b72230 446px,#ba2832 457px,#c84440 460px,#de735c 464px,#e48065 469px,#e98b6e 482px,#ee9777 494px,#ec9273 528px,#e58368 540px,#e17a61 546px,#c13639 553px,#bb2a34 558px,#be3036 568px,#cb4942 571px,#e7876b 576px,#ee9677 582px,#f8bb9e 625px,#f8bfa4 677px,#f8bfa4 678px,#fff 679px,#fff 831px)"></div>
<div style="top:249px;height:3px;background:linear-gradient(90deg,#fddbc7 0px,#fbccb4 27px,#f8bb9e 91px,#f5ac8c 101px,#e37e64 123px,#c53e3d 146px,#b92631 168px,#b72230 193px,#c13739 198px,#df765e 206px,#ed987a 218px,#f7b697 239px,#f4a887 253px,#ef9979 269px,#e68469 302px,#de725b 305px,#b82531 310px,#b0172b 313px,#b41c2d 323px,#ce4f45 330px,#ea8e70 357px,#f5af8f 365px,#ef9a7b 376px,#f6b192 383px,#ef997a 394px,#f5af8f 401px,#ef9a79 408px,#e48065 415px,#e48065 423px,#cf5246 432px,#bc2c35 437px,#b82431 443px,#ba2832 457px,#c6413e 460px,#dc6e58 464px,#e27b62 471px,#e37d63 528px,#e17860 545px,#d35a4a 549px,#bf3338 553px,#ba2832 561px,#be2f36 568px,#cf5347 572px,#e48066 576px,#ea8e70 582px,#f6af8e 614px,#f8bea2 635px,#f8bfa4 678px,#fff 679px,#fff 831px)"></div>
<div style="top:252px;height:3px;background:linear-gradient(90deg,#fddbc7 0px,#facab1 31px,#f8bb9e 88px,#f09c7c 93px,#e58267 97px,#c03539 127px,#b72330 152px,#b72330 197px,#e0775e 238px,#e7886b 262px,#ea8f71 285px,#e37f65 303px,#d86450 306px,#ba2832 310px,#b2192b 313px,#b41b2d 322px,#cc4c44 329px,#e27b62 350px,#e17a61 361px,#e8896c 367px,#e17a61 378px,#e8896d 384px,#e17a61 396px,#e8896d 403px,#de735c 413px,#e58368 421px,#d6604d 430px,#bd2d35 437px,#b82531 444px,#ba2832 457px,#cc4c44 461px,#dc6e58 465px,#de735c 482px,#dd7059 545px,#cb4a43 550px,#bd2d35 554px,#bb2a34 567px,#c7433f 571px,#e17860 576px,#e6866a 582px,#ee9677 599px,#f8bda0 633px,#f8bfa3 678px,#fff 679px,#fff 831px)"></div>
<div style="top:255px;height:3px;background:linear-gradient(90deg,#fddbc7 0px,#facab1 31px,#f8bb9e 87px,#f5a987 90px,#d55e4d 95px,#ca4841 98px,#b92631 120px,#b6212f 200px,#c2383a 233px,#cb4a43 254px,#e68569 277px,#e68569 296px,#e0775e 304px,#d05447 307px,#ba2833 310px,#b3192c 314px,#b61f2e 322px,#ce4f45 329px,#e17860 350px,#dc6e57 362px,#df745c 371px,#db6d57 378px,#df745c 389px,#db6d57 396px,#de735c 406px,#db6c56 413px,#e48066 421px,#db6b55 428px,#c6413e 434px,#ba2832 439px,#ba2832 457px,#cb4942 461px,#d86550 464px,#dc6e57 472px,#da6954 540px,#d7634f 546px,#bc2b34 554px,#bc2c35 568px,#cb4a43 572px,#df765e 577px,#ec9374 602px,#f8bb9e 633px,#f8bda1 678px,#fff 679px,#fff 831px)"></div>
<div style="top:258px;height:3px;background:linear-gradient(90deg,#fddbc7 0px,#facab1 31px,#f7b99c 87px,#f4a482 90px,#d25849 94px,#be3137 97px,#b82531 104px,#b6212f 220px,#bd2e35 257px,#d76350 275px,#e58167 286px,#e27c62 302px,#db6d57 305px,#bb2a34 310px,#b41c2d 314px,#b72230 322px,#cc4c44 328px,#e17860 350px,#da6853 362px,#db6c56 414px,#e48065 422px,#d6604d 430px,#bd2d35 437px,#b82531 446px,#ba2832 457px,#d7634f 465px,#d55d4c 545px,#ca4842 549px,#bb2a34 554px,#bb2a34 568px,#ce5045 573px,#dc6e57 577px,#e58368 597px,#f7b99c 631px,#f8bda1 678px,#fff 679px,#fff 831px)"></div>
<div style="top:261px;height:3px;background:linear-gradient(90deg,#fddbc7 0px,#facab1 31px,#f7b799 87px,#f2a17f 90px,#d05548 94px,#bd2d35 97px,#b72230 102px,#b72330 260px,#c3393b 274px,#df765e 289px,#e17960 302px,#db6b55 305px,#bc2b34 310px,#b51e2e 314px,#b82431 322px,#ce4f45 329px,#e17860 350px,#d7634f 363px,#d96652 414px,#e37e64 422px,#d35a4a 431px,#bd2d35 437px,#b82531 451px,#bd2d35 458px,#d05548 464px,#d45c4b 472px,#cf5347 538px,#ce5146 546px,#ba2833 554px,#bb2933 568px,#cb4a43 573px,#d86551 577px,#e37e64 598px,#f7b89a 631px,#f8bda0 678px,#fff 679px,#fff 831px)"></div>
<div style="top:264px;height:3px;background:linear-gradient(90deg,#fddbc7 0px,#fac8af 34px,#f7b697 87px,#f2a17f 90px,#d05548 94px,#bd2d35 97px,#b72230 102px,#b82431 272px,#c53d3d 283px,#dd6f59 296px,#de735c 303px,#d55e4c 306px,#bd2d35 310px,#b6212f 314px,#b92631 322px,#ce4f45 329px,#e0775e 349px,#d05548 367px,#d55d4c 413px,#e17a61 422px,#d86551 429px,#bd2d35 437px,#ba2832 454px,#bb2a34 458px,#cd4d44 465px,#c94641 539px,#c7423f 547px,#b82531 555px,#bb2a34 569px,#d7634f 578px,#df765e 597px,#f7b698 631px,#f8bb9e 678px,#fff 679px,#fff 831px)"></div>
<div style="top:267px;height:3px;background:linear-gradient(90deg,#fddbc7 0px,#fac8af 34px,#f7b495 87px,#f19e7d 90px,#c84440 95px,#ba2833 98px,#b61f2e 121px,#b72330 279px,#c03438 288px,#da6a55 301px,#d86550 305px,#ba2833 311px,#b72330 320px,#bf3338 324px,#ce4f45 329px,#df765e 349px,#c84440 367px,#cd4d44 378px,#c84440 386px,#ce5045 396px,#c94741 405px,#d45c4b 417px,#df765e 422px,#da6853 428px,#c6413e 434px,#bb2933 439px,#bb2a34 458px,#c53e3d 466px,#c13639 540px,#bf3338 548px,#b72330 557px,#ba2832 569px,#d35a4a 578px,#e17860 602px,#f7b596 632px,#f8bb9e 678px,#fff 679px,#fff 831px)"></div>
<div style="top:270px;height:3px;background:linear-gradient(90deg,#fddbc7 0px,#f9c6ac 38px,#f6b192 87px,#f19d7c 90px,#c84540 95px,#bb2a34 98px,#b72230 112px,#b82431 285px,#c2383a 295px,#d35a4a 304px,#cc4c44 307px,#bb2a34 311px,#b92732 321px,#ce5146 330px,#df755d 349px,#c03438 367px,#c43b3c 374px,#c53e3d 378px,#bf3338 385px,#c84440 395px,#c13639 403px,#ce4f45 417px,#dc6e57 422px,#da6a55 427px,#c6413e 434px,#bc2c35 438px,#bc2b34 460px,#bd2e35 481px,#bb2933 544px,#b72230 566px,#c03438 572px,#d25849 579px,#e0775e 604px,#f6b394 631px,#f8bb9e 678px,#fff 679px,#fff 831px)"></div>
<div style="top:273px;height:3px;background:linear-gradient(90deg,#fddbc7 0px,#f6b293 75px,#f6af8f 87px,#f09c7b 90px,#c94741 95px,#bd2d35 98px,#b72230 111px,#b82431 284px,#c43b3c 301px,#c84440 306px,#ba2833 312px,#bc2b34 322px,#ce5146 329px,#dd715a 348px,#d7624f 353px,#c03438 362px,#ba2832 371px,#bb2933 380px,#bb2a34 400px,#c03438 414px,#d76450 423px,#d3594a 429px,#bd2d35 438px,#b51e2e 537px,#b92732 569px,#d05447 580px,#df745c 605px,#f6b191 631px,#f7b99c 678px,#fff 679px,#fff 831px)"></div>
<div style="top:276px;height:3px;background:linear-gradient(90deg,#fddbc7 0px,#f5ae8d 79px,#f5a987 88px,#e98b6e 91px,#ca4842 95px,#be2f36 98px,#b72230 112px,#b82431 282px,#c13639 296px,#bd2e35 310px,#bb2a34 321px,#d15648 330px,#db6b55 348px,#ce5045 354px,#bc2c35 361px,#b72330 373px,#ba2832 414px,#cd4e45 423px,#c53e3d 432px,#bd2d35 440px,#b41c2d 491px,#b51e2e 555px,#bc2b34 570px,#cf5246 581px,#dd715a 606px,#f6af8e 631px,#f7b99c 678px,#fff 679px,#fff 831px)"></div>
<div style="top:279px;height:3px;background:linear-gradient(90deg,#fddbc7 0px,#f7b596 60px,#f5ab8a 82px,#f4a784 88px,#e88a6e 91px,#cb4a43 95px,#be3137 98px,#b72230 111px,#b72230 280px,#c6403e 294px,#bc2b34 306px,#bd2d35 322px,#d15749 329px,#d7634f 347px,#c94741 354px,#b92732 361px,#b72230 413px,#c13739 425px,#b92732 445px,#b2192b 504px,#b51e2e 560px,#c03539 572px,#d05548 583px,#da6853 601px,#ed9576 621px,#f6af8e 632px,#f7b89b 678px,#fff 679px,#fff 831px)"></div>
<div style="top:282px;height:3px;background:linear-gradient(90deg,#fddbc7 0px,#f7b799 56px,#f4a785 78px,#f3a481 88px,#e8896c 91px,#cc4c44 95px,#be3036 99px,#b72230 114px,#b72230 279px,#ca4842 294px,#ba2832 307px,#bd2d35 322px,#d25849 329px,#d35a4a 347px,#b82531 361px,#b61f2e 411px,#b92631 428px,#b0172b 529px,#b61f2e 563px,#d05548 584px,#de735c 608px,#f5ac8b 631px,#f7b799 678px,#fff 679px,#fff 831px)"></div>
<div style="top:285px;height:6px;background:linear-gradient(90deg,#fddcc9 0px,#f8bb9e 52px,#f3a481 76px,#f2a07e 88px,#e8896c 91px,#ce4f45 95px,#bf3237 99px,#b72230 114px,#b72230 279px,#cd4e44 293px,#c53d3d 300px,#ba2933 307px,#be3036 323px,#d15648 329px,#d05548 346px,#b72330 361px,#b1182b 555px,#bd2e35 570px,#d05548 585px,#e27c62 613px,#f5ab8a 631px,#f7b799 678px,#fff 679px,#fff 831px)"></div>
<div style="top:291px;height:6px;background:linear-gradient(90deg,#fdddca 0px,#f8bda0 51px,#f2a17f 73px,#f09d7c 88px,#e7866a 91px,#cf5146 95px,#c03438 99px,#b72230 113px,#b72230 278px,#c53e3d 287px,#ce5146 294px,#c2373a 302px,#bb2a34 308px,#bd2e35 323px,#d05447 330px,#cc4d44 347px,#b82330 360px,#b1182b 556px,#bd2d35 570px,#cf5246 584px,#e37e64 615px,#f5aa88 632px,#f7b596 678px,#fff 679px,#fff 831px)"></div>
<div style="top:297px;height:3px;background:linear-gradient(90deg,#fdddcb 0px,#f8bda1 51px,#f2a17f 72px,#f09c7b 88px,#e6866a 91px,#cf5246 95px,#c2383a 98px,#b82531 109px,#b61f2e 213px,#b72230 278px,#c53e3d 287px,#cf5246 293px,#c6413e 300px,#bb2a34 307px,#bd2e35 324px,#ce5045 330px,#cc4b43 346px,#b72230 360px,#b1182b 557px,#bd2d35 570px,#cf5246 585px,#e48066 617px,#f5a886 631px,#f7b495 678px,#fff 679px,#fff 831px)"></div>
<div style="top:300px;height:3px;background:linear-gradient(90deg,#fdddcb 0px,#f8bfa4 50px,#f2a17f 71px,#f09c7b 88px,#e6866a 91px,#cf5246 95px,#c2383a 98px,#b72230 112px,#b72230 278px,#c63f3d 287px,#cf5246 293px,#c7433f 300px,#bb2a34 307px,#bd2e35 325px,#cd4d44 331px,#cb4a43 345px,#b72230 360px,#b1182b 557px,#be3036 571px,#cf5246 585px,#e37e64 616px,#f5a886 632px,#f6b394 678px,#fff 679px,#fff 831px)"></div>
<div style="top:303px;height:3px;background:linear-gradient(90deg,#fcdecc 0px,#f8bfa4 50px,#f2a17f 71px,#f09c7b 88px,#e17860 92px,#c94741 96px,#bf3338 100px,#b72230 114px,#b72230 278px,#c43b3c 286px,#cf5246 293px,#cc4c44 298px,#bb2a34 307px,#bb2a34 325px,#cc4c44 333px,#c94741 346px,#b72230 359px,#b1182b 556px,#bd2d35 570px,#cf5246 586px,#e48066 617px,#f4a784 632px,#f6b394 678px,#fff 679px,#fff 831px)"></div>
<div style="top:306px;height:6px;background:linear-gradient(90deg,#fcdfcd 0px,#f9c0a5 50px,#f2a17f 71px,#ef9979 88px,#e68469 91px,#cf5246 95px,#c13639 99px,#b82330 115px,#b72230 278px,#c43b3c 286px,#cf5246 293px,#cb4942 299px,#bb2a34 307px,#bc2b34 327px,#cc4c44 335px,#c6413e 347px,#b72230 360px,#b1182b 555px,#bd2d35 570px,#cf5246 586px,#e58368 618px,#f4a683 631px,#f6b292 678px,#fff 679px,#fff 831px)"></div>
<div style="top:312px;height:3px;background:linear-gradient(90deg,#fcdfcf 0px,#f9c4a9 48px,#f2a17f 71px,#ef9979 88px,#e0775f 92px,#ca4842 96px,#c03438 101px,#b92732 121px,#b61f2e 240px,#b82531 280px,#cf5246 292px,#cc4c44 298px,#bb2a34 308px,#ba2832 327px,#cc4c44 335px,#c84440 346px,#b72230 359px,#b31a2c 557px,#bf3338 572px,#cf5347 586px,#e58368 618px,#f4a683 633px,#f6b191 678px,#fff 679px,#fff 831px)"></div>
<div style="top:315px;height:3px;background:linear-gradient(90deg,#fce0d0 0px,#f9c6ac 47px,#f2a17f 71px,#ee9677 88px,#e58167 91px,#cf5246 95px,#c2383a 100px,#bc2b34 122px,#b6212f 161px,#b72230 278px,#c43b3c 286px,#d05548 294px,#c7433f 301px,#bb2a34 308px,#ba2832 327px,#cc4c44 335px,#c84440 346px,#b82531 358px,#b41b2d 555px,#be3036 570px,#d05548 586px,#e6866a 619px,#f4a683 633px,#f6b191 678px,#fff 679px,#fff 831px)"></div>
<div style="top:318px;height:3px;background:linear-gradient(90deg,#fce1d1 0px,#fac8af 46px,#f2a17f 71px,#ee9677 88px,#df745c 92px,#cb4942 96px,#c2383a 104px,#ba2832 150px,#b61f2e 181px,#b72230 278px,#d05548 294px,#c84440 301px,#bb2a34 309px,#ba2832 327px,#cc4c44 335px,#c94741 345px,#b82531 359px,#b51e2e 555px,#c03539 571px,#d25849 587px,#e8896c 620px,#f3a481 632px,#f6af8e 678px,#fff 679px,#fff 831px)"></div>
<div style="top:321px;height:3px;background:linear-gradient(90deg,#fce2d2 0px,#fac8af 47px,#f2a17f 71px,#ee9777 87px,#e37e64 91px,#cc4c44 96px,#c43b3c 103px,#bd2d35 148px,#b61f2e 165px,#b82431 278px,#c6413e 287px,#d05548 293px,#cb4942 300px,#bc2b34 308px,#ba2833 328px,#ce4f45 336px,#c6413e 347px,#ba2832 359px,#b82531 558px,#c6403e 574px,#d35a4a 589px,#e98b6e 621px,#f3a481 632px,#f6af8e 678px,#fff 679px,#fff 831px)"></div>
<div style="top:324px;height:6px;background:linear-gradient(90deg,#fbe3d4 0px,#facab1 46px,#f2a17f 71px,#ec9374 88px,#d45c4b 94px,#c84440 98px,#c3393b 129px,#be3036 148px,#b72230 162px,#b72230 277px,#c53e3d 286px,#d05548 293px,#cb4942 300px,#bd2d35 308px,#ba2832 328px,#ce4f45 336px,#c84440 346px,#bc2c35 358px,#bc2c34 560px,#d86551 595px,#eb9172 624px,#f3a481 633px,#f5ae8d 678px,#fff 679px,#fff 831px)"></div>
<div style="top:330px;height:8px;background:linear-gradient(90deg,#fbe5d7 0px,#fbceb6 44px,#f2a17f 72px,#ec9374 88px,#d86551 93px,#cc4c44 96px,#c6413e 103px,#c13639 145px,#b72230 161px,#b72230 277px,#c43b3c 285px,#d25749 294px,#c84340 302px,#bc2c34 310px,#b92531 328px,#ce4f45 336px,#c94540 345px,#be3036 357px,#be3036 561px,#d96652 594px,#ec9374 625px,#f3a481 636px,#f5ac8b 678px,#fff 679px,#fff 831px)"></div>
</div>
<div class="hm" style="left:1186px;top:910px;width:831px;height:338px">
<div style="top:0px;height:12px;background:linear-gradient(90deg,#fae9df 0px,#fbe6da 295px,#fcdfcf 306px,#fbd0b9 315px,#fcd7c2 321px,#fbe5d8 330px,#fae9df 440px,#fbe6da 678px,#fff 679px,#fff 831px)"></div>
<div style="top:12px;height:12px;background:linear-gradient(90deg,#fae9df 0px,#fbe6da 295px,#fcdfcf 306px,#fbd1ba 315px,#fddcc9 323px,#fbe6da 333px,#fae9df 425px,#fbe6da 678px,#fff 679px,#fff 831px)"></div>
<div style="top:24px;height:3px;background:linear-gradient(90deg,#fae9df 0px,#fbe6da 295px,#fcdfcf 306px,#fcd5bf 316px,#fbe6da 333px,#f9ece4 402px,#fbe6da 545px,#fbe6da 678px,#fff 679px,#fff 831px)"></div>
<div style="top:27px;height:3px;background:linear-gradient(90deg,#fae9df 0px,#fbe6da 295px,#fcdfcd 307px,#fddac5 319px,#fbe6da 334px,#f9ede6 400px,#fbe6da 518px,#fbe6da 678px,#fff 679px,#fff 831px)"></div>
<div style="top:30px;height:3px;background:linear-gradient(90deg,#fae9df 0px,#fbe6da 295px,#fcdfcd 314px,#fce0d0 325px,#fae7dc 345px,#f9eee7 393px,#fbe6da 528px,#fbe6da 678px,#fff 679px,#fff 831px)"></div>
<div style="top:33px;height:3px;background:linear-gradient(90deg,#fae9df 0px,#fbe6da 295px,#fce2d2 311px,#fbe3d5 318px,#fce2d3 326px,#f9eee8 388px,#fbe6da 506px,#fbe6da 678px,#fff 679px,#fff 831px)"></div>
<div style="top:36px;height:3px;background:linear-gradient(90deg,#fae9df 0px,#fbe6da 289px,#fbe4d6 310px,#f9ebe3 316px,#fce2d3 325px,#f9efe9 389px,#fbe6d9 495px,#fbe6d9 678px,#fff 679px,#fff 831px)"></div>
<div style="top:39px;height:6px;background:linear-gradient(90deg,#fae9de 0px,#fbe5d8 288px,#fbe5d8 309px,#f8f2ee 316px,#fbe3d4 324px,#f9efe9 391px,#fbe5d8 498px,#fbe5d8 678px,#fff 679px,#fff 831px)"></div>
<div style="top:45px;height:3px;background:linear-gradient(90deg,#fae8de 0px,#fbe5d8 300px,#fbe4d6 309px,#f9efea 316px,#fce2d3 325px,#f9efe9 390px,#fae8de 451px,#fbe5d8 678px,#fff 679px,#fff 831px)"></div>
<div style="top:48px;height:3px;background:linear-gradient(90deg,#fae8de 0px,#fbe5d8 300px,#fce2d3 310px,#fae8dd 317px,#fce1d1 325px,#f9efe9 388px,#fae8de 449px,#fbe5d8 678px,#fff 679px,#fff 831px)"></div>
<div style="top:51px;height:3px;background:linear-gradient(90deg,#fae8de 0px,#fbe5d8 300px,#fcdecd 312px,#fce0cf 325px,#fbe6da 342px,#f9efe9 395px,#fae8de 441px,#fbe5d8 678px,#fff 679px,#fff 831px)"></div>
<div style="top:54px;height:3px;background:linear-gradient(90deg,#fae8de 0px,#fbe5d8 301px,#fcd5bf 314px,#fddbc8 323px,#fbe6da 334px,#f9efe9 396px,#fbe6da 451px,#fbe4d6 678px,#fff 679px,#fff 831px)"></div>
<div style="top:57px;height:3px;background:linear-gradient(90deg,#fae7dc 0px,#fbe5d7 302px,#fac8af 314px,#fbcdb5 320px,#fbe6d9 330px,#f9eee8 395px,#fbe5d9 461px,#fbe4d6 678px,#fff 679px,#fff 831px)"></div>
<div style="top:60px;height:3px;background:linear-gradient(90deg,#fae7dc 0px,#fbe6d9 302px,#fbcfb8 309px,#f8bda1 315px,#facab1 321px,#fbe4d6 328px,#fae9df 342px,#f9eee7 404px,#fae7dc 439px,#fbe5d8 462px,#fbe4d6 678px,#fff 679px,#fff 831px)"></div>
<div style="top:63px;height:3px;background:linear-gradient(90deg,#fae7dc 0px,#fae9df 281px,#fae8dd 301px,#fdd8c3 307px,#f7b99c 313px,#f7b99c 318px,#fbe3d4 327px,#faebe2 336px,#f9ebe3 410px,#fbe4d6 461px,#fbe4d6 678px,#fff 679px,#fff 831px)"></div>
<div style="top:66px;height:3px;background:linear-gradient(90deg,#fae7dc 0px,#fae9df 276px,#faeae0 301px,#fcd7c2 307px,#f6b394 313px,#f6b394 318px,#fbe3d5 327px,#f9ece4 334px,#f9ebe3 410px,#fbe3d4 459px,#fbe4d6 678px,#fff 679px,#fff 831px)"></div>
<div style="top:69px;height:3px;background:linear-gradient(90deg,#fae7dc 0px,#fae9df 274px,#f9ede6 299px,#fce0d0 305px,#f6b293 312px,#f5aa89 316px,#f7b799 320px,#fce0d0 326px,#f9ede6 332px,#f9ebe3 410px,#fbe3d4 459px,#fbe3d5 678px,#fff 679px,#fff 831px)"></div>
<div style="top:72px;height:9px;background:linear-gradient(90deg,#fbe6da 0px,#fae8dd 270px,#f8f0ec 298px,#fbe5d9 304px,#facbb3 308px,#f5a987 313px,#f4a784 317px,#f8ba9d 321px,#fce1d2 326px,#f9efe9 331px,#f9eee7 353px,#faeae1 411px,#fbe3d4 460px,#fbe3d4 678px,#fff 679px,#fff 831px)"></div>
<div style="top:81px;height:3px;background:linear-gradient(90deg,#fbe6da 0px,#fae7dc 269px,#f8f2ef 295px,#faeae1 303px,#fbceb6 308px,#f6af8f 312px,#f4a784 316px,#f7b495 320px,#fbe3d4 326px,#f8f0eb 331px,#f9f0eb 351px,#f9ede5 371px,#faeae1 411px,#fbe3d4 460px,#fbe3d4 678px,#fff 679px,#fff 831px)"></div>
<div style="top:84px;height:3px;background:linear-gradient(90deg,#fbe6da 0px,#fae7dc 269px,#f8f3f0 296px,#faebe3 303px,#fbd0b9 308px,#f6af8e 313px,#f5ac8b 317px,#f8bfa4 321px,#fbe4d6 326px,#f8f2ef 332px,#f9eee7 356px,#faeae1 411px,#fbe3d4 460px,#fce2d3 678px,#fff 679px,#fff 831px)"></div>
<div style="top:87px;height:3px;background:linear-gradient(90deg,#fbe5d9 0px,#fae7dc 270px,#f8f3f0 294px,#f9eee8 302px,#fddcc8 307px,#f7b89a 312px,#f6b191 316px,#f8bda1 320px,#fbe5d8 326px,#f8f2ef 332px,#f9efe9 354px,#f9ede6 372px,#faeae1 411px,#fbe3d5 460px,#fce2d2 678px,#fff 679px,#fff 831px)"></div>
<div style="top:90px;height:3px;background:linear-gradient(90deg,#fbe5d8 0px,#fbe6da 268px,#f8f3f0 293px,#f9efe9 302px,#fdd8c3 308px,#f8bb9e 313px,#f7b799 317px,#fbd0b9 322px,#f9ede5 328px,#f8f3f0 336px,#f9ede5 370px,#faeae1 410px,#fbe5d8 461px,#fce2d2 678px,#fff 679px,#fff 831px)"></div>
<div style="top:93px;height:3px;background:linear-gradient(90deg,#fbe5d8 0px,#fae7db 269px,#f8f3f0 291px,#f9efea 302px,#fddcc9 308px,#f9c2a7 313px,#f8bfa4 317px,#fbceb7 321px,#f9ede6 328px,#f8f3f0 337px,#f9eee7 359px,#faeae0 415px,#fbe6da 483px,#fce1d1 503px,#fce1d1 678px,#fff 679px,#fff 831px)"></div>
<div style="top:96px;height:3px;background:linear-gradient(90deg,#fbe5d8 0px,#fbe6da 269px,#f8f3f0 289px,#f9f0eb 302px,#fac7ae 314px,#fbcdb5 319px,#f9f0eb 329px,#f8f3f0 354px,#faebe2 366px,#faebe3 450px,#fae9df 483px,#fce0d0 495px,#fce0d0 678px,#fff 679px,#fff 831px)"></div>
<div style="top:99px;height:3px;background:linear-gradient(90deg,#fbe5d8 0px,#fbe6da 269px,#f8f3f0 289px,#f9efea 303px,#fcd3bd 315px,#fcdecc 321px,#f8f2ee 330px,#f8f1ed 357px,#faeae1 367px,#f9ece4 482px,#fce0d0 493px,#fce0d0 678px,#fff 679px,#fff 831px)"></div>
<div style="top:102px;height:3px;background:linear-gradient(90deg,#fbe4d7 0px,#fbe5d8 268px,#f8f3f0 288px,#f9efea 304px,#fce0cf 315px,#faebe2 324px,#f8f3f0 334px,#f9f0eb 358px,#faeae1 366px,#f9eee8 480px,#fce0d0 494px,#fcdfcf 678px,#fff 679px,#fff 831px)"></div>
<div style="top:105px;height:3px;background:linear-gradient(90deg,#fbe4d6 0px,#fbe6d9 269px,#f8f3f0 288px,#f9f0eb 306px,#fae9df 317px,#f8f3f0 335px,#f8f1ec 357px,#faeae0 366px,#f9efe9 413px,#f9eee7 482px,#fce0d0 492px,#fcdfcf 678px,#fff 679px,#fff 831px)"></div>
<div style="top:108px;height:6px;background:linear-gradient(90deg,#fbe4d6 0px,#fbe5d8 269px,#f8f3f0 288px,#f8f2ee 324px,#f8f1ed 356px,#fae9df 365px,#faebe3 404px,#f8f1ed 429px,#f9efe9 482px,#fcdfcf 492px,#fcdecd 678px,#fff 679px,#fff 831px)"></div>
<div style="top:114px;height:3px;background:linear-gradient(90deg,#fbe4d6 0px,#fbe4d6 268px,#f8f3f0 288px,#f8f2ee 355px,#fae8de 365px,#f9ece4 398px,#f9ede6 411px,#f8f3f0 422px,#f9f0eb 482px,#fcdfcf 491px,#fcdecc 678px,#fff 679px,#fff 831px)"></div>
<div style="top:117px;height:3px;background:linear-gradient(90deg,#fbe3d5 0px,#fbe5d7 269px,#f7f5f4 291px,#f8f3f0 353px,#fae8de 364px,#f9ebe3 401px,#f9ece4 411px,#f7f5f4 418px,#f8f2ef 480px,#fcdfcf 490px,#fdddcb 678px,#fff 679px,#fff 831px)"></div>
<div style="top:120px;height:3px;background:linear-gradient(90deg,#fbe3d4 0px,#fbe4d6 269px,#f5f6f7 291px,#f2f5f6 349px,#fae7dc 364px,#f9ebe3 393px,#faebe2 411px,#f7f6f6 418px,#f8f4f2 479px,#fcdfcf 490px,#fdddcb 678px,#fff 679px,#fff 831px)"></div>
<div style="top:123px;height:3px;background:linear-gradient(90deg,#fbe3d4 0px,#fbe3d5 268px,#f4f6f6 290px,#e9f1f4 295px,#ecf2f5 348px,#f8f2ef 353px,#fae7dc 363px,#f9ebe3 398px,#faeae1 412px,#f7f6f6 418px,#f8f4f2 479px,#fcdecd 490px,#fddcc9 678px,#fff 679px,#fff 831px)"></div>
<div style="top:126px;height:3px;background:linear-gradient(90deg,#fbe3d4 0px,#fbe3d4 268px,#f3f5f6 289px,#e3eef3 293px,#e8f0f4 348px,#f8f3f0 352px,#fbe6da 363px,#f9ebe3 393px,#fae9de 412px,#f6f7f7 419px,#f8f4f2 479px,#fcdfce 489px,#fddcc9 678px,#fff 679px,#fff 831px)"></div>
<div style="top:129px;height:3px;background:linear-gradient(90deg,#fbe3d4 0px,#fbe3d5 269px,#f7f7f6 288px,#deebf2 292px,#e1edf3 347px,#f8f4f2 351px,#fbe6da 362px,#f9ebe3 396px,#fae8dd 413px,#f5f6f7 419px,#f7f6f5 478px,#fcdecd 489px,#fddcc8 678px,#fff 679px,#fff 831px)"></div>
<div style="top:132px;height:3px;background:linear-gradient(90deg,#fce2d2 0px,#fbe3d4 269px,#f6f7f7 288px,#d8e9f1 292px,#d8e9f1 346px,#f7f6f6 350px,#fbe6da 360px,#faeae1 400px,#fbe6d9 413px,#f5f6f7 419px,#f6f6f7 477px,#fcdfcd 488px,#fddbc7 532px,#fddbc7 678px,#fff 679px,#fff 831px)"></div>
<div style="top:135px;height:3px;background:linear-gradient(90deg,#fce2d2 0px,#fbe2d4 269px,#f2f5f6 289px,#d0e4f0 293px,#d1e5f0 345px,#f8f4f2 350px,#fbe5d7 360px,#fae9df 394px,#fbe5d7 414px,#f7f7f7 419px,#f0f4f6 429px,#f5f6f7 477px,#fcdfce 487px,#fddac6 515px,#fddbc7 678px,#fff 679px,#fff 831px)"></div>
<div style="top:138px;height:3px;background:linear-gradient(90deg,#fce2d2 0px,#fce2d3 270px,#f3f5f6 289px,#c5dfec 293px,#c4deec 344px,#f7f5f4 349px,#fbe4d6 358px,#fae7dc 397px,#fce2d2 414px,#f9eee7 418px,#f5f6f7 420px,#eef3f5 430px,#f2f5f6 476px,#fdddcb 488px,#fdd9c4 527px,#fdd9c4 678px,#fff 679px,#fff 831px)"></div>
<div style="top:141px;height:3px;background:linear-gradient(90deg,#fce2d2 0px,#fce2d2 271px,#f8f2ef 287px,#f3f5f6 289px,#b8d8e9 293px,#b6d7e8 343px,#cce2ef 345px,#f6f6f6 348px,#fbe3d4 356px,#fbe5d7 372px,#fcdfcf 415px,#f9eee7 419px,#f4f5f6 421px,#ebf1f5 427px,#eff3f5 475px,#f8f2ee 478px,#fcdecd 486px,#fcd7c2 507px,#fdd9c4 678px,#fff 679px,#fff 831px)"></div>
<div style="top:144px;height:3px;background:linear-gradient(90deg,#fce1d2 0px,#fcdfcd 255px,#fbe5d8 279px,#f3f5f6 289px,#d1e5f0 291px,#b9d9e9 292px,#a7d0e4 294px,#a9d1e4 342px,#c1ddeb 344px,#f6f6f6 347px,#fbe4d7 353px,#fcdecd 362px,#fdddca 416px,#f9ede5 420px,#f4f5f6 422px,#e9f1f4 426px,#ecf2f5 474px,#f8f3f0 477px,#fcdecc 485px,#fcd7c2 502px,#fcd7c2 678px,#fff 679px,#fff 831px)"></div>
<div style="top:147px;height:3px;background:linear-gradient(90deg,#fce0d0 0px,#fcdfce 252px,#fbe3d4 279px,#f8f2ef 288px,#ebf1f5 290px,#a7d0e4 293px,#99c9e0 295px,#9bcae1 341px,#b7d8e8 343px,#e7eff4 345px,#f5f5f5 346px,#fce1d1 352px,#fdd9c4 362px,#fcd4be 382px,#fcd3bd 415px,#fbe4d7 420px,#f4f5f6 423px,#e7eff4 427px,#e9f0f4 473px,#f7f5f4 476px,#fce0d0 482px,#fcd5bf 498px,#fcd7c2 678px,#fff 679px,#fff 831px)"></div>
<div style="top:150px;height:3px;background:linear-gradient(90deg,#fce0d0 0px,#fcdfce 250px,#fce0d0 280px,#f9efe9 288px,#f1f4f6 290px,#deebf2 291px,#a2cde3 293px,#8ac0db 295px,#8bc1dc 340px,#96c7df 341px,#e5eef4 344px,#f5f5f4 345px,#fcdfcf 350px,#fbd2bb 357px,#f9c4a9 398px,#fbcfb8 417px,#fce2d2 421px,#f5f5f6 424px,#e6eff4 427px,#e9f1f4 473px,#f7f6f5 475px,#fce2d2 480px,#fcd5bf 493px,#fcd5c0 678px,#fff 679px,#fff 831px)"></div>
<div style="top:153px;height:3px;background:linear-gradient(90deg,#fce0d0 0px,#fcdfce 248px,#fcdfcf 282px,#f9efea 289px,#f6f6f5 290px,#e8f0f4 291px,#cfe4ef 292px,#8ac0db 294px,#75b2d4 296px,#75b2d4 338px,#87beda 340px,#e3eef3 343px,#f6f4f4 344px,#fcdfcf 348px,#facbb3 354px,#f7ba9d 394px,#f9c4aa 417px,#fcd7c2 421px,#f6f5f4 425px,#e3eef3 428px,#e6eff4 472px,#f5f6f6 474px,#fce0cf 479px,#fcd4be 489px,#fcd5bf 678px,#fff 679px,#fff 831px)"></div>
<div style="top:156px;height:3px;background:linear-gradient(90deg,#fce0d0 0px,#fcdfcd 247px,#fcdecd 284px,#f9f0eb 290px,#f4f5f6 291px,#e0ecf3 292px,#74b2d4 295px,#65a9cf 296px,#5fa5cd 311px,#62a7ce 337px,#68abd0 338px,#7cb7d6 339px,#cae1ee 341px,#e8f0f4 342px,#f7f2ef 343px,#fcdfcf 346px,#fac8af 351px,#f6b394 385px,#f7b99c 415px,#fac9b0 421px,#fae9df 425px,#f7f4f1 426px,#dfecf3 429px,#e1edf3 471px,#f2f5f6 473px,#fcdecb 478px,#fbd2bb 486px,#fcd4be 678px,#fff 679px,#fff 831px)"></div>
<div style="top:159px;height:3px;background:linear-gradient(90deg,#fcdfcf 0px,#fcdfce 245px,#fddcc9 285px,#faebe2 290px,#f0f4f6 292px,#d7e8f1 293px,#79b5d5 295px,#5ca3cb 296px,#4c99c6 298px,#4491c2 309px,#4491c2 319px,#4c99c6 331px,#509bc8 336px,#5aa1cb 337px,#73b1d3 338px,#cbe2ee 340px,#ebf1f5 341px,#f9f0eb 342px,#fcd3bd 346px,#f8bfa3 351px,#f6af8e 381px,#f6b394 415px,#f8bda0 421px,#fbd0b9 424px,#f8f1ed 427px,#eff3f6 428px,#d9e9f1 431px,#ddebf2 470px,#f0f4f6 472px,#fcdfcd 476px,#fbd0b9 482px,#fcd3bc 678px,#fff 679px,#fff 831px)"></div>
<div style="top:162px;height:3px;background:linear-gradient(90deg,#fcdfcf 0px,#fcdfcd 244px,#fdd9c4 285px,#fae9df 291px,#edf2f5 293px,#d1e5ef 294px,#6fafd2 296px,#519cc8 297px,#4393c3 299px,#3b88bd 305px,#1b5897 311px,#195694 316px,#2f78b5 321px,#408fc1 325px,#4494c3 334px,#4a98c5 335px,#5ca3cb 336px,#7fb9d8 337px,#dae9f1 339px,#f3f2f1 340px,#fcd3bc 344px,#f8bda1 348px,#f5ae8d 367px,#f6af8f 417px,#f8bb9e 423px,#fcd3bd 426px,#f3f3f3 429px,#d5e7f1 432px,#d7e8f1 469px,#f8f4f1 472px,#fddcc9 475px,#fbccb4 480px,#fcd3bc 633px,#fcd3bc 678px,#fff 679px,#fff 831px)"></div>
<div style="top:165px;height:3px;background:linear-gradient(90deg,#fcdfcf 0px,#fcdfce 242px,#fcd6c1 286px,#fae8dd 292px,#f0f3f4 294px,#d7e8f1 295px,#7eb8d7 297px,#5ba2cb 298px,#4393c3 300px,#3884bb 303px,#256bac 305px,#0c3d73 308px,#053162 311px,#063365 318px,#0c3d73 320px,#256bac 323px,#3e8cbf 326px,#4a98c5 333px,#5aa1cb 334px,#79b5d6 335px,#cfe4ef 337px,#ecf0f2 338px,#f9ede6 339px,#facbb2 343px,#f7b799 347px,#f5a987 372px,#f5ad8c 420px,#f7ba9d 425px,#facab1 427px,#f7f1ee 430px,#dae9f2 432px,#c9e1ee 435px,#cbe2ee 467px,#ecf2f5 470px,#f8f2ef 471px,#fcd9c4 474px,#facab1 478px,#fbd0b9 608px,#fbd0b9 678px,#fff 679px,#fff 831px)"></div>
<div style="top:168px;height:3px;background:linear-gradient(90deg,#fcdfcf 0px,#fcdfcd 241px,#fcd4be 287px,#fbe5d7 293px,#f6f2ef 295px,#e6eff4 296px,#c4deec 297px,#68abd0 299px,#4b98c6 300px,#2b73b3 303px,#1e5fa2 304px,#09386d 306px,#053061 308px,#053162 321px,#09386d 322px,#1e5fa2 324px,#3682ba 326px,#4292c2 329px,#4b98c6 331px,#5ba2cb 332px,#79b5d6 333px,#d0e4ef 335px,#ecf0f1 336px,#f9ede6 337px,#fac9b0 341px,#f7b596 345px,#f4a784 367px,#f5aa89 422px,#f7b99c 427px,#fbceb7 429px,#f9ede5 431px,#eef2f4 432px,#bedbeb 435px,#b5d7e8 442px,#b5d7e8 464px,#c4deec 467px,#e9f0f4 469px,#f8f2ef 470px,#fcdecb 472px,#facab1 475px,#fac7ae 483px,#fbd0b9 577px,#fbd0b9 678px,#fff 679px,#fff 831px)"></div>
<div style="top:171px;height:3px;background:linear-gradient(90deg,#fcdfce 0px,#fcdfcd 240px,#fcd3bc 289px,#fbe5d9 295px,#f2f2f3 297px,#d9e9f1 298px,#add3e6 299px,#4996c5 301px,#266caf 303px,#0d3f76 305px,#053061 306px,#053061 322px,#185594 324px,#256baf 325px,#4392c2 328px,#4e9ac7 329px,#83bbd9 331px,#d3e6f0 333px,#eeeff0 334px,#fce1d2 336px,#f9c0a5 340px,#f6af8e 345px,#f3a481 370px,#f5a886 424px,#f6b394 428px,#f9c4aa 430px,#f6efeb 433px,#e6eff4 434px,#b8d8e9 436px,#a5cfe4 438px,#8ec2dd 455px,#a9d1e5 465px,#b7d8e9 466px,#e7f0f4 468px,#f8f1ee 469px,#fddbc7 471px,#fac7ad 474px,#fac7ae 486px,#fbceb7 580px,#fbceb7 678px,#fff 679px,#fff 831px)"></div>
<div style="top:174px;height:3px;background:linear-gradient(90deg,#fcdecd 0px,#fcdfce 236px,#fbd0b9 291px,#fcdfcf 296px,#f9eee8 298px,#ebf0f2 299px,#cbe2ee 300px,#5aa0ca 302px,#327cb7 303px,#1d5ea1 304px,#10447d 305px,#073466 306px,#073466 322px,#2971b2 325px,#4996c5 327px,#6aacd0 328px,#c4deec 330px,#e6edf2 331px,#fbe5d8 333px,#f9c2a7 337px,#f5ac8b 343px,#f2a17f 367px,#f4a683 426px,#f6b394 430px,#f9c6ac 432px,#fbe6da 434px,#f1f1f0 435px,#b8d8e9 437px,#9fcbe2 438px,#8ac0db 440px,#74b2d4 446px,#4f99c6 452px,#529bc7 456px,#84bcd9 463px,#acd2e5 465px,#ecf2f5 467px,#f9ede6 468px,#fcd5c0 470px,#f9c4a9 473px,#f9c4aa 484px,#fbceb7 570px,#fbceb7 678px,#fff 679px,#fff 831px)"></div>
<div style="top:177px;height:3px;background:linear-gradient(90deg,#fcdecd 0px,#fcdfce 232px,#fbceb7 294px,#fce2d3 299px,#f0efee 301px,#d3e6ef 302px,#9cc8e0 303px,#5a9ec9 304px,#2d74b0 305px,#0d4077 307px,#073467 308px,#053162 319px,#0c3e75 321px,#2266a6 323px,#3780ba 324px,#5ca0ca 325px,#bbd9e9 327px,#dbe7ed 328px,#f0edeb 329px,#fbdcca 331px,#f8bfa4 334px,#f5aa89 340px,#f19e7d 367px,#f3a481 428px,#f6b192 432px,#fac7ad 434px,#fae9df 436px,#ebeff1 437px,#a3cee3 439px,#81bad8 440px,#62a7ce 442px,#2e77b5 450px,#2469aa 453px,#2970b0 456px,#4895c4 461px,#579fca 462px,#75b2d4 463px,#d1e5f0 465px,#f1f2f3 466px,#fcdcc9 468px,#fac8af 470px,#f8bda0 474px,#fac9b0 508px,#fbcdb5 678px,#fff 679px,#fff 831px)"></div>
<div style="top:180px;height:3px;background:linear-gradient(90deg,#fcdecd 0px,#fcdfce 228px,#facbb2 291px,#fbcfb8 299px,#fbdfd0 302px,#f8e9e1 303px,#e8eaeb 304px,#c6dfeb 305px,#619eca 307px,#276aa3 309px,#17508a 311px,#0f437b 315px,#1a5690 318px,#3678af 320px,#5193c3 321px,#cbdfe9 324px,#e8e8e8 325px,#fadccb 327px,#f8bda1 330px,#f4a685 335px,#ef9b7a 367px,#f2a07e 429px,#f5ab8a 433px,#f9c5ab 436px,#f9eae2 438px,#e8edf1 439px,#6daed1 442px,#4493c3 444px,#2368ad 449px,#144c88 452px,#114882 454px,#1c5da0 457px,#3f8dc0 461px,#65a9cf 462px,#d5e7f0 464px,#f4f2f0 465px,#fbccb4 468px,#f8bb9e 472px,#fac8af 512px,#fbccb4 678px,#fff 679px,#fff 831px)"></div>
<div style="top:183px;height:3px;background:linear-gradient(90deg,#fcdecd 0px,#fcdfce 224px,#fbd0b9 279px,#f9c1a6 303px,#f8cdb8 306px,#e2d8d4 309px,#a5c6d9 314px,#abc8da 316px,#dbd8d6 319px,#f6c9b4 322px,#f3aa8c 325px,#ec9374 331px,#ee9878 409px,#f2a17f 433px,#f6af8f 436px,#f9c4aa 438px,#fae8de 440px,#eceeee 441px,#cde3ee 442px,#6cadd1 444px,#4895c4 445px,#2368ad 449px,#144c88 452px,#144c88 455px,#246aae 458px,#428fc1 460px,#73b1d3 461px,#b2d5e7 462px,#e2edf3 463px,#f7efea 464px,#fac8af 467px,#f7b99c 470px,#facab1 534px,#fbccb4 678px,#fff 679px,#fff 831px)"></div>
<div style="top:186px;height:3px;background:linear-gradient(90deg,#fdddcb 0px,#fce1d2 129px,#fdddca 243px,#f9c5ab 294px,#f6b293 301px,#ee9777 304px,#d86654 307px,#d0554b 309px,#d76556 315px,#ca4843 321px,#dd6f59 329px,#ed9576 353px,#ef9979 433px,#f5ac8b 438px,#f9c0a5 440px,#fbe4d7 442px,#efeeed 443px,#cfe4ee 444px,#6eaed2 446px,#4a95c4 447px,#3885bc 448px,#2267aa 452px,#2469ab 455px,#327cb7 457px,#4790c2 458px,#6eadd1 459px,#a7cfe4 460px,#d7e7f0 461px,#f2f0ee 462px,#fcd8c4 464px,#f9c2a7 466px,#f7b596 469px,#f9c6ac 517px,#fbccb4 678px,#fff 679px,#fff 831px)"></div>
<div style="top:189px;height:3px;background:linear-gradient(90deg,#fdddcb 0px,#fce1d2 123px,#fce2d2 192px,#fdd8c3 256px,#f9c4a9 294px,#f6b293 300px,#ec9273 303px,#ca4841 306px,#af1a2c 308px,#970f27 310px,#970f27 320px,#b31c2d 323px,#cd4e45 327px,#dd7059 337px,#eb9172 351px,#ec9374 438px,#f2a383 441px,#f9c0a5 443px,#f6e3d9 445px,#e7e8e8 446px,#cbe1ed 447px,#83bad8 449px,#569cc8 451px,#4a93c3 453px,#5299c6 454px,#83bad8 456px,#d2e3ec 458px,#eceae9 459px,#fad7c4 461px,#f8bda1 463px,#f6af8e 466px,#f9c1a6 502px,#fac9b0 572px,#facbb3 678px,#fff 679px,#fff 831px)"></div>
<div style="top:192px;height:3px;background:linear-gradient(90deg,#fdddcb 0px,#fce2d2 115px,#fbe5d8 172px,#fcd6c1 259px,#f9c2a7 294px,#f5ae8d 300px,#f09c7b 302px,#de735c 304px,#b41c2d 307px,#8e0d25 309px,#7c0722 312px,#800823 319px,#9a1027 322px,#bd2d35 325px,#ce4f45 329px,#ea8d70 350px,#ea8e70 428px,#db6c57 442px,#e17961 444px,#ec987d 446px,#f7d1bf 449px,#e4dfdc 452px,#e9ddd7 454px,#f7d2bf 456px,#ed9b7f 459px,#e68469 461px,#e88a6e 464px,#f5aa89 469px,#f8bda0 492px,#fac8af 560px,#facab1 678px,#fff 679px,#fff 831px)"></div>
<div style="top:195px;height:3px;background:linear-gradient(90deg,#fdddcb 0px,#fce2d3 106px,#fae8de 166px,#fdddcb 231px,#f9c5ab 291px,#f6b192 299px,#ee9677 302px,#dc6e57 304px,#b1182b 307px,#8a0b25 309px,#770522 313px,#7d0722 319px,#960f27 322px,#b31a2c 324px,#c63f3d 327px,#d86551 336px,#e88a6e 350px,#ea8d70 427px,#d7634f 437px,#c13739 442px,#c13639 445px,#da6a57 452px,#d45e4f 455px,#c53e3d 459px,#ca4841 462px,#ec9273 467px,#f4a785 470px,#f6b394 479px,#fac7ae 550px,#facab1 678px,#fff 679px,#fff 831px)"></div>
<div style="top:198px;height:3px;background:linear-gradient(90deg,#fddcc9 0px,#fbe3d5 98px,#faebe3 162px,#fbe3d4 197px,#fddcc9 237px,#f8bfa4 294px,#f5a987 300px,#e48066 303px,#ae172a 307px,#870a24 309px,#760521 312px,#7c0722 319px,#930e26 322px,#b1182b 324px,#c84440 328px,#da6853 337px,#e8896c 350px,#e98b6e 427px,#d25849 437px,#ba2832 442px,#b51e2e 446px,#b92631 455px,#b82431 460px,#bf3338 462px,#da6853 465px,#ed9576 468px,#f5ab8a 472px,#f8bda0 505px,#f9c6ac 560px,#facab1 678px,#fff 679px,#fff 831px)"></div>
<div style="top:201px;height:3px;background:linear-gradient(90deg,#fddcc9 0px,#fce0d0 64px,#f9ede6 162px,#faeae0 194px,#fcdecd 209px,#fcd6c1 254px,#f8bfa4 293px,#f6af8e 299px,#eb9172 302px,#da6853 304px,#ae172a 307px,#870a24 309px,#740421 313px,#7c0722 319px,#930e26 322px,#b1182b 324px,#c43b3c 327px,#d6604d 334px,#e6866a 349px,#e98b6e 427px,#d05447 437px,#b61f2e 443px,#b31a2c 457px,#b82531 461px,#ce5045 464px,#ec9273 468px,#f5a987 472px,#f8bb9e 504px,#f9c5ab 559px,#fac9b0 678px,#fff 679px,#fff 831px)"></div>
<div style="top:204px;height:3px;background:linear-gradient(90deg,#fddcc9 0px,#fcdfce 49px,#faeae0 77px,#f9efe9 82px,#fae9df 99px,#f9eee8 176px,#f7f3f1 194px,#fce0cf 205px,#fcd5c0 253px,#f8bda1 294px,#f5a886 300px,#e37f65 303px,#af172a 307px,#890b24 309px,#760521 312px,#790622 318px,#870a24 321px,#b1182b 324px,#c84440 328px,#db6b55 338px,#e68469 349px,#eb9172 372px,#e98c6f 412px,#e8896c 423px,#e6866a 428px,#d35a4a 436px,#b82531 442px,#b41b2d 450px,#b61f2e 460px,#c53e3d 463px,#eb9072 468px,#f4a784 472px,#f7b99c 505px,#f9c4a9 555px,#fac8af 678px,#fff 679px,#fff 831px)"></div>
<div style="top:207px;height:3px;background:linear-gradient(90deg,#fddcc8 0px,#fcdfce 46px,#faebe2 74px,#f1f3f4 77px,#c9e1ed 81px,#d9e9f1 85px,#f3f2f1 92px,#f9ede6 113px,#f8f2ee 182px,#eaf1f5 188px,#e1edf3 193px,#f7f4f2 198px,#fbe3d4 204px,#fdddca 227px,#fcd5bf 255px,#f8bb9e 295px,#f5a886 300px,#ec9374 302px,#ce5146 305px,#b2192b 307px,#8c0c25 309px,#770522 313px,#7c0722 319px,#940e26 322px,#b1182b 324px,#c84440 328px,#da6853 337px,#e58368 349px,#ea8e70 356px,#f4a786 366px,#f3a584 384px,#f3a381 407px,#e6866a 420px,#e8896c 427px,#d35a4a 436px,#b72230 443px,#b41c2d 458px,#b92631 461px,#ce4f45 464px,#ea8e70 468px,#f4a583 472px,#f7b99c 511px,#f9c3a8 557px,#fac8af 678px,#fff 679px,#fff 831px)"></div>
<div style="top:210px;height:3px;background:linear-gradient(90deg,#fddbc7 0px,#fcdecd 43px,#faeae1 66px,#f9f0eb 74px,#ebf1f5 76px,#d8e9f1 77px,#79b5d5 80px,#66a9cf 81px,#63a7ce 83px,#d8e8f1 97px,#f6f3f1 105px,#f9efe9 127px,#f8f1ed 180px,#f2f5f6 184px,#bbdaea 192px,#cce2ee 195px,#f7f4f3 200px,#fbe3d5 205px,#fcdecb 228px,#fcd5bf 255px,#f9c2a7 285px,#f7b799 297px,#f3a280 301px,#e6866a 303px,#b61f2e 307px,#910d26 309px,#7d0722 312px,#7c0722 318px,#970f27 322px,#b3192c 324px,#c84440 328px,#da6853 337px,#e58167 348px,#eb9072 355px,#f9c5ab 365px,#f9c1a6 370px,#f7b799 376px,#f8bda1 382px,#fac7ae 387px,#f7b799 395px,#f9c5ab 404px,#ef9b7a 414px,#e68469 420px,#e6866a 428px,#d35a4a 436px,#b72230 443px,#b51d2d 458px,#be3036 462px,#dd715a 466px,#f09c7b 470px,#f5aa89 479px,#f9c2a7 548px,#fac7ae 673px,#fac8af 678px,#fff 679px,#fff 831px)"></div>
<div style="top:213px;height:3px;background:linear-gradient(90deg,#fddbc7 0px,#fcdecd 42px,#f9ede6 64px,#f8f0eb 73px,#eff3f6 75px,#deebf2 76px,#c2ddec 77px,#71b0d3 79px,#549dc9 80px,#4392c3 81px,#4391c2 87px,#5ba2cb 93px,#a0cbe2 101px,#e2edf3 108px,#f7f3f1 115px,#f9ede6 143px,#f8f1ed 180px,#eef3f5 184px,#d3e6f0 187px,#9ccae1 191px,#9bcae1 193px,#bfdceb 196px,#f2f5f6 200px,#fbe4d7 206px,#fdd8c3 252px,#f9c4a9 276px,#f7b99c 296px,#f4a482 301px,#e88a6e 303px,#c6413e 306px,#b92631 307px,#a9152a 308px,#8b0c25 310px,#7d0722 314px,#820923 319px,#9b1127 322px,#bb2a34 325px,#cc4c44 329px,#e37e64 345px,#e8896c 353px,#f5ac8b 358px,#fcdbc7 364px,#fcdfcd 368px,#fac8af 375px,#fbd0b9 381px,#fce0d0 386px,#fcd8c4 390px,#fac8af 395px,#fcddca 404px,#facbb3 408px,#ec9374 416px,#e58368 421px,#e68569 428px,#d35a4a 436px,#ba2832 442px,#b51e2e 449px,#b72230 460px,#c53e3d 463px,#e88a6e 468px,#f3a481 473px,#f9c2a7 549px,#fac7ad 676px,#fac8af 678px,#fff 679px,#fff 831px)"></div>
<div style="top:216px;height:3px;background:linear-gradient(90deg,#fddbc7 0px,#fddcc9 39px,#f9eee8 62px,#f8f2ef 73px,#f7f6f6 74px,#dbeaf2 76px,#63a7ce 80px,#4a97c5 82px,#3f8ec1 89px,#4e9ac7 100px,#78b5d5 106px,#cae1ed 114px,#ebf1f4 121px,#f9eee8 134px,#f9eee8 179px,#eff3f5 184px,#d2e6f0 187px,#9ac9e0 191px,#99c9e0 193px,#add3e6 195px,#dbeaf2 198px,#f7f5f4 201px,#fbe6da 206px,#fddcca 250px,#f9c4a9 273px,#f7b99c 296px,#f4a784 301px,#ea8f71 303px,#ca4842 306px,#b0172b 308px,#910d26 310px,#800823 315px,#8b0c25 320px,#b6202f 324px,#ca4841 328px,#de735c 341px,#e8896c 353px,#f4a785 357px,#fce0cf 363px,#fae8dd 366px,#fcdecc 371px,#fbcfb8 376px,#fddbc7 381px,#fae8dd 386px,#fcdecc 391px,#fbd2bb 395px,#fcdfce 400px,#fbe5d9 404px,#fdd8c3 408px,#f19d7c 415px,#e6866a 419px,#e58368 428px,#d35a4a 436px,#ba2832 442px,#b61f2e 449px,#b72230 460px,#c53e3d 463px,#e8896c 468px,#f2a17f 473px,#f8bfa4 547px,#f9c4aa 664px,#f9c6ac 678px,#fff 679px,#fff 831px)"></div>
<div style="top:219px;height:3px;background:linear-gradient(90deg,#fdd9c4 0px,#fddcc9 40px,#f9eee8 60px,#f8f2ef 74px,#e5eff4 77px,#74b2d4 86px,#4f9ac7 91px,#4393c3 99px,#58a0ca 109px,#e0ecf3 131px,#f8f1ed 142px,#faebe2 165px,#f9efea 181px,#eef3f5 185px,#b9d9e9 191px,#bedbeb 194px,#f5f6f6 200px,#fae8dd 206px,#fce2d2 246px,#f9c4a9 271px,#f7b99c 296px,#f5a886 301px,#e58167 304px,#b41c2d 308px,#8f0d25 311px,#850a24 316px,#910d26 320px,#b1182b 323px,#c84440 327px,#db6b55 338px,#e37f65 348px,#e7876b 353px,#f5aa88 357px,#fcdfcd 362px,#f9ebe3 366px,#fce2d2 371px,#fbd2bb 376px,#fddbc8 380px,#f9ebe3 386px,#fce2d2 391px,#fcd5c0 395px,#fae9df 403px,#fce1d1 407px,#f19d7c 415px,#e58167 420px,#e58368 428px,#d35a4a 436px,#bb2933 442px,#b61f2e 449px,#b82531 460px,#be3036 462px,#e6866a 468px,#ef9b7a 472px,#f8bda1 536px,#f9c5ab 671px,#f9c6ac 678px,#fff 679px,#fff 831px)"></div>
<div style="top:222px;height:3px;background:linear-gradient(90deg,#fdd9c4 0px,#fddbc7 39px,#f9eee7 59px,#f3f1ef 81px,#ddeaf1 86px,#9bc8e0 92px,#62a7ce 97px,#4c99c6 103px,#579fca 116px,#75b2d4 125px,#dfebf2 144px,#f7f1ed 157px,#fae9df 178px,#f2f3f3 187px,#e1edf3 192px,#f7f3f1 199px,#fae8de 207px,#fbe5d7 246px,#f9c6ac 268px,#f7b99c 296px,#f5aa89 301px,#ee9777 303px,#dd7059 305px,#b72330 308px,#9d1128 310px,#8b0c25 314px,#910d26 319px,#b6202f 323px,#ca4841 327px,#e37e64 346px,#e6866a 353px,#f5aa89 357px,#fddbc7 361px,#f9ebe3 365px,#faeae1 369px,#fcd3bc 376px,#fce0cf 381px,#f9ede6 386px,#fbe3d5 391px,#fcd7c2 396px,#faeae1 403px,#fbe3d4 407px,#f7b99c 412px,#ec9374 416px,#e48066 420px,#e58368 428px,#d35a4a 436px,#bb2a34 442px,#b6212f 449px,#b82531 460px,#c43b3c 463px,#e17860 467px,#ed9576 471px,#f7b596 521px,#f8bea2 550px,#f9c3a8 661px,#f9c6ac 678px,#fff 679px,#fff 831px)"></div>
<div style="top:225px;height:3px;background:linear-gradient(90deg,#fdd8c3 0px,#fddbc7 40px,#f9ede6 59px,#faeae0 76px,#fad1bc 84px,#fadccb 88px,#ececec 93px,#c8e0ed 97px,#73b1d3 105px,#579fca 111px,#5aa1cb 121px,#83bcd9 137px,#e6eff4 163px,#f7f2ef 171px,#fae7db 177px,#fbdece 185px,#faddcd 190px,#fae8de 206px,#fae7dc 245px,#f9c6ac 267px,#f7b99c 296px,#f5ac8b 301px,#e88a6e 304px,#c6413e 307px,#b0172b 309px,#940e26 312px,#930e26 318px,#b41c2d 322px,#c94641 326px,#e27c62 346px,#e68469 353px,#f5aa89 357px,#fddcc9 361px,#f9ede5 365px,#faeae1 369px,#fcd3bc 376px,#fdddcb 380px,#f9eee7 386px,#fbe4d6 391px,#fdd9c4 396px,#f9ebe3 404px,#fcdecd 408px,#f09c7b 415px,#e48066 419px,#e68469 425px,#e27b62 430px,#d35a4a 436px,#bb2a34 442px,#b72230 449px,#b82531 460px,#c43b3c 463px,#e0775e 467px,#ec9273 471px,#f8bda1 541px,#f9c2a7 664px,#f9c4aa 678px,#fff 679px,#fff 831px)"></div>
<div style="top:228px;height:3px;background:linear-gradient(90deg,#fcd7c2 0px,#fdd9c4 39px,#faebe3 60px,#fae8dd 73px,#fcdac7 77px,#ea8e72 83px,#e58267 86px,#f1a587 91px,#f8e5da 99px,#e0eaef 104px,#7fb9d7 114px,#69abd0 120px,#76b3d4 136px,#b6d7e8 163px,#cde3ef 169px,#f6f5f4 173px,#fbe6d9 176px,#fcddca 181px,#f8bfa4 184px,#ed987b 187px,#e7886d 190px,#eb9477 194px,#f7b698 197px,#fcdbc8 200px,#fbe6da 204px,#fae9de 245px,#f9c5ab 268px,#f7b99c 296px,#f5a886 302px,#ea8f71 304px,#ca4841 307px,#b41b2d 309px,#9a1027 312px,#981027 318px,#b1182b 321px,#c7433f 325px,#e27b62 345px,#e37f65 352px,#f09c7b 356px,#fddcc8 361px,#f9ede5 365px,#faeae1 369px,#fcd3bc 376px,#fdddcb 380px,#f9eee7 386px,#fbe4d6 391px,#fcd7c2 396px,#f9ebe3 403px,#fbe3d4 407px,#f9c2a7 411px,#ef9979 415px,#e48065 419px,#e58368 425px,#e27b62 430px,#d35a4a 436px,#bb2a34 442px,#b72230 451px,#b92631 460px,#c43b3c 463px,#e37e64 468px,#ec9374 473px,#f6b192 522px,#f8bda1 547px,#f8bfa4 652px,#f9c4a9 678px,#fff 679px,#fff 831px)"></div>
<div style="top:231px;height:3px;background:linear-gradient(90deg,#fcd7c2 0px,#fcd7c2 39px,#fae8de 59px,#fbe4d7 71px,#fcd8c3 74px,#f5b091 77px,#d76351 81px,#c6403e 84px,#c6403e 88px,#e17a61 96px,#f9cbb5 106px,#efe9e5 112px,#c7e0ec 119px,#91c3dd 132px,#89bfdb 144px,#aed3e6 168px,#bedbeb 170px,#edf2f5 173px,#f8f3f0 174px,#fce0d0 177px,#fcd6c1 180px,#f5ae8d 183px,#da6954 186px,#c7423f 189px,#c6403e 192px,#ce5146 194px,#e0775e 196px,#f8bda0 199px,#fddbc7 201px,#fbe5d8 205px,#fae9df 245px,#f9c6ac 266px,#f7b99c 296px,#f5aa88 302px,#ec9374 304px,#c03539 308px,#ad162a 310px,#9b1127 314px,#a31329 319px,#b41b2d 321px,#c94641 325px,#e27b62 346px,#e58167 353px,#f4a785 357px,#fddac6 361px,#f9ebe3 365px,#faeae0 369px,#fcd3bc 376px,#fce0cf 381px,#f9ede6 386px,#fbe3d5 391px,#fcd7c2 395px,#fce0d0 399px,#faeae1 403px,#fbe2d4 407px,#f9c2a7 411px,#ef9979 415px,#e37e64 419px,#e48065 424px,#e37e64 429px,#d35a4a 436px,#bc2c35 442px,#b82431 448px,#bb2a34 461px,#cb4942 464px,#e27b62 468px,#eb9072 474px,#f2a07e 503px,#f8bc9f 544px,#f8bda1 641px,#f9c4a9 678px,#fff 679px,#fff 831px)"></div>
<div style="top:234px;height:3px;background:linear-gradient(90deg,#fcd5bf 0px,#fcd5c0 40px,#fbe4d7 60px,#fce0d0 69px,#fbceb7 72px,#f1a080 75px,#d6614f 78px,#c03438 81px,#b72230 85px,#be2f36 94px,#df765e 108px,#f3b399 117px,#f7dcce 125px,#eaeae9 132px,#c8e0ed 141px,#b4d6e8 156px,#bbdaea 169px,#ddebf2 172px,#f8f2ef 174px,#fcdbc8 177px,#f9c5ab 180px,#f4a786 182px,#d55e4d 185px,#c2383a 187px,#b82531 190px,#be2f36 193px,#cc4c44 195px,#e48065 197px,#f9c6ac 200px,#fddcc9 202px,#fbe3d5 207px,#fae9df 244px,#fbceb7 260px,#f9c2a7 273px,#f8bb9e 295px,#f5aa89 302px,#ed9576 304px,#c3393b 308px,#b2192b 310px,#a11328 313px,#a31329 318px,#b6202f 321px,#ca4841 325px,#e27b62 346px,#e27c62 352px,#ef9979 356px,#f8bda0 359px,#fcdecd 362px,#faebe3 366px,#fbe5d8 370px,#fbd1ba 376px,#fddac6 380px,#f9ebe3 386px,#fce2d2 391px,#fcd5bf 395px,#fae9df 404px,#fddcc9 408px,#ee9677 415px,#e27c62 419px,#e37e64 424px,#e48066 428px,#d7634f 435px,#bd2d35 442px,#b82531 449px,#bb2a34 461px,#cb4942 464px,#e17860 468px,#e88a6e 473px,#ef9b7a 501px,#f8bb9e 543px,#f8bc9f 632px,#f9c2a7 678px,#fff 679px,#fff 831px)"></div>
<div style="top:237px;height:3px;background:linear-gradient(90deg,#fcd5bf 0px,#fcd4be 42px,#fcdfce 60px,#fcdbc8 67px,#fac7ae 70px,#ee9878 73px,#d15749 76px,#bd2e35 79px,#b51e2e 83px,#b82431 100px,#cc4c44 117px,#e5846a 129px,#f8cdb9 143px,#f3e5de 155px,#ededec 170px,#fae8dd 173px,#f8bfa3 177px,#f3a585 180px,#c84440 185px,#b72330 188px,#b72330 192px,#c03539 194px,#d55d4c 196px,#f5ab8a 199px,#facbb2 201px,#fdddcb 204px,#fae9de 242px,#fddac6 255px,#f9c4a9 266px,#f7b99c 297px,#f5ac8b 302px,#ee9777 304px,#c53d3d 308px,#b41c2d 310px,#a31329 315px,#ac162a 319px,#b82431 321px,#cb4942 325px,#e27b62 346px,#e37e64 353px,#f3a280 357px,#fddac6 362px,#fae8dd 366px,#fcdecc 371px,#fbcfb8 376px,#fcd6c1 380px,#fae8dd 386px,#fcdecc 391px,#fbd1ba 395px,#fbe5d9 404px,#fcd7c2 408px,#ed9576 415px,#e27b62 419px,#e37e64 424px,#e48066 428px,#d7634f 435px,#bd2d35 442px,#b82531 454px,#bc2b34 461px,#d05548 465px,#df765e 468px,#e7886b 473px,#eb9072 495px,#f8bb9e 544px,#f7ba9d 621px,#f9c2a7 678px,#fff 679px,#fff 831px)"></div>
<div style="top:240px;height:3px;background:linear-gradient(90deg,#fcd3bd 0px,#fbd1ba 43px,#fcd7c2 62px,#fbceb7 66px,#f7b596 69px,#e37d63 72px,#c7423f 75px,#b82531 78px,#b41c2d 87px,#b82431 119px,#cc4d45 139px,#db6d59 150px,#efa085 170px,#da6b56 180px,#b92631 186px,#b41c2d 191px,#bd2d35 194px,#d86451 197px,#f3a484 200px,#f9c2a7 203px,#fcd9c4 212px,#fae7dc 239px,#fcdecc 252px,#f9c4a9 265px,#f8bb9e 295px,#f5ac8b 302px,#ef9979 304px,#c6413e 308px,#b6202f 310px,#aa152a 313px,#aa152a 318px,#b92732 321px,#ce4f45 326px,#e17860 345px,#e27c62 353px,#f5a886 358px,#fcdbc8 364px,#fcdfcf 368px,#fac9b0 376px,#fbd2bb 381px,#fce0d0 386px,#fcd6c1 391px,#facbb3 395px,#fcd7c2 400px,#fcdecd 404px,#fbceb7 408px,#ec9374 415px,#e17860 419px,#e27c62 424px,#e37e64 429px,#d05548 437px,#bd2d35 442px,#ba2832 459px,#c43b3c 463px,#de735c 468px,#e68469 473px,#e98b6e 495px,#f8bb9e 542px,#f7b89a 611px,#f9c2a7 678px,#fff 679px,#fff 831px)"></div>
<div style="top:243px;height:3px;background:linear-gradient(90deg,#fcd3bc 0px,#fbceb7 50px,#fbccb4 62px,#f7b99c 66px,#ea8d70 69px,#ce5146 72px,#bb2a34 75px,#b41c2d 80px,#b61f2e 137px,#c53d3d 170px,#c03438 180px,#b3192c 188px,#b82531 194px,#ce5045 198px,#e48066 202px,#f7b89b 214px,#fcdbc9 229px,#fbe3d5 244px,#fcd3bc 256px,#f9c2a7 268px,#f8bb9e 295px,#f5ac8b 302px,#ef9a79 304px,#c84440 308px,#b82431 310px,#ad162a 313px,#ae172a 318px,#ba2833 321px,#cc4c44 325px,#e17860 345px,#e17960 353px,#f4a684 359px,#fac9b0 365px,#fac9b0 369px,#f8bc9f 377px,#fbccb4 387px,#f8bda1 396px,#fac9b0 404px,#f6b293 410px,#e37e64 417px,#df745c 421px,#e48066 428px,#d35a4a 436px,#bf3338 441px,#ba2832 447px,#bd2d35 461px,#cf5347 465px,#e0775e 469px,#e58167 479px,#e68569 494px,#f7b99c 541px,#f7b799 615px,#f9c0a5 678px,#fff 679px,#fff 831px)"></div>
<div style="top:246px;height:3px;background:linear-gradient(90deg,#fbd1ba 0px,#f9c5ab 60px,#f7b495 64px,#e98b6e 67px,#ce5146 70px,#bb2a34 73px,#b41c2d 78px,#b41c2d 162px,#b41c2d 194px,#e27c62 217px,#fbd1ba 238px,#fcdbc8 247px,#f9c2a7 267px,#f8bb9e 294px,#f5ac8b 302px,#f09c7b 304px,#c94741 308px,#b92732 310px,#b1182b 313px,#b31a2c 319px,#cc4c44 325px,#e17860 345px,#df755d 353px,#f4aa89 367px,#f1a181 381px,#f4aa89 389px,#f2a281 399px,#f4a787 406px,#eb9072 412px,#de735c 418px,#e17960 424px,#e48066 428px,#d35a4a 436px,#be3036 442px,#ba2832 454px,#bd2d35 461px,#cf5246 465px,#de735c 469px,#e37d63 476px,#e37f65 493px,#f7b99c 541px,#f7b596 608px,#f8bfa4 678px,#fff 679px,#fff 831px)"></div>
<div style="top:249px;height:3px;background:linear-gradient(90deg,#fbd0b9 0px,#f8bfa3 59px,#f6b090 62px,#e7886b 65px,#c6413e 69px,#b82531 72px,#b3192c 81px,#b41c2d 199px,#c2383a 217px,#de735c 232px,#f7b89b 245px,#f9c6ac 253px,#f7b99c 296px,#f5ac8b 302px,#f09c7b 304px,#cb4942 308px,#bb2933 310px,#b1182b 314px,#b41c2d 319px,#cc4c44 325px,#e17860 345px,#dd7059 354px,#e58167 365px,#e68469 375px,#e27c62 381px,#e8896c 388px,#e27c62 399px,#e7876b 406px,#e17860 412px,#db6c56 418px,#e48066 427px,#d7634f 435px,#be3036 442px,#bb2a34 459px,#bf3338 462px,#da6a55 468px,#e17960 474px,#e27c62 493px,#f7b89b 541px,#f7b596 608px,#f8bfa4 678px,#fff 679px,#fff 831px)"></div>
<div style="top:252px;height:3px;background:linear-gradient(90deg,#fbd0b9 0px,#fac7ad 37px,#f8bb9e 57px,#f5ae8d 60px,#e7886b 63px,#ce5146 66px,#bc2b34 69px,#b41c2d 73px,#b1182b 197px,#b92631 225px,#c94641 237px,#f4aa8a 256px,#f8bda0 264px,#f7b99c 295px,#f5ac8b 302px,#f09c7b 304px,#cb4a43 308px,#bc2c35 310px,#b31a2c 314px,#b61f2e 319px,#cc4c44 325px,#e0775e 345px,#da6853 362px,#dd715a 373px,#dc6e58 383px,#db6c56 395px,#dc6e57 411px,#da6954 419px,#e37e64 428px,#d7624e 435px,#be3036 442px,#bb2a34 459px,#c3393b 463px,#d96753 468px,#df755d 474px,#e17860 493px,#f7b799 540px,#f6b394 606px,#f8bfa3 678px,#fff 679px,#fff 831px)"></div>
<div style="top:255px;height:3px;background:linear-gradient(90deg,#fbceb7 0px,#fbceb7 20px,#fcd7c3 27px,#f9c6ac 37px,#f8bb9e 55px,#f3a583 59px,#d86451 63px,#c13739 66px,#b6202f 69px,#b3192c 93px,#b2192b 204px,#b82531 238px,#c84540 249px,#de735c 256px,#f4a988 263px,#f8bb9e 270px,#f7b99c 294px,#f5aa89 302px,#e98b6e 305px,#cc4c44 308px,#b92631 311px,#b41c2d 317px,#be3036 321px,#ce4f45 326px,#df765e 344px,#d86550 362px,#d96753 419px,#e37e64 427px,#da6853 434px,#bf3237 442px,#bb2a34 456px,#bf3338 462px,#da6853 469px,#dd715a 480px,#df755d 493px,#f7b799 540px,#f6b394 608px,#f8bda1 678px,#fff 679px,#fff 831px)"></div>
<div style="top:258px;height:3px;background:linear-gradient(90deg,#fbceb7 0px,#fbcfb8 18px,#fbe5d8 26px,#fcd5bf 32px,#f9c4a9 37px,#f7b799 54px,#ee9878 58px,#c84440 63px,#b92631 66px,#b3192c 74px,#b1182b 206px,#b72330 248px,#c2383a 255px,#df745c 262px,#f4a887 268px,#f8bb9e 275px,#f7b799 295px,#f5aa89 302px,#e8896d 305px,#cd4d44 308px,#ba2833 311px,#b51e2e 317px,#be3036 321px,#ce4f45 326px,#df765e 344px,#d7634f 360px,#d86551 419px,#e37e64 427px,#da6853 434px,#bf3338 442px,#bd2d35 459px,#c2383a 463px,#d86550 469px,#db6d57 479px,#de725b 493px,#f7b799 540px,#f6b293 603px,#f8bda1 678px,#fff 679px,#fff 831px)"></div>
<div style="top:261px;height:3px;background:linear-gradient(90deg,#fbcdb5 0px,#fbccb4 17px,#fae9df 24px,#fae7dc 29px,#f9c6ac 36px,#f7b799 52px,#f3a381 55px,#c84440 61px,#b92631 64px,#b3192c 72px,#b1182b 208px,#b72230 255px,#c43c3c 261px,#e0775e 267px,#f4a887 273px,#f7b89b 280px,#f7b697 295px,#f5a886 302px,#e8896c 305px,#ce4f45 308px,#bb2a34 311px,#b6202f 317px,#bf3338 321px,#cf5246 327px,#df765e 345px,#d7634f 358px,#d96652 420px,#e37e64 428px,#d6604d 435px,#bf3338 442px,#bd2d35 460px,#ca4841 465px,#d86450 470px,#dc6e58 493px,#f7b596 540px,#f6b192 605px,#f8bda0 678px,#fff 679px,#fff 831px)"></div>
<div style="top:264px;height:3px;background:linear-gradient(90deg,#fbccb4 0px,#fbccb4 18px,#fbe6da 24px,#fbe5d9 29px,#f9c2a7 36px,#f7b495 50px,#f2a281 53px,#c84440 59px,#b92631 62px,#b3192c 70px,#b1182b 209px,#b6212f 258px,#c13739 264px,#e58368 273px,#f3a685 279px,#f7b799 289px,#f5aa88 301px,#ed9475 304px,#cd4d44 308px,#bb2a34 311px,#b82431 318px,#ce4f45 326px,#df765e 345px,#d6604d 358px,#d86550 420px,#e27c62 428px,#da6853 434px,#bf3338 442px,#be3036 461px,#d65f4d 470px,#db6b55 493px,#f7b596 540px,#f6b191 608px,#f8bb9e 678px,#fff 679px,#fff 831px)"></div>
<div style="top:267px;height:3px;background:linear-gradient(90deg,#fbccb4 0px,#f9c6ac 14px,#f8bfa3 19px,#fbd6c1 25px,#fbd2bb 29px,#f6b394 35px,#f3a483 49px,#ea8e70 52px,#c7433f 57px,#b92631 60px,#b3192c 69px,#b1182b 209px,#b72230 260px,#c2383a 267px,#f2a281 286px,#f4a987 294px,#f09c7b 302px,#e48065 305px,#cc4b43 308px,#bf3338 310px,#b82531 314px,#bd2d35 320px,#cc4c44 325px,#df765e 345px,#d6604d 356px,#d7624e 420px,#e27b62 428px,#d86551 434px,#c03539 442px,#bf3338 462px,#d45b4b 470px,#d96753 493px,#f7b596 540px,#f6b191 604px,#f8bb9e 678px,#fff 679px,#fff 831px)"></div>
<div style="top:270px;height:3px;background:linear-gradient(90deg,#facbb3 0px,#f9c5ab 12px,#f3a584 17px,#eb9073 21px,#eb9376 28px,#e37f65 38px,#df745c 49px,#cf5347 53px,#b92631 58px,#b41c2d 65px,#af172a 187px,#b72230 261px,#c94741 275px,#e58267 290px,#e58267 301px,#da6a55 305px,#be3036 310px,#b92631 315px,#be3036 320px,#ce5045 326px,#de735c 344px,#d55e4c 359px,#d55e4c 420px,#e17860 428px,#d6604d 435px,#c13639 442px,#be3036 460px,#c7423f 465px,#d3594a 471px,#d86550 493px,#f6b394 540px,#f6af8f 604px,#f8bb9e 678px,#fff 679px,#fff 831px)"></div>
<div style="top:273px;height:3px;background:linear-gradient(90deg,#facab1 0px,#f9c5ab 11px,#f6b293 14px,#d6624f 19px,#cc4b43 22px,#c33a3b 50px,#b51e2e 58px,#b0172b 185px,#b72230 263px,#cf5347 296px,#cd4d44 304px,#bb2a34 311px,#bc2c35 319px,#cf5347 326px,#dd715a 345px,#d45c4b 359px,#d15648 377px,#d15648 396px,#d25849 420px,#dd7059 429px,#d25849 436px,#c13639 442px,#c13639 462px,#d15648 471px,#d6614e 493px,#f6b394 540px,#f6af8e 607px,#f7b99c 678px,#fff 679px,#fff 831px)"></div>
<div style="top:276px;height:3px;background:linear-gradient(90deg,#facab1 0px,#f9c4a9 11px,#f5ad8c 14px,#d45b4b 18px,#be3137 21px,#b92631 27px,#b1182b 114px,#b41c2d 255px,#be3137 302px,#bd2d35 319px,#d15749 326px,#db6b55 346px,#cc4c44 369px,#cd4d44 421px,#d7624f 429px,#ca4842 438px,#bf3338 444px,#c2383a 462px,#cf5347 472px,#d45c4b 492px,#f6b394 540px,#f6af8e 605px,#f7b99c 678px,#fff 679px,#fff 831px)"></div>
<div style="top:279px;height:3px;background:linear-gradient(90deg,#facab1 0px,#f9c4a9 11px,#f5ac8b 14px,#d25849 18px,#c13639 20px,#b72230 23px,#b0172b 174px,#b92732 307px,#be3036 320px,#d35a4a 326px,#d6604d 348px,#c6413e 372px,#c7433f 422px,#cc4c44 432px,#bf3338 446px,#c2383a 462px,#ce4f45 471px,#d35a4a 492px,#f6b191 540px,#f5ad8c 604px,#f7b99c 678px,#fff 679px,#fff 831px)"></div>
<div style="top:282px;height:3px;background:linear-gradient(90deg,#facab1 0px,#f9c4a9 11px,#f5ac8b 14px,#d25849 18px,#bb2a34 21px,#b61f2e 26px,#b2192b 198px,#b92732 308px,#bd2d35 320px,#d35a4a 326px,#d3594a 348px,#c43b3c 369px,#c2383a 438px,#bf3338 459px,#cd4d44 471px,#d25849 492px,#f6b090 540px,#f5ad8c 608px,#f7b799 678px,#fff 679px,#fff 831px)"></div>
<div style="top:285px;height:3px;background:linear-gradient(90deg,#facab1 0px,#f9c4a9 11px,#f5ac8b 14px,#d25849 18px,#bb2a34 21px,#b61f2e 26px,#b3192c 216px,#b72230 306px,#bd2d35 320px,#d35a4a 326px,#cf5246 349px,#c13739 368px,#c13639 461px,#cc4c44 473px,#d25849 493px,#f6af8e 541px,#f5ae8d 613px,#f7b799 678px,#fff 679px,#fff 831px)"></div>
<div style="top:288px;height:6px;background:linear-gradient(90deg,#facab1 0px,#f9c4a9 11px,#f5ac8b 14px,#d25849 18px,#bb2a34 21px,#b61f2e 26px,#b41b2d 212px,#b72230 306px,#be3036 321px,#d15749 326px,#ce4f45 347px,#c03438 365px,#c13639 462px,#cb4b43 476px,#d15648 493px,#f5ac8b 541px,#f5ac8b 609px,#f7b698 678px,#fff 679px,#fff 831px)"></div>
<div style="top:294px;height:6px;background:linear-gradient(90deg,#fbccb4 0px,#f9c4a9 11px,#f5ac8b 14px,#d25849 18px,#bb2a34 21px,#b61f2e 27px,#b51d2d 233px,#b72230 306px,#bd2e35 321px,#cf5246 326px,#cb4b43 346px,#bf3338 363px,#c13639 463px,#ca4842 481px,#d05447 494px,#f5aa88 541px,#f5ac8b 616px,#f7b596 678px,#fff 679px,#fff 831px)"></div>
<div style="top:300px;height:6px;background:linear-gradient(90deg,#fbccb4 0px,#f9c4a9 11px,#f5ac8b 14px,#d25849 18px,#bb2a34 21px,#b61f2e 27px,#b61f2e 303px,#bb2a34 317px,#bf3237 322px,#ce5045 327px,#c84540 347px,#bf3338 363px,#c2383a 465px,#cd4e45 493px,#f4a785 541px,#f5ab8a 622px,#f6b394 678px,#fff 679px,#fff 831px)"></div>
<div style="top:306px;height:6px;background:linear-gradient(90deg,#fbccb4 0px,#f9c4a9 11px,#f7b799 13px,#f09b7a 15px,#d25849 18px,#bb2b34 21px,#b61f2e 26px,#b72230 306px,#ba2833 317px,#bd2f36 322px,#cb4b43 327px,#c94741 344px,#bf3338 362px,#c13639 465px,#c84440 487px,#e27c62 518px,#f4a481 542px,#f5ac8b 633px,#f6b293 678px,#fff 679px,#fff 831px)"></div>
<div style="top:312px;height:6px;background:linear-gradient(90deg,#fbccb4 0px,#f9c3a9 11px,#f5aa89 14px,#d25849 18px,#c13639 20px,#b72230 24px,#b92632 308px,#bd2d35 322px,#cb4a43 328px,#c94741 344px,#bf3338 360px,#c13639 465px,#c94741 489px,#e6866a 524px,#f3a380 543px,#f5ac8b 643px,#f6b191 678px,#fff 679px,#fff 831px)"></div>
<div style="top:318px;height:6px;background:linear-gradient(90deg,#fbccb4 0px,#f9c4aa 10px,#f6b394 13px,#ed9576 15px,#d15548 18px,#be2f36 21px,#b92732 29px,#bb2a34 321px,#cb4942 329px,#c94741 344px,#bf3338 360px,#c2383a 466px,#cf5246 495px,#f2a17f 542px,#f5aa88 637px,#f6af8f 678px,#fff 679px,#fff 831px)"></div>
<div style="top:324px;height:6px;background:linear-gradient(90deg,#fbccb4 0px,#f9c2a7 10px,#f6ae8e 13px,#e17a61 16px,#c84440 19px,#be2f36 22px,#bd2d35 322px,#cc4c44 332px,#c6413e 347px,#bf3338 361px,#c13639 466px,#cb4942 486px,#df765e 515px,#f19f7d 542px,#f5aa88 648px,#f5ae8d 678px,#fff 679px,#fff 831px)"></div>
<div style="top:330px;height:8px;background:linear-gradient(90deg,#fbccb4 0px,#f9c4a9 9px,#f5ab8a 13px,#cf5246 18px,#c13639 21px,#bf3237 32px,#bd2d35 308px,#bd2d35 322px,#cc4c44 333px,#c53e3d 348px,#bf3338 362px,#c13639 466px,#cc4c43 486px,#e17860 517px,#f09d7c 543px,#f4a785 646px,#f5ac8b 678px,#fff 679px,#fff 831px)"></div>
</div>
<svg width="2120" height="1330" viewBox="0 0 2120 1330">
<defs><linearGradient id="cb" x1="0" y1="0" x2="0" y2="1"><stop offset="0.000" stop-color="#67001f"/><stop offset="0.050" stop-color="#8a0b25"/><stop offset="0.100" stop-color="#b1182b"/><stop offset="0.150" stop-color="#c43b3c"/><stop offset="0.200" stop-color="#d6604d"/><stop offset="0.250" stop-color="#e48066"/><stop offset="0.300" stop-color="#f3a481"/><stop offset="0.350" stop-color="#f8bfa4"/><stop offset="0.400" stop-color="#fddbc7"/><stop offset="0.450" stop-color="#fae9df"/><stop offset="0.500" stop-color="#f7f6f6"/><stop offset="0.550" stop-color="#e4eef4"/><stop offset="0.600" stop-color="#d1e5f0"/><stop offset="0.650" stop-color="#b1d5e7"/><stop offset="0.700" stop-color="#90c4dd"/><stop offset="0.750" stop-color="#6bacd1"/><stop offset="0.800" stop-color="#4393c3"/><stop offset="0.850" stop-color="#327cb7"/><stop offset="0.900" stop-color="#2065ab"/><stop offset="0.950" stop-color="#124984"/><stop offset="1.000" stop-color="#053061"/></linearGradient></defs>
<line x1="111.7" y1="292.0" x2="940.1" y2="292.0" stroke="#6c6c6c" stroke-width="2.4" stroke-dasharray="9 7"/>
<line x1="111.7" y1="224.5" x2="940.1" y2="224.5" stroke="#6c6c6c" stroke-width="2.4" stroke-dasharray="9 7"/>
<line x1="111.7" y1="157.0" x2="940.1" y2="157.0" stroke="#6c6c6c" stroke-width="2.4" stroke-dasharray="9 7"/>
<line x1="111.7" y1="89.5" x2="940.1" y2="89.5" stroke="#6c6c6c" stroke-width="2.4" stroke-dasharray="9 7"/>
<rect x="109.7" y="22.0" width="831.4" height="337.5" fill="none" stroke="#111" stroke-width="2"/>
<line x1="100.7" y1="359.5" x2="109.7" y2="359.5" stroke="#111" stroke-width="2"/>
<text x="93.7" y="369.2" text-anchor="end" font-size="27">1.83</text>
<line x1="100.7" y1="292.0" x2="109.7" y2="292.0" stroke="#111" stroke-width="2"/>
<text x="93.7" y="301.7" text-anchor="end" font-size="27">1.84</text>
<line x1="100.7" y1="224.5" x2="109.7" y2="224.5" stroke="#111" stroke-width="2"/>
<text x="93.7" y="234.2" text-anchor="end" font-size="27">1.85</text>
<line x1="100.7" y1="157.0" x2="109.7" y2="157.0" stroke="#111" stroke-width="2"/>
<text x="93.7" y="166.7" text-anchor="end" font-size="27">1.86</text>
<line x1="100.7" y1="89.5" x2="109.7" y2="89.5" stroke="#111" stroke-width="2"/>
<text x="93.7" y="99.2" text-anchor="end" font-size="27">1.87</text>
<line x1="100.7" y1="22.0" x2="109.7" y2="22.0" stroke="#111" stroke-width="2"/>
<text x="93.7" y="31.7" text-anchor="end" font-size="27">1.88</text>
<line x1="260.9" y1="359.5" x2="260.9" y2="368.5" stroke="#111" stroke-width="2"/>
<text x="260.9" y="401.7" text-anchor="middle" font-size="27">-5</text>
<line x1="449.8" y1="359.5" x2="449.8" y2="368.5" stroke="#111" stroke-width="2"/>
<text x="449.8" y="401.7" text-anchor="middle" font-size="27">0</text>
<line x1="638.8" y1="359.5" x2="638.8" y2="368.5" stroke="#111" stroke-width="2"/>
<text x="638.8" y="401.7" text-anchor="middle" font-size="27">5</text>
<line x1="827.7" y1="359.5" x2="827.7" y2="368.5" stroke="#111" stroke-width="2"/>
<text x="827.7" y="401.7" text-anchor="middle" font-size="27">10</text>
<text x="492.2" y="424.5" font-size="26"><tspan font-style="italic">V</tspan></text>
<text x="505.2" y="438.7" font-size="20">tot</text>
<text x="540.2" y="424.5" font-size="26">(V)</text>
<text x="0" y="0" transform="translate(31.7,187.5) rotate(-90)" text-anchor="middle" font-size="26.5">Energy (eV)</text>
<text x="1.0" y="31.0" font-size="42" font-weight="bold">a</text>
<text x="129.5" y="66.6" font-size="32"><tspan font-style="italic">E</tspan>=67 mV/nm</text>
<rect x="957.0" y="49.0" width="23" height="310.5" fill="url(#cb)" stroke="#333" stroke-width="0.8"/>
<text x="986.5" y="57.7" font-size="23">0.04</text>
<line x1="977.0" y1="126.6" x2="980.0" y2="126.6" stroke="#444" stroke-width="1"/>
<text x="986.5" y="135.3" font-size="23">0.02</text>
<line x1="977.0" y1="204.2" x2="980.0" y2="204.2" stroke="#444" stroke-width="1"/>
<text x="986.5" y="212.9" font-size="23">0</text>
<line x1="977.0" y1="281.9" x2="980.0" y2="281.9" stroke="#444" stroke-width="1"/>
<text x="986.5" y="290.6" font-size="23">-0.02</text>
<text x="986.5" y="368.2" font-size="23">-0.04</text>
<text x="950.2" y="23.5" font-size="25" textLength="66" lengthAdjust="spacing"><tspan>&#916;</tspan><tspan font-style="italic">R</tspan>/<tspan font-style="italic">R</tspan></text>
<text x="1016.7" y="36.5" font-size="20">0</text>
<line x1="111.7" y1="735.0" x2="940.1" y2="735.0" stroke="#6c6c6c" stroke-width="2.4" stroke-dasharray="9 7"/>
<line x1="111.7" y1="667.5" x2="940.1" y2="667.5" stroke="#6c6c6c" stroke-width="2.4" stroke-dasharray="9 7"/>
<line x1="111.7" y1="600.0" x2="940.1" y2="600.0" stroke="#6c6c6c" stroke-width="2.4" stroke-dasharray="9 7"/>
<line x1="111.7" y1="532.5" x2="940.1" y2="532.5" stroke="#6c6c6c" stroke-width="2.4" stroke-dasharray="9 7"/>
<rect x="109.7" y="465.0" width="831.4" height="337.5" fill="none" stroke="#111" stroke-width="2"/>
<line x1="100.7" y1="802.5" x2="109.7" y2="802.5" stroke="#111" stroke-width="2"/>
<text x="93.7" y="812.2" text-anchor="end" font-size="27">1.83</text>
<line x1="100.7" y1="735.0" x2="109.7" y2="735.0" stroke="#111" stroke-width="2"/>
<text x="93.7" y="744.7" text-anchor="end" font-size="27">1.84</text>
<line x1="100.7" y1="667.5" x2="109.7" y2="667.5" stroke="#111" stroke-width="2"/>
<text x="93.7" y="677.2" text-anchor="end" font-size="27">1.85</text>
<line x1="100.7" y1="600.0" x2="109.7" y2="600.0" stroke="#111" stroke-width="2"/>
<text x="93.7" y="609.7" text-anchor="end" font-size="27">1.86</text>
<line x1="100.7" y1="532.5" x2="109.7" y2="532.5" stroke="#111" stroke-width="2"/>
<text x="93.7" y="542.2" text-anchor="end" font-size="27">1.87</text>
<line x1="100.7" y1="465.0" x2="109.7" y2="465.0" stroke="#111" stroke-width="2"/>
<text x="93.7" y="474.7" text-anchor="end" font-size="27">1.88</text>
<line x1="260.9" y1="802.5" x2="260.9" y2="811.5" stroke="#111" stroke-width="2"/>
<text x="260.9" y="844.7" text-anchor="middle" font-size="27">-5</text>
<line x1="449.8" y1="802.5" x2="449.8" y2="811.5" stroke="#111" stroke-width="2"/>
<text x="449.8" y="844.7" text-anchor="middle" font-size="27">0</text>
<line x1="638.8" y1="802.5" x2="638.8" y2="811.5" stroke="#111" stroke-width="2"/>
<text x="638.8" y="844.7" text-anchor="middle" font-size="27">5</text>
<line x1="827.7" y1="802.5" x2="827.7" y2="811.5" stroke="#111" stroke-width="2"/>
<text x="827.7" y="844.7" text-anchor="middle" font-size="27">10</text>
<text x="492.2" y="867.5" font-size="26"><tspan font-style="italic">V</tspan></text>
<text x="505.2" y="881.7" font-size="20">tot</text>
<text x="540.2" y="867.5" font-size="26">(V)</text>
<text x="0" y="0" transform="translate(31.7,630.5) rotate(-90)" text-anchor="middle" font-size="26.5">Energy (eV)</text>
<text x="0.5" y="473.5" font-size="42" font-weight="bold">b</text>
<text x="130.0" y="507.2" font-size="32"><tspan font-style="italic">E</tspan>=43 mV/nm</text>
<rect x="957.0" y="492.0" width="23" height="310.5" fill="url(#cb)" stroke="#333" stroke-width="0.8"/>
<text x="986.5" y="500.7" font-size="23">0.04</text>
<line x1="977.0" y1="569.6" x2="980.0" y2="569.6" stroke="#444" stroke-width="1"/>
<text x="986.5" y="578.3" font-size="23">0.02</text>
<line x1="977.0" y1="647.2" x2="980.0" y2="647.2" stroke="#444" stroke-width="1"/>
<text x="986.5" y="656.0" font-size="23">0</text>
<line x1="977.0" y1="724.9" x2="980.0" y2="724.9" stroke="#444" stroke-width="1"/>
<text x="986.5" y="733.6" font-size="23">-0.02</text>
<text x="986.5" y="811.2" font-size="23">-0.04</text>
<text x="950.2" y="466.5" font-size="25" textLength="66" lengthAdjust="spacing"><tspan>&#916;</tspan><tspan font-style="italic">R</tspan>/<tspan font-style="italic">R</tspan></text>
<text x="1016.7" y="479.5" font-size="20">0</text>
<line x1="111.7" y1="1180.0" x2="940.1" y2="1180.0" stroke="#6c6c6c" stroke-width="2.4" stroke-dasharray="9 7"/>
<line x1="111.7" y1="1112.5" x2="940.1" y2="1112.5" stroke="#6c6c6c" stroke-width="2.4" stroke-dasharray="9 7"/>
<line x1="111.7" y1="1045.0" x2="940.1" y2="1045.0" stroke="#6c6c6c" stroke-width="2.4" stroke-dasharray="9 7"/>
<line x1="111.7" y1="977.5" x2="940.1" y2="977.5" stroke="#6c6c6c" stroke-width="2.4" stroke-dasharray="9 7"/>
<rect x="109.7" y="910.0" width="831.4" height="337.5" fill="none" stroke="#111" stroke-width="2"/>
<line x1="100.7" y1="1247.5" x2="109.7" y2="1247.5" stroke="#111" stroke-width="2"/>
<text x="93.7" y="1257.2" text-anchor="end" font-size="27">1.83</text>
<line x1="100.7" y1="1180.0" x2="109.7" y2="1180.0" stroke="#111" stroke-width="2"/>
<text x="93.7" y="1189.7" text-anchor="end" font-size="27">1.84</text>
<line x1="100.7" y1="1112.5" x2="109.7" y2="1112.5" stroke="#111" stroke-width="2"/>
<text x="93.7" y="1122.2" text-anchor="end" font-size="27">1.85</text>
<line x1="100.7" y1="1045.0" x2="109.7" y2="1045.0" stroke="#111" stroke-width="2"/>
<text x="93.7" y="1054.7" text-anchor="end" font-size="27">1.86</text>
<line x1="100.7" y1="977.5" x2="109.7" y2="977.5" stroke="#111" stroke-width="2"/>
<text x="93.7" y="987.2" text-anchor="end" font-size="27">1.87</text>
<line x1="100.7" y1="910.0" x2="109.7" y2="910.0" stroke="#111" stroke-width="2"/>
<text x="93.7" y="919.7" text-anchor="end" font-size="27">1.88</text>
<line x1="260.9" y1="1247.5" x2="260.9" y2="1256.5" stroke="#111" stroke-width="2"/>
<text x="260.9" y="1289.7" text-anchor="middle" font-size="27">-5</text>
<line x1="449.8" y1="1247.5" x2="449.8" y2="1256.5" stroke="#111" stroke-width="2"/>
<text x="449.8" y="1289.7" text-anchor="middle" font-size="27">0</text>
<line x1="638.8" y1="1247.5" x2="638.8" y2="1256.5" stroke="#111" stroke-width="2"/>
<text x="638.8" y="1289.7" text-anchor="middle" font-size="27">5</text>
<line x1="827.7" y1="1247.5" x2="827.7" y2="1256.5" stroke="#111" stroke-width="2"/>
<text x="827.7" y="1289.7" text-anchor="middle" font-size="27">10</text>
<text x="492.2" y="1312.5" font-size="26"><tspan font-style="italic">V</tspan></text>
<text x="505.2" y="1326.7" font-size="20">tot</text>
<text x="540.2" y="1312.5" font-size="26">(V)</text>
<text x="0" y="0" transform="translate(31.7,1075.5) rotate(-90)" text-anchor="middle" font-size="26.5">Energy (eV)</text>
<text x="0.5" y="923.9" font-size="42" font-weight="bold">c</text>
<text x="130.0" y="953.3" font-size="32"><tspan font-style="italic">E</tspan>=18 mV/nm</text>
<rect x="957.0" y="937.0" width="23" height="310.5" fill="url(#cb)" stroke="#333" stroke-width="0.8"/>
<text x="986.5" y="945.7" font-size="23">0.04</text>
<line x1="977.0" y1="1014.6" x2="980.0" y2="1014.6" stroke="#444" stroke-width="1"/>
<text x="986.5" y="1023.3" font-size="23">0.02</text>
<line x1="977.0" y1="1092.2" x2="980.0" y2="1092.2" stroke="#444" stroke-width="1"/>
<text x="986.5" y="1101.0" font-size="23">0</text>
<line x1="977.0" y1="1169.9" x2="980.0" y2="1169.9" stroke="#444" stroke-width="1"/>
<text x="986.5" y="1178.6" font-size="23">-0.02</text>
<text x="986.5" y="1256.2" font-size="23">-0.04</text>
<text x="950.2" y="911.5" font-size="25" textLength="66" lengthAdjust="spacing"><tspan>&#916;</tspan><tspan font-style="italic">R</tspan>/<tspan font-style="italic">R</tspan></text>
<text x="1016.7" y="924.5" font-size="20">0</text>
<line x1="1187.5" y1="292.0" x2="2015.9" y2="292.0" stroke="#6c6c6c" stroke-width="2.4" stroke-dasharray="9 7"/>
<line x1="1187.5" y1="224.5" x2="2015.9" y2="224.5" stroke="#6c6c6c" stroke-width="2.4" stroke-dasharray="9 7"/>
<line x1="1187.5" y1="157.0" x2="2015.9" y2="157.0" stroke="#6c6c6c" stroke-width="2.4" stroke-dasharray="9 7"/>
<line x1="1187.5" y1="89.5" x2="2015.9" y2="89.5" stroke="#6c6c6c" stroke-width="2.4" stroke-dasharray="9 7"/>
<rect x="1185.5" y="22.0" width="831.4" height="337.5" fill="none" stroke="#111" stroke-width="2"/>
<line x1="1176.5" y1="359.5" x2="1185.5" y2="359.5" stroke="#111" stroke-width="2"/>
<text x="1169.5" y="369.2" text-anchor="end" font-size="27">1.83</text>
<line x1="1176.5" y1="292.0" x2="1185.5" y2="292.0" stroke="#111" stroke-width="2"/>
<text x="1169.5" y="301.7" text-anchor="end" font-size="27">1.84</text>
<line x1="1176.5" y1="224.5" x2="1185.5" y2="224.5" stroke="#111" stroke-width="2"/>
<text x="1169.5" y="234.2" text-anchor="end" font-size="27">1.85</text>
<line x1="1176.5" y1="157.0" x2="1185.5" y2="157.0" stroke="#111" stroke-width="2"/>
<text x="1169.5" y="166.7" text-anchor="end" font-size="27">1.86</text>
<line x1="1176.5" y1="89.5" x2="1185.5" y2="89.5" stroke="#111" stroke-width="2"/>
<text x="1169.5" y="99.2" text-anchor="end" font-size="27">1.87</text>
<line x1="1176.5" y1="22.0" x2="1185.5" y2="22.0" stroke="#111" stroke-width="2"/>
<text x="1169.5" y="31.7" text-anchor="end" font-size="27">1.88</text>
<line x1="1336.7" y1="359.5" x2="1336.7" y2="368.5" stroke="#111" stroke-width="2"/>
<text x="1336.7" y="401.7" text-anchor="middle" font-size="27">-5</text>
<line x1="1525.6" y1="359.5" x2="1525.6" y2="368.5" stroke="#111" stroke-width="2"/>
<text x="1525.6" y="401.7" text-anchor="middle" font-size="27">0</text>
<line x1="1714.6" y1="359.5" x2="1714.6" y2="368.5" stroke="#111" stroke-width="2"/>
<text x="1714.6" y="401.7" text-anchor="middle" font-size="27">5</text>
<line x1="1903.5" y1="359.5" x2="1903.5" y2="368.5" stroke="#111" stroke-width="2"/>
<text x="1903.5" y="401.7" text-anchor="middle" font-size="27">10</text>
<text x="1568.0" y="424.5" font-size="26"><tspan font-style="italic">V</tspan></text>
<text x="1581.0" y="438.7" font-size="20">tot</text>
<text x="1616.0" y="424.5" font-size="26">(V)</text>
<text x="0" y="0" transform="translate(1107.5,187.5) rotate(-90)" text-anchor="middle" font-size="26.5">Energy (eV)</text>
<text x="1074.1" y="31.0" font-size="42" font-weight="bold">d</text>
<text x="1207.9" y="66.6" font-size="32"><tspan font-style="italic">E</tspan>=0 mV/nm</text>
<rect x="2032.8" y="49.0" width="23" height="310.5" fill="url(#cb)" stroke="#333" stroke-width="0.8"/>
<text x="2062.3" y="57.7" font-size="23">0.04</text>
<line x1="2052.8" y1="126.6" x2="2055.8" y2="126.6" stroke="#444" stroke-width="1"/>
<text x="2062.3" y="135.3" font-size="23">0.02</text>
<line x1="2052.8" y1="204.2" x2="2055.8" y2="204.2" stroke="#444" stroke-width="1"/>
<text x="2062.3" y="212.9" font-size="23">0</text>
<line x1="2052.8" y1="281.9" x2="2055.8" y2="281.9" stroke="#444" stroke-width="1"/>
<text x="2062.3" y="290.6" font-size="23">-0.02</text>
<text x="2062.3" y="368.2" font-size="23">-0.04</text>
<text x="2026.0" y="23.5" font-size="25" textLength="66" lengthAdjust="spacing"><tspan>&#916;</tspan><tspan font-style="italic">R</tspan>/<tspan font-style="italic">R</tspan></text>
<text x="2092.5" y="36.5" font-size="20">0</text>
<line x1="1187.5" y1="735.0" x2="2015.9" y2="735.0" stroke="#6c6c6c" stroke-width="2.4" stroke-dasharray="9 7"/>
<line x1="1187.5" y1="667.5" x2="2015.9" y2="667.5" stroke="#6c6c6c" stroke-width="2.4" stroke-dasharray="9 7"/>
<line x1="1187.5" y1="600.0" x2="2015.9" y2="600.0" stroke="#6c6c6c" stroke-width="2.4" stroke-dasharray="9 7"/>
<line x1="1187.5" y1="532.5" x2="2015.9" y2="532.5" stroke="#6c6c6c" stroke-width="2.4" stroke-dasharray="9 7"/>
<rect x="1185.5" y="465.0" width="831.4" height="337.5" fill="none" stroke="#111" stroke-width="2"/>
<line x1="1176.5" y1="802.5" x2="1185.5" y2="802.5" stroke="#111" stroke-width="2"/>
<text x="1169.5" y="812.2" text-anchor="end" font-size="27">1.83</text>
<line x1="1176.5" y1="735.0" x2="1185.5" y2="735.0" stroke="#111" stroke-width="2"/>
<text x="1169.5" y="744.7" text-anchor="end" font-size="27">1.84</text>
<line x1="1176.5" y1="667.5" x2="1185.5" y2="667.5" stroke="#111" stroke-width="2"/>
<text x="1169.5" y="677.2" text-anchor="end" font-size="27">1.85</text>
<line x1="1176.5" y1="600.0" x2="1185.5" y2="600.0" stroke="#111" stroke-width="2"/>
<text x="1169.5" y="609.7" text-anchor="end" font-size="27">1.86</text>
<line x1="1176.5" y1="532.5" x2="1185.5" y2="532.5" stroke="#111" stroke-width="2"/>
<text x="1169.5" y="542.2" text-anchor="end" font-size="27">1.87</text>
<line x1="1176.5" y1="465.0" x2="1185.5" y2="465.0" stroke="#111" stroke-width="2"/>
<text x="1169.5" y="474.7" text-anchor="end" font-size="27">1.88</text>
<line x1="1336.7" y1="802.5" x2="1336.7" y2="811.5" stroke="#111" stroke-width="2"/>
<text x="1336.7" y="844.7" text-anchor="middle" font-size="27">-5</text>
<line x1="1525.6" y1="802.5" x2="1525.6" y2="811.5" stroke="#111" stroke-width="2"/>
<text x="1525.6" y="844.7" text-anchor="middle" font-size="27">0</text>
<line x1="1714.6" y1="802.5" x2="1714.6" y2="811.5" stroke="#111" stroke-width="2"/>
<text x="1714.6" y="844.7" text-anchor="middle" font-size="27">5</text>
<line x1="1903.5" y1="802.5" x2="1903.5" y2="811.5" stroke="#111" stroke-width="2"/>
<text x="1903.5" y="844.7" text-anchor="middle" font-size="27">10</text>
<text x="1568.0" y="867.5" font-size="26"><tspan font-style="italic">V</tspan></text>
<text x="1581.0" y="881.7" font-size="20">tot</text>
<text x="1616.0" y="867.5" font-size="26">(V)</text>
<text x="0" y="0" transform="translate(1107.5,630.5) rotate(-90)" text-anchor="middle" font-size="26.5">Energy (eV)</text>
<text x="1073.6" y="473.8" font-size="42" font-weight="bold">e</text>
<text x="1212.8" y="506.6" font-size="32"><tspan font-style="italic">E</tspan>=-18 mV/nm</text>
<rect x="2032.8" y="492.0" width="23" height="310.5" fill="url(#cb)" stroke="#333" stroke-width="0.8"/>
<text x="2062.3" y="500.7" font-size="23">0.04</text>
<line x1="2052.8" y1="569.6" x2="2055.8" y2="569.6" stroke="#444" stroke-width="1"/>
<text x="2062.3" y="578.3" font-size="23">0.02</text>
<line x1="2052.8" y1="647.2" x2="2055.8" y2="647.2" stroke="#444" stroke-width="1"/>
<text x="2062.3" y="656.0" font-size="23">0</text>
<line x1="2052.8" y1="724.9" x2="2055.8" y2="724.9" stroke="#444" stroke-width="1"/>
<text x="2062.3" y="733.6" font-size="23">-0.02</text>
<text x="2062.3" y="811.2" font-size="23">-0.04</text>
<text x="2026.0" y="466.5" font-size="25" textLength="66" lengthAdjust="spacing"><tspan>&#916;</tspan><tspan font-style="italic">R</tspan>/<tspan font-style="italic">R</tspan></text>
<text x="2092.5" y="479.5" font-size="20">0</text>
<line x1="1187.5" y1="1180.0" x2="2015.9" y2="1180.0" stroke="#6c6c6c" stroke-width="2.4" stroke-dasharray="9 7"/>
<line x1="1187.5" y1="1112.5" x2="2015.9" y2="1112.5" stroke="#6c6c6c" stroke-width="2.4" stroke-dasharray="9 7"/>
<line x1="1187.5" y1="1045.0" x2="2015.9" y2="1045.0" stroke="#6c6c6c" stroke-width="2.4" stroke-dasharray="9 7"/>
<line x1="1187.5" y1="977.5" x2="2015.9" y2="977.5" stroke="#6c6c6c" stroke-width="2.4" stroke-dasharray="9 7"/>
<rect x="1185.5" y="910.0" width="831.4" height="337.5" fill="none" stroke="#111" stroke-width="2"/>
<line x1="1176.5" y1="1247.5" x2="1185.5" y2="1247.5" stroke="#111" stroke-width="2"/>
<text x="1169.5" y="1257.2" text-anchor="end" font-size="27">1.83</text>
<line x1="1176.5" y1="1180.0" x2="1185.5" y2="1180.0" stroke="#111" stroke-width="2"/>
<text x="1169.5" y="1189.7" text-anchor="end" font-size="27">1.84</text>
<line x1="1176.5" y1="1112.5" x2="1185.5" y2="1112.5" stroke="#111" stroke-width="2"/>
<text x="1169.5" y="1122.2" text-anchor="end" font-size="27">1.85</text>
<line x1="1176.5" y1="1045.0" x2="1185.5" y2="1045.0" stroke="#111" stroke-width="2"/>
<text x="1169.5" y="1054.7" text-anchor="end" font-size="27">1.86</text>
<line x1="1176.5" y1="977.5" x2="1185.5" y2="977.5" stroke="#111" stroke-width="2"/>
<text x="1169.5" y="987.2" text-anchor="end" font-size="27">1.87</text>
<line x1="1176.5" y1="910.0" x2="1185.5" y2="910.0" stroke="#111" stroke-width="2"/>
<text x="1169.5" y="919.7" text-anchor="end" font-size="27">1.88</text>
<line x1="1336.7" y1="1247.5" x2="1336.7" y2="1256.5" stroke="#111" stroke-width="2"/>
<text x="1336.7" y="1289.7" text-anchor="middle" font-size="27">-5</text>
<line x1="1525.6" y1="1247.5" x2="1525.6" y2="1256.5" stroke="#111" stroke-width="2"/>
<text x="1525.6" y="1289.7" text-anchor="middle" font-size="27">0</text>
<line x1="1714.6" y1="1247.5" x2="1714.6" y2="1256.5" stroke="#111" stroke-width="2"/>
<text x="1714.6" y="1289.7" text-anchor="middle" font-size="27">5</text>
<line x1="1903.5" y1="1247.5" x2="1903.5" y2="1256.5" stroke="#111" stroke-width="2"/>
<text x="1903.5" y="1289.7" text-anchor="middle" font-size="27">10</text>
<text x="1568.0" y="1312.5" font-size="26"><tspan font-style="italic">V</tspan></text>
<text x="1581.0" y="1326.7" font-size="20">tot</text>
<text x="1616.0" y="1312.5" font-size="26">(V)</text>
<text x="0" y="0" transform="translate(1107.5,1075.5) rotate(-90)" text-anchor="middle" font-size="26.5">Energy (eV)</text>
<text x="1074.4" y="922.9" font-size="42" font-weight="bold">f</text>
<text x="1212.8" y="953.3" font-size="32"><tspan font-style="italic">E</tspan>=-43 mV/nm</text>
<rect x="2032.8" y="937.0" width="23" height="310.5" fill="url(#cb)" stroke="#333" stroke-width="0.8"/>
<text x="2062.3" y="945.7" font-size="23">0.04</text>
<line x1="2052.8" y1="1014.6" x2="2055.8" y2="1014.6" stroke="#444" stroke-width="1"/>
<text x="2062.3" y="1023.3" font-size="23">0.02</text>
<line x1="2052.8" y1="1092.2" x2="2055.8" y2="1092.2" stroke="#444" stroke-width="1"/>
<text x="2062.3" y="1101.0" font-size="23">0</text>
<line x1="2052.8" y1="1169.9" x2="2055.8" y2="1169.9" stroke="#444" stroke-width="1"/>
<text x="2062.3" y="1178.6" font-size="23">-0.02</text>
<text x="2062.3" y="1256.2" font-size="23">-0.04</text>
<text x="2026.0" y="911.5" font-size="25" textLength="66" lengthAdjust="spacing"><tspan>&#916;</tspan><tspan font-style="italic">R</tspan>/<tspan font-style="italic">R</tspan></text>
<text x="2092.5" y="924.5" font-size="20">0</text>
</svg>
</body></html>
